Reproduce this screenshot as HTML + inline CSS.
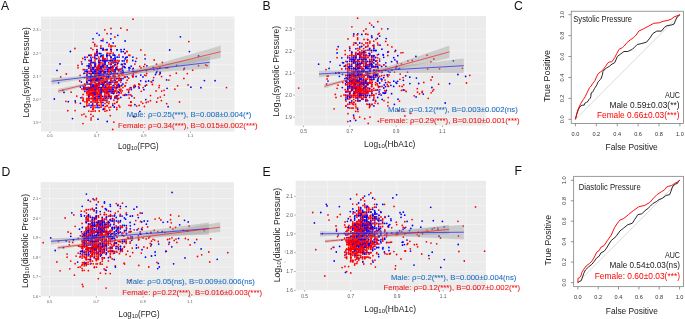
<!DOCTYPE html>
<html><head><meta charset="utf-8"><style>html,body{margin:0;padding:0;background:#fff;width:685px;height:319px;overflow:hidden}svg{display:block;filter:blur(0.35px)}</style></head>
<body>
<svg width="685" height="319" viewBox="0 0 685 319" font-family='"Liberation Sans", sans-serif'>
<rect width="685" height="319" fill="#FFFFFF"/>
<text x="1" y="10" font-size="12.2" fill="#111">A</text>
<text x="262.5" y="10" font-size="12.2" fill="#111">B</text>
<text x="514" y="10" font-size="12.2" fill="#111">C</text>
<text x="1.4" y="176" font-size="12.2" fill="#111">D</text>
<text x="262.6" y="176" font-size="12.2" fill="#111">E</text>
<text x="514.6" y="175" font-size="12.2" fill="#111">F</text>
<rect x="41" y="16.6" width="193.5" height="114.9" fill="#EBEBEB"/>
<line x1="73.4" y1="16.6" x2="73.4" y2="131.5" stroke="#F7F7F7" stroke-width="0.6"/>
<line x1="120.2" y1="16.6" x2="120.2" y2="131.5" stroke="#F7F7F7" stroke-width="0.6"/>
<line x1="167.0" y1="16.6" x2="167.0" y2="131.5" stroke="#F7F7F7" stroke-width="0.6"/>
<line x1="213.8" y1="16.6" x2="213.8" y2="131.5" stroke="#F7F7F7" stroke-width="0.6"/>
<line x1="41" y1="18.5" x2="234.5" y2="18.5" stroke="#F7F7F7" stroke-width="0.6"/>
<line x1="41" y1="41.5" x2="234.5" y2="41.5" stroke="#F7F7F7" stroke-width="0.6"/>
<line x1="41" y1="64.6" x2="234.5" y2="64.6" stroke="#F7F7F7" stroke-width="0.6"/>
<line x1="41" y1="87.6" x2="234.5" y2="87.6" stroke="#F7F7F7" stroke-width="0.6"/>
<line x1="41" y1="110.7" x2="234.5" y2="110.7" stroke="#F7F7F7" stroke-width="0.6"/>
<line x1="50.0" y1="16.6" x2="50.0" y2="131.5" stroke="#F7F7F7" stroke-width="0.7"/>
<line x1="96.8" y1="16.6" x2="96.8" y2="131.5" stroke="#F7F7F7" stroke-width="0.7"/>
<line x1="143.6" y1="16.6" x2="143.6" y2="131.5" stroke="#F7F7F7" stroke-width="0.7"/>
<line x1="190.4" y1="16.6" x2="190.4" y2="131.5" stroke="#F7F7F7" stroke-width="0.7"/>
<line x1="41" y1="30.0" x2="234.5" y2="30.0" stroke="#F7F7F7" stroke-width="0.7"/>
<line x1="41" y1="53.0" x2="234.5" y2="53.0" stroke="#F7F7F7" stroke-width="0.7"/>
<line x1="41" y1="76.1" x2="234.5" y2="76.1" stroke="#F7F7F7" stroke-width="0.7"/>
<line x1="41" y1="99.1" x2="234.5" y2="99.1" stroke="#F7F7F7" stroke-width="0.7"/>
<line x1="41" y1="122.2" x2="234.5" y2="122.2" stroke="#F7F7F7" stroke-width="0.7"/>
<path d="M117.1 87.3h0M117.7 95.6h0M95.2 96.7h0" stroke="#FF0000" stroke-width="1.76" stroke-linecap="round" fill="none"/>
<path d="M116.9 49.8h0" stroke="#0000FF" stroke-width="1.76" stroke-linecap="round" fill="none"/>
<path d="M94.9 64.1h0M98.8 102.3h0" stroke="#FF0000" stroke-width="1.76" stroke-linecap="round" fill="none"/>
<path d="M97.1 93.0h0" stroke="#0000FF" stroke-width="1.76" stroke-linecap="round" fill="none"/>
<path d="M93.1 87.5h0" stroke="#FF0000" stroke-width="1.76" stroke-linecap="round" fill="none"/>
<path d="M89.2 89.3h0M97.2 105.7h0" stroke="#0000FF" stroke-width="1.76" stroke-linecap="round" fill="none"/>
<path d="M113.0 80.6h0M112.8 93.2h0M92.8 73.0h0M99.2 93.0h0M94.9 74.9h0M96.9 71.5h0" stroke="#FF0000" stroke-width="1.76" stroke-linecap="round" fill="none"/>
<path d="M98.9 96.3h0" stroke="#0000FF" stroke-width="1.76" stroke-linecap="round" fill="none"/>
<path d="M90.8 75.3h0M95.1 83.9h0M112.9 46.1h0" stroke="#FF0000" stroke-width="1.76" stroke-linecap="round" fill="none"/>
<path d="M107.0 60.5h0" stroke="#0000FF" stroke-width="1.76" stroke-linecap="round" fill="none"/>
<path d="M102.8 78.8h0M89.2 90.9h0" stroke="#FF0000" stroke-width="1.76" stroke-linecap="round" fill="none"/>
<path d="M145.8 81.5h0" stroke="#0000FF" stroke-width="1.76" stroke-linecap="round" fill="none"/>
<path d="M86.8 98.6h0M131.0 101.9h0M134.9 64.1h0M108.8 94.6h0" stroke="#FF0000" stroke-width="1.76" stroke-linecap="round" fill="none"/>
<path d="M89.0 91.2h0" stroke="#0000FF" stroke-width="1.76" stroke-linecap="round" fill="none"/>
<path d="M115.0 87.4h0" stroke="#FF0000" stroke-width="1.76" stroke-linecap="round" fill="none"/>
<path d="M81.4 82.1h0" stroke="#0000FF" stroke-width="1.76" stroke-linecap="round" fill="none"/>
<path d="M166.0 67.9h0" stroke="#FF0000" stroke-width="1.76" stroke-linecap="round" fill="none"/>
<path d="M97.2 85.9h0" stroke="#0000FF" stroke-width="1.76" stroke-linecap="round" fill="none"/>
<path d="M151.1 81.7h0" stroke="#FF0000" stroke-width="1.76" stroke-linecap="round" fill="none"/>
<path d="M97.0 49.7h0" stroke="#0000FF" stroke-width="1.76" stroke-linecap="round" fill="none"/>
<path d="M92.9 89.6h0M93.1 109.0h0M89.1 100.5h0" stroke="#FF0000" stroke-width="1.76" stroke-linecap="round" fill="none"/>
<path d="M96.9 67.8h0M113.2 62.6h0" stroke="#0000FF" stroke-width="1.76" stroke-linecap="round" fill="none"/>
<path d="M95.1 85.6h0M91.0 80.3h0" stroke="#FF0000" stroke-width="1.76" stroke-linecap="round" fill="none"/>
<path d="M85.8 88.3h0" stroke="#0000FF" stroke-width="1.76" stroke-linecap="round" fill="none"/>
<path d="M99.2 96.6h0" stroke="#FF0000" stroke-width="1.76" stroke-linecap="round" fill="none"/>
<path d="M111.2 49.8h0" stroke="#0000FF" stroke-width="1.76" stroke-linecap="round" fill="none"/>
<path d="M136.6 106.1h0M88.8 91.0h0" stroke="#FF0000" stroke-width="1.76" stroke-linecap="round" fill="none"/>
<path d="M106.9 60.8h0" stroke="#0000FF" stroke-width="1.76" stroke-linecap="round" fill="none"/>
<path d="M87.2 91.3h0M98.8 82.5h0" stroke="#FF0000" stroke-width="1.76" stroke-linecap="round" fill="none"/>
<path d="M99.2 74.7h0M97.1 80.7h0" stroke="#0000FF" stroke-width="1.76" stroke-linecap="round" fill="none"/>
<path d="M99.2 91.3h0M94.9 76.8h0" stroke="#FF0000" stroke-width="1.76" stroke-linecap="round" fill="none"/>
<path d="M58.6 82.8h0" stroke="#0000FF" stroke-width="1.76" stroke-linecap="round" fill="none"/>
<path d="M62.8 90.3h0M106.9 94.9h0" stroke="#FF0000" stroke-width="1.76" stroke-linecap="round" fill="none"/>
<path d="M90.9 85.9h0" stroke="#0000FF" stroke-width="1.76" stroke-linecap="round" fill="none"/>
<path d="M97.2 66.1h0M92.8 89.1h0M105.0 80.2h0M156.5 64.2h0" stroke="#FF0000" stroke-width="1.76" stroke-linecap="round" fill="none"/>
<path d="M90.9 80.2h0" stroke="#0000FF" stroke-width="1.76" stroke-linecap="round" fill="none"/>
<path d="M75.5 102.7h0M109.2 82.3h0M110.8 76.8h0M92.9 91.1h0M111.2 87.5h0" stroke="#FF0000" stroke-width="1.76" stroke-linecap="round" fill="none"/>
<path d="M90.8 89.5h0" stroke="#0000FF" stroke-width="1.76" stroke-linecap="round" fill="none"/>
<path d="M119.0 80.7h0M107.1 93.2h0M102.8 100.3h0M93.1 100.4h0" stroke="#FF0000" stroke-width="1.76" stroke-linecap="round" fill="none"/>
<path d="M90.8 76.7h0M60.0 63.9h0" stroke="#0000FF" stroke-width="1.76" stroke-linecap="round" fill="none"/>
<path d="M125.2 94.5h0M130.8 105.6h0M91.0 69.5h0M87.2 101.7h0M114.3 93.0h0M92.8 73.2h0M109.1 101.8h0M90.8 76.6h0M87.0 105.8h0" stroke="#FF0000" stroke-width="1.76" stroke-linecap="round" fill="none"/>
<path d="M111.1 72.9h0M85.2 85.7h0" stroke="#0000FF" stroke-width="1.76" stroke-linecap="round" fill="none"/>
<path d="M94.8 91.4h0" stroke="#FF0000" stroke-width="1.76" stroke-linecap="round" fill="none"/>
<path d="M103.1 67.6h0" stroke="#0000FF" stroke-width="1.76" stroke-linecap="round" fill="none"/>
<path d="M115.0 73.1h0M205.7 64.9h0" stroke="#FF0000" stroke-width="1.76" stroke-linecap="round" fill="none"/>
<path d="M88.8 68.0h0M106.8 55.2h0M94.9 92.8h0M110.9 89.4h0M95.2 55.1h0" stroke="#0000FF" stroke-width="1.76" stroke-linecap="round" fill="none"/>
<path d="M107.2 73.5h0" stroke="#FF0000" stroke-width="1.76" stroke-linecap="round" fill="none"/>
<path d="M107.2 121.5h0" stroke="#0000FF" stroke-width="1.76" stroke-linecap="round" fill="none"/>
<path d="M91.2 55.2h0M118.7 69.8h0M105.0 59.0h0M124.2 67.2h0M116.1 89.0h0M106.9 75.1h0M126.9 51.4h0" stroke="#FF0000" stroke-width="1.76" stroke-linecap="round" fill="none"/>
<path d="M184.3 68.3h0" stroke="#0000FF" stroke-width="1.76" stroke-linecap="round" fill="none"/>
<path d="M101.2 87.6h0M111.0 46.0h0M93.2 96.5h0" stroke="#FF0000" stroke-width="1.76" stroke-linecap="round" fill="none"/>
<path d="M91.0 80.4h0" stroke="#0000FF" stroke-width="1.76" stroke-linecap="round" fill="none"/>
<path d="M192.7 70.2h0" stroke="#FF0000" stroke-width="1.76" stroke-linecap="round" fill="none"/>
<path d="M105.0 64.3h0" stroke="#0000FF" stroke-width="1.76" stroke-linecap="round" fill="none"/>
<path d="M112.8 85.8h0" stroke="#FF0000" stroke-width="1.76" stroke-linecap="round" fill="none"/>
<path d="M104.9 73.3h0" stroke="#0000FF" stroke-width="1.76" stroke-linecap="round" fill="none"/>
<path d="M88.9 94.8h0M99.0 62.5h0M95.0 101.9h0M118.6 61.6h0M86.9 92.9h0" stroke="#FF0000" stroke-width="1.76" stroke-linecap="round" fill="none"/>
<path d="M100.8 98.6h0" stroke="#0000FF" stroke-width="1.76" stroke-linecap="round" fill="none"/>
<path d="M91.1 111.3h0" stroke="#FF0000" stroke-width="1.76" stroke-linecap="round" fill="none"/>
<path d="M124.1 60.9h0" stroke="#0000FF" stroke-width="1.76" stroke-linecap="round" fill="none"/>
<path d="M99.2 75.1h0M98.8 74.9h0" stroke="#FF0000" stroke-width="1.76" stroke-linecap="round" fill="none"/>
<path d="M91.1 92.9h0" stroke="#0000FF" stroke-width="1.76" stroke-linecap="round" fill="none"/>
<path d="M118.9 105.4h0M117.3 69.3h0" stroke="#FF0000" stroke-width="1.76" stroke-linecap="round" fill="none"/>
<path d="M107.0 55.4h0" stroke="#0000FF" stroke-width="1.76" stroke-linecap="round" fill="none"/>
<path d="M109.1 85.9h0M74.9 48.5h0M110.9 46.0h0M108.6 78.7h0" stroke="#FF0000" stroke-width="1.76" stroke-linecap="round" fill="none"/>
<path d="M123.2 51.6h0M99.1 73.3h0M115.2 82.2h0M111.2 78.6h0M99.2 94.7h0M75.2 101.0h0M119.1 87.3h0" stroke="#0000FF" stroke-width="1.76" stroke-linecap="round" fill="none"/>
<path d="M121.0 85.9h0M91.2 89.1h0" stroke="#FF0000" stroke-width="1.76" stroke-linecap="round" fill="none"/>
<path d="M169.7 50.0h0M106.9 87.5h0" stroke="#0000FF" stroke-width="1.76" stroke-linecap="round" fill="none"/>
<path d="M146.7 73.5h0" stroke="#FF0000" stroke-width="1.76" stroke-linecap="round" fill="none"/>
<path d="M94.9 82.2h0M122.7 70.2h0" stroke="#0000FF" stroke-width="1.76" stroke-linecap="round" fill="none"/>
<path d="M121.0 79.9h0M96.8 85.9h0M97.0 84.1h0M128.7 90.9h0" stroke="#FF0000" stroke-width="1.76" stroke-linecap="round" fill="none"/>
<path d="M113.0 87.4h0" stroke="#0000FF" stroke-width="1.76" stroke-linecap="round" fill="none"/>
<path d="M97.0 73.3h0" stroke="#FF0000" stroke-width="1.76" stroke-linecap="round" fill="none"/>
<path d="M89.1 93.1h0" stroke="#0000FF" stroke-width="1.76" stroke-linecap="round" fill="none"/>
<path d="M105.0 84.3h0M148.1 101.8h0" stroke="#FF0000" stroke-width="1.76" stroke-linecap="round" fill="none"/>
<path d="M148.6 81.0h0M111.1 73.3h0M80.9 97.8h0M100.8 74.8h0M103.0 55.2h0M189.4 51.6h0M121.4 64.4h0" stroke="#0000FF" stroke-width="1.76" stroke-linecap="round" fill="none"/>
<path d="M88.9 94.5h0" stroke="#FF0000" stroke-width="1.76" stroke-linecap="round" fill="none"/>
<path d="M101.0 93.1h0" stroke="#0000FF" stroke-width="1.76" stroke-linecap="round" fill="none"/>
<path d="M110.3 74.5h0M118.8 71.2h0M100.8 67.9h0M127.1 89.6h0" stroke="#FF0000" stroke-width="1.76" stroke-linecap="round" fill="none"/>
<path d="M131.2 66.2h0M97.0 51.9h0" stroke="#0000FF" stroke-width="1.76" stroke-linecap="round" fill="none"/>
<path d="M95.2 85.6h0" stroke="#FF0000" stroke-width="1.76" stroke-linecap="round" fill="none"/>
<path d="M96.8 89.7h0" stroke="#0000FF" stroke-width="1.76" stroke-linecap="round" fill="none"/>
<path d="M97.2 98.1h0M76.8 96.1h0M104.9 87.8h0" stroke="#FF0000" stroke-width="1.76" stroke-linecap="round" fill="none"/>
<path d="M90.9 57.1h0" stroke="#0000FF" stroke-width="1.76" stroke-linecap="round" fill="none"/>
<path d="M146.6 85.0h0M161.7 91.1h0" stroke="#FF0000" stroke-width="1.76" stroke-linecap="round" fill="none"/>
<path d="M84.9 91.4h0M87.0 89.6h0M103.2 78.9h0M95.1 66.2h0" stroke="#0000FF" stroke-width="1.76" stroke-linecap="round" fill="none"/>
<path d="M92.9 57.3h0M106.9 77.0h0" stroke="#FF0000" stroke-width="1.76" stroke-linecap="round" fill="none"/>
<path d="M84.9 57.2h0" stroke="#0000FF" stroke-width="1.76" stroke-linecap="round" fill="none"/>
<path d="M112.8 92.9h0" stroke="#FF0000" stroke-width="1.76" stroke-linecap="round" fill="none"/>
<path d="M132.9 57.2h0" stroke="#0000FF" stroke-width="1.76" stroke-linecap="round" fill="none"/>
<path d="M113.0 89.7h0M120.5 69.1h0M93.0 78.8h0" stroke="#FF0000" stroke-width="1.76" stroke-linecap="round" fill="none"/>
<path d="M140.8 75.1h0" stroke="#0000FF" stroke-width="1.76" stroke-linecap="round" fill="none"/>
<path d="M130.9 101.8h0" stroke="#FF0000" stroke-width="1.76" stroke-linecap="round" fill="none"/>
<path d="M100.8 87.7h0" stroke="#0000FF" stroke-width="1.76" stroke-linecap="round" fill="none"/>
<path d="M105.1 91.4h0M92.9 49.6h0" stroke="#FF0000" stroke-width="1.76" stroke-linecap="round" fill="none"/>
<path d="M107.1 66.1h0" stroke="#0000FF" stroke-width="1.76" stroke-linecap="round" fill="none"/>
<path d="M93.0 94.9h0" stroke="#FF0000" stroke-width="1.76" stroke-linecap="round" fill="none"/>
<path d="M88.9 98.6h0" stroke="#0000FF" stroke-width="1.76" stroke-linecap="round" fill="none"/>
<path d="M157.8 98.1h0M113.2 53.2h0M92.8 95.1h0" stroke="#FF0000" stroke-width="1.76" stroke-linecap="round" fill="none"/>
<path d="M82.0 64.0h0" stroke="#0000FF" stroke-width="1.76" stroke-linecap="round" fill="none"/>
<path d="M132.3 75.7h0M90.9 84.0h0M122.2 74.2h0" stroke="#FF0000" stroke-width="1.76" stroke-linecap="round" fill="none"/>
<path d="M101.0 78.4h0M104.9 91.4h0" stroke="#0000FF" stroke-width="1.76" stroke-linecap="round" fill="none"/>
<path d="M95.7 64.0h0M107.1 91.4h0M107.1 105.8h0M109.6 110.0h0" stroke="#FF0000" stroke-width="1.76" stroke-linecap="round" fill="none"/>
<path d="M85.0 87.6h0" stroke="#0000FF" stroke-width="1.76" stroke-linecap="round" fill="none"/>
<path d="M98.8 91.2h0M106.9 78.5h0" stroke="#FF0000" stroke-width="1.76" stroke-linecap="round" fill="none"/>
<path d="M139.1 88.0h0" stroke="#0000FF" stroke-width="1.76" stroke-linecap="round" fill="none"/>
<path d="M159.3 85.6h0" stroke="#FF0000" stroke-width="1.76" stroke-linecap="round" fill="none"/>
<path d="M134.0 87.6h0" stroke="#0000FF" stroke-width="1.76" stroke-linecap="round" fill="none"/>
<path d="M104.8 95.1h0M97.0 75.0h0M99.0 94.9h0M103.7 75.0h0M116.8 82.0h0M95.0 85.8h0M116.9 78.6h0" stroke="#FF0000" stroke-width="1.76" stroke-linecap="round" fill="none"/>
<path d="M108.8 76.7h0" stroke="#0000FF" stroke-width="1.76" stroke-linecap="round" fill="none"/>
<path d="M108.9 87.4h0M107.0 105.7h0" stroke="#FF0000" stroke-width="1.76" stroke-linecap="round" fill="none"/>
<path d="M87.2 89.2h0" stroke="#0000FF" stroke-width="1.76" stroke-linecap="round" fill="none"/>
<path d="M89.0 91.5h0M109.1 74.7h0M91.2 98.7h0M154.2 60.0h0" stroke="#FF0000" stroke-width="1.76" stroke-linecap="round" fill="none"/>
<path d="M103.1 105.4h0M93.0 84.3h0" stroke="#0000FF" stroke-width="1.76" stroke-linecap="round" fill="none"/>
<path d="M78.0 65.5h0" stroke="#FF0000" stroke-width="1.76" stroke-linecap="round" fill="none"/>
<path d="M93.2 78.5h0" stroke="#0000FF" stroke-width="1.76" stroke-linecap="round" fill="none"/>
<path d="M93.1 42.3h0" stroke="#FF0000" stroke-width="1.76" stroke-linecap="round" fill="none"/>
<path d="M125.0 76.8h0" stroke="#0000FF" stroke-width="1.76" stroke-linecap="round" fill="none"/>
<path d="M101.2 89.2h0" stroke="#FF0000" stroke-width="1.76" stroke-linecap="round" fill="none"/>
<path d="M115.0 76.5h0" stroke="#0000FF" stroke-width="1.76" stroke-linecap="round" fill="none"/>
<path d="M97.0 87.5h0" stroke="#FF0000" stroke-width="1.76" stroke-linecap="round" fill="none"/>
<path d="M125.1 67.7h0" stroke="#0000FF" stroke-width="1.76" stroke-linecap="round" fill="none"/>
<path d="M134.3 97.9h0" stroke="#FF0000" stroke-width="1.76" stroke-linecap="round" fill="none"/>
<path d="M119.3 92.8h0" stroke="#0000FF" stroke-width="1.76" stroke-linecap="round" fill="none"/>
<path d="M84.8 69.6h0M99.2 91.2h0M81.8 114.8h0M115.1 64.5h0M98.9 89.7h0M101.2 77.0h0M91.1 78.8h0" stroke="#FF0000" stroke-width="1.76" stroke-linecap="round" fill="none"/>
<path d="M103.2 91.3h0" stroke="#0000FF" stroke-width="1.76" stroke-linecap="round" fill="none"/>
<path d="M87.5 72.4h0M116.8 93.0h0M103.1 82.5h0M110.9 82.1h0M97.1 55.2h0" stroke="#FF0000" stroke-width="1.76" stroke-linecap="round" fill="none"/>
<path d="M112.5 66.3h0" stroke="#0000FF" stroke-width="1.76" stroke-linecap="round" fill="none"/>
<path d="M93.0 95.1h0M114.9 74.9h0M92.8 109.2h0" stroke="#FF0000" stroke-width="1.76" stroke-linecap="round" fill="none"/>
<path d="M100.8 78.8h0" stroke="#0000FF" stroke-width="1.76" stroke-linecap="round" fill="none"/>
<path d="M85.1 89.1h0M99.2 100.1h0M97.2 89.1h0" stroke="#FF0000" stroke-width="1.76" stroke-linecap="round" fill="none"/>
<path d="M99.2 85.6h0" stroke="#0000FF" stroke-width="1.76" stroke-linecap="round" fill="none"/>
<path d="M105.1 67.5h0M99.0 76.7h0M105.2 106.6h0M79.7 81.0h0M120.9 91.0h0M107.2 53.7h0M78.0 67.8h0" stroke="#FF0000" stroke-width="1.76" stroke-linecap="round" fill="none"/>
<path d="M109.2 55.2h0" stroke="#0000FF" stroke-width="1.76" stroke-linecap="round" fill="none"/>
<path d="M101.2 105.9h0M109.2 71.6h0M130.8 94.9h0M146.0 75.6h0M107.5 70.9h0M139.7 66.3h0" stroke="#FF0000" stroke-width="1.76" stroke-linecap="round" fill="none"/>
<path d="M107.0 67.8h0" stroke="#0000FF" stroke-width="1.76" stroke-linecap="round" fill="none"/>
<path d="M83.2 69.7h0M188.1 84.9h0M108.9 91.6h0M95.2 100.2h0M89.0 89.7h0M95.2 102.0h0M100.8 88.1h0M95.1 93.2h0" stroke="#FF0000" stroke-width="1.76" stroke-linecap="round" fill="none"/>
<path d="M91.2 62.3h0M95.0 58.7h0M101.2 71.3h0M98.9 69.5h0M102.8 96.4h0" stroke="#0000FF" stroke-width="1.76" stroke-linecap="round" fill="none"/>
<path d="M109.1 73.0h0M87.2 78.4h0M92.9 87.4h0" stroke="#FF0000" stroke-width="1.76" stroke-linecap="round" fill="none"/>
<path d="M107.2 87.8h0" stroke="#0000FF" stroke-width="1.76" stroke-linecap="round" fill="none"/>
<path d="M97.2 98.6h0M91.2 60.8h0M101.1 100.2h0" stroke="#FF0000" stroke-width="1.76" stroke-linecap="round" fill="none"/>
<path d="M121.0 71.5h0" stroke="#0000FF" stroke-width="1.76" stroke-linecap="round" fill="none"/>
<path d="M90.8 89.5h0M114.1 91.5h0" stroke="#FF0000" stroke-width="1.76" stroke-linecap="round" fill="none"/>
<path d="M91.1 89.7h0" stroke="#0000FF" stroke-width="1.76" stroke-linecap="round" fill="none"/>
<path d="M84.9 73.1h0M110.8 53.3h0M84.8 83.8h0" stroke="#FF0000" stroke-width="1.76" stroke-linecap="round" fill="none"/>
<path d="M104.8 60.8h0M103.8 72.9h0M135.6 61.4h0" stroke="#0000FF" stroke-width="1.76" stroke-linecap="round" fill="none"/>
<path d="M95.0 71.1h0" stroke="#FF0000" stroke-width="1.76" stroke-linecap="round" fill="none"/>
<path d="M90.9 60.6h0M95.2 71.2h0M107.2 84.1h0" stroke="#0000FF" stroke-width="1.76" stroke-linecap="round" fill="none"/>
<path d="M91.2 65.7h0" stroke="#FF0000" stroke-width="1.76" stroke-linecap="round" fill="none"/>
<path d="M110.8 68.0h0" stroke="#0000FF" stroke-width="1.76" stroke-linecap="round" fill="none"/>
<path d="M99.1 60.7h0" stroke="#FF0000" stroke-width="1.76" stroke-linecap="round" fill="none"/>
<path d="M88.8 65.8h0M103.3 91.2h0" stroke="#0000FF" stroke-width="1.76" stroke-linecap="round" fill="none"/>
<path d="M114.3 76.5h0" stroke="#FF0000" stroke-width="1.76" stroke-linecap="round" fill="none"/>
<path d="M101.2 69.3h0" stroke="#0000FF" stroke-width="1.76" stroke-linecap="round" fill="none"/>
<path d="M84.0 114.1h0M90.8 89.6h0M93.2 93.2h0M97.0 76.7h0M105.0 85.6h0M89.2 94.6h0" stroke="#FF0000" stroke-width="1.76" stroke-linecap="round" fill="none"/>
<path d="M91.1 80.4h0" stroke="#0000FF" stroke-width="1.76" stroke-linecap="round" fill="none"/>
<path d="M121.0 69.5h0M105.0 62.3h0" stroke="#FF0000" stroke-width="1.76" stroke-linecap="round" fill="none"/>
<path d="M98.9 62.4h0" stroke="#0000FF" stroke-width="1.76" stroke-linecap="round" fill="none"/>
<path d="M105.1 92.9h0M88.8 98.4h0" stroke="#FF0000" stroke-width="1.76" stroke-linecap="round" fill="none"/>
<path d="M85.0 89.3h0" stroke="#0000FF" stroke-width="1.76" stroke-linecap="round" fill="none"/>
<path d="M133.5 71.5h0M87.1 76.7h0M96.9 89.5h0M99.1 58.9h0M99.1 75.0h0M129.0 105.3h0M93.0 111.2h0M88.8 55.3h0M93.2 100.3h0M111.2 87.5h0M105.0 103.6h0M132.9 76.9h0M118.6 69.9h0M138.8 84.0h0M95.2 89.3h0M91.0 69.7h0M118.1 85.3h0" stroke="#FF0000" stroke-width="1.76" stroke-linecap="round" fill="none"/>
<path d="M113.2 73.4h0M99.0 98.5h0" stroke="#0000FF" stroke-width="1.76" stroke-linecap="round" fill="none"/>
<path d="M113.9 65.9h0" stroke="#FF0000" stroke-width="1.76" stroke-linecap="round" fill="none"/>
<path d="M106.9 93.1h0M91.2 83.7h0" stroke="#0000FF" stroke-width="1.76" stroke-linecap="round" fill="none"/>
<path d="M92.8 105.8h0" stroke="#FF0000" stroke-width="1.76" stroke-linecap="round" fill="none"/>
<path d="M101.0 66.2h0" stroke="#0000FF" stroke-width="1.76" stroke-linecap="round" fill="none"/>
<path d="M95.2 100.0h0M109.0 94.8h0" stroke="#FF0000" stroke-width="1.76" stroke-linecap="round" fill="none"/>
<path d="M89.0 77.0h0M143.9 89.7h0" stroke="#0000FF" stroke-width="1.76" stroke-linecap="round" fill="none"/>
<path d="M111.0 58.9h0M95.1 87.5h0" stroke="#FF0000" stroke-width="1.76" stroke-linecap="round" fill="none"/>
<path d="M93.0 71.6h0" stroke="#0000FF" stroke-width="1.76" stroke-linecap="round" fill="none"/>
<path d="M125.0 85.9h0" stroke="#FF0000" stroke-width="1.76" stroke-linecap="round" fill="none"/>
<path d="M87.1 87.6h0M101.1 75.1h0" stroke="#0000FF" stroke-width="1.76" stroke-linecap="round" fill="none"/>
<path d="M160.3 67.8h0" stroke="#FF0000" stroke-width="1.76" stroke-linecap="round" fill="none"/>
<path d="M114.8 78.3h0" stroke="#0000FF" stroke-width="1.76" stroke-linecap="round" fill="none"/>
<path d="M103.1 57.1h0M116.8 107.6h0M111.1 87.8h0M106.8 50.0h0" stroke="#FF0000" stroke-width="1.76" stroke-linecap="round" fill="none"/>
<path d="M102.8 83.9h0" stroke="#0000FF" stroke-width="1.76" stroke-linecap="round" fill="none"/>
<path d="M114.7 79.8h0" stroke="#FF0000" stroke-width="1.76" stroke-linecap="round" fill="none"/>
<path d="M110.8 38.8h0M153.1 80.4h0" stroke="#0000FF" stroke-width="1.76" stroke-linecap="round" fill="none"/>
<path d="M103.0 62.1h0" stroke="#FF0000" stroke-width="1.76" stroke-linecap="round" fill="none"/>
<path d="M105.0 89.4h0" stroke="#0000FF" stroke-width="1.76" stroke-linecap="round" fill="none"/>
<path d="M94.8 98.5h0M93.1 62.5h0M142.8 103.3h0M115.1 91.3h0M95.1 76.7h0M99.2 98.5h0M89.2 95.0h0M89.1 78.4h0" stroke="#FF0000" stroke-width="1.76" stroke-linecap="round" fill="none"/>
<path d="M105.5 86.4h0M115.5 97.5h0" stroke="#0000FF" stroke-width="1.76" stroke-linecap="round" fill="none"/>
<path d="M94.8 45.9h0M92.8 89.5h0M91.2 81.9h0M91.2 82.0h0M106.9 87.7h0M109.0 71.3h0M102.8 49.8h0M110.8 96.3h0M119.0 75.3h0" stroke="#FF0000" stroke-width="1.76" stroke-linecap="round" fill="none"/>
<path d="M115.0 62.3h0M80.4 87.0h0M106.9 80.6h0M104.8 60.6h0" stroke="#0000FF" stroke-width="1.76" stroke-linecap="round" fill="none"/>
<path d="M103.0 59.0h0" stroke="#FF0000" stroke-width="1.76" stroke-linecap="round" fill="none"/>
<path d="M90.8 64.0h0" stroke="#0000FF" stroke-width="1.76" stroke-linecap="round" fill="none"/>
<path d="M112.8 67.6h0" stroke="#FF0000" stroke-width="1.76" stroke-linecap="round" fill="none"/>
<path d="M98.8 78.5h0M105.0 71.6h0" stroke="#0000FF" stroke-width="1.76" stroke-linecap="round" fill="none"/>
<path d="M91.2 89.7h0M96.8 83.8h0M99.2 80.2h0" stroke="#FF0000" stroke-width="1.76" stroke-linecap="round" fill="none"/>
<path d="M99.2 64.2h0M89.2 60.5h0" stroke="#0000FF" stroke-width="1.76" stroke-linecap="round" fill="none"/>
<path d="M89.1 60.6h0M89.0 96.5h0M96.9 87.6h0M89.1 100.2h0" stroke="#FF0000" stroke-width="1.76" stroke-linecap="round" fill="none"/>
<path d="M86.9 69.8h0" stroke="#0000FF" stroke-width="1.76" stroke-linecap="round" fill="none"/>
<path d="M113.8 122.2h0M102.9 100.1h0M93.0 89.3h0" stroke="#FF0000" stroke-width="1.76" stroke-linecap="round" fill="none"/>
<path d="M103.1 60.4h0M105.2 98.3h0M130.0 68.1h0" stroke="#0000FF" stroke-width="1.76" stroke-linecap="round" fill="none"/>
<path d="M139.2 105.4h0" stroke="#FF0000" stroke-width="1.76" stroke-linecap="round" fill="none"/>
<path d="M57.0 70.4h0M115.2 69.7h0M113.0 55.1h0M114.7 87.4h0M104.9 69.5h0" stroke="#0000FF" stroke-width="1.76" stroke-linecap="round" fill="none"/>
<path d="M102.8 85.7h0" stroke="#FF0000" stroke-width="1.76" stroke-linecap="round" fill="none"/>
<path d="M101.2 40.6h0M103.2 49.5h0" stroke="#0000FF" stroke-width="1.76" stroke-linecap="round" fill="none"/>
<path d="M99.2 87.7h0M83.2 98.2h0" stroke="#FF0000" stroke-width="1.76" stroke-linecap="round" fill="none"/>
<path d="M125.1 41.0h0M92.8 76.9h0" stroke="#0000FF" stroke-width="1.76" stroke-linecap="round" fill="none"/>
<path d="M93.1 116.2h0" stroke="#FF0000" stroke-width="1.76" stroke-linecap="round" fill="none"/>
<path d="M98.8 60.7h0M143.0 76.9h0" stroke="#0000FF" stroke-width="1.76" stroke-linecap="round" fill="none"/>
<path d="M104.8 93.0h0M108.8 75.2h0M109.2 96.8h0M103.0 76.8h0" stroke="#FF0000" stroke-width="1.76" stroke-linecap="round" fill="none"/>
<path d="M114.8 98.1h0" stroke="#0000FF" stroke-width="1.76" stroke-linecap="round" fill="none"/>
<path d="M91.2 98.2h0" stroke="#FF0000" stroke-width="1.76" stroke-linecap="round" fill="none"/>
<path d="M95.1 69.7h0M106.9 78.5h0" stroke="#0000FF" stroke-width="1.76" stroke-linecap="round" fill="none"/>
<path d="M90.8 82.4h0M97.1 83.9h0M91.1 89.6h0" stroke="#FF0000" stroke-width="1.76" stroke-linecap="round" fill="none"/>
<path d="M89.2 66.3h0M110.8 71.3h0" stroke="#0000FF" stroke-width="1.76" stroke-linecap="round" fill="none"/>
<path d="M95.2 91.2h0" stroke="#FF0000" stroke-width="1.76" stroke-linecap="round" fill="none"/>
<path d="M99.0 65.8h0" stroke="#0000FF" stroke-width="1.76" stroke-linecap="round" fill="none"/>
<path d="M112.0 60.5h0M75.1 110.6h0" stroke="#FF0000" stroke-width="1.76" stroke-linecap="round" fill="none"/>
<path d="M85.1 59.5h0" stroke="#0000FF" stroke-width="1.76" stroke-linecap="round" fill="none"/>
<path d="M103.1 84.0h0M94.9 94.8h0M112.1 70.6h0" stroke="#FF0000" stroke-width="1.76" stroke-linecap="round" fill="none"/>
<path d="M70.4 51.5h0" stroke="#0000FF" stroke-width="1.76" stroke-linecap="round" fill="none"/>
<path d="M118.8 94.9h0M123.4 73.6h0M116.1 87.9h0M92.8 96.7h0" stroke="#FF0000" stroke-width="1.76" stroke-linecap="round" fill="none"/>
<path d="M89.2 73.4h0" stroke="#0000FF" stroke-width="1.76" stroke-linecap="round" fill="none"/>
<path d="M99.2 78.8h0" stroke="#FF0000" stroke-width="1.76" stroke-linecap="round" fill="none"/>
<path d="M117.1 98.6h0M83.2 86.1h0" stroke="#0000FF" stroke-width="1.76" stroke-linecap="round" fill="none"/>
<path d="M110.9 60.8h0M108.5 70.1h0M93.1 69.7h0" stroke="#FF0000" stroke-width="1.76" stroke-linecap="round" fill="none"/>
<path d="M109.1 67.6h0M139.9 111.4h0M94.9 78.5h0" stroke="#0000FF" stroke-width="1.76" stroke-linecap="round" fill="none"/>
<path d="M95.2 85.7h0" stroke="#FF0000" stroke-width="1.76" stroke-linecap="round" fill="none"/>
<path d="M92.8 73.0h0M99.0 83.9h0" stroke="#0000FF" stroke-width="1.76" stroke-linecap="round" fill="none"/>
<path d="M91.0 48.2h0M117.7 99.6h0M91.0 71.1h0M93.2 94.8h0" stroke="#FF0000" stroke-width="1.76" stroke-linecap="round" fill="none"/>
<path d="M95.0 71.7h0" stroke="#0000FF" stroke-width="1.76" stroke-linecap="round" fill="none"/>
<path d="M91.0 119.9h0" stroke="#FF0000" stroke-width="1.76" stroke-linecap="round" fill="none"/>
<path d="M108.8 77.0h0" stroke="#0000FF" stroke-width="1.76" stroke-linecap="round" fill="none"/>
<path d="M91.0 66.0h0M105.0 111.2h0M108.8 87.4h0M104.1 108.4h0M96.8 78.3h0" stroke="#FF0000" stroke-width="1.76" stroke-linecap="round" fill="none"/>
<path d="M104.9 76.5h0M160.2 73.2h0M99.2 82.1h0" stroke="#0000FF" stroke-width="1.76" stroke-linecap="round" fill="none"/>
<path d="M100.9 95.0h0" stroke="#FF0000" stroke-width="1.76" stroke-linecap="round" fill="none"/>
<path d="M125.2 64.1h0" stroke="#0000FF" stroke-width="1.76" stroke-linecap="round" fill="none"/>
<path d="M179.5 102.0h0M87.0 105.7h0" stroke="#FF0000" stroke-width="1.76" stroke-linecap="round" fill="none"/>
<path d="M107.0 42.6h0" stroke="#0000FF" stroke-width="1.76" stroke-linecap="round" fill="none"/>
<path d="M92.8 82.0h0" stroke="#FF0000" stroke-width="1.76" stroke-linecap="round" fill="none"/>
<path d="M145.1 58.8h0" stroke="#0000FF" stroke-width="1.76" stroke-linecap="round" fill="none"/>
<path d="M183.8 69.6h0M114.8 87.5h0" stroke="#FF0000" stroke-width="1.76" stroke-linecap="round" fill="none"/>
<path d="M103.2 84.2h0M94.8 98.1h0" stroke="#0000FF" stroke-width="1.76" stroke-linecap="round" fill="none"/>
<path d="M101.0 73.4h0M104.9 58.7h0" stroke="#FF0000" stroke-width="1.76" stroke-linecap="round" fill="none"/>
<path d="M110.8 60.7h0M112.8 60.6h0" stroke="#0000FF" stroke-width="1.76" stroke-linecap="round" fill="none"/>
<path d="M95.2 98.3h0M207.0 65.7h0M105.2 62.3h0M86.8 92.7h0M92.9 87.6h0M117.2 64.2h0M87.2 91.1h0M94.8 87.5h0M96.8 87.8h0" stroke="#FF0000" stroke-width="1.76" stroke-linecap="round" fill="none"/>
<path d="M103.0 58.5h0" stroke="#0000FF" stroke-width="1.76" stroke-linecap="round" fill="none"/>
<path d="M107.0 102.3h0" stroke="#FF0000" stroke-width="1.76" stroke-linecap="round" fill="none"/>
<path d="M97.1 107.4h0" stroke="#0000FF" stroke-width="1.76" stroke-linecap="round" fill="none"/>
<path d="M91.0 82.0h0M166.7 103.7h0" stroke="#FF0000" stroke-width="1.76" stroke-linecap="round" fill="none"/>
<path d="M92.8 78.4h0" stroke="#0000FF" stroke-width="1.76" stroke-linecap="round" fill="none"/>
<path d="M102.8 80.4h0M116.9 90.9h0" stroke="#FF0000" stroke-width="1.76" stroke-linecap="round" fill="none"/>
<path d="M94.8 71.5h0" stroke="#0000FF" stroke-width="1.76" stroke-linecap="round" fill="none"/>
<path d="M144.8 64.4h0M96.9 87.5h0M92.9 94.9h0" stroke="#FF0000" stroke-width="1.76" stroke-linecap="round" fill="none"/>
<path d="M102.9 89.3h0" stroke="#0000FF" stroke-width="1.76" stroke-linecap="round" fill="none"/>
<path d="M89.0 55.3h0M94.8 81.9h0" stroke="#FF0000" stroke-width="1.76" stroke-linecap="round" fill="none"/>
<path d="M94.8 93.1h0" stroke="#0000FF" stroke-width="1.76" stroke-linecap="round" fill="none"/>
<path d="M111.0 78.3h0M198.5 65.7h0M132.6 69.3h0" stroke="#FF0000" stroke-width="1.76" stroke-linecap="round" fill="none"/>
<path d="M91.2 71.2h0" stroke="#0000FF" stroke-width="1.76" stroke-linecap="round" fill="none"/>
<path d="M114.8 96.9h0M98.9 82.5h0M159.5 74.4h0M101.0 77.0h0" stroke="#FF0000" stroke-width="1.76" stroke-linecap="round" fill="none"/>
<path d="M102.8 64.4h0M125.2 53.1h0M121.2 80.2h0" stroke="#0000FF" stroke-width="1.76" stroke-linecap="round" fill="none"/>
<path d="M94.8 98.5h0" stroke="#FF0000" stroke-width="1.76" stroke-linecap="round" fill="none"/>
<path d="M112.8 105.4h0" stroke="#0000FF" stroke-width="1.76" stroke-linecap="round" fill="none"/>
<path d="M104.9 73.4h0" stroke="#FF0000" stroke-width="1.76" stroke-linecap="round" fill="none"/>
<path d="M106.6 97.3h0" stroke="#0000FF" stroke-width="1.76" stroke-linecap="round" fill="none"/>
<path d="M118.8 78.5h0" stroke="#FF0000" stroke-width="1.76" stroke-linecap="round" fill="none"/>
<path d="M96.8 78.5h0M98.8 69.8h0" stroke="#0000FF" stroke-width="1.76" stroke-linecap="round" fill="none"/>
<path d="M87.0 93.1h0M108.8 87.8h0" stroke="#FF0000" stroke-width="1.76" stroke-linecap="round" fill="none"/>
<path d="M111.2 92.9h0M98.8 80.4h0" stroke="#0000FF" stroke-width="1.76" stroke-linecap="round" fill="none"/>
<path d="M160.3 97.1h0M108.8 103.6h0" stroke="#FF0000" stroke-width="1.76" stroke-linecap="round" fill="none"/>
<path d="M107.2 73.3h0M118.3 92.0h0M105.0 62.4h0M100.8 72.9h0" stroke="#0000FF" stroke-width="1.76" stroke-linecap="round" fill="none"/>
<path d="M117.1 73.5h0M82.8 58.4h0M116.8 102.3h0M114.8 82.3h0M110.9 87.3h0" stroke="#FF0000" stroke-width="1.76" stroke-linecap="round" fill="none"/>
<path d="M97.1 96.6h0" stroke="#0000FF" stroke-width="1.76" stroke-linecap="round" fill="none"/>
<path d="M127.1 80.2h0" stroke="#FF0000" stroke-width="1.76" stroke-linecap="round" fill="none"/>
<path d="M107.0 56.8h0" stroke="#0000FF" stroke-width="1.76" stroke-linecap="round" fill="none"/>
<path d="M105.2 96.5h0M130.8 102.2h0M83.8 87.3h0" stroke="#FF0000" stroke-width="1.76" stroke-linecap="round" fill="none"/>
<path d="M99.0 80.1h0M99.0 82.2h0M200.9 87.7h0M105.0 64.0h0M101.0 94.9h0" stroke="#0000FF" stroke-width="1.76" stroke-linecap="round" fill="none"/>
<path d="M111.1 87.5h0" stroke="#FF0000" stroke-width="1.76" stroke-linecap="round" fill="none"/>
<path d="M99.1 62.4h0" stroke="#0000FF" stroke-width="1.76" stroke-linecap="round" fill="none"/>
<path d="M111.0 84.2h0M95.1 107.5h0M119.0 55.0h0M102.9 100.0h0" stroke="#FF0000" stroke-width="1.76" stroke-linecap="round" fill="none"/>
<path d="M122.9 84.0h0M102.9 102.4h0" stroke="#0000FF" stroke-width="1.76" stroke-linecap="round" fill="none"/>
<path d="M98.8 75.0h0M109.0 71.5h0" stroke="#FF0000" stroke-width="1.76" stroke-linecap="round" fill="none"/>
<path d="M91.0 93.3h0" stroke="#0000FF" stroke-width="1.76" stroke-linecap="round" fill="none"/>
<path d="M119.0 80.2h0M113.0 69.9h0" stroke="#FF0000" stroke-width="1.76" stroke-linecap="round" fill="none"/>
<path d="M93.0 62.7h0M94.8 55.2h0M127.2 76.8h0" stroke="#0000FF" stroke-width="1.76" stroke-linecap="round" fill="none"/>
<path d="M93.1 92.9h0M94.9 65.9h0M83.1 100.5h0M95.2 111.0h0M102.9 78.4h0M97.1 53.3h0M99.1 91.1h0" stroke="#FF0000" stroke-width="1.76" stroke-linecap="round" fill="none"/>
<path d="M102.8 82.3h0" stroke="#0000FF" stroke-width="1.76" stroke-linecap="round" fill="none"/>
<path d="M93.1 96.5h0" stroke="#FF0000" stroke-width="1.76" stroke-linecap="round" fill="none"/>
<path d="M113.2 58.9h0" stroke="#0000FF" stroke-width="1.76" stroke-linecap="round" fill="none"/>
<path d="M89.0 71.5h0M94.9 55.2h0" stroke="#FF0000" stroke-width="1.76" stroke-linecap="round" fill="none"/>
<path d="M198.6 55.9h0" stroke="#0000FF" stroke-width="1.76" stroke-linecap="round" fill="none"/>
<path d="M105.2 91.4h0M93.2 68.0h0M95.1 94.7h0M135.0 116.8h0M120.9 89.2h0M105.2 49.9h0" stroke="#FF0000" stroke-width="1.76" stroke-linecap="round" fill="none"/>
<path d="M95.0 64.4h0" stroke="#0000FF" stroke-width="1.76" stroke-linecap="round" fill="none"/>
<path d="M88.9 89.1h0M110.8 91.3h0" stroke="#FF0000" stroke-width="1.76" stroke-linecap="round" fill="none"/>
<path d="M115.0 58.9h0" stroke="#0000FF" stroke-width="1.76" stroke-linecap="round" fill="none"/>
<path d="M91.2 94.6h0" stroke="#FF0000" stroke-width="1.76" stroke-linecap="round" fill="none"/>
<path d="M89.1 63.9h0" stroke="#0000FF" stroke-width="1.76" stroke-linecap="round" fill="none"/>
<path d="M107.2 53.1h0M121.2 93.0h0" stroke="#FF0000" stroke-width="1.76" stroke-linecap="round" fill="none"/>
<path d="M86.9 78.7h0" stroke="#0000FF" stroke-width="1.76" stroke-linecap="round" fill="none"/>
<path d="M119.0 87.3h0" stroke="#FF0000" stroke-width="1.76" stroke-linecap="round" fill="none"/>
<path d="M117.1 49.8h0M86.8 82.0h0M112.9 82.1h0" stroke="#0000FF" stroke-width="1.76" stroke-linecap="round" fill="none"/>
<path d="M100.9 100.4h0" stroke="#FF0000" stroke-width="1.76" stroke-linecap="round" fill="none"/>
<path d="M94.9 62.7h0M113.2 62.5h0" stroke="#0000FF" stroke-width="1.76" stroke-linecap="round" fill="none"/>
<path d="M156.1 90.9h0M87.0 101.9h0M93.0 91.1h0M132.9 76.8h0" stroke="#FF0000" stroke-width="1.76" stroke-linecap="round" fill="none"/>
<path d="M103.2 65.7h0M87.2 82.5h0" stroke="#0000FF" stroke-width="1.76" stroke-linecap="round" fill="none"/>
<path d="M96.8 75.0h0M105.2 87.5h0" stroke="#FF0000" stroke-width="1.76" stroke-linecap="round" fill="none"/>
<path d="M102.9 40.8h0" stroke="#0000FF" stroke-width="1.76" stroke-linecap="round" fill="none"/>
<path d="M168.9 80.1h0" stroke="#FF0000" stroke-width="1.76" stroke-linecap="round" fill="none"/>
<path d="M93.0 92.8h0" stroke="#0000FF" stroke-width="1.76" stroke-linecap="round" fill="none"/>
<path d="M93.0 89.5h0" stroke="#FF0000" stroke-width="1.76" stroke-linecap="round" fill="none"/>
<path d="M153.2 67.5h0M119.1 57.1h0" stroke="#0000FF" stroke-width="1.76" stroke-linecap="round" fill="none"/>
<path d="M93.1 78.4h0M150.5 95.6h0M114.9 37.0h0M113.2 91.3h0M88.8 98.6h0" stroke="#FF0000" stroke-width="1.76" stroke-linecap="round" fill="none"/>
<path d="M115.1 80.3h0" stroke="#0000FF" stroke-width="1.76" stroke-linecap="round" fill="none"/>
<path d="M93.2 69.3h0M119.7 87.0h0" stroke="#FF0000" stroke-width="1.76" stroke-linecap="round" fill="none"/>
<path d="M87.2 71.7h0M113.2 42.9h0" stroke="#0000FF" stroke-width="1.76" stroke-linecap="round" fill="none"/>
<path d="M120.8 82.1h0M83.0 100.4h0M95.0 98.3h0M122.3 90.8h0" stroke="#FF0000" stroke-width="1.76" stroke-linecap="round" fill="none"/>
<path d="M91.1 102.1h0" stroke="#0000FF" stroke-width="1.76" stroke-linecap="round" fill="none"/>
<path d="M119.1 60.7h0M101.0 102.1h0M84.8 106.7h0" stroke="#FF0000" stroke-width="1.76" stroke-linecap="round" fill="none"/>
<path d="M129.1 70.1h0" stroke="#0000FF" stroke-width="1.76" stroke-linecap="round" fill="none"/>
<path d="M101.1 84.2h0" stroke="#FF0000" stroke-width="1.76" stroke-linecap="round" fill="none"/>
<path d="M129.1 67.7h0" stroke="#0000FF" stroke-width="1.76" stroke-linecap="round" fill="none"/>
<path d="M94.8 98.2h0" stroke="#FF0000" stroke-width="1.76" stroke-linecap="round" fill="none"/>
<path d="M89.2 80.6h0" stroke="#0000FF" stroke-width="1.76" stroke-linecap="round" fill="none"/>
<path d="M119.2 75.1h0M112.9 67.6h0M100.9 96.7h0" stroke="#FF0000" stroke-width="1.76" stroke-linecap="round" fill="none"/>
<path d="M104.8 60.8h0M99.1 75.0h0" stroke="#0000FF" stroke-width="1.76" stroke-linecap="round" fill="none"/>
<path d="M97.1 96.4h0" stroke="#FF0000" stroke-width="1.76" stroke-linecap="round" fill="none"/>
<path d="M95.0 76.5h0M125.8 57.6h0M117.2 85.5h0" stroke="#0000FF" stroke-width="1.76" stroke-linecap="round" fill="none"/>
<path d="M91.0 82.6h0M99.1 93.2h0M98.9 105.3h0" stroke="#FF0000" stroke-width="1.76" stroke-linecap="round" fill="none"/>
<path d="M116.9 78.6h0" stroke="#0000FF" stroke-width="1.76" stroke-linecap="round" fill="none"/>
<path d="M109.2 44.2h0M113.1 69.9h0M117.4 74.2h0" stroke="#FF0000" stroke-width="1.76" stroke-linecap="round" fill="none"/>
<path d="M121.2 51.7h0" stroke="#0000FF" stroke-width="1.76" stroke-linecap="round" fill="none"/>
<path d="M100.8 89.6h0M90.9 89.5h0" stroke="#FF0000" stroke-width="1.76" stroke-linecap="round" fill="none"/>
<path d="M99.0 73.2h0M122.3 60.9h0M120.7 97.4h0M98.0 119.2h0M106.9 76.7h0M92.8 87.5h0" stroke="#0000FF" stroke-width="1.76" stroke-linecap="round" fill="none"/>
<path d="M93.0 87.3h0" stroke="#FF0000" stroke-width="1.76" stroke-linecap="round" fill="none"/>
<path d="M100.9 68.1h0" stroke="#0000FF" stroke-width="1.76" stroke-linecap="round" fill="none"/>
<path d="M91.1 93.3h0M104.9 66.0h0" stroke="#FF0000" stroke-width="1.76" stroke-linecap="round" fill="none"/>
<path d="M116.8 96.9h0M99.0 66.0h0" stroke="#0000FF" stroke-width="1.76" stroke-linecap="round" fill="none"/>
<path d="M131.1 105.4h0" stroke="#FF0000" stroke-width="1.76" stroke-linecap="round" fill="none"/>
<path d="M146.5 70.5h0" stroke="#0000FF" stroke-width="1.76" stroke-linecap="round" fill="none"/>
<path d="M159.7 68.0h0M95.1 73.2h0" stroke="#FF0000" stroke-width="1.76" stroke-linecap="round" fill="none"/>
<path d="M99.1 83.9h0M121.7 85.3h0" stroke="#0000FF" stroke-width="1.76" stroke-linecap="round" fill="none"/>
<path d="M100.8 93.1h0M97.0 87.4h0M107.2 91.3h0" stroke="#FF0000" stroke-width="1.76" stroke-linecap="round" fill="none"/>
<path d="M84.0 73.4h0" stroke="#0000FF" stroke-width="1.76" stroke-linecap="round" fill="none"/>
<path d="M143.1 87.6h0M151.8 82.1h0M114.6 65.6h0" stroke="#FF0000" stroke-width="1.76" stroke-linecap="round" fill="none"/>
<path d="M132.8 60.5h0" stroke="#0000FF" stroke-width="1.76" stroke-linecap="round" fill="none"/>
<path d="M226.5 87.6h0M92.9 87.5h0M129.2 89.2h0" stroke="#FF0000" stroke-width="1.76" stroke-linecap="round" fill="none"/>
<path d="M93.0 38.8h0" stroke="#0000FF" stroke-width="1.76" stroke-linecap="round" fill="none"/>
<path d="M92.9 105.7h0" stroke="#FF0000" stroke-width="1.76" stroke-linecap="round" fill="none"/>
<path d="M96.9 87.7h0" stroke="#0000FF" stroke-width="1.76" stroke-linecap="round" fill="none"/>
<path d="M66.3 74.0h0" stroke="#FF0000" stroke-width="1.76" stroke-linecap="round" fill="none"/>
<path d="M84.1 106.7h0" stroke="#0000FF" stroke-width="1.76" stroke-linecap="round" fill="none"/>
<path d="M88.6 96.0h0M91.0 87.6h0M109.9 55.5h0" stroke="#FF0000" stroke-width="1.76" stroke-linecap="round" fill="none"/>
<path d="M112.8 89.1h0M125.1 59.0h0" stroke="#0000FF" stroke-width="1.76" stroke-linecap="round" fill="none"/>
<path d="M115.2 91.0h0M85.2 88.0h0M101.1 71.4h0M113.0 91.2h0M107.0 85.7h0" stroke="#FF0000" stroke-width="1.76" stroke-linecap="round" fill="none"/>
<path d="M130.3 87.6h0" stroke="#0000FF" stroke-width="1.76" stroke-linecap="round" fill="none"/>
<path d="M162.4 62.5h0" stroke="#FF0000" stroke-width="1.76" stroke-linecap="round" fill="none"/>
<path d="M101.2 55.5h0M95.0 98.1h0M97.0 33.3h0" stroke="#0000FF" stroke-width="1.76" stroke-linecap="round" fill="none"/>
<path d="M104.9 109.1h0M87.1 94.9h0M101.2 68.1h0M115.2 46.2h0M116.8 109.5h0M97.0 69.9h0" stroke="#FF0000" stroke-width="1.76" stroke-linecap="round" fill="none"/>
<path d="M99.1 82.4h0" stroke="#0000FF" stroke-width="1.76" stroke-linecap="round" fill="none"/>
<path d="M134.8 85.2h0" stroke="#FF0000" stroke-width="1.76" stroke-linecap="round" fill="none"/>
<path d="M123.0 78.6h0" stroke="#0000FF" stroke-width="1.76" stroke-linecap="round" fill="none"/>
<path d="M90.9 114.3h0M94.8 93.3h0M118.9 75.3h0" stroke="#FF0000" stroke-width="1.76" stroke-linecap="round" fill="none"/>
<path d="M156.9 71.6h0M96.9 85.7h0" stroke="#0000FF" stroke-width="1.76" stroke-linecap="round" fill="none"/>
<path d="M103.0 73.4h0M88.8 87.4h0" stroke="#FF0000" stroke-width="1.76" stroke-linecap="round" fill="none"/>
<path d="M114.1 54.9h0" stroke="#0000FF" stroke-width="1.76" stroke-linecap="round" fill="none"/>
<path d="M95.1 87.8h0M88.8 67.9h0" stroke="#FF0000" stroke-width="1.76" stroke-linecap="round" fill="none"/>
<path d="M85.1 71.2h0" stroke="#0000FF" stroke-width="1.76" stroke-linecap="round" fill="none"/>
<path d="M133.4 76.1h0M96.9 46.1h0M114.2 78.6h0M99.2 68.0h0" stroke="#FF0000" stroke-width="1.76" stroke-linecap="round" fill="none"/>
<path d="M91.2 84.3h0" stroke="#0000FF" stroke-width="1.76" stroke-linecap="round" fill="none"/>
<path d="M81.5 61.8h0" stroke="#FF0000" stroke-width="1.76" stroke-linecap="round" fill="none"/>
<path d="M119.1 69.7h0M97.0 78.9h0M97.1 102.1h0" stroke="#0000FF" stroke-width="1.76" stroke-linecap="round" fill="none"/>
<path d="M105.0 73.1h0M129.2 98.1h0M121.2 73.4h0M107.2 89.3h0M103.0 39.1h0M97.2 68.0h0M133.0 19.2h0M102.9 89.6h0" stroke="#FF0000" stroke-width="1.76" stroke-linecap="round" fill="none"/>
<path d="M96.9 78.5h0" stroke="#0000FF" stroke-width="1.76" stroke-linecap="round" fill="none"/>
<path d="M98.8 57.1h0" stroke="#FF0000" stroke-width="1.76" stroke-linecap="round" fill="none"/>
<path d="M116.9 87.7h0M68.3 101.7h0" stroke="#0000FF" stroke-width="1.76" stroke-linecap="round" fill="none"/>
<path d="M90.8 76.7h0" stroke="#FF0000" stroke-width="1.76" stroke-linecap="round" fill="none"/>
<path d="M94.8 71.6h0" stroke="#0000FF" stroke-width="1.76" stroke-linecap="round" fill="none"/>
<path d="M100.9 62.4h0M97.0 73.4h0M98.8 87.4h0M90.8 55.1h0M133.8 87.3h0M113.2 62.5h0M87.0 73.9h0M150.4 100.7h0" stroke="#FF0000" stroke-width="1.76" stroke-linecap="round" fill="none"/>
<path d="M99.0 73.4h0M94.8 57.0h0" stroke="#0000FF" stroke-width="1.76" stroke-linecap="round" fill="none"/>
<path d="M100.8 80.6h0M102.8 82.3h0" stroke="#FF0000" stroke-width="1.76" stroke-linecap="round" fill="none"/>
<path d="M93.1 80.2h0" stroke="#0000FF" stroke-width="1.76" stroke-linecap="round" fill="none"/>
<path d="M122.9 66.2h0M143.8 66.6h0M101.2 90.9h0" stroke="#FF0000" stroke-width="1.76" stroke-linecap="round" fill="none"/>
<path d="M107.2 69.4h0" stroke="#0000FF" stroke-width="1.76" stroke-linecap="round" fill="none"/>
<path d="M101.1 94.7h0M91.1 83.7h0M114.9 96.4h0" stroke="#FF0000" stroke-width="1.76" stroke-linecap="round" fill="none"/>
<path d="M104.8 60.5h0" stroke="#0000FF" stroke-width="1.76" stroke-linecap="round" fill="none"/>
<path d="M95.0 105.6h0M67.8 110.7h0M120.8 28.2h0M92.9 85.6h0M117.1 82.0h0M139.8 84.7h0M161.6 76.6h0M103.0 80.5h0M100.8 48.2h0M65.9 101.3h0M103.1 71.1h0" stroke="#FF0000" stroke-width="1.76" stroke-linecap="round" fill="none"/>
<path d="M94.8 76.6h0M115.2 59.0h0M112.9 89.4h0M156.4 72.6h0" stroke="#0000FF" stroke-width="1.76" stroke-linecap="round" fill="none"/>
<path d="M91.0 77.0h0" stroke="#FF0000" stroke-width="1.76" stroke-linecap="round" fill="none"/>
<path d="M109.2 82.4h0" stroke="#0000FF" stroke-width="1.76" stroke-linecap="round" fill="none"/>
<path d="M90.8 89.3h0M97.1 84.1h0M102.8 80.4h0" stroke="#FF0000" stroke-width="1.76" stroke-linecap="round" fill="none"/>
<path d="M115.8 68.0h0" stroke="#0000FF" stroke-width="1.76" stroke-linecap="round" fill="none"/>
<path d="M94.8 91.5h0" stroke="#FF0000" stroke-width="1.76" stroke-linecap="round" fill="none"/>
<path d="M98.9 96.3h0" stroke="#0000FF" stroke-width="1.76" stroke-linecap="round" fill="none"/>
<path d="M97.2 100.0h0M101.0 69.7h0M107.7 67.3h0M164.1 90.3h0" stroke="#FF0000" stroke-width="1.76" stroke-linecap="round" fill="none"/>
<path d="M113.1 76.0h0" stroke="#0000FF" stroke-width="1.76" stroke-linecap="round" fill="none"/>
<path d="M99.1 85.6h0M156.7 102.0h0M119.2 89.6h0" stroke="#FF0000" stroke-width="1.76" stroke-linecap="round" fill="none"/>
<path d="M93.1 98.7h0M95.2 86.0h0M99.2 53.5h0" stroke="#0000FF" stroke-width="1.76" stroke-linecap="round" fill="none"/>
<path d="M95.2 58.7h0M105.1 100.5h0" stroke="#FF0000" stroke-width="1.76" stroke-linecap="round" fill="none"/>
<path d="M110.8 56.8h0" stroke="#0000FF" stroke-width="1.76" stroke-linecap="round" fill="none"/>
<path d="M109.0 64.1h0" stroke="#FF0000" stroke-width="1.76" stroke-linecap="round" fill="none"/>
<path d="M122.8 72.3h0M128.6 92.4h0M167.1 88.3h0M89.1 84.2h0" stroke="#0000FF" stroke-width="1.76" stroke-linecap="round" fill="none"/>
<path d="M128.9 55.1h0M87.2 87.7h0" stroke="#FF0000" stroke-width="1.76" stroke-linecap="round" fill="none"/>
<path d="M103.1 66.1h0" stroke="#0000FF" stroke-width="1.76" stroke-linecap="round" fill="none"/>
<path d="M119.8 106.9h0M88.8 96.7h0" stroke="#FF0000" stroke-width="1.76" stroke-linecap="round" fill="none"/>
<path d="M104.8 82.1h0" stroke="#0000FF" stroke-width="1.76" stroke-linecap="round" fill="none"/>
<path d="M87.2 57.2h0M153.7 77.6h0M98.8 89.3h0M97.1 101.9h0" stroke="#FF0000" stroke-width="1.76" stroke-linecap="round" fill="none"/>
<path d="M204.4 80.6h0" stroke="#0000FF" stroke-width="1.76" stroke-linecap="round" fill="none"/>
<path d="M107.2 87.8h0M99.2 85.5h0M104.1 83.2h0" stroke="#FF0000" stroke-width="1.76" stroke-linecap="round" fill="none"/>
<path d="M115.3 60.9h0M154.0 69.7h0" stroke="#0000FF" stroke-width="1.76" stroke-linecap="round" fill="none"/>
<path d="M116.8 86.1h0M99.2 111.0h0M91.0 80.5h0" stroke="#FF0000" stroke-width="1.76" stroke-linecap="round" fill="none"/>
<path d="M134.9 104.7h0" stroke="#0000FF" stroke-width="1.76" stroke-linecap="round" fill="none"/>
<path d="M99.2 83.9h0" stroke="#FF0000" stroke-width="1.76" stroke-linecap="round" fill="none"/>
<path d="M119.1 86.0h0" stroke="#0000FF" stroke-width="1.76" stroke-linecap="round" fill="none"/>
<path d="M108.8 94.9h0" stroke="#FF0000" stroke-width="1.76" stroke-linecap="round" fill="none"/>
<path d="M98.9 67.9h0" stroke="#0000FF" stroke-width="1.76" stroke-linecap="round" fill="none"/>
<path d="M122.9 87.6h0" stroke="#FF0000" stroke-width="1.76" stroke-linecap="round" fill="none"/>
<path d="M131.3 89.6h0" stroke="#0000FF" stroke-width="1.76" stroke-linecap="round" fill="none"/>
<path d="M82.0 97.3h0M161.4 100.6h0M116.8 85.7h0M98.8 84.3h0" stroke="#FF0000" stroke-width="1.76" stroke-linecap="round" fill="none"/>
<path d="M95.1 92.9h0" stroke="#0000FF" stroke-width="1.76" stroke-linecap="round" fill="none"/>
<path d="M116.8 62.4h0M104.9 76.5h0" stroke="#FF0000" stroke-width="1.76" stroke-linecap="round" fill="none"/>
<path d="M95.0 87.6h0" stroke="#0000FF" stroke-width="1.76" stroke-linecap="round" fill="none"/>
<path d="M101.0 102.0h0" stroke="#FF0000" stroke-width="1.76" stroke-linecap="round" fill="none"/>
<path d="M90.9 69.7h0M133.7 116.5h0" stroke="#0000FF" stroke-width="1.76" stroke-linecap="round" fill="none"/>
<path d="M91.0 82.1h0M95.0 53.3h0" stroke="#FF0000" stroke-width="1.76" stroke-linecap="round" fill="none"/>
<path d="M129.0 67.8h0" stroke="#0000FF" stroke-width="1.76" stroke-linecap="round" fill="none"/>
<path d="M113.0 71.3h0M117.2 101.8h0M100.8 89.3h0M99.1 67.9h0M112.9 78.3h0" stroke="#FF0000" stroke-width="1.76" stroke-linecap="round" fill="none"/>
<path d="M101.1 69.5h0" stroke="#0000FF" stroke-width="1.76" stroke-linecap="round" fill="none"/>
<path d="M91.2 98.6h0M123.2 95.1h0M129.8 55.5h0" stroke="#FF0000" stroke-width="1.76" stroke-linecap="round" fill="none"/>
<path d="M87.0 75.1h0M109.2 89.3h0" stroke="#0000FF" stroke-width="1.76" stroke-linecap="round" fill="none"/>
<path d="M106.8 89.9h0M101.1 69.5h0M93.2 98.6h0" stroke="#FF0000" stroke-width="1.76" stroke-linecap="round" fill="none"/>
<path d="M136.1 76.5h0M120.6 78.7h0" stroke="#0000FF" stroke-width="1.76" stroke-linecap="round" fill="none"/>
<path d="M116.9 82.1h0M174.9 89.2h0M103.1 67.7h0M80.1 75.3h0M103.1 98.6h0M109.0 107.6h0M97.2 93.2h0M109.1 86.0h0" stroke="#FF0000" stroke-width="1.76" stroke-linecap="round" fill="none"/>
<path d="M124.7 95.3h0M114.2 71.9h0" stroke="#0000FF" stroke-width="1.76" stroke-linecap="round" fill="none"/>
<path d="M110.9 98.5h0M97.0 94.9h0" stroke="#FF0000" stroke-width="1.76" stroke-linecap="round" fill="none"/>
<path d="M104.8 73.1h0M145.8 99.6h0M110.3 68.7h0M131.9 96.1h0" stroke="#0000FF" stroke-width="1.76" stroke-linecap="round" fill="none"/>
<path d="M101.2 89.3h0M110.5 84.2h0M133.7 86.1h0M84.7 77.6h0M117.1 86.1h0" stroke="#FF0000" stroke-width="1.76" stroke-linecap="round" fill="none"/>
<path d="M124.2 66.6h0" stroke="#0000FF" stroke-width="1.76" stroke-linecap="round" fill="none"/>
<path d="M103.2 98.4h0M97.2 86.1h0M126.9 62.1h0M97.2 93.0h0M95.0 87.3h0M95.2 85.8h0M93.1 98.4h0M183.9 78.5h0M91.2 84.2h0" stroke="#FF0000" stroke-width="1.76" stroke-linecap="round" fill="none"/>
<path d="M111.4 67.3h0" stroke="#0000FF" stroke-width="1.76" stroke-linecap="round" fill="none"/>
<path d="M83.2 89.5h0" stroke="#FF0000" stroke-width="1.76" stroke-linecap="round" fill="none"/>
<path d="M95.2 78.8h0M105.1 87.4h0M140.7 80.8h0M96.9 104.0h0" stroke="#0000FF" stroke-width="1.76" stroke-linecap="round" fill="none"/>
<path d="M110.9 80.6h0" stroke="#FF0000" stroke-width="1.76" stroke-linecap="round" fill="none"/>
<path d="M126.8 94.9h0" stroke="#0000FF" stroke-width="1.76" stroke-linecap="round" fill="none"/>
<path d="M101.2 82.1h0" stroke="#FF0000" stroke-width="1.76" stroke-linecap="round" fill="none"/>
<path d="M93.0 89.6h0M102.8 71.2h0M110.8 82.2h0M123.2 71.7h0" stroke="#0000FF" stroke-width="1.76" stroke-linecap="round" fill="none"/>
<path d="M91.1 94.9h0M116.4 81.9h0M93.0 68.1h0M96.9 80.5h0M84.9 89.1h0" stroke="#FF0000" stroke-width="1.76" stroke-linecap="round" fill="none"/>
<path d="M83.6 88.1h0M92.9 87.3h0M115.0 57.2h0" stroke="#0000FF" stroke-width="1.76" stroke-linecap="round" fill="none"/>
<path d="M87.0 100.2h0M97.2 98.4h0M97.1 94.6h0" stroke="#FF0000" stroke-width="1.76" stroke-linecap="round" fill="none"/>
<path d="M89.0 105.4h0M101.1 91.4h0" stroke="#0000FF" stroke-width="1.76" stroke-linecap="round" fill="none"/>
<path d="M152.4 84.5h0" stroke="#FF0000" stroke-width="1.76" stroke-linecap="round" fill="none"/>
<path d="M117.2 57.2h0" stroke="#0000FF" stroke-width="1.76" stroke-linecap="round" fill="none"/>
<path d="M115.0 60.7h0M103.2 76.6h0M100.9 46.0h0M98.8 69.6h0M114.6 82.9h0" stroke="#FF0000" stroke-width="1.76" stroke-linecap="round" fill="none"/>
<path d="M95.2 80.4h0" stroke="#0000FF" stroke-width="1.76" stroke-linecap="round" fill="none"/>
<path d="M109.1 53.3h0M109.0 94.7h0" stroke="#FF0000" stroke-width="1.76" stroke-linecap="round" fill="none"/>
<path d="M115.0 71.5h0" stroke="#0000FF" stroke-width="1.76" stroke-linecap="round" fill="none"/>
<path d="M91.0 62.1h0M92.8 89.4h0" stroke="#FF0000" stroke-width="1.76" stroke-linecap="round" fill="none"/>
<path d="M111.1 96.9h0" stroke="#0000FF" stroke-width="1.76" stroke-linecap="round" fill="none"/>
<path d="M60.7 76.9h0M124.9 53.6h0M116.8 82.4h0M97.0 87.8h0M119.0 78.7h0M116.5 96.4h0" stroke="#FF0000" stroke-width="1.76" stroke-linecap="round" fill="none"/>
<path d="M91.2 105.4h0M90.8 76.6h0" stroke="#0000FF" stroke-width="1.76" stroke-linecap="round" fill="none"/>
<path d="M102.8 87.7h0M110.8 66.2h0" stroke="#FF0000" stroke-width="1.76" stroke-linecap="round" fill="none"/>
<path d="M100.9 71.5h0M127.1 57.2h0M109.1 91.3h0" stroke="#0000FF" stroke-width="1.76" stroke-linecap="round" fill="none"/>
<path d="M88.8 98.4h0" stroke="#FF0000" stroke-width="1.76" stroke-linecap="round" fill="none"/>
<path d="M180.4 36.8h0" stroke="#0000FF" stroke-width="1.76" stroke-linecap="round" fill="none"/>
<path d="M141.0 68.0h0" stroke="#FF0000" stroke-width="1.76" stroke-linecap="round" fill="none"/>
<path d="M101.2 78.6h0M87.1 65.8h0M133.4 74.0h0M101.1 89.7h0" stroke="#0000FF" stroke-width="1.76" stroke-linecap="round" fill="none"/>
<path d="M107.1 33.7h0" stroke="#FF0000" stroke-width="1.76" stroke-linecap="round" fill="none"/>
<path d="M114.3 107.0h0M54.3 99.0h0M101.0 67.9h0" stroke="#0000FF" stroke-width="1.76" stroke-linecap="round" fill="none"/>
<path d="M111.0 47.9h0M141.1 101.8h0M108.8 46.1h0M111.1 64.2h0M114.8 103.5h0M159.0 87.6h0" stroke="#FF0000" stroke-width="1.76" stroke-linecap="round" fill="none"/>
<path d="M121.0 49.7h0" stroke="#0000FF" stroke-width="1.76" stroke-linecap="round" fill="none"/>
<path d="M106.9 101.9h0M164.3 95.1h0M91.1 118.0h0" stroke="#FF0000" stroke-width="1.76" stroke-linecap="round" fill="none"/>
<path d="M122.2 68.1h0" stroke="#0000FF" stroke-width="1.76" stroke-linecap="round" fill="none"/>
<path d="M98.8 67.7h0M109.0 69.5h0" stroke="#FF0000" stroke-width="1.76" stroke-linecap="round" fill="none"/>
<path d="M160.1 72.1h0M117.0 69.4h0" stroke="#0000FF" stroke-width="1.76" stroke-linecap="round" fill="none"/>
<path d="M96.8 53.4h0M106.9 110.7h0" stroke="#FF0000" stroke-width="1.76" stroke-linecap="round" fill="none"/>
<path d="M87.1 84.0h0" stroke="#0000FF" stroke-width="1.76" stroke-linecap="round" fill="none"/>
<path d="M108.8 62.6h0M111.2 96.5h0" stroke="#FF0000" stroke-width="1.76" stroke-linecap="round" fill="none"/>
<path d="M101.0 48.3h0" stroke="#0000FF" stroke-width="1.76" stroke-linecap="round" fill="none"/>
<path d="M113.2 75.1h0M105.2 78.6h0M103.2 100.0h0" stroke="#FF0000" stroke-width="1.76" stroke-linecap="round" fill="none"/>
<path d="M111.0 33.8h0" stroke="#0000FF" stroke-width="1.76" stroke-linecap="round" fill="none"/>
<path d="M124.3 77.3h0" stroke="#FF0000" stroke-width="1.76" stroke-linecap="round" fill="none"/>
<path d="M88.8 96.5h0M109.2 84.1h0M89.1 87.9h0" stroke="#0000FF" stroke-width="1.76" stroke-linecap="round" fill="none"/>
<path d="M90.8 94.8h0M177.6 85.8h0M85.9 116.5h0M109.0 94.9h0M115.2 71.9h0" stroke="#FF0000" stroke-width="1.76" stroke-linecap="round" fill="none"/>
<path d="M190.9 87.2h0M107.2 65.7h0" stroke="#0000FF" stroke-width="1.76" stroke-linecap="round" fill="none"/>
<path d="M170.1 75.6h0M90.8 80.2h0" stroke="#FF0000" stroke-width="1.76" stroke-linecap="round" fill="none"/>
<path d="M95.0 73.4h0M109.2 91.4h0" stroke="#0000FF" stroke-width="1.76" stroke-linecap="round" fill="none"/>
<path d="M95.0 60.9h0" stroke="#FF0000" stroke-width="1.76" stroke-linecap="round" fill="none"/>
<path d="M105.1 71.7h0" stroke="#0000FF" stroke-width="1.76" stroke-linecap="round" fill="none"/>
<path d="M91.1 91.4h0" stroke="#FF0000" stroke-width="1.76" stroke-linecap="round" fill="none"/>
<path d="M112.9 91.5h0" stroke="#0000FF" stroke-width="1.76" stroke-linecap="round" fill="none"/>
<path d="M99.1 105.4h0M96.8 100.2h0M100.8 94.9h0" stroke="#FF0000" stroke-width="1.76" stroke-linecap="round" fill="none"/>
<path d="M87.0 71.4h0" stroke="#0000FF" stroke-width="1.76" stroke-linecap="round" fill="none"/>
<path d="M127.1 29.9h0M100.8 96.9h0M96.9 91.2h0M91.2 89.7h0" stroke="#FF0000" stroke-width="1.76" stroke-linecap="round" fill="none"/>
<path d="M92.8 69.4h0" stroke="#0000FF" stroke-width="1.76" stroke-linecap="round" fill="none"/>
<path d="M95.0 98.7h0" stroke="#FF0000" stroke-width="1.76" stroke-linecap="round" fill="none"/>
<path d="M91.2 74.8h0" stroke="#0000FF" stroke-width="1.76" stroke-linecap="round" fill="none"/>
<path d="M83.1 100.1h0M133.2 71.2h0" stroke="#FF0000" stroke-width="1.76" stroke-linecap="round" fill="none"/>
<path d="M99.1 96.8h0" stroke="#0000FF" stroke-width="1.76" stroke-linecap="round" fill="none"/>
<path d="M131.2 88.0h0M97.1 78.6h0" stroke="#FF0000" stroke-width="1.76" stroke-linecap="round" fill="none"/>
<path d="M98.8 87.7h0" stroke="#0000FF" stroke-width="1.76" stroke-linecap="round" fill="none"/>
<path d="M100.9 63.9h0" stroke="#FF0000" stroke-width="1.76" stroke-linecap="round" fill="none"/>
<path d="M95.1 78.7h0M72.5 118.6h0" stroke="#0000FF" stroke-width="1.76" stroke-linecap="round" fill="none"/>
<path d="M86.8 78.3h0M127.1 51.6h0" stroke="#FF0000" stroke-width="1.76" stroke-linecap="round" fill="none"/>
<path d="M117.9 63.2h0" stroke="#0000FF" stroke-width="1.76" stroke-linecap="round" fill="none"/>
<path d="M106.9 96.5h0M101.2 103.9h0M111.2 51.5h0" stroke="#FF0000" stroke-width="1.76" stroke-linecap="round" fill="none"/>
<path d="M101.1 84.2h0" stroke="#0000FF" stroke-width="1.76" stroke-linecap="round" fill="none"/>
<path d="M96.1 93.7h0M112.8 103.9h0M140.9 49.9h0" stroke="#FF0000" stroke-width="1.76" stroke-linecap="round" fill="none"/>
<path d="M111.0 64.1h0" stroke="#0000FF" stroke-width="1.76" stroke-linecap="round" fill="none"/>
<path d="M93.1 80.5h0" stroke="#FF0000" stroke-width="1.76" stroke-linecap="round" fill="none"/>
<path d="M119.0 85.6h0" stroke="#0000FF" stroke-width="1.76" stroke-linecap="round" fill="none"/>
<path d="M89.1 103.8h0M119.3 77.9h0M106.8 80.4h0M117.1 66.2h0M87.0 80.3h0M99.1 82.1h0" stroke="#FF0000" stroke-width="1.76" stroke-linecap="round" fill="none"/>
<path d="M96.8 58.7h0" stroke="#0000FF" stroke-width="1.76" stroke-linecap="round" fill="none"/>
<path d="M167.8 67.8h0M126.8 60.6h0M108.8 93.0h0M119.9 90.8h0M110.8 69.6h0M141.2 91.3h0M146.2 102.5h0" stroke="#FF0000" stroke-width="1.76" stroke-linecap="round" fill="none"/>
<path d="M108.8 96.5h0M103.0 74.8h0" stroke="#0000FF" stroke-width="1.76" stroke-linecap="round" fill="none"/>
<path d="M101.0 107.2h0M104.8 99.9h0M103.1 57.2h0M96.8 87.5h0M94.8 67.7h0M83.1 94.5h0M121.2 74.0h0M90.9 89.2h0M103.1 82.4h0M116.8 96.7h0" stroke="#FF0000" stroke-width="1.76" stroke-linecap="round" fill="none"/>
<path d="M215.1 80.7h0M111.2 57.3h0" stroke="#0000FF" stroke-width="1.76" stroke-linecap="round" fill="none"/>
<path d="M108.8 98.2h0" stroke="#FF0000" stroke-width="1.76" stroke-linecap="round" fill="none"/>
<path d="M90.9 67.8h0" stroke="#0000FF" stroke-width="1.76" stroke-linecap="round" fill="none"/>
<path d="M101.1 82.0h0M99.1 65.9h0M103.6 109.0h0M97.1 50.0h0M95.0 78.4h0M107.1 84.2h0" stroke="#FF0000" stroke-width="1.76" stroke-linecap="round" fill="none"/>
<path d="M94.9 94.7h0M86.9 75.3h0" stroke="#0000FF" stroke-width="1.76" stroke-linecap="round" fill="none"/>
<path d="M102.8 57.1h0M92.8 109.2h0M97.0 80.7h0M110.7 107.1h0M104.8 89.2h0M144.6 75.1h0" stroke="#FF0000" stroke-width="1.76" stroke-linecap="round" fill="none"/>
<path d="M107.1 92.1h0" stroke="#0000FF" stroke-width="1.76" stroke-linecap="round" fill="none"/>
<path d="M104.8 29.8h0M90.9 86.0h0M91.1 93.0h0M107.2 58.9h0M95.2 90.9h0" stroke="#FF0000" stroke-width="1.76" stroke-linecap="round" fill="none"/>
<path d="M93.0 86.0h0M108.9 89.5h0M168.1 106.7h0" stroke="#0000FF" stroke-width="1.76" stroke-linecap="round" fill="none"/>
<path d="M90.9 84.2h0M119.2 69.4h0M125.1 77.2h0" stroke="#FF0000" stroke-width="1.76" stroke-linecap="round" fill="none"/>
<path d="M97.2 55.3h0" stroke="#0000FF" stroke-width="1.76" stroke-linecap="round" fill="none"/>
<path d="M103.2 100.3h0M94.8 44.2h0M88.8 111.1h0M100.9 96.8h0M105.1 82.2h0M101.1 80.1h0" stroke="#FF0000" stroke-width="1.76" stroke-linecap="round" fill="none"/>
<path d="M103.0 60.7h0M91.0 80.4h0" stroke="#0000FF" stroke-width="1.76" stroke-linecap="round" fill="none"/>
<path d="M110.9 28.4h0M106.8 78.4h0M117.0 82.2h0M128.7 78.2h0" stroke="#FF0000" stroke-width="1.76" stroke-linecap="round" fill="none"/>
<path d="M100.8 60.4h0" stroke="#0000FF" stroke-width="1.76" stroke-linecap="round" fill="none"/>
<path d="M93.0 102.0h0" stroke="#FF0000" stroke-width="1.76" stroke-linecap="round" fill="none"/>
<path d="M155.5 74.5h0M96.9 51.8h0" stroke="#0000FF" stroke-width="1.76" stroke-linecap="round" fill="none"/>
<path d="M102.9 69.8h0M114.3 90.7h0M96.9 69.8h0M106.8 89.5h0M92.8 76.5h0M102.9 58.6h0M98.9 60.7h0M107.0 78.8h0" stroke="#FF0000" stroke-width="1.76" stroke-linecap="round" fill="none"/>
<path d="M107.2 71.4h0M104.8 96.8h0" stroke="#0000FF" stroke-width="1.76" stroke-linecap="round" fill="none"/>
<path d="M103.2 87.7h0" stroke="#FF0000" stroke-width="1.76" stroke-linecap="round" fill="none"/>
<path d="M97.1 69.7h0" stroke="#0000FF" stroke-width="1.76" stroke-linecap="round" fill="none"/>
<path d="M111.1 69.8h0" stroke="#FF0000" stroke-width="1.76" stroke-linecap="round" fill="none"/>
<path d="M93.1 73.4h0M93.2 67.8h0" stroke="#0000FF" stroke-width="1.76" stroke-linecap="round" fill="none"/>
<path d="M86.8 100.0h0" stroke="#FF0000" stroke-width="1.76" stroke-linecap="round" fill="none"/>
<path d="M110.8 98.6h0M103.0 91.4h0M80.4 103.3h0M106.9 100.1h0M133.2 68.4h0M102.9 91.5h0" stroke="#0000FF" stroke-width="1.76" stroke-linecap="round" fill="none"/>
<path d="M104.9 95.1h0M84.9 101.8h0" stroke="#FF0000" stroke-width="1.76" stroke-linecap="round" fill="none"/>
<path d="M135.3 86.5h0M103.1 48.3h0M89.2 55.3h0M113.4 93.5h0" stroke="#0000FF" stroke-width="1.76" stroke-linecap="round" fill="none"/>
<path d="M90.8 73.3h0M108.8 83.8h0" stroke="#FF0000" stroke-width="1.76" stroke-linecap="round" fill="none"/>
<path d="M99.0 107.6h0M126.7 57.3h0M103.2 105.3h0M122.2 64.4h0M103.2 109.4h0" stroke="#0000FF" stroke-width="1.76" stroke-linecap="round" fill="none"/>
<path d="M144.9 54.9h0" stroke="#FF0000" stroke-width="1.76" stroke-linecap="round" fill="none"/>
<path d="M97.2 80.3h0M124.3 63.7h0" stroke="#0000FF" stroke-width="1.76" stroke-linecap="round" fill="none"/>
<path d="M103.0 71.3h0M117.1 60.5h0M99.0 77.0h0M92.8 87.8h0" stroke="#FF0000" stroke-width="1.76" stroke-linecap="round" fill="none"/>
<path d="M101.1 66.3h0" stroke="#0000FF" stroke-width="1.76" stroke-linecap="round" fill="none"/>
<path d="M95.1 82.5h0M113.0 62.4h0" stroke="#FF0000" stroke-width="1.76" stroke-linecap="round" fill="none"/>
<path d="M97.1 78.8h0M88.9 87.8h0" stroke="#0000FF" stroke-width="1.76" stroke-linecap="round" fill="none"/>
<path d="M110.9 79.1h0M81.7 88.8h0" stroke="#FF0000" stroke-width="1.76" stroke-linecap="round" fill="none"/>
<path d="M101.1 87.6h0M94.9 98.6h0M145.2 85.9h0" stroke="#0000FF" stroke-width="1.76" stroke-linecap="round" fill="none"/>
<path d="M144.4 106.5h0" stroke="#FF0000" stroke-width="1.76" stroke-linecap="round" fill="none"/>
<path d="M166.6 79.9h0" stroke="#0000FF" stroke-width="1.76" stroke-linecap="round" fill="none"/>
<path d="M104.9 91.4h0M99.0 64.3h0M136.6 58.3h0M107.2 83.9h0M127.2 60.1h0M86.8 103.9h0" stroke="#FF0000" stroke-width="1.76" stroke-linecap="round" fill="none"/>
<path d="M90.9 107.3h0" stroke="#0000FF" stroke-width="1.76" stroke-linecap="round" fill="none"/>
<path d="M91.1 89.4h0" stroke="#FF0000" stroke-width="1.76" stroke-linecap="round" fill="none"/>
<path d="M96.9 51.9h0M111.0 90.9h0M88.9 80.2h0" stroke="#0000FF" stroke-width="1.76" stroke-linecap="round" fill="none"/>
<path d="M102.9 76.9h0M107.1 98.6h0M98.9 65.7h0M111.2 80.6h0" stroke="#FF0000" stroke-width="1.76" stroke-linecap="round" fill="none"/>
<path d="M95.2 66.1h0" stroke="#0000FF" stroke-width="1.76" stroke-linecap="round" fill="none"/>
<path d="M105.0 96.6h0" stroke="#FF0000" stroke-width="1.76" stroke-linecap="round" fill="none"/>
<path d="M107.0 82.0h0" stroke="#0000FF" stroke-width="1.76" stroke-linecap="round" fill="none"/>
<path d="M111.0 89.7h0" stroke="#FF0000" stroke-width="1.76" stroke-linecap="round" fill="none"/>
<path d="M118.8 84.2h0" stroke="#0000FF" stroke-width="1.76" stroke-linecap="round" fill="none"/>
<path d="M95.2 75.0h0M88.8 87.6h0" stroke="#FF0000" stroke-width="1.76" stroke-linecap="round" fill="none"/>
<path d="M91.2 59.0h0" stroke="#0000FF" stroke-width="1.76" stroke-linecap="round" fill="none"/>
<path d="M104.9 89.6h0M87.0 98.4h0" stroke="#FF0000" stroke-width="1.76" stroke-linecap="round" fill="none"/>
<path d="M99.2 35.1h0" stroke="#0000FF" stroke-width="1.76" stroke-linecap="round" fill="none"/>
<path d="M106.8 93.1h0M112.7 129.4h0M89.1 93.3h0M121.2 78.6h0" stroke="#FF0000" stroke-width="1.76" stroke-linecap="round" fill="none"/>
<path d="M93.0 67.5h0" stroke="#0000FF" stroke-width="1.76" stroke-linecap="round" fill="none"/>
<path d="M85.1 89.5h0" stroke="#FF0000" stroke-width="1.76" stroke-linecap="round" fill="none"/>
<path d="M100.8 56.7h0M115.0 69.8h0M110.8 49.6h0M92.8 104.0h0M93.1 85.8h0" stroke="#0000FF" stroke-width="1.76" stroke-linecap="round" fill="none"/>
<path d="M94.9 91.4h0M94.9 78.9h0" stroke="#FF0000" stroke-width="1.76" stroke-linecap="round" fill="none"/>
<path d="M116.4 95.6h0" stroke="#0000FF" stroke-width="1.76" stroke-linecap="round" fill="none"/>
<path d="M97.2 103.8h0M105.1 82.0h0" stroke="#FF0000" stroke-width="1.76" stroke-linecap="round" fill="none"/>
<path d="M90.8 84.2h0M103.1 49.7h0M91.0 60.8h0" stroke="#0000FF" stroke-width="1.76" stroke-linecap="round" fill="none"/>
<path d="M117.1 84.1h0M110.3 115.7h0M118.8 98.4h0M106.8 91.1h0M114.8 60.8h0M136.1 71.9h0" stroke="#FF0000" stroke-width="1.76" stroke-linecap="round" fill="none"/>
<path d="M123.0 57.0h0M116.9 68.0h0" stroke="#0000FF" stroke-width="1.76" stroke-linecap="round" fill="none"/>
<path d="M111.1 96.5h0M83.2 100.5h0" stroke="#FF0000" stroke-width="1.76" stroke-linecap="round" fill="none"/>
<path d="M95.0 89.5h0" stroke="#0000FF" stroke-width="1.76" stroke-linecap="round" fill="none"/>
<path d="M91.2 73.3h0M187.3 73.6h0M126.0 82.8h0M91.2 101.9h0" stroke="#FF0000" stroke-width="1.76" stroke-linecap="round" fill="none"/>
<path d="M114.9 55.4h0" stroke="#0000FF" stroke-width="1.76" stroke-linecap="round" fill="none"/>
<path d="M93.1 107.1h0" stroke="#FF0000" stroke-width="1.76" stroke-linecap="round" fill="none"/>
<path d="M101.0 92.8h0M100.8 53.6h0M97.2 73.1h0M90.6 77.5h0" stroke="#0000FF" stroke-width="1.76" stroke-linecap="round" fill="none"/>
<path d="M96.8 93.2h0M93.1 89.1h0M87.2 102.1h0M84.6 85.7h0M91.0 69.9h0M108.8 89.6h0" stroke="#FF0000" stroke-width="1.76" stroke-linecap="round" fill="none"/>
<path d="M106.8 55.5h0" stroke="#0000FF" stroke-width="1.76" stroke-linecap="round" fill="none"/>
<path d="M176.3 73.2h0M103.1 64.0h0M89.1 93.1h0" stroke="#FF0000" stroke-width="1.76" stroke-linecap="round" fill="none"/>
<path d="M176.7 65.3h0M105.1 82.2h0" stroke="#0000FF" stroke-width="1.76" stroke-linecap="round" fill="none"/>
<path d="M102.8 86.6h0M99.1 91.1h0M113.9 100.2h0M97.1 69.4h0" stroke="#FF0000" stroke-width="1.76" stroke-linecap="round" fill="none"/>
<path d="M115.1 71.6h0M107.0 49.5h0" stroke="#0000FF" stroke-width="1.76" stroke-linecap="round" fill="none"/>
<path d="M99.1 78.4h0" stroke="#FF0000" stroke-width="1.76" stroke-linecap="round" fill="none"/>
<path d="M109.1 60.7h0" stroke="#0000FF" stroke-width="1.76" stroke-linecap="round" fill="none"/>
<path d="M129.0 94.7h0" stroke="#FF0000" stroke-width="1.76" stroke-linecap="round" fill="none"/>
<path d="M96.9 80.2h0" stroke="#0000FF" stroke-width="1.76" stroke-linecap="round" fill="none"/>
<path d="M114.8 72.4h0M97.2 89.3h0M188.8 41.6h0" stroke="#FF0000" stroke-width="1.76" stroke-linecap="round" fill="none"/>
<path d="M97.2 55.3h0" stroke="#0000FF" stroke-width="1.76" stroke-linecap="round" fill="none"/>
<path d="M104.8 69.3h0M97.1 73.1h0" stroke="#FF0000" stroke-width="1.76" stroke-linecap="round" fill="none"/>
<path d="M102.8 66.1h0M108.8 67.9h0M99.1 71.5h0" stroke="#0000FF" stroke-width="1.76" stroke-linecap="round" fill="none"/>
<path d="M83.0 123.6h0M102.9 91.2h0M93.1 78.4h0M112.8 68.1h0" stroke="#FF0000" stroke-width="1.76" stroke-linecap="round" fill="none"/>
<path d="M124.3 49.3h0" stroke="#0000FF" stroke-width="1.76" stroke-linecap="round" fill="none"/>
<path d="M103.0 58.8h0" stroke="#FF0000" stroke-width="1.76" stroke-linecap="round" fill="none"/>
<path d="M117.8 35.3h0M115.2 64.4h0M146.9 65.8h0" stroke="#0000FF" stroke-width="1.76" stroke-linecap="round" fill="none"/>
<path d="M95.2 84.2h0M125.1 86.0h0" stroke="#FF0000" stroke-width="1.76" stroke-linecap="round" fill="none"/>
<path d="M88.8 65.8h0" stroke="#0000FF" stroke-width="1.76" stroke-linecap="round" fill="none"/>
<path d="M115.1 84.2h0" stroke="#FF0000" stroke-width="1.76" stroke-linecap="round" fill="none"/>
<path d="M64.0 92.4h0" stroke="#0000FF" stroke-width="1.76" stroke-linecap="round" fill="none"/>
<path d="M138.6 86.7h0" stroke="#FF0000" stroke-width="1.76" stroke-linecap="round" fill="none"/>
<path d="M113.8 85.4h0" stroke="#0000FF" stroke-width="1.76" stroke-linecap="round" fill="none"/>
<path d="M157.6 69.5h0M101.0 98.3h0M71.1 92.2h0M103.1 87.4h0" stroke="#FF0000" stroke-width="1.76" stroke-linecap="round" fill="none"/>
<path d="M91.1 87.5h0" stroke="#0000FF" stroke-width="1.76" stroke-linecap="round" fill="none"/>
<path d="M117.0 69.5h0M111.2 62.7h0M103.0 91.5h0M102.8 57.1h0" stroke="#FF0000" stroke-width="1.76" stroke-linecap="round" fill="none"/>
<path d="M103.1 85.7h0" stroke="#0000FF" stroke-width="1.76" stroke-linecap="round" fill="none"/>
<polygon points="51.5,78.2 57.0,77.8 62.4,77.4 67.9,77.0 73.3,76.5 78.8,76.1 84.3,75.6 89.7,75.0 95.2,74.5 100.6,73.8 106.1,73.1 111.5,72.4 117.0,71.6 122.5,70.8 127.9,69.9 133.4,69.1 138.8,68.2 144.3,67.3 149.8,66.3 155.2,65.4 160.7,64.5 166.1,63.6 171.6,62.6 177.0,61.7 182.5,60.8 188.0,59.8 193.4,58.9 198.9,57.9 204.3,57.0 209.8,56.0 209.8,68.5 204.3,68.9 198.9,69.3 193.4,69.6 188.0,70.0 182.5,70.4 177.0,70.8 171.6,71.1 166.1,71.5 160.7,71.9 155.2,72.3 149.8,72.7 144.3,73.1 138.8,73.5 133.4,73.9 127.9,74.3 122.5,74.8 117.0,75.3 111.5,75.8 106.1,76.4 100.6,77.0 95.2,77.7 89.7,78.4 84.3,79.2 78.8,80.0 73.3,80.8 67.9,81.7 62.4,82.6 57.0,83.5 51.5,84.4" fill="#999999" fill-opacity="0.38"/>
<polygon points="58.2,88.8 63.8,87.6 69.4,86.5 75.0,85.4 80.6,84.2 86.2,83.0 91.8,81.8 97.4,80.5 103.0,79.1 108.6,77.7 114.2,76.2 119.8,74.7 125.4,73.1 131.0,71.5 136.6,70.0 142.3,68.4 147.9,66.7 153.5,65.1 159.1,63.5 164.7,61.9 170.3,60.3 175.9,58.6 181.5,57.0 187.1,55.4 192.7,53.8 198.3,52.1 203.9,50.5 209.5,48.9 215.1,47.2 220.7,45.6 220.7,57.8 215.1,58.9 209.5,60.0 203.9,61.1 198.3,62.1 192.7,63.2 187.1,64.3 181.5,65.4 175.9,66.5 170.3,67.6 164.7,68.7 159.1,69.8 153.5,70.9 147.9,72.0 142.3,73.1 136.6,74.2 131.0,75.3 125.4,76.5 119.8,77.6 114.2,78.8 108.6,80.1 103.0,81.3 97.4,82.7 91.8,84.1 86.2,85.6 80.6,87.1 75.0,88.7 69.4,90.3 63.8,91.8 58.2,93.4" fill="#999999" fill-opacity="0.38"/>
<line x1="51.5" y1="81.3" x2="209.8" y2="62.3" stroke="#0000FF" stroke-width="0.6"/>
<line x1="58.2" y1="91.1" x2="220.7" y2="51.7" stroke="#FF0000" stroke-width="0.6"/>
<line x1="50.0" y1="131.5" x2="50.0" y2="133.0" stroke="#555" stroke-width="0.5"/>
<text x="50.0" y="137.0" font-size="4.0" fill="#5a5a5a" text-anchor="middle">0.5</text>
<line x1="96.8" y1="131.5" x2="96.8" y2="133.0" stroke="#555" stroke-width="0.5"/>
<text x="96.8" y="137.0" font-size="4.0" fill="#5a5a5a" text-anchor="middle">0.7</text>
<line x1="143.6" y1="131.5" x2="143.6" y2="133.0" stroke="#555" stroke-width="0.5"/>
<text x="143.6" y="137.0" font-size="4.0" fill="#5a5a5a" text-anchor="middle">0.9</text>
<line x1="190.4" y1="131.5" x2="190.4" y2="133.0" stroke="#555" stroke-width="0.5"/>
<text x="190.4" y="137.0" font-size="4.0" fill="#5a5a5a" text-anchor="middle">1.1</text>
<line x1="39.5" y1="30.0" x2="41" y2="30.0" stroke="#555" stroke-width="0.5"/>
<text x="38.6" y="31.4" font-size="4.0" fill="#5a5a5a" text-anchor="end">2.3</text>
<line x1="39.5" y1="53.0" x2="41" y2="53.0" stroke="#555" stroke-width="0.5"/>
<text x="38.6" y="54.5" font-size="4.0" fill="#5a5a5a" text-anchor="end">2.2</text>
<line x1="39.5" y1="76.1" x2="41" y2="76.1" stroke="#555" stroke-width="0.5"/>
<text x="38.6" y="77.5" font-size="4.0" fill="#5a5a5a" text-anchor="end">2.1</text>
<line x1="39.5" y1="99.1" x2="41" y2="99.1" stroke="#555" stroke-width="0.5"/>
<text x="38.6" y="100.6" font-size="4.0" fill="#5a5a5a" text-anchor="end">2.0</text>
<line x1="39.5" y1="122.2" x2="41" y2="122.2" stroke="#555" stroke-width="0.5"/>
<text x="38.6" y="123.6" font-size="4.0" fill="#5a5a5a" text-anchor="end">1.9</text>
<rect x="294.8" y="16.1" width="191.2" height="109.5" fill="#EBEBEB"/>
<line x1="326.6" y1="16.1" x2="326.6" y2="125.6" stroke="#F7F7F7" stroke-width="0.6"/>
<line x1="372.9" y1="16.1" x2="372.9" y2="125.6" stroke="#F7F7F7" stroke-width="0.6"/>
<line x1="419.2" y1="16.1" x2="419.2" y2="125.6" stroke="#F7F7F7" stroke-width="0.6"/>
<line x1="465.5" y1="16.1" x2="465.5" y2="125.6" stroke="#F7F7F7" stroke-width="0.6"/>
<line x1="294.8" y1="39.8" x2="486" y2="39.8" stroke="#F7F7F7" stroke-width="0.6"/>
<line x1="294.8" y1="61.9" x2="486" y2="61.9" stroke="#F7F7F7" stroke-width="0.6"/>
<line x1="294.8" y1="84.0" x2="486" y2="84.0" stroke="#F7F7F7" stroke-width="0.6"/>
<line x1="294.8" y1="106.1" x2="486" y2="106.1" stroke="#F7F7F7" stroke-width="0.6"/>
<line x1="303.5" y1="16.1" x2="303.5" y2="125.6" stroke="#F7F7F7" stroke-width="0.7"/>
<line x1="349.8" y1="16.1" x2="349.8" y2="125.6" stroke="#F7F7F7" stroke-width="0.7"/>
<line x1="396.1" y1="16.1" x2="396.1" y2="125.6" stroke="#F7F7F7" stroke-width="0.7"/>
<line x1="442.4" y1="16.1" x2="442.4" y2="125.6" stroke="#F7F7F7" stroke-width="0.7"/>
<line x1="294.8" y1="28.8" x2="486" y2="28.8" stroke="#F7F7F7" stroke-width="0.7"/>
<line x1="294.8" y1="50.9" x2="486" y2="50.9" stroke="#F7F7F7" stroke-width="0.7"/>
<line x1="294.8" y1="73.0" x2="486" y2="73.0" stroke="#F7F7F7" stroke-width="0.7"/>
<line x1="294.8" y1="95.1" x2="486" y2="95.1" stroke="#F7F7F7" stroke-width="0.7"/>
<line x1="294.8" y1="117.2" x2="486" y2="117.2" stroke="#F7F7F7" stroke-width="0.7"/>
<path d="M353.9 57.3h0" stroke="#0000FF" stroke-width="1.76" stroke-linecap="round" fill="none"/>
<path d="M360.0 90.2h0M347.7 97.1h0M363.6 48.7h0M348.0 70.2h0" stroke="#FF0000" stroke-width="1.76" stroke-linecap="round" fill="none"/>
<path d="M388.3 71.6h0M358.0 68.2h0M357.8 33.9h0M367.8 93.4h0" stroke="#0000FF" stroke-width="1.76" stroke-linecap="round" fill="none"/>
<path d="M362.0 90.3h0" stroke="#FF0000" stroke-width="1.76" stroke-linecap="round" fill="none"/>
<path d="M373.8 70.1h0M368.0 64.8h0" stroke="#0000FF" stroke-width="1.76" stroke-linecap="round" fill="none"/>
<path d="M350.0 95.6h0M361.9 95.3h0" stroke="#FF0000" stroke-width="1.76" stroke-linecap="round" fill="none"/>
<path d="M369.6 70.3h0" stroke="#0000FF" stroke-width="1.76" stroke-linecap="round" fill="none"/>
<path d="M353.6 62.9h0" stroke="#FF0000" stroke-width="1.76" stroke-linecap="round" fill="none"/>
<path d="M355.7 120.4h0" stroke="#0000FF" stroke-width="1.76" stroke-linecap="round" fill="none"/>
<path d="M357.6 18.2h0M438.6 84.2h0M361.7 81.0h0" stroke="#FF0000" stroke-width="1.76" stroke-linecap="round" fill="none"/>
<path d="M359.7 77.3h0M355.8 61.4h0" stroke="#0000FF" stroke-width="1.76" stroke-linecap="round" fill="none"/>
<path d="M357.6 97.4h0" stroke="#FF0000" stroke-width="1.76" stroke-linecap="round" fill="none"/>
<path d="M364.0 54.1h0" stroke="#0000FF" stroke-width="1.76" stroke-linecap="round" fill="none"/>
<path d="M347.7 88.0h0M370.9 68.6h0" stroke="#FF0000" stroke-width="1.76" stroke-linecap="round" fill="none"/>
<path d="M363.3 90.2h0M375.9 66.4h0" stroke="#0000FF" stroke-width="1.76" stroke-linecap="round" fill="none"/>
<path d="M367.6 71.8h0M383.9 92.8h0" stroke="#FF0000" stroke-width="1.76" stroke-linecap="round" fill="none"/>
<path d="M355.7 70.0h0M367.8 75.8h0" stroke="#0000FF" stroke-width="1.76" stroke-linecap="round" fill="none"/>
<path d="M365.9 101.1h0" stroke="#FF0000" stroke-width="1.76" stroke-linecap="round" fill="none"/>
<path d="M367.6 75.4h0" stroke="#0000FF" stroke-width="1.76" stroke-linecap="round" fill="none"/>
<path d="M369.7 89.8h0M359.7 90.1h0M355.6 90.2h0M365.6 88.0h0M351.9 90.0h0" stroke="#FF0000" stroke-width="1.76" stroke-linecap="round" fill="none"/>
<path d="M365.8 63.1h0" stroke="#0000FF" stroke-width="1.76" stroke-linecap="round" fill="none"/>
<path d="M361.9 57.4h0M367.7 75.7h0M366.8 104.1h0M347.4 64.1h0M427.1 55.2h0M372.0 89.7h0M367.6 83.1h0M357.8 66.6h0M377.8 21.7h0" stroke="#FF0000" stroke-width="1.76" stroke-linecap="round" fill="none"/>
<path d="M345.8 95.2h0" stroke="#0000FF" stroke-width="1.76" stroke-linecap="round" fill="none"/>
<path d="M366.0 54.3h0M364.7 118.7h0" stroke="#FF0000" stroke-width="1.76" stroke-linecap="round" fill="none"/>
<path d="M346.3 77.9h0" stroke="#0000FF" stroke-width="1.76" stroke-linecap="round" fill="none"/>
<path d="M355.7 70.1h0M359.8 93.8h0" stroke="#FF0000" stroke-width="1.76" stroke-linecap="round" fill="none"/>
<path d="M353.6 71.8h0M361.7 63.1h0" stroke="#0000FF" stroke-width="1.76" stroke-linecap="round" fill="none"/>
<path d="M359.7 100.8h0M355.9 86.3h0M354.0 82.6h0M361.9 75.5h0" stroke="#FF0000" stroke-width="1.76" stroke-linecap="round" fill="none"/>
<path d="M365.9 61.3h0" stroke="#0000FF" stroke-width="1.76" stroke-linecap="round" fill="none"/>
<path d="M367.8 68.5h0M351.8 96.6h0M353.9 84.8h0M349.6 66.5h0M367.6 83.1h0M377.8 80.8h0M347.8 86.6h0M348.0 113.7h0M359.9 91.7h0M349.9 95.7h0M359.8 57.8h0" stroke="#FF0000" stroke-width="1.76" stroke-linecap="round" fill="none"/>
<path d="M353.9 81.1h0M330.2 61.8h0M357.6 86.3h0" stroke="#0000FF" stroke-width="1.76" stroke-linecap="round" fill="none"/>
<path d="M345.2 89.7h0M372.0 84.5h0M338.0 85.2h0M362.0 80.8h0M351.6 53.9h0M361.7 59.4h0" stroke="#FF0000" stroke-width="1.76" stroke-linecap="round" fill="none"/>
<path d="M349.7 68.3h0" stroke="#0000FF" stroke-width="1.76" stroke-linecap="round" fill="none"/>
<path d="M367.8 46.6h0" stroke="#FF0000" stroke-width="1.76" stroke-linecap="round" fill="none"/>
<path d="M367.7 82.9h0" stroke="#0000FF" stroke-width="1.76" stroke-linecap="round" fill="none"/>
<path d="M383.9 64.8h0" stroke="#FF0000" stroke-width="1.76" stroke-linecap="round" fill="none"/>
<path d="M357.7 61.0h0" stroke="#0000FF" stroke-width="1.76" stroke-linecap="round" fill="none"/>
<path d="M355.7 111.3h0M347.7 84.8h0M363.7 63.1h0M357.9 93.7h0M355.8 87.8h0" stroke="#FF0000" stroke-width="1.76" stroke-linecap="round" fill="none"/>
<path d="M357.9 75.9h0" stroke="#0000FF" stroke-width="1.76" stroke-linecap="round" fill="none"/>
<path d="M355.6 100.7h0M365.8 86.3h0M356.0 64.6h0M349.7 86.2h0M353.7 75.7h0M360.1 64.1h0M369.7 23.1h0M353.6 72.3h0" stroke="#FF0000" stroke-width="1.76" stroke-linecap="round" fill="none"/>
<path d="M346.0 91.8h0" stroke="#0000FF" stroke-width="1.76" stroke-linecap="round" fill="none"/>
<path d="M352.0 79.1h0M373.8 70.1h0M345.2 50.6h0" stroke="#FF0000" stroke-width="1.76" stroke-linecap="round" fill="none"/>
<path d="M365.9 80.7h0M371.9 55.8h0M398.0 99.2h0M353.6 71.8h0" stroke="#0000FF" stroke-width="1.76" stroke-linecap="round" fill="none"/>
<path d="M373.9 90.3h0M353.9 88.4h0M359.7 91.9h0" stroke="#FF0000" stroke-width="1.76" stroke-linecap="round" fill="none"/>
<path d="M396.8 83.3h0" stroke="#0000FF" stroke-width="1.76" stroke-linecap="round" fill="none"/>
<path d="M355.8 75.5h0M375.6 82.7h0" stroke="#FF0000" stroke-width="1.76" stroke-linecap="round" fill="none"/>
<path d="M381.2 95.1h0M355.6 59.1h0" stroke="#0000FF" stroke-width="1.76" stroke-linecap="round" fill="none"/>
<path d="M363.7 70.1h0" stroke="#FF0000" stroke-width="1.76" stroke-linecap="round" fill="none"/>
<path d="M357.6 68.2h0M350.0 75.7h0M347.7 66.4h0" stroke="#0000FF" stroke-width="1.76" stroke-linecap="round" fill="none"/>
<path d="M433.8 58.9h0M360.0 93.6h0M373.6 66.8h0M368.0 84.5h0M350.0 92.1h0" stroke="#FF0000" stroke-width="1.76" stroke-linecap="round" fill="none"/>
<path d="M355.8 81.0h0" stroke="#0000FF" stroke-width="1.76" stroke-linecap="round" fill="none"/>
<path d="M347.8 121.6h0M381.7 28.8h0" stroke="#FF0000" stroke-width="1.76" stroke-linecap="round" fill="none"/>
<path d="M365.6 66.5h0M359.9 54.0h0M367.7 82.6h0" stroke="#0000FF" stroke-width="1.76" stroke-linecap="round" fill="none"/>
<path d="M369.7 97.3h0M360.0 82.8h0M373.6 95.3h0M359.6 91.8h0M399.5 86.1h0M357.6 77.4h0" stroke="#FF0000" stroke-width="1.76" stroke-linecap="round" fill="none"/>
<path d="M345.8 81.0h0M344.9 78.6h0M363.8 70.1h0" stroke="#0000FF" stroke-width="1.76" stroke-linecap="round" fill="none"/>
<path d="M401.4 63.8h0" stroke="#FF0000" stroke-width="1.76" stroke-linecap="round" fill="none"/>
<path d="M375.6 66.9h0" stroke="#0000FF" stroke-width="1.76" stroke-linecap="round" fill="none"/>
<path d="M347.4 96.9h0M363.6 52.4h0M370.0 82.8h0" stroke="#FF0000" stroke-width="1.76" stroke-linecap="round" fill="none"/>
<path d="M372.0 77.1h0M403.4 80.3h0" stroke="#0000FF" stroke-width="1.76" stroke-linecap="round" fill="none"/>
<path d="M357.7 61.4h0M352.0 86.3h0" stroke="#FF0000" stroke-width="1.76" stroke-linecap="round" fill="none"/>
<path d="M379.7 36.1h0" stroke="#0000FF" stroke-width="1.76" stroke-linecap="round" fill="none"/>
<path d="M363.9 58.8h0" stroke="#FF0000" stroke-width="1.76" stroke-linecap="round" fill="none"/>
<path d="M357.6 77.3h0" stroke="#0000FF" stroke-width="1.76" stroke-linecap="round" fill="none"/>
<path d="M351.9 86.5h0M372.0 104.7h0M358.0 74.0h0M357.7 91.5h0" stroke="#FF0000" stroke-width="1.76" stroke-linecap="round" fill="none"/>
<path d="M353.8 75.5h0" stroke="#0000FF" stroke-width="1.76" stroke-linecap="round" fill="none"/>
<path d="M363.8 75.4h0" stroke="#FF0000" stroke-width="1.76" stroke-linecap="round" fill="none"/>
<path d="M371.8 91.7h0" stroke="#0000FF" stroke-width="1.76" stroke-linecap="round" fill="none"/>
<path d="M348.0 99.1h0M353.9 88.2h0M363.7 81.2h0" stroke="#FF0000" stroke-width="1.76" stroke-linecap="round" fill="none"/>
<path d="M359.7 78.9h0M349.6 91.9h0" stroke="#0000FF" stroke-width="1.76" stroke-linecap="round" fill="none"/>
<path d="M351.6 102.6h0" stroke="#FF0000" stroke-width="1.76" stroke-linecap="round" fill="none"/>
<path d="M371.7 50.3h0" stroke="#0000FF" stroke-width="1.76" stroke-linecap="round" fill="none"/>
<path d="M359.7 86.5h0M357.9 95.6h0M368.0 57.4h0M353.7 81.0h0" stroke="#FF0000" stroke-width="1.76" stroke-linecap="round" fill="none"/>
<path d="M373.9 60.4h0" stroke="#0000FF" stroke-width="1.76" stroke-linecap="round" fill="none"/>
<path d="M365.8 80.9h0M356.0 95.3h0" stroke="#FF0000" stroke-width="1.76" stroke-linecap="round" fill="none"/>
<path d="M367.8 39.8h0M369.9 71.3h0" stroke="#0000FF" stroke-width="1.76" stroke-linecap="round" fill="none"/>
<path d="M355.9 91.5h0M351.7 81.2h0M382.0 86.5h0" stroke="#FF0000" stroke-width="1.76" stroke-linecap="round" fill="none"/>
<path d="M373.9 59.4h0M373.6 56.1h0M377.8 79.3h0" stroke="#0000FF" stroke-width="1.76" stroke-linecap="round" fill="none"/>
<path d="M346.6 80.4h0M366.0 79.4h0" stroke="#FF0000" stroke-width="1.76" stroke-linecap="round" fill="none"/>
<path d="M363.9 61.3h0" stroke="#0000FF" stroke-width="1.76" stroke-linecap="round" fill="none"/>
<path d="M431.1 92.8h0M349.9 73.8h0" stroke="#FF0000" stroke-width="1.76" stroke-linecap="round" fill="none"/>
<path d="M358.0 54.0h0M357.6 74.4h0" stroke="#0000FF" stroke-width="1.76" stroke-linecap="round" fill="none"/>
<path d="M364.6 87.2h0" stroke="#FF0000" stroke-width="1.76" stroke-linecap="round" fill="none"/>
<path d="M353.8 34.0h0" stroke="#0000FF" stroke-width="1.76" stroke-linecap="round" fill="none"/>
<path d="M353.6 68.5h0" stroke="#FF0000" stroke-width="1.76" stroke-linecap="round" fill="none"/>
<path d="M359.7 83.0h0M361.9 82.7h0" stroke="#0000FF" stroke-width="1.76" stroke-linecap="round" fill="none"/>
<path d="M366.0 73.0h0" stroke="#FF0000" stroke-width="1.76" stroke-linecap="round" fill="none"/>
<path d="M381.9 49.2h0M349.6 79.3h0M366.0 64.5h0" stroke="#0000FF" stroke-width="1.76" stroke-linecap="round" fill="none"/>
<path d="M371.7 65.1h0" stroke="#FF0000" stroke-width="1.76" stroke-linecap="round" fill="none"/>
<path d="M453.4 60.8h0M347.8 74.0h0" stroke="#0000FF" stroke-width="1.76" stroke-linecap="round" fill="none"/>
<path d="M353.8 91.8h0M349.6 82.8h0" stroke="#FF0000" stroke-width="1.76" stroke-linecap="round" fill="none"/>
<path d="M355.8 57.8h0M353.7 55.8h0" stroke="#0000FF" stroke-width="1.76" stroke-linecap="round" fill="none"/>
<path d="M366.1 72.6h0M370.0 50.4h0M356.0 107.9h0M349.9 77.7h0M388.3 97.6h0" stroke="#FF0000" stroke-width="1.76" stroke-linecap="round" fill="none"/>
<path d="M365.6 63.2h0" stroke="#0000FF" stroke-width="1.76" stroke-linecap="round" fill="none"/>
<path d="M345.9 61.4h0M359.8 81.2h0M417.5 92.2h0" stroke="#FF0000" stroke-width="1.76" stroke-linecap="round" fill="none"/>
<path d="M383.2 54.6h0" stroke="#0000FF" stroke-width="1.76" stroke-linecap="round" fill="none"/>
<path d="M348.9 74.6h0" stroke="#FF0000" stroke-width="1.76" stroke-linecap="round" fill="none"/>
<path d="M357.7 100.7h0" stroke="#0000FF" stroke-width="1.76" stroke-linecap="round" fill="none"/>
<path d="M361.9 90.2h0" stroke="#FF0000" stroke-width="1.76" stroke-linecap="round" fill="none"/>
<path d="M374.0 55.6h0" stroke="#0000FF" stroke-width="1.76" stroke-linecap="round" fill="none"/>
<path d="M388.4 51.6h0" stroke="#FF0000" stroke-width="1.76" stroke-linecap="round" fill="none"/>
<path d="M373.6 75.4h0M366.3 92.3h0" stroke="#0000FF" stroke-width="1.76" stroke-linecap="round" fill="none"/>
<path d="M349.7 102.6h0M357.8 62.8h0M351.7 87.9h0" stroke="#FF0000" stroke-width="1.76" stroke-linecap="round" fill="none"/>
<path d="M457.9 74.5h0" stroke="#0000FF" stroke-width="1.76" stroke-linecap="round" fill="none"/>
<path d="M363.8 44.9h0M357.8 66.7h0" stroke="#FF0000" stroke-width="1.76" stroke-linecap="round" fill="none"/>
<path d="M369.7 73.6h0" stroke="#0000FF" stroke-width="1.76" stroke-linecap="round" fill="none"/>
<path d="M364.0 91.3h0M369.9 62.9h0" stroke="#FF0000" stroke-width="1.76" stroke-linecap="round" fill="none"/>
<path d="M363.8 52.1h0M356.0 70.4h0M355.8 64.9h0" stroke="#0000FF" stroke-width="1.76" stroke-linecap="round" fill="none"/>
<path d="M357.6 70.1h0M361.6 84.5h0" stroke="#FF0000" stroke-width="1.76" stroke-linecap="round" fill="none"/>
<path d="M352.0 79.0h0" stroke="#0000FF" stroke-width="1.76" stroke-linecap="round" fill="none"/>
<path d="M366.0 61.5h0" stroke="#FF0000" stroke-width="1.76" stroke-linecap="round" fill="none"/>
<path d="M345.6 83.8h0" stroke="#0000FF" stroke-width="1.76" stroke-linecap="round" fill="none"/>
<path d="M352.0 95.2h0M369.9 75.9h0" stroke="#FF0000" stroke-width="1.76" stroke-linecap="round" fill="none"/>
<path d="M353.7 59.5h0" stroke="#0000FF" stroke-width="1.76" stroke-linecap="round" fill="none"/>
<path d="M367.7 82.7h0M349.8 50.4h0M369.4 107.5h0M351.6 77.7h0" stroke="#FF0000" stroke-width="1.76" stroke-linecap="round" fill="none"/>
<path d="M369.6 66.5h0" stroke="#0000FF" stroke-width="1.76" stroke-linecap="round" fill="none"/>
<path d="M353.6 88.5h0M366.0 93.5h0M368.0 57.4h0M376.2 69.9h0M349.6 83.0h0M347.7 75.4h0M357.8 82.6h0" stroke="#FF0000" stroke-width="1.76" stroke-linecap="round" fill="none"/>
<path d="M342.3 87.6h0" stroke="#0000FF" stroke-width="1.76" stroke-linecap="round" fill="none"/>
<path d="M359.9 88.3h0M427.7 69.1h0" stroke="#FF0000" stroke-width="1.76" stroke-linecap="round" fill="none"/>
<path d="M379.1 91.9h0M373.8 62.9h0M396.0 82.5h0" stroke="#0000FF" stroke-width="1.76" stroke-linecap="round" fill="none"/>
<path d="M365.7 72.2h0" stroke="#FF0000" stroke-width="1.76" stroke-linecap="round" fill="none"/>
<path d="M365.8 64.8h0M347.9 91.8h0" stroke="#0000FF" stroke-width="1.76" stroke-linecap="round" fill="none"/>
<path d="M359.8 72.2h0" stroke="#FF0000" stroke-width="1.76" stroke-linecap="round" fill="none"/>
<path d="M350.0 84.8h0" stroke="#0000FF" stroke-width="1.76" stroke-linecap="round" fill="none"/>
<path d="M347.6 95.5h0M379.8 65.1h0" stroke="#FF0000" stroke-width="1.76" stroke-linecap="round" fill="none"/>
<path d="M352.0 75.6h0M367.8 73.6h0" stroke="#0000FF" stroke-width="1.76" stroke-linecap="round" fill="none"/>
<path d="M398.2 110.6h0M351.8 108.1h0M353.2 108.1h0" stroke="#FF0000" stroke-width="1.76" stroke-linecap="round" fill="none"/>
<path d="M359.8 79.0h0" stroke="#0000FF" stroke-width="1.76" stroke-linecap="round" fill="none"/>
<path d="M353.9 72.0h0" stroke="#FF0000" stroke-width="1.76" stroke-linecap="round" fill="none"/>
<path d="M373.9 45.1h0M353.6 82.7h0" stroke="#0000FF" stroke-width="1.76" stroke-linecap="round" fill="none"/>
<path d="M364.0 97.1h0M373.6 79.4h0M361.9 68.3h0M361.6 95.5h0M381.8 80.8h0" stroke="#FF0000" stroke-width="1.76" stroke-linecap="round" fill="none"/>
<path d="M385.6 82.7h0M357.8 73.8h0M382.2 99.4h0M344.3 66.2h0" stroke="#0000FF" stroke-width="1.76" stroke-linecap="round" fill="none"/>
<path d="M371.9 82.9h0" stroke="#FF0000" stroke-width="1.76" stroke-linecap="round" fill="none"/>
<path d="M347.7 82.5h0M359.9 79.0h0M365.7 86.3h0" stroke="#0000FF" stroke-width="1.76" stroke-linecap="round" fill="none"/>
<path d="M359.8 90.2h0M351.7 77.2h0" stroke="#FF0000" stroke-width="1.76" stroke-linecap="round" fill="none"/>
<path d="M359.8 59.3h0" stroke="#0000FF" stroke-width="1.76" stroke-linecap="round" fill="none"/>
<path d="M357.9 84.4h0M357.6 64.6h0M358.0 88.4h0M354.0 91.7h0" stroke="#FF0000" stroke-width="1.76" stroke-linecap="round" fill="none"/>
<path d="M391.6 61.7h0" stroke="#0000FF" stroke-width="1.76" stroke-linecap="round" fill="none"/>
<path d="M363.8 83.0h0M387.9 105.8h0" stroke="#FF0000" stroke-width="1.76" stroke-linecap="round" fill="none"/>
<path d="M373.6 26.9h0M367.6 100.7h0M383.8 88.0h0" stroke="#0000FF" stroke-width="1.76" stroke-linecap="round" fill="none"/>
<path d="M362.6 60.2h0M351.8 79.2h0" stroke="#FF0000" stroke-width="1.76" stroke-linecap="round" fill="none"/>
<path d="M365.7 68.1h0" stroke="#0000FF" stroke-width="1.76" stroke-linecap="round" fill="none"/>
<path d="M369.9 41.4h0M349.8 102.6h0M351.9 86.3h0M365.7 55.8h0" stroke="#FF0000" stroke-width="1.76" stroke-linecap="round" fill="none"/>
<path d="M357.9 68.1h0" stroke="#0000FF" stroke-width="1.76" stroke-linecap="round" fill="none"/>
<path d="M379.8 89.8h0" stroke="#FF0000" stroke-width="1.76" stroke-linecap="round" fill="none"/>
<path d="M361.8 75.7h0" stroke="#0000FF" stroke-width="1.76" stroke-linecap="round" fill="none"/>
<path d="M359.9 57.8h0M349.6 46.9h0M373.8 98.9h0" stroke="#FF0000" stroke-width="1.76" stroke-linecap="round" fill="none"/>
<path d="M403.3 90.0h0" stroke="#0000FF" stroke-width="1.76" stroke-linecap="round" fill="none"/>
<path d="M367.6 43.0h0" stroke="#FF0000" stroke-width="1.76" stroke-linecap="round" fill="none"/>
<path d="M355.6 84.4h0" stroke="#0000FF" stroke-width="1.76" stroke-linecap="round" fill="none"/>
<path d="M356.0 73.7h0" stroke="#FF0000" stroke-width="1.76" stroke-linecap="round" fill="none"/>
<path d="M353.9 91.6h0" stroke="#0000FF" stroke-width="1.76" stroke-linecap="round" fill="none"/>
<path d="M359.7 48.9h0" stroke="#FF0000" stroke-width="1.76" stroke-linecap="round" fill="none"/>
<path d="M355.9 77.3h0M363.9 75.9h0" stroke="#0000FF" stroke-width="1.76" stroke-linecap="round" fill="none"/>
<path d="M337.1 88.3h0M366.0 89.9h0M414.2 95.8h0M349.2 64.0h0M345.9 75.4h0M358.0 50.4h0" stroke="#FF0000" stroke-width="1.76" stroke-linecap="round" fill="none"/>
<path d="M359.7 73.5h0" stroke="#0000FF" stroke-width="1.76" stroke-linecap="round" fill="none"/>
<path d="M349.8 55.6h0M365.6 52.4h0" stroke="#FF0000" stroke-width="1.76" stroke-linecap="round" fill="none"/>
<path d="M359.7 86.2h0" stroke="#0000FF" stroke-width="1.76" stroke-linecap="round" fill="none"/>
<path d="M359.8 52.2h0" stroke="#FF0000" stroke-width="1.76" stroke-linecap="round" fill="none"/>
<path d="M362.0 73.9h0M373.9 48.6h0M362.0 70.0h0M359.7 66.8h0" stroke="#0000FF" stroke-width="1.76" stroke-linecap="round" fill="none"/>
<path d="M378.0 34.4h0M370.0 72.0h0M347.8 56.1h0M355.6 71.7h0M369.7 61.4h0M379.1 33.3h0M326.7 84.0h0" stroke="#FF0000" stroke-width="1.76" stroke-linecap="round" fill="none"/>
<path d="M357.8 91.6h0" stroke="#0000FF" stroke-width="1.76" stroke-linecap="round" fill="none"/>
<path d="M347.8 90.0h0M357.6 88.2h0" stroke="#FF0000" stroke-width="1.76" stroke-linecap="round" fill="none"/>
<path d="M365.6 91.6h0" stroke="#0000FF" stroke-width="1.76" stroke-linecap="round" fill="none"/>
<path d="M367.6 39.5h0M388.5 86.4h0" stroke="#FF0000" stroke-width="1.76" stroke-linecap="round" fill="none"/>
<path d="M341.8 57.8h0" stroke="#0000FF" stroke-width="1.76" stroke-linecap="round" fill="none"/>
<path d="M375.4 73.9h0M349.8 84.5h0M367.8 77.5h0M351.9 75.4h0M345.7 75.4h0" stroke="#FF0000" stroke-width="1.76" stroke-linecap="round" fill="none"/>
<path d="M363.7 66.3h0" stroke="#0000FF" stroke-width="1.76" stroke-linecap="round" fill="none"/>
<path d="M356.0 88.4h0M375.9 61.0h0" stroke="#FF0000" stroke-width="1.76" stroke-linecap="round" fill="none"/>
<path d="M383.3 55.0h0" stroke="#0000FF" stroke-width="1.76" stroke-linecap="round" fill="none"/>
<path d="M349.7 64.9h0M328.2 76.0h0M355.6 80.9h0" stroke="#FF0000" stroke-width="1.76" stroke-linecap="round" fill="none"/>
<path d="M366.4 83.6h0M377.3 38.3h0M361.6 77.6h0" stroke="#0000FF" stroke-width="1.76" stroke-linecap="round" fill="none"/>
<path d="M357.8 93.7h0M348.0 82.8h0M357.6 91.9h0M357.7 79.3h0M345.6 66.6h0M377.0 74.5h0M353.6 63.2h0M344.0 95.0h0M373.4 74.5h0" stroke="#FF0000" stroke-width="1.76" stroke-linecap="round" fill="none"/>
<path d="M365.7 55.6h0M385.9 66.3h0" stroke="#0000FF" stroke-width="1.76" stroke-linecap="round" fill="none"/>
<path d="M357.7 81.1h0M355.9 89.8h0M352.3 103.9h0M356.0 98.1h0" stroke="#FF0000" stroke-width="1.76" stroke-linecap="round" fill="none"/>
<path d="M339.4 76.3h0M375.9 61.1h0" stroke="#0000FF" stroke-width="1.76" stroke-linecap="round" fill="none"/>
<path d="M403.7 84.8h0" stroke="#FF0000" stroke-width="1.76" stroke-linecap="round" fill="none"/>
<path d="M357.8 100.9h0M351.6 79.3h0M359.7 55.9h0" stroke="#0000FF" stroke-width="1.76" stroke-linecap="round" fill="none"/>
<path d="M366.0 29.0h0M369.7 83.1h0M357.7 71.8h0M384.2 75.4h0" stroke="#FF0000" stroke-width="1.76" stroke-linecap="round" fill="none"/>
<path d="M349.6 77.5h0" stroke="#0000FF" stroke-width="1.76" stroke-linecap="round" fill="none"/>
<path d="M348.0 79.0h0" stroke="#FF0000" stroke-width="1.76" stroke-linecap="round" fill="none"/>
<path d="M355.9 48.8h0M387.8 52.2h0" stroke="#0000FF" stroke-width="1.76" stroke-linecap="round" fill="none"/>
<path d="M353.9 84.8h0M353.8 55.8h0M404.6 90.1h0M361.8 54.0h0" stroke="#FF0000" stroke-width="1.76" stroke-linecap="round" fill="none"/>
<path d="M355.7 66.3h0M335.8 73.0h0" stroke="#0000FF" stroke-width="1.76" stroke-linecap="round" fill="none"/>
<path d="M371.7 61.4h0M360.0 93.4h0M350.0 79.3h0M355.6 104.1h0" stroke="#FF0000" stroke-width="1.76" stroke-linecap="round" fill="none"/>
<path d="M351.8 52.2h0" stroke="#0000FF" stroke-width="1.76" stroke-linecap="round" fill="none"/>
<path d="M370.0 105.9h0M359.6 68.3h0" stroke="#FF0000" stroke-width="1.76" stroke-linecap="round" fill="none"/>
<path d="M361.6 83.0h0" stroke="#0000FF" stroke-width="1.76" stroke-linecap="round" fill="none"/>
<path d="M372.0 104.2h0M365.7 82.7h0M355.3 84.8h0M346.0 101.0h0M361.9 84.7h0" stroke="#FF0000" stroke-width="1.76" stroke-linecap="round" fill="none"/>
<path d="M377.6 75.9h0" stroke="#0000FF" stroke-width="1.76" stroke-linecap="round" fill="none"/>
<path d="M359.7 86.1h0M357.7 95.5h0" stroke="#FF0000" stroke-width="1.76" stroke-linecap="round" fill="none"/>
<path d="M357.7 109.6h0" stroke="#0000FF" stroke-width="1.76" stroke-linecap="round" fill="none"/>
<path d="M351.7 55.9h0" stroke="#FF0000" stroke-width="1.76" stroke-linecap="round" fill="none"/>
<path d="M361.8 88.4h0" stroke="#0000FF" stroke-width="1.76" stroke-linecap="round" fill="none"/>
<path d="M353.8 77.1h0" stroke="#FF0000" stroke-width="1.76" stroke-linecap="round" fill="none"/>
<path d="M363.8 81.2h0M379.0 94.3h0M356.0 57.5h0M379.6 83.0h0M354.0 91.7h0" stroke="#0000FF" stroke-width="1.76" stroke-linecap="round" fill="none"/>
<path d="M355.6 72.3h0M358.0 87.9h0" stroke="#FF0000" stroke-width="1.76" stroke-linecap="round" fill="none"/>
<path d="M365.8 89.8h0M377.6 66.6h0M361.8 98.8h0M345.7 84.7h0M351.9 80.9h0" stroke="#0000FF" stroke-width="1.76" stroke-linecap="round" fill="none"/>
<path d="M357.9 64.5h0M361.6 83.1h0" stroke="#FF0000" stroke-width="1.76" stroke-linecap="round" fill="none"/>
<path d="M329.1 68.4h0" stroke="#0000FF" stroke-width="1.76" stroke-linecap="round" fill="none"/>
<path d="M367.9 34.4h0M353.7 86.2h0M376.1 93.6h0M349.7 79.4h0" stroke="#FF0000" stroke-width="1.76" stroke-linecap="round" fill="none"/>
<path d="M371.9 66.9h0M381.6 71.1h0" stroke="#0000FF" stroke-width="1.76" stroke-linecap="round" fill="none"/>
<path d="M353.8 72.2h0" stroke="#FF0000" stroke-width="1.76" stroke-linecap="round" fill="none"/>
<path d="M383.1 93.0h0" stroke="#0000FF" stroke-width="1.76" stroke-linecap="round" fill="none"/>
<path d="M351.3 91.1h0M357.2 34.9h0M351.7 73.6h0M357.9 97.0h0M357.8 54.2h0" stroke="#FF0000" stroke-width="1.76" stroke-linecap="round" fill="none"/>
<path d="M363.7 89.8h0M386.2 38.6h0" stroke="#0000FF" stroke-width="1.76" stroke-linecap="round" fill="none"/>
<path d="M349.9 79.2h0M360.9 94.9h0" stroke="#FF0000" stroke-width="1.76" stroke-linecap="round" fill="none"/>
<path d="M396.7 66.4h0" stroke="#0000FF" stroke-width="1.76" stroke-linecap="round" fill="none"/>
<path d="M365.9 55.7h0M369.7 65.0h0M353.7 79.5h0" stroke="#FF0000" stroke-width="1.76" stroke-linecap="round" fill="none"/>
<path d="M394.9 59.8h0M349.9 59.5h0M358.5 89.8h0" stroke="#0000FF" stroke-width="1.76" stroke-linecap="round" fill="none"/>
<path d="M355.7 86.4h0" stroke="#FF0000" stroke-width="1.76" stroke-linecap="round" fill="none"/>
<path d="M353.9 59.2h0M378.0 67.6h0" stroke="#0000FF" stroke-width="1.76" stroke-linecap="round" fill="none"/>
<path d="M400.2 74.1h0M371.6 86.2h0M347.7 75.5h0M369.7 66.4h0" stroke="#FF0000" stroke-width="1.76" stroke-linecap="round" fill="none"/>
<path d="M371.6 79.5h0" stroke="#0000FF" stroke-width="1.76" stroke-linecap="round" fill="none"/>
<path d="M367.7 75.7h0M341.0 96.1h0M357.6 86.5h0" stroke="#FF0000" stroke-width="1.76" stroke-linecap="round" fill="none"/>
<path d="M349.8 79.5h0M364.0 88.3h0M356.0 70.1h0" stroke="#0000FF" stroke-width="1.76" stroke-linecap="round" fill="none"/>
<path d="M369.9 77.2h0" stroke="#FF0000" stroke-width="1.76" stroke-linecap="round" fill="none"/>
<path d="M342.6 62.7h0" stroke="#0000FF" stroke-width="1.76" stroke-linecap="round" fill="none"/>
<path d="M326.0 69.7h0M361.7 82.8h0M354.0 86.5h0M347.9 91.6h0M373.7 95.1h0M388.0 102.3h0M377.5 84.9h0M353.6 77.1h0M358.0 54.3h0" stroke="#FF0000" stroke-width="1.76" stroke-linecap="round" fill="none"/>
<path d="M380.0 45.2h0M383.7 77.6h0" stroke="#0000FF" stroke-width="1.76" stroke-linecap="round" fill="none"/>
<path d="M361.0 74.4h0" stroke="#FF0000" stroke-width="1.76" stroke-linecap="round" fill="none"/>
<path d="M359.7 93.4h0M378.5 54.3h0M369.8 82.7h0" stroke="#0000FF" stroke-width="1.76" stroke-linecap="round" fill="none"/>
<path d="M371.7 95.3h0" stroke="#FF0000" stroke-width="1.76" stroke-linecap="round" fill="none"/>
<path d="M372.0 64.9h0M364.0 57.4h0" stroke="#0000FF" stroke-width="1.76" stroke-linecap="round" fill="none"/>
<path d="M353.8 80.9h0" stroke="#FF0000" stroke-width="1.76" stroke-linecap="round" fill="none"/>
<path d="M391.6 93.7h0" stroke="#0000FF" stroke-width="1.76" stroke-linecap="round" fill="none"/>
<path d="M364.0 83.0h0" stroke="#FF0000" stroke-width="1.76" stroke-linecap="round" fill="none"/>
<path d="M360.0 73.5h0M379.9 86.6h0" stroke="#0000FF" stroke-width="1.76" stroke-linecap="round" fill="none"/>
<path d="M369.8 54.2h0M362.0 77.5h0M381.7 75.7h0M359.6 52.5h0" stroke="#FF0000" stroke-width="1.76" stroke-linecap="round" fill="none"/>
<path d="M364.4 51.3h0" stroke="#0000FF" stroke-width="1.76" stroke-linecap="round" fill="none"/>
<path d="M359.9 84.6h0" stroke="#FF0000" stroke-width="1.76" stroke-linecap="round" fill="none"/>
<path d="M383.7 57.3h0M352.0 73.6h0" stroke="#0000FF" stroke-width="1.76" stroke-linecap="round" fill="none"/>
<path d="M356.7 82.8h0M338.5 72.7h0" stroke="#FF0000" stroke-width="1.76" stroke-linecap="round" fill="none"/>
<path d="M353.7 84.8h0" stroke="#0000FF" stroke-width="1.76" stroke-linecap="round" fill="none"/>
<path d="M351.6 61.2h0" stroke="#FF0000" stroke-width="1.76" stroke-linecap="round" fill="none"/>
<path d="M377.7 97.4h0M359.6 64.6h0M349.8 66.5h0" stroke="#0000FF" stroke-width="1.76" stroke-linecap="round" fill="none"/>
<path d="M353.8 75.7h0M349.8 73.5h0" stroke="#FF0000" stroke-width="1.76" stroke-linecap="round" fill="none"/>
<path d="M358.0 59.6h0M355.6 84.7h0" stroke="#0000FF" stroke-width="1.76" stroke-linecap="round" fill="none"/>
<path d="M350.0 91.9h0M355.9 106.1h0" stroke="#FF0000" stroke-width="1.76" stroke-linecap="round" fill="none"/>
<path d="M349.8 48.3h0" stroke="#0000FF" stroke-width="1.76" stroke-linecap="round" fill="none"/>
<path d="M351.8 66.6h0" stroke="#FF0000" stroke-width="1.76" stroke-linecap="round" fill="none"/>
<path d="M416.4 78.1h0" stroke="#0000FF" stroke-width="1.76" stroke-linecap="round" fill="none"/>
<path d="M379.9 93.8h0" stroke="#FF0000" stroke-width="1.76" stroke-linecap="round" fill="none"/>
<path d="M350.3 120.9h0" stroke="#0000FF" stroke-width="1.76" stroke-linecap="round" fill="none"/>
<path d="M353.8 116.8h0" stroke="#FF0000" stroke-width="1.76" stroke-linecap="round" fill="none"/>
<path d="M338.2 46.7h0" stroke="#0000FF" stroke-width="1.76" stroke-linecap="round" fill="none"/>
<path d="M353.6 44.9h0" stroke="#FF0000" stroke-width="1.76" stroke-linecap="round" fill="none"/>
<path d="M347.2 61.7h0" stroke="#0000FF" stroke-width="1.76" stroke-linecap="round" fill="none"/>
<path d="M358.0 111.6h0M355.6 59.1h0" stroke="#FF0000" stroke-width="1.76" stroke-linecap="round" fill="none"/>
<path d="M359.8 83.0h0M353.7 75.3h0" stroke="#0000FF" stroke-width="1.76" stroke-linecap="round" fill="none"/>
<path d="M359.6 52.3h0M369.6 48.5h0" stroke="#FF0000" stroke-width="1.76" stroke-linecap="round" fill="none"/>
<path d="M375.7 57.5h0" stroke="#0000FF" stroke-width="1.76" stroke-linecap="round" fill="none"/>
<path d="M349.8 98.8h0" stroke="#FF0000" stroke-width="1.76" stroke-linecap="round" fill="none"/>
<path d="M385.8 62.8h0M370.0 79.2h0" stroke="#0000FF" stroke-width="1.76" stroke-linecap="round" fill="none"/>
<path d="M399.5 101.1h0" stroke="#FF0000" stroke-width="1.76" stroke-linecap="round" fill="none"/>
<path d="M359.7 57.6h0" stroke="#0000FF" stroke-width="1.76" stroke-linecap="round" fill="none"/>
<path d="M439.5 68.8h0" stroke="#FF0000" stroke-width="1.76" stroke-linecap="round" fill="none"/>
<path d="M449.6 83.7h0M353.6 61.1h0M365.8 59.5h0" stroke="#0000FF" stroke-width="1.76" stroke-linecap="round" fill="none"/>
<path d="M351.6 95.7h0M352.0 83.0h0M350.8 81.6h0" stroke="#FF0000" stroke-width="1.76" stroke-linecap="round" fill="none"/>
<path d="M369.1 53.3h0M363.8 93.8h0" stroke="#0000FF" stroke-width="1.76" stroke-linecap="round" fill="none"/>
<path d="M357.9 100.8h0" stroke="#FF0000" stroke-width="1.76" stroke-linecap="round" fill="none"/>
<path d="M371.7 77.1h0" stroke="#0000FF" stroke-width="1.76" stroke-linecap="round" fill="none"/>
<path d="M391.9 46.9h0M347.9 95.2h0" stroke="#FF0000" stroke-width="1.76" stroke-linecap="round" fill="none"/>
<path d="M351.7 73.9h0M386.4 90.3h0" stroke="#0000FF" stroke-width="1.76" stroke-linecap="round" fill="none"/>
<path d="M349.8 88.2h0" stroke="#FF0000" stroke-width="1.76" stroke-linecap="round" fill="none"/>
<path d="M349.8 93.7h0M353.8 68.4h0" stroke="#0000FF" stroke-width="1.76" stroke-linecap="round" fill="none"/>
<path d="M365.7 34.1h0" stroke="#FF0000" stroke-width="1.76" stroke-linecap="round" fill="none"/>
<path d="M368.0 75.7h0M369.9 70.0h0" stroke="#0000FF" stroke-width="1.76" stroke-linecap="round" fill="none"/>
<path d="M357.6 68.2h0" stroke="#FF0000" stroke-width="1.76" stroke-linecap="round" fill="none"/>
<path d="M378.5 70.3h0M375.8 66.6h0" stroke="#0000FF" stroke-width="1.76" stroke-linecap="round" fill="none"/>
<path d="M364.0 86.1h0M377.9 65.0h0M355.9 92.1h0" stroke="#FF0000" stroke-width="1.76" stroke-linecap="round" fill="none"/>
<path d="M367.9 91.5h0M371.9 66.8h0" stroke="#0000FF" stroke-width="1.76" stroke-linecap="round" fill="none"/>
<path d="M412.3 60.5h0M366.0 80.9h0" stroke="#FF0000" stroke-width="1.76" stroke-linecap="round" fill="none"/>
<path d="M351.8 61.4h0" stroke="#0000FF" stroke-width="1.76" stroke-linecap="round" fill="none"/>
<path d="M362.0 73.6h0M358.0 77.3h0M365.9 89.8h0M353.8 95.7h0M345.9 97.5h0M378.3 121.3h0M399.9 79.3h0M357.6 91.9h0" stroke="#FF0000" stroke-width="1.76" stroke-linecap="round" fill="none"/>
<path d="M351.9 88.0h0" stroke="#0000FF" stroke-width="1.76" stroke-linecap="round" fill="none"/>
<path d="M366.6 85.2h0" stroke="#FF0000" stroke-width="1.76" stroke-linecap="round" fill="none"/>
<path d="M387.8 28.8h0" stroke="#0000FF" stroke-width="1.76" stroke-linecap="round" fill="none"/>
<path d="M365.6 57.7h0M351.7 89.9h0M357.8 82.5h0M365.9 33.9h0M365.6 86.6h0M373.9 97.3h0M353.8 82.8h0M359.6 82.7h0M358.0 61.2h0M357.7 38.0h0" stroke="#FF0000" stroke-width="1.76" stroke-linecap="round" fill="none"/>
<path d="M374.0 50.6h0M352.0 59.3h0" stroke="#0000FF" stroke-width="1.76" stroke-linecap="round" fill="none"/>
<path d="M355.8 82.7h0" stroke="#FF0000" stroke-width="1.76" stroke-linecap="round" fill="none"/>
<path d="M385.6 86.6h0M359.8 93.8h0" stroke="#0000FF" stroke-width="1.76" stroke-linecap="round" fill="none"/>
<path d="M359.7 117.1h0M353.6 84.5h0M363.8 52.3h0M369.9 81.0h0" stroke="#FF0000" stroke-width="1.76" stroke-linecap="round" fill="none"/>
<path d="M357.7 68.3h0" stroke="#0000FF" stroke-width="1.76" stroke-linecap="round" fill="none"/>
<path d="M363.8 66.3h0M363.9 57.4h0M336.0 97.5h0M367.9 90.0h0" stroke="#FF0000" stroke-width="1.76" stroke-linecap="round" fill="none"/>
<path d="M358.0 80.7h0M342.5 74.4h0" stroke="#0000FF" stroke-width="1.76" stroke-linecap="round" fill="none"/>
<path d="M375.9 75.6h0M347.7 66.3h0" stroke="#FF0000" stroke-width="1.76" stroke-linecap="round" fill="none"/>
<path d="M347.7 89.8h0" stroke="#0000FF" stroke-width="1.76" stroke-linecap="round" fill="none"/>
<path d="M349.6 88.0h0" stroke="#FF0000" stroke-width="1.76" stroke-linecap="round" fill="none"/>
<path d="M345.8 91.9h0" stroke="#0000FF" stroke-width="1.76" stroke-linecap="round" fill="none"/>
<path d="M367.9 93.5h0M351.9 70.2h0M364.0 91.7h0M368.0 45.2h0M349.8 108.0h0M347.6 84.6h0M352.5 80.1h0M369.8 43.0h0M371.6 86.6h0M363.9 93.9h0" stroke="#FF0000" stroke-width="1.76" stroke-linecap="round" fill="none"/>
<path d="M349.7 57.8h0" stroke="#0000FF" stroke-width="1.76" stroke-linecap="round" fill="none"/>
<path d="M367.8 92.1h0" stroke="#FF0000" stroke-width="1.76" stroke-linecap="round" fill="none"/>
<path d="M340.0 65.3h0M365.9 100.5h0" stroke="#0000FF" stroke-width="1.76" stroke-linecap="round" fill="none"/>
<path d="M355.9 43.1h0M363.6 54.0h0" stroke="#FF0000" stroke-width="1.76" stroke-linecap="round" fill="none"/>
<path d="M369.6 104.2h0M381.1 78.9h0" stroke="#0000FF" stroke-width="1.76" stroke-linecap="round" fill="none"/>
<path d="M375.6 84.8h0M351.9 26.8h0M360.0 88.4h0M349.7 70.1h0" stroke="#FF0000" stroke-width="1.76" stroke-linecap="round" fill="none"/>
<path d="M347.7 79.4h0" stroke="#0000FF" stroke-width="1.76" stroke-linecap="round" fill="none"/>
<path d="M362.0 72.1h0M366.0 64.9h0M363.7 90.3h0" stroke="#FF0000" stroke-width="1.76" stroke-linecap="round" fill="none"/>
<path d="M381.7 71.9h0" stroke="#0000FF" stroke-width="1.76" stroke-linecap="round" fill="none"/>
<path d="M354.0 102.4h0" stroke="#FF0000" stroke-width="1.76" stroke-linecap="round" fill="none"/>
<path d="M369.9 64.7h0" stroke="#0000FF" stroke-width="1.76" stroke-linecap="round" fill="none"/>
<path d="M373.6 77.2h0M360.0 95.7h0M355.8 86.1h0" stroke="#FF0000" stroke-width="1.76" stroke-linecap="round" fill="none"/>
<path d="M384.2 85.0h0M358.0 86.3h0M373.9 79.2h0" stroke="#0000FF" stroke-width="1.76" stroke-linecap="round" fill="none"/>
<path d="M366.0 68.2h0M367.7 88.0h0" stroke="#FF0000" stroke-width="1.76" stroke-linecap="round" fill="none"/>
<path d="M361.9 70.2h0" stroke="#0000FF" stroke-width="1.76" stroke-linecap="round" fill="none"/>
<path d="M372.3 61.9h0" stroke="#FF0000" stroke-width="1.76" stroke-linecap="round" fill="none"/>
<path d="M353.9 84.4h0" stroke="#0000FF" stroke-width="1.76" stroke-linecap="round" fill="none"/>
<path d="M369.8 79.2h0M358.0 61.3h0" stroke="#FF0000" stroke-width="1.76" stroke-linecap="round" fill="none"/>
<path d="M381.6 72.3h0" stroke="#0000FF" stroke-width="1.76" stroke-linecap="round" fill="none"/>
<path d="M365.8 97.1h0M363.6 88.2h0" stroke="#FF0000" stroke-width="1.76" stroke-linecap="round" fill="none"/>
<path d="M347.7 57.8h0" stroke="#0000FF" stroke-width="1.76" stroke-linecap="round" fill="none"/>
<path d="M360.0 90.0h0M353.6 79.2h0M349.7 93.5h0M363.7 64.8h0" stroke="#FF0000" stroke-width="1.76" stroke-linecap="round" fill="none"/>
<path d="M355.6 54.0h0" stroke="#0000FF" stroke-width="1.76" stroke-linecap="round" fill="none"/>
<path d="M363.7 68.7h0" stroke="#FF0000" stroke-width="1.76" stroke-linecap="round" fill="none"/>
<path d="M373.7 55.8h0" stroke="#0000FF" stroke-width="1.76" stroke-linecap="round" fill="none"/>
<path d="M365.9 65.0h0M362.0 98.9h0" stroke="#FF0000" stroke-width="1.76" stroke-linecap="round" fill="none"/>
<path d="M351.9 81.0h0" stroke="#0000FF" stroke-width="1.76" stroke-linecap="round" fill="none"/>
<path d="M355.9 88.4h0M364.0 75.5h0M359.8 93.4h0M404.9 115.9h0" stroke="#FF0000" stroke-width="1.76" stroke-linecap="round" fill="none"/>
<path d="M345.7 99.3h0" stroke="#0000FF" stroke-width="1.76" stroke-linecap="round" fill="none"/>
<path d="M368.0 55.6h0M353.9 93.5h0" stroke="#FF0000" stroke-width="1.76" stroke-linecap="round" fill="none"/>
<path d="M373.8 77.6h0M354.0 86.4h0M371.7 59.7h0" stroke="#0000FF" stroke-width="1.76" stroke-linecap="round" fill="none"/>
<path d="M376.0 90.2h0" stroke="#FF0000" stroke-width="1.76" stroke-linecap="round" fill="none"/>
<path d="M381.7 72.1h0" stroke="#0000FF" stroke-width="1.76" stroke-linecap="round" fill="none"/>
<path d="M365.9 43.0h0M351.8 55.8h0" stroke="#FF0000" stroke-width="1.76" stroke-linecap="round" fill="none"/>
<path d="M377.7 81.0h0" stroke="#0000FF" stroke-width="1.76" stroke-linecap="round" fill="none"/>
<path d="M363.7 57.9h0" stroke="#FF0000" stroke-width="1.76" stroke-linecap="round" fill="none"/>
<path d="M361.7 70.3h0M365.8 68.6h0M376.0 74.1h0" stroke="#0000FF" stroke-width="1.76" stroke-linecap="round" fill="none"/>
<path d="M351.8 74.0h0M360.0 89.8h0" stroke="#FF0000" stroke-width="1.76" stroke-linecap="round" fill="none"/>
<path d="M353.6 93.6h0" stroke="#0000FF" stroke-width="1.76" stroke-linecap="round" fill="none"/>
<path d="M357.9 75.5h0" stroke="#FF0000" stroke-width="1.76" stroke-linecap="round" fill="none"/>
<path d="M365.7 82.9h0M359.8 66.6h0M373.8 70.2h0" stroke="#0000FF" stroke-width="1.76" stroke-linecap="round" fill="none"/>
<path d="M356.0 66.5h0M355.7 61.3h0M356.0 73.5h0" stroke="#FF0000" stroke-width="1.76" stroke-linecap="round" fill="none"/>
<path d="M397.6 81.3h0" stroke="#0000FF" stroke-width="1.76" stroke-linecap="round" fill="none"/>
<path d="M369.6 63.2h0" stroke="#FF0000" stroke-width="1.76" stroke-linecap="round" fill="none"/>
<path d="M351.6 66.3h0" stroke="#0000FF" stroke-width="1.76" stroke-linecap="round" fill="none"/>
<path d="M354.0 95.4h0M373.9 74.1h0" stroke="#FF0000" stroke-width="1.76" stroke-linecap="round" fill="none"/>
<path d="M355.8 88.4h0M351.9 59.5h0M392.0 70.3h0" stroke="#0000FF" stroke-width="1.76" stroke-linecap="round" fill="none"/>
<path d="M357.7 44.8h0M358.0 80.8h0M337.1 57.7h0" stroke="#FF0000" stroke-width="1.76" stroke-linecap="round" fill="none"/>
<path d="M362.0 52.3h0M363.9 70.2h0M367.7 61.5h0" stroke="#0000FF" stroke-width="1.76" stroke-linecap="round" fill="none"/>
<path d="M384.0 100.7h0M341.8 69.0h0M373.9 57.8h0M355.6 55.9h0M375.0 103.1h0M363.6 90.0h0" stroke="#FF0000" stroke-width="1.76" stroke-linecap="round" fill="none"/>
<path d="M385.7 70.3h0" stroke="#0000FF" stroke-width="1.76" stroke-linecap="round" fill="none"/>
<path d="M432.3 77.0h0M352.0 79.4h0M356.0 88.2h0M377.6 43.1h0M351.9 63.1h0" stroke="#FF0000" stroke-width="1.76" stroke-linecap="round" fill="none"/>
<path d="M349.6 102.4h0" stroke="#0000FF" stroke-width="1.76" stroke-linecap="round" fill="none"/>
<path d="M364.0 77.2h0" stroke="#FF0000" stroke-width="1.76" stroke-linecap="round" fill="none"/>
<path d="M365.8 80.9h0M352.0 57.8h0" stroke="#0000FF" stroke-width="1.76" stroke-linecap="round" fill="none"/>
<path d="M366.0 97.2h0M359.9 86.4h0" stroke="#FF0000" stroke-width="1.76" stroke-linecap="round" fill="none"/>
<path d="M365.7 75.3h0M357.7 64.6h0" stroke="#0000FF" stroke-width="1.76" stroke-linecap="round" fill="none"/>
<path d="M359.9 68.3h0" stroke="#FF0000" stroke-width="1.76" stroke-linecap="round" fill="none"/>
<path d="M351.9 73.7h0" stroke="#0000FF" stroke-width="1.76" stroke-linecap="round" fill="none"/>
<path d="M361.6 66.8h0M347.9 104.2h0M348.0 38.9h0M357.9 81.3h0M347.7 104.4h0M362.6 84.4h0M355.8 93.5h0M367.7 77.2h0" stroke="#FF0000" stroke-width="1.76" stroke-linecap="round" fill="none"/>
<path d="M365.7 47.0h0" stroke="#0000FF" stroke-width="1.76" stroke-linecap="round" fill="none"/>
<path d="M355.9 82.9h0M351.9 79.5h0M353.9 77.3h0" stroke="#FF0000" stroke-width="1.76" stroke-linecap="round" fill="none"/>
<path d="M358.0 86.2h0" stroke="#0000FF" stroke-width="1.76" stroke-linecap="round" fill="none"/>
<path d="M466.5 83.0h0" stroke="#FF0000" stroke-width="1.76" stroke-linecap="round" fill="none"/>
<path d="M348.0 86.7h0M373.8 50.3h0" stroke="#0000FF" stroke-width="1.76" stroke-linecap="round" fill="none"/>
<path d="M363.9 75.5h0M363.2 93.4h0" stroke="#FF0000" stroke-width="1.76" stroke-linecap="round" fill="none"/>
<path d="M415.9 56.4h0" stroke="#0000FF" stroke-width="1.76" stroke-linecap="round" fill="none"/>
<path d="M353.9 78.9h0M357.7 75.8h0M379.2 71.5h0" stroke="#FF0000" stroke-width="1.76" stroke-linecap="round" fill="none"/>
<path d="M369.6 77.2h0" stroke="#0000FF" stroke-width="1.76" stroke-linecap="round" fill="none"/>
<path d="M351.9 71.7h0M361.7 99.0h0" stroke="#FF0000" stroke-width="1.76" stroke-linecap="round" fill="none"/>
<path d="M359.7 75.5h0M353.8 86.5h0M318.6 64.2h0M345.8 68.8h0" stroke="#0000FF" stroke-width="1.76" stroke-linecap="round" fill="none"/>
<path d="M371.6 25.1h0M372.8 45.6h0M385.9 91.8h0M352.0 90.1h0" stroke="#FF0000" stroke-width="1.76" stroke-linecap="round" fill="none"/>
<path d="M353.9 73.5h0" stroke="#0000FF" stroke-width="1.76" stroke-linecap="round" fill="none"/>
<path d="M347.9 70.0h0M359.8 54.1h0" stroke="#FF0000" stroke-width="1.76" stroke-linecap="round" fill="none"/>
<path d="M370.0 68.8h0" stroke="#0000FF" stroke-width="1.76" stroke-linecap="round" fill="none"/>
<path d="M342.8 82.5h0M360.0 54.1h0" stroke="#FF0000" stroke-width="1.76" stroke-linecap="round" fill="none"/>
<path d="M373.1 100.1h0M418.7 83.5h0" stroke="#0000FF" stroke-width="1.76" stroke-linecap="round" fill="none"/>
<path d="M345.8 65.2h0M357.8 70.2h0M361.6 88.5h0" stroke="#FF0000" stroke-width="1.76" stroke-linecap="round" fill="none"/>
<path d="M360.0 93.5h0" stroke="#0000FF" stroke-width="1.76" stroke-linecap="round" fill="none"/>
<path d="M379.6 59.1h0M355.6 86.7h0M360.0 91.8h0M359.6 75.6h0" stroke="#FF0000" stroke-width="1.76" stroke-linecap="round" fill="none"/>
<path d="M379.6 61.1h0M353.6 80.9h0" stroke="#0000FF" stroke-width="1.76" stroke-linecap="round" fill="none"/>
<path d="M365.6 91.5h0" stroke="#FF0000" stroke-width="1.76" stroke-linecap="round" fill="none"/>
<path d="M366.0 71.8h0M353.8 62.7h0M358.2 71.2h0" stroke="#0000FF" stroke-width="1.76" stroke-linecap="round" fill="none"/>
<path d="M350.0 59.3h0M355.8 91.8h0" stroke="#FF0000" stroke-width="1.76" stroke-linecap="round" fill="none"/>
<path d="M356.0 70.3h0M351.6 68.6h0" stroke="#0000FF" stroke-width="1.76" stroke-linecap="round" fill="none"/>
<path d="M357.9 91.9h0M357.7 72.2h0" stroke="#FF0000" stroke-width="1.76" stroke-linecap="round" fill="none"/>
<path d="M361.7 95.3h0" stroke="#0000FF" stroke-width="1.76" stroke-linecap="round" fill="none"/>
<path d="M351.9 75.7h0M354.0 61.3h0M345.2 54.5h0M357.8 73.7h0M353.8 84.7h0M362.0 89.9h0" stroke="#FF0000" stroke-width="1.76" stroke-linecap="round" fill="none"/>
<path d="M382.0 79.3h0M353.9 88.5h0M465.6 76.4h0" stroke="#0000FF" stroke-width="1.76" stroke-linecap="round" fill="none"/>
<path d="M363.8 51.1h0M359.7 72.2h0M355.7 82.8h0M365.7 46.9h0" stroke="#FF0000" stroke-width="1.76" stroke-linecap="round" fill="none"/>
<path d="M359.7 43.0h0" stroke="#0000FF" stroke-width="1.76" stroke-linecap="round" fill="none"/>
<path d="M355.9 53.8h0M395.6 67.6h0M402.9 52.6h0M353.7 97.2h0M361.8 82.8h0M373.6 95.0h0" stroke="#FF0000" stroke-width="1.76" stroke-linecap="round" fill="none"/>
<path d="M393.8 81.2h0M371.9 37.5h0" stroke="#0000FF" stroke-width="1.76" stroke-linecap="round" fill="none"/>
<path d="M359.8 64.6h0" stroke="#FF0000" stroke-width="1.76" stroke-linecap="round" fill="none"/>
<path d="M394.4 104.4h0" stroke="#0000FF" stroke-width="1.76" stroke-linecap="round" fill="none"/>
<path d="M367.0 100.0h0M371.7 59.5h0M387.8 55.5h0M359.6 82.7h0" stroke="#FF0000" stroke-width="1.76" stroke-linecap="round" fill="none"/>
<path d="M353.9 93.5h0M359.8 72.1h0" stroke="#0000FF" stroke-width="1.76" stroke-linecap="round" fill="none"/>
<path d="M353.9 84.8h0" stroke="#FF0000" stroke-width="1.76" stroke-linecap="round" fill="none"/>
<path d="M339.2 73.1h0" stroke="#0000FF" stroke-width="1.76" stroke-linecap="round" fill="none"/>
<path d="M369.7 82.7h0" stroke="#FF0000" stroke-width="1.76" stroke-linecap="round" fill="none"/>
<path d="M355.7 77.6h0M353.7 75.9h0" stroke="#0000FF" stroke-width="1.76" stroke-linecap="round" fill="none"/>
<path d="M353.9 91.7h0M345.6 95.5h0M365.7 88.0h0M353.9 74.1h0M369.8 82.9h0M373.7 71.8h0" stroke="#FF0000" stroke-width="1.76" stroke-linecap="round" fill="none"/>
<path d="M371.7 35.9h0" stroke="#0000FF" stroke-width="1.76" stroke-linecap="round" fill="none"/>
<path d="M347.6 68.4h0M347.6 84.7h0" stroke="#FF0000" stroke-width="1.76" stroke-linecap="round" fill="none"/>
<path d="M365.6 63.2h0" stroke="#0000FF" stroke-width="1.76" stroke-linecap="round" fill="none"/>
<path d="M385.7 41.4h0M359.6 82.6h0M359.7 84.4h0M433.6 89.7h0M359.8 66.7h0M349.8 73.6h0M363.9 84.7h0M423.8 82.4h0" stroke="#FF0000" stroke-width="1.76" stroke-linecap="round" fill="none"/>
<path d="M353.9 88.1h0" stroke="#0000FF" stroke-width="1.76" stroke-linecap="round" fill="none"/>
<path d="M361.8 63.3h0" stroke="#FF0000" stroke-width="1.76" stroke-linecap="round" fill="none"/>
<path d="M369.8 95.5h0" stroke="#0000FF" stroke-width="1.76" stroke-linecap="round" fill="none"/>
<path d="M357.6 79.2h0" stroke="#FF0000" stroke-width="1.76" stroke-linecap="round" fill="none"/>
<path d="M363.7 82.9h0" stroke="#0000FF" stroke-width="1.76" stroke-linecap="round" fill="none"/>
<path d="M327.2 76.2h0M371.9 63.1h0" stroke="#FF0000" stroke-width="1.76" stroke-linecap="round" fill="none"/>
<path d="M359.9 97.4h0M357.9 72.3h0" stroke="#0000FF" stroke-width="1.76" stroke-linecap="round" fill="none"/>
<path d="M401.0 52.8h0" stroke="#FF0000" stroke-width="1.76" stroke-linecap="round" fill="none"/>
<path d="M367.9 68.3h0" stroke="#0000FF" stroke-width="1.76" stroke-linecap="round" fill="none"/>
<path d="M347.9 77.4h0M371.9 90.1h0M353.8 86.3h0" stroke="#FF0000" stroke-width="1.76" stroke-linecap="round" fill="none"/>
<path d="M355.9 80.9h0M351.7 89.8h0M393.7 86.4h0M359.9 47.0h0" stroke="#0000FF" stroke-width="1.76" stroke-linecap="round" fill="none"/>
<path d="M378.6 87.3h0M361.6 92.0h0" stroke="#FF0000" stroke-width="1.76" stroke-linecap="round" fill="none"/>
<path d="M378.4 78.0h0M352.0 88.4h0" stroke="#0000FF" stroke-width="1.76" stroke-linecap="round" fill="none"/>
<path d="M387.2 84.5h0M407.6 72.2h0" stroke="#FF0000" stroke-width="1.76" stroke-linecap="round" fill="none"/>
<path d="M355.6 62.9h0" stroke="#0000FF" stroke-width="1.76" stroke-linecap="round" fill="none"/>
<path d="M375.9 39.4h0" stroke="#FF0000" stroke-width="1.76" stroke-linecap="round" fill="none"/>
<path d="M363.6 88.1h0M367.6 95.6h0" stroke="#0000FF" stroke-width="1.76" stroke-linecap="round" fill="none"/>
<path d="M362.0 61.4h0" stroke="#FF0000" stroke-width="1.76" stroke-linecap="round" fill="none"/>
<path d="M357.6 63.3h0M359.9 64.7h0M416.1 96.9h0M343.6 62.8h0M373.6 66.4h0" stroke="#0000FF" stroke-width="1.76" stroke-linecap="round" fill="none"/>
<path d="M357.6 95.3h0" stroke="#FF0000" stroke-width="1.76" stroke-linecap="round" fill="none"/>
<path d="M349.6 74.0h0" stroke="#0000FF" stroke-width="1.76" stroke-linecap="round" fill="none"/>
<path d="M377.0 60.7h0M358.0 73.6h0" stroke="#FF0000" stroke-width="1.76" stroke-linecap="round" fill="none"/>
<path d="M362.0 93.7h0" stroke="#0000FF" stroke-width="1.76" stroke-linecap="round" fill="none"/>
<path d="M353.7 99.3h0M359.7 61.3h0" stroke="#FF0000" stroke-width="1.76" stroke-linecap="round" fill="none"/>
<path d="M337.1 53.0h0M349.7 93.7h0" stroke="#0000FF" stroke-width="1.76" stroke-linecap="round" fill="none"/>
<path d="M361.6 77.2h0" stroke="#FF0000" stroke-width="1.76" stroke-linecap="round" fill="none"/>
<path d="M363.9 55.7h0" stroke="#0000FF" stroke-width="1.76" stroke-linecap="round" fill="none"/>
<path d="M359.6 89.8h0M359.9 73.8h0M361.6 53.9h0M401.5 90.4h0M361.9 83.0h0M347.9 71.8h0" stroke="#FF0000" stroke-width="1.76" stroke-linecap="round" fill="none"/>
<path d="M357.9 75.4h0" stroke="#0000FF" stroke-width="1.76" stroke-linecap="round" fill="none"/>
<path d="M396.0 68.1h0" stroke="#FF0000" stroke-width="1.76" stroke-linecap="round" fill="none"/>
<path d="M405.7 75.8h0" stroke="#0000FF" stroke-width="1.76" stroke-linecap="round" fill="none"/>
<path d="M350.0 80.8h0" stroke="#FF0000" stroke-width="1.76" stroke-linecap="round" fill="none"/>
<path d="M366.6 67.6h0M356.0 81.1h0" stroke="#0000FF" stroke-width="1.76" stroke-linecap="round" fill="none"/>
<path d="M361.8 50.7h0M358.0 86.4h0M349.7 70.4h0M377.1 83.6h0M353.6 86.4h0M349.6 82.6h0M361.8 61.4h0M353.6 68.3h0M354.0 88.3h0M377.4 54.8h0" stroke="#FF0000" stroke-width="1.76" stroke-linecap="round" fill="none"/>
<path d="M361.9 59.3h0" stroke="#0000FF" stroke-width="1.76" stroke-linecap="round" fill="none"/>
<path d="M371.6 76.2h0M351.7 84.3h0" stroke="#FF0000" stroke-width="1.76" stroke-linecap="round" fill="none"/>
<path d="M358.0 70.4h0M371.9 93.6h0" stroke="#0000FF" stroke-width="1.76" stroke-linecap="round" fill="none"/>
<path d="M345.8 91.5h0M353.7 86.5h0" stroke="#FF0000" stroke-width="1.76" stroke-linecap="round" fill="none"/>
<path d="M369.9 61.2h0" stroke="#0000FF" stroke-width="1.76" stroke-linecap="round" fill="none"/>
<path d="M362.0 43.4h0" stroke="#FF0000" stroke-width="1.76" stroke-linecap="round" fill="none"/>
<path d="M376.4 75.1h0M423.3 94.1h0" stroke="#0000FF" stroke-width="1.76" stroke-linecap="round" fill="none"/>
<path d="M389.0 74.9h0M363.6 30.8h0" stroke="#FF0000" stroke-width="1.76" stroke-linecap="round" fill="none"/>
<path d="M370.2 76.8h0" stroke="#0000FF" stroke-width="1.76" stroke-linecap="round" fill="none"/>
<path d="M353.7 72.0h0" stroke="#FF0000" stroke-width="1.76" stroke-linecap="round" fill="none"/>
<path d="M366.0 97.3h0M365.9 66.5h0" stroke="#0000FF" stroke-width="1.76" stroke-linecap="round" fill="none"/>
<path d="M373.8 46.7h0M359.7 91.8h0M359.7 97.2h0M359.6 82.9h0M430.9 61.8h0" stroke="#FF0000" stroke-width="1.76" stroke-linecap="round" fill="none"/>
<path d="M359.8 87.9h0" stroke="#0000FF" stroke-width="1.76" stroke-linecap="round" fill="none"/>
<path d="M346.0 106.0h0" stroke="#FF0000" stroke-width="1.76" stroke-linecap="round" fill="none"/>
<path d="M363.7 95.3h0" stroke="#0000FF" stroke-width="1.76" stroke-linecap="round" fill="none"/>
<path d="M353.6 102.5h0M353.6 86.2h0" stroke="#FF0000" stroke-width="1.76" stroke-linecap="round" fill="none"/>
<path d="M357.8 98.9h0" stroke="#0000FF" stroke-width="1.76" stroke-linecap="round" fill="none"/>
<path d="M469.8 75.3h0M359.4 66.1h0" stroke="#FF0000" stroke-width="1.76" stroke-linecap="round" fill="none"/>
<path d="M371.2 63.7h0M349.7 81.0h0M357.8 81.1h0M365.7 86.7h0M363.1 99.2h0" stroke="#0000FF" stroke-width="1.76" stroke-linecap="round" fill="none"/>
<path d="M347.6 72.2h0M366.0 78.9h0" stroke="#FF0000" stroke-width="1.76" stroke-linecap="round" fill="none"/>
<path d="M355.7 89.9h0M445.2 103.0h0" stroke="#0000FF" stroke-width="1.76" stroke-linecap="round" fill="none"/>
<path d="M360.0 97.1h0M417.3 88.7h0M372.2 82.2h0M361.6 70.4h0M375.8 77.3h0M355.6 95.6h0M363.9 97.1h0M361.9 57.7h0M378.0 68.7h0M353.6 68.2h0M351.6 88.2h0" stroke="#FF0000" stroke-width="1.76" stroke-linecap="round" fill="none"/>
<path d="M354.5 83.6h0M357.8 72.0h0" stroke="#0000FF" stroke-width="1.76" stroke-linecap="round" fill="none"/>
<path d="M361.9 82.6h0M402.1 86.5h0" stroke="#FF0000" stroke-width="1.76" stroke-linecap="round" fill="none"/>
<path d="M355.7 66.8h0M355.9 97.3h0M359.9 75.6h0" stroke="#0000FF" stroke-width="1.76" stroke-linecap="round" fill="none"/>
<path d="M359.7 64.9h0M355.7 93.3h0" stroke="#FF0000" stroke-width="1.76" stroke-linecap="round" fill="none"/>
<path d="M351.8 52.5h0M368.0 50.1h0" stroke="#0000FF" stroke-width="1.76" stroke-linecap="round" fill="none"/>
<path d="M373.7 41.2h0M362.0 62.8h0M377.6 63.0h0M368.0 88.2h0M394.9 51.6h0M373.9 47.1h0" stroke="#FF0000" stroke-width="1.76" stroke-linecap="round" fill="none"/>
<path d="M399.5 68.3h0M369.8 88.3h0" stroke="#0000FF" stroke-width="1.76" stroke-linecap="round" fill="none"/>
<path d="M353.7 56.1h0" stroke="#FF0000" stroke-width="1.76" stroke-linecap="round" fill="none"/>
<path d="M353.6 59.7h0M367.9 73.5h0" stroke="#0000FF" stroke-width="1.76" stroke-linecap="round" fill="none"/>
<path d="M355.9 66.3h0M410.9 113.3h0M352.0 75.6h0" stroke="#FF0000" stroke-width="1.76" stroke-linecap="round" fill="none"/>
<path d="M356.0 79.4h0" stroke="#0000FF" stroke-width="1.76" stroke-linecap="round" fill="none"/>
<path d="M357.9 48.3h0" stroke="#FF0000" stroke-width="1.76" stroke-linecap="round" fill="none"/>
<path d="M352.0 82.9h0" stroke="#0000FF" stroke-width="1.76" stroke-linecap="round" fill="none"/>
<path d="M361.6 72.1h0M363.6 93.5h0" stroke="#FF0000" stroke-width="1.76" stroke-linecap="round" fill="none"/>
<path d="M431.9 87.5h0" stroke="#0000FF" stroke-width="1.76" stroke-linecap="round" fill="none"/>
<path d="M345.8 106.2h0M353.6 36.0h0" stroke="#FF0000" stroke-width="1.76" stroke-linecap="round" fill="none"/>
<path d="M349.6 61.3h0M371.8 56.1h0" stroke="#0000FF" stroke-width="1.76" stroke-linecap="round" fill="none"/>
<path d="M365.6 93.5h0" stroke="#FF0000" stroke-width="1.76" stroke-linecap="round" fill="none"/>
<path d="M371.7 57.6h0M357.6 73.8h0" stroke="#0000FF" stroke-width="1.76" stroke-linecap="round" fill="none"/>
<path d="M371.6 52.1h0M357.7 89.8h0M361.8 63.0h0M363.7 97.2h0M357.6 95.3h0" stroke="#FF0000" stroke-width="1.76" stroke-linecap="round" fill="none"/>
<path d="M359.6 95.6h0" stroke="#0000FF" stroke-width="1.76" stroke-linecap="round" fill="none"/>
<path d="M363.7 52.2h0M462.4 68.3h0" stroke="#FF0000" stroke-width="1.76" stroke-linecap="round" fill="none"/>
<path d="M390.0 72.2h0" stroke="#0000FF" stroke-width="1.76" stroke-linecap="round" fill="none"/>
<path d="M357.9 83.0h0M353.7 81.0h0M407.9 60.9h0M355.9 52.3h0M366.0 63.0h0" stroke="#FF0000" stroke-width="1.76" stroke-linecap="round" fill="none"/>
<path d="M349.6 86.2h0M349.7 73.8h0M350.0 75.8h0M367.7 84.7h0" stroke="#0000FF" stroke-width="1.76" stroke-linecap="round" fill="none"/>
<path d="M363.6 92.0h0" stroke="#FF0000" stroke-width="1.76" stroke-linecap="round" fill="none"/>
<path d="M387.2 75.0h0" stroke="#0000FF" stroke-width="1.76" stroke-linecap="round" fill="none"/>
<path d="M354.0 95.1h0M298.7 88.1h0" stroke="#FF0000" stroke-width="1.76" stroke-linecap="round" fill="none"/>
<path d="M355.7 68.5h0M346.4 82.2h0" stroke="#0000FF" stroke-width="1.76" stroke-linecap="round" fill="none"/>
<path d="M359.6 70.3h0M388.0 86.2h0" stroke="#FF0000" stroke-width="1.76" stroke-linecap="round" fill="none"/>
<path d="M369.7 55.7h0" stroke="#0000FF" stroke-width="1.76" stroke-linecap="round" fill="none"/>
<path d="M370.0 117.2h0" stroke="#FF0000" stroke-width="1.76" stroke-linecap="round" fill="none"/>
<path d="M348.8 67.6h0" stroke="#0000FF" stroke-width="1.76" stroke-linecap="round" fill="none"/>
<path d="M357.9 86.5h0" stroke="#FF0000" stroke-width="1.76" stroke-linecap="round" fill="none"/>
<path d="M361.7 46.5h0M367.8 72.2h0" stroke="#0000FF" stroke-width="1.76" stroke-linecap="round" fill="none"/>
<path d="M377.9 103.5h0" stroke="#FF0000" stroke-width="1.76" stroke-linecap="round" fill="none"/>
<path d="M351.7 88.0h0M361.8 34.4h0" stroke="#0000FF" stroke-width="1.76" stroke-linecap="round" fill="none"/>
<path d="M428.2 98.3h0M368.0 104.4h0M334.1 108.8h0" stroke="#FF0000" stroke-width="1.76" stroke-linecap="round" fill="none"/>
<path d="M363.8 84.7h0" stroke="#0000FF" stroke-width="1.76" stroke-linecap="round" fill="none"/>
<path d="M375.9 90.2h0" stroke="#FF0000" stroke-width="1.76" stroke-linecap="round" fill="none"/>
<path d="M351.7 64.8h0M355.8 75.7h0" stroke="#0000FF" stroke-width="1.76" stroke-linecap="round" fill="none"/>
<path d="M388.2 82.0h0M351.9 83.6h0" stroke="#FF0000" stroke-width="1.76" stroke-linecap="round" fill="none"/>
<path d="M357.6 91.8h0" stroke="#0000FF" stroke-width="1.76" stroke-linecap="round" fill="none"/>
<path d="M353.8 75.8h0M336.9 49.4h0" stroke="#FF0000" stroke-width="1.76" stroke-linecap="round" fill="none"/>
<path d="M398.4 68.8h0" stroke="#0000FF" stroke-width="1.76" stroke-linecap="round" fill="none"/>
<path d="M355.8 91.6h0M387.7 44.9h0M359.6 91.6h0M369.8 106.1h0M359.6 91.9h0" stroke="#FF0000" stroke-width="1.76" stroke-linecap="round" fill="none"/>
<path d="M368.0 68.5h0" stroke="#0000FF" stroke-width="1.76" stroke-linecap="round" fill="none"/>
<path d="M365.7 95.3h0M431.0 80.0h0M366.0 62.8h0M361.9 83.1h0M365.9 91.5h0" stroke="#FF0000" stroke-width="1.76" stroke-linecap="round" fill="none"/>
<path d="M375.9 50.6h0" stroke="#0000FF" stroke-width="1.76" stroke-linecap="round" fill="none"/>
<path d="M365.7 57.6h0M361.8 92.1h0M361.8 99.1h0M335.3 94.4h0M350.0 74.0h0M371.7 95.3h0" stroke="#FF0000" stroke-width="1.76" stroke-linecap="round" fill="none"/>
<path d="M376.0 64.5h0M375.9 50.5h0" stroke="#0000FF" stroke-width="1.76" stroke-linecap="round" fill="none"/>
<path d="M354.0 60.9h0M366.8 74.2h0M361.7 84.8h0" stroke="#FF0000" stroke-width="1.76" stroke-linecap="round" fill="none"/>
<path d="M362.0 70.3h0M393.8 57.7h0" stroke="#0000FF" stroke-width="1.76" stroke-linecap="round" fill="none"/>
<path d="M370.1 91.2h0M364.0 39.4h0" stroke="#FF0000" stroke-width="1.76" stroke-linecap="round" fill="none"/>
<path d="M347.8 88.5h0M358.0 73.5h0" stroke="#0000FF" stroke-width="1.76" stroke-linecap="round" fill="none"/>
<path d="M397.5 63.1h0M353.7 75.7h0M357.6 77.3h0M349.8 104.1h0" stroke="#FF0000" stroke-width="1.76" stroke-linecap="round" fill="none"/>
<path d="M409.9 83.6h0" stroke="#0000FF" stroke-width="1.76" stroke-linecap="round" fill="none"/>
<path d="M361.9 73.9h0" stroke="#FF0000" stroke-width="1.76" stroke-linecap="round" fill="none"/>
<path d="M354.0 61.1h0" stroke="#0000FF" stroke-width="1.76" stroke-linecap="round" fill="none"/>
<path d="M361.7 89.9h0M361.9 86.6h0" stroke="#FF0000" stroke-width="1.76" stroke-linecap="round" fill="none"/>
<path d="M373.9 75.8h0" stroke="#0000FF" stroke-width="1.76" stroke-linecap="round" fill="none"/>
<path d="M368.9 91.3h0M363.6 79.0h0" stroke="#FF0000" stroke-width="1.76" stroke-linecap="round" fill="none"/>
<path d="M347.5 96.3h0M353.6 115.1h0M363.8 52.1h0" stroke="#0000FF" stroke-width="1.76" stroke-linecap="round" fill="none"/>
<path d="M406.1 91.5h0" stroke="#FF0000" stroke-width="1.76" stroke-linecap="round" fill="none"/>
<path d="M351.7 90.1h0" stroke="#0000FF" stroke-width="1.76" stroke-linecap="round" fill="none"/>
<path d="M362.0 99.2h0" stroke="#FF0000" stroke-width="1.76" stroke-linecap="round" fill="none"/>
<path d="M353.8 74.0h0" stroke="#0000FF" stroke-width="1.76" stroke-linecap="round" fill="none"/>
<path d="M368.2 123.4h0M389.9 82.6h0M367.6 79.1h0M364.0 75.3h0" stroke="#FF0000" stroke-width="1.76" stroke-linecap="round" fill="none"/>
<path d="M356.0 55.9h0M359.7 95.1h0M359.7 81.1h0" stroke="#0000FF" stroke-width="1.76" stroke-linecap="round" fill="none"/>
<path d="M379.7 76.5h0" stroke="#FF0000" stroke-width="1.76" stroke-linecap="round" fill="none"/>
<path d="M374.0 73.7h0" stroke="#0000FF" stroke-width="1.76" stroke-linecap="round" fill="none"/>
<path d="M353.6 83.1h0" stroke="#FF0000" stroke-width="1.76" stroke-linecap="round" fill="none"/>
<path d="M373.9 105.9h0" stroke="#0000FF" stroke-width="1.76" stroke-linecap="round" fill="none"/>
<path d="M353.8 70.0h0M351.8 88.1h0" stroke="#FF0000" stroke-width="1.76" stroke-linecap="round" fill="none"/>
<path d="M360.6 74.7h0" stroke="#0000FF" stroke-width="1.76" stroke-linecap="round" fill="none"/>
<path d="M349.9 83.1h0" stroke="#FF0000" stroke-width="1.76" stroke-linecap="round" fill="none"/>
<path d="M375.7 101.1h0" stroke="#0000FF" stroke-width="1.76" stroke-linecap="round" fill="none"/>
<path d="M371.8 84.7h0M358.0 91.6h0M378.3 86.4h0M369.7 59.5h0" stroke="#FF0000" stroke-width="1.76" stroke-linecap="round" fill="none"/>
<path d="M359.9 63.2h0M349.6 96.9h0M353.7 79.2h0M369.7 48.9h0" stroke="#0000FF" stroke-width="1.76" stroke-linecap="round" fill="none"/>
<path d="M357.6 39.5h0M378.0 74.0h0" stroke="#FF0000" stroke-width="1.76" stroke-linecap="round" fill="none"/>
<path d="M373.8 66.8h0" stroke="#0000FF" stroke-width="1.76" stroke-linecap="round" fill="none"/>
<path d="M363.6 72.1h0M371.7 86.4h0M365.8 91.9h0" stroke="#FF0000" stroke-width="1.76" stroke-linecap="round" fill="none"/>
<path d="M359.8 84.4h0" stroke="#0000FF" stroke-width="1.76" stroke-linecap="round" fill="none"/>
<path d="M381.7 72.0h0M403.1 77.6h0M353.9 81.2h0M361.6 97.2h0M347.8 82.5h0" stroke="#FF0000" stroke-width="1.76" stroke-linecap="round" fill="none"/>
<path d="M357.8 54.1h0" stroke="#0000FF" stroke-width="1.76" stroke-linecap="round" fill="none"/>
<path d="M376.0 71.7h0" stroke="#FF0000" stroke-width="1.76" stroke-linecap="round" fill="none"/>
<path d="M357.9 65.0h0M397.8 55.7h0M360.0 55.9h0M384.6 93.3h0M328.0 81.1h0" stroke="#0000FF" stroke-width="1.76" stroke-linecap="round" fill="none"/>
<path d="M353.6 104.5h0M359.9 88.3h0" stroke="#FF0000" stroke-width="1.76" stroke-linecap="round" fill="none"/>
<path d="M409.8 77.2h0" stroke="#0000FF" stroke-width="1.76" stroke-linecap="round" fill="none"/>
<path d="M373.8 88.3h0M359.8 75.8h0" stroke="#FF0000" stroke-width="1.76" stroke-linecap="round" fill="none"/>
<path d="M377.5 81.0h0" stroke="#0000FF" stroke-width="1.76" stroke-linecap="round" fill="none"/>
<path d="M347.4 91.0h0M327.1 78.9h0M365.7 92.0h0" stroke="#FF0000" stroke-width="1.76" stroke-linecap="round" fill="none"/>
<path d="M361.8 71.7h0M390.9 85.3h0M347.6 79.0h0" stroke="#0000FF" stroke-width="1.76" stroke-linecap="round" fill="none"/>
<path d="M351.8 54.3h0M363.8 79.4h0M354.0 84.6h0M352.0 75.4h0M363.9 57.6h0M363.8 93.3h0M358.0 70.5h0M369.8 82.7h0" stroke="#FF0000" stroke-width="1.76" stroke-linecap="round" fill="none"/>
<path d="M397.0 61.5h0" stroke="#0000FF" stroke-width="1.76" stroke-linecap="round" fill="none"/>
<path d="M358.0 97.0h0M422.3 91.4h0M375.1 67.3h0" stroke="#FF0000" stroke-width="1.76" stroke-linecap="round" fill="none"/>
<path d="M371.7 79.5h0" stroke="#0000FF" stroke-width="1.76" stroke-linecap="round" fill="none"/>
<path d="M384.7 90.7h0M353.8 91.6h0" stroke="#FF0000" stroke-width="1.76" stroke-linecap="round" fill="none"/>
<path d="M348.0 107.7h0" stroke="#0000FF" stroke-width="1.76" stroke-linecap="round" fill="none"/>
<path d="M366.0 99.2h0" stroke="#FF0000" stroke-width="1.76" stroke-linecap="round" fill="none"/>
<path d="M355.7 77.3h0" stroke="#0000FF" stroke-width="1.76" stroke-linecap="round" fill="none"/>
<path d="M371.8 80.7h0M351.7 88.1h0" stroke="#FF0000" stroke-width="1.76" stroke-linecap="round" fill="none"/>
<path d="M349.7 86.6h0" stroke="#0000FF" stroke-width="1.76" stroke-linecap="round" fill="none"/>
<path d="M374.1 72.9h0" stroke="#FF0000" stroke-width="1.76" stroke-linecap="round" fill="none"/>
<path d="M359.9 79.3h0" stroke="#0000FF" stroke-width="1.76" stroke-linecap="round" fill="none"/>
<path d="M357.8 90.3h0" stroke="#FF0000" stroke-width="1.76" stroke-linecap="round" fill="none"/>
<path d="M358.0 68.3h0" stroke="#0000FF" stroke-width="1.76" stroke-linecap="round" fill="none"/>
<path d="M354.0 42.9h0M355.9 55.7h0M373.9 70.0h0" stroke="#FF0000" stroke-width="1.76" stroke-linecap="round" fill="none"/>
<path d="M381.6 66.5h0" stroke="#0000FF" stroke-width="1.76" stroke-linecap="round" fill="none"/>
<path d="M387.9 76.5h0" stroke="#FF0000" stroke-width="1.76" stroke-linecap="round" fill="none"/>
<path d="M363.3 79.9h0" stroke="#0000FF" stroke-width="1.76" stroke-linecap="round" fill="none"/>
<path d="M432.6 91.1h0" stroke="#FF0000" stroke-width="1.76" stroke-linecap="round" fill="none"/>
<path d="M395.9 68.5h0M369.6 53.7h0" stroke="#0000FF" stroke-width="1.76" stroke-linecap="round" fill="none"/>
<path d="M354.0 78.4h0" stroke="#FF0000" stroke-width="1.76" stroke-linecap="round" fill="none"/>
<path d="M375.8 75.8h0M361.6 63.3h0M350.0 75.5h0" stroke="#0000FF" stroke-width="1.76" stroke-linecap="round" fill="none"/>
<path d="M377.7 57.8h0M365.9 50.3h0M349.9 91.6h0" stroke="#FF0000" stroke-width="1.76" stroke-linecap="round" fill="none"/>
<path d="M359.7 68.2h0" stroke="#0000FF" stroke-width="1.76" stroke-linecap="round" fill="none"/>
<path d="M357.7 108.1h0M367.8 65.0h0" stroke="#FF0000" stroke-width="1.76" stroke-linecap="round" fill="none"/>
<path d="M395.6 50.4h0" stroke="#0000FF" stroke-width="1.76" stroke-linecap="round" fill="none"/>
<path d="M385.0 80.1h0" stroke="#FF0000" stroke-width="1.76" stroke-linecap="round" fill="none"/>
<path d="M351.8 100.9h0" stroke="#0000FF" stroke-width="1.76" stroke-linecap="round" fill="none"/>
<path d="M373.8 95.7h0" stroke="#FF0000" stroke-width="1.76" stroke-linecap="round" fill="none"/>
<path d="M347.7 75.7h0M365.8 95.1h0" stroke="#0000FF" stroke-width="1.76" stroke-linecap="round" fill="none"/>
<path d="M353.7 82.8h0M361.6 93.5h0M360.0 82.9h0" stroke="#FF0000" stroke-width="1.76" stroke-linecap="round" fill="none"/>
<path d="M353.7 68.5h0" stroke="#0000FF" stroke-width="1.76" stroke-linecap="round" fill="none"/>
<path d="M356.0 90.0h0M371.9 61.2h0M404.0 111.1h0M355.6 79.5h0" stroke="#FF0000" stroke-width="1.76" stroke-linecap="round" fill="none"/>
<path d="M365.8 66.5h0" stroke="#0000FF" stroke-width="1.76" stroke-linecap="round" fill="none"/>
<path d="M363.9 81.3h0M351.6 97.3h0" stroke="#FF0000" stroke-width="1.76" stroke-linecap="round" fill="none"/>
<path d="M377.7 89.9h0" stroke="#0000FF" stroke-width="1.76" stroke-linecap="round" fill="none"/>
<path d="M357.8 93.6h0M363.9 71.7h0M366.0 93.6h0M359.7 56.1h0" stroke="#FF0000" stroke-width="1.76" stroke-linecap="round" fill="none"/>
<path d="M356.0 88.0h0" stroke="#0000FF" stroke-width="1.76" stroke-linecap="round" fill="none"/>
<path d="M349.9 91.8h0M362.5 68.3h0M371.7 92.0h0M357.6 91.6h0M351.9 82.5h0" stroke="#FF0000" stroke-width="1.76" stroke-linecap="round" fill="none"/>
<path d="M347.4 98.4h0" stroke="#0000FF" stroke-width="1.76" stroke-linecap="round" fill="none"/>
<path d="M383.8 64.8h0M378.0 44.9h0M357.6 88.2h0M353.9 95.2h0" stroke="#FF0000" stroke-width="1.76" stroke-linecap="round" fill="none"/>
<path d="M350.0 97.4h0M361.6 79.1h0" stroke="#0000FF" stroke-width="1.76" stroke-linecap="round" fill="none"/>
<path d="M359.6 88.4h0" stroke="#FF0000" stroke-width="1.76" stroke-linecap="round" fill="none"/>
<path d="M371.7 64.7h0M352.0 86.6h0" stroke="#0000FF" stroke-width="1.76" stroke-linecap="round" fill="none"/>
<path d="M422.1 92.5h0M354.0 71.9h0M355.8 80.9h0" stroke="#FF0000" stroke-width="1.76" stroke-linecap="round" fill="none"/>
<path d="M366.0 59.2h0" stroke="#0000FF" stroke-width="1.76" stroke-linecap="round" fill="none"/>
<path d="M354.2 118.4h0" stroke="#FF0000" stroke-width="1.76" stroke-linecap="round" fill="none"/>
<path d="M368.0 66.6h0M365.7 66.7h0M364.0 59.5h0" stroke="#0000FF" stroke-width="1.76" stroke-linecap="round" fill="none"/>
<path d="M361.7 56.1h0M372.0 57.7h0" stroke="#FF0000" stroke-width="1.76" stroke-linecap="round" fill="none"/>
<path d="M355.8 43.1h0" stroke="#0000FF" stroke-width="1.76" stroke-linecap="round" fill="none"/>
<path d="M419.5 93.8h0M345.9 84.6h0M394.5 72.1h0" stroke="#FF0000" stroke-width="1.76" stroke-linecap="round" fill="none"/>
<path d="M385.4 93.0h0" stroke="#0000FF" stroke-width="1.76" stroke-linecap="round" fill="none"/>
<path d="M353.9 81.3h0M355.9 65.0h0M375.3 100.5h0M349.7 79.3h0" stroke="#FF0000" stroke-width="1.76" stroke-linecap="round" fill="none"/>
<path d="M361.6 82.8h0M360.0 100.7h0" stroke="#0000FF" stroke-width="1.76" stroke-linecap="round" fill="none"/>
<path d="M353.8 84.8h0M355.6 97.1h0" stroke="#FF0000" stroke-width="1.76" stroke-linecap="round" fill="none"/>
<polygon points="319.0,70.8 324.0,70.7 329.0,70.6 334.0,70.5 339.0,70.4 344.0,70.2 349.0,70.0 354.0,69.7 358.9,69.4 363.9,69.1 368.9,68.7 373.9,68.3 378.9,67.8 383.9,67.4 388.9,66.9 393.9,66.4 398.9,65.9 403.9,65.3 408.9,64.8 413.9,64.2 418.9,63.7 423.9,63.1 428.8,62.5 433.8,62.0 438.8,61.4 443.8,60.8 448.8,60.2 453.8,59.7 458.8,59.1 463.8,58.5 463.8,72.9 458.8,72.9 453.8,72.9 448.8,72.9 443.8,72.9 438.8,72.9 433.8,72.9 428.8,72.9 423.9,72.9 418.9,72.9 413.9,72.9 408.9,72.9 403.9,72.9 398.9,73.0 393.9,73.0 388.9,73.1 383.9,73.2 378.9,73.3 373.9,73.4 368.9,73.6 363.9,73.8 358.9,74.0 354.0,74.3 349.0,74.6 344.0,74.9 339.0,75.3 334.0,75.8 329.0,76.2 324.0,76.7 319.0,77.2" fill="#999999" fill-opacity="0.38"/>
<polygon points="324.3,84.1 328.6,83.2 332.9,82.2 337.2,81.3 341.6,80.3 345.9,79.3 350.2,78.2 354.5,77.1 358.8,75.9 363.1,74.6 367.4,73.2 371.8,71.8 376.1,70.4 380.4,69.0 384.7,67.6 389.0,66.1 393.3,64.7 397.6,63.2 401.9,61.7 406.3,60.3 410.6,58.8 414.9,57.4 419.2,55.9 423.5,54.4 427.8,53.0 432.1,51.5 436.5,50.0 440.8,48.6 445.1,47.1 449.4,45.6 449.4,58.1 445.1,59.1 440.8,60.0 436.5,60.9 432.1,61.8 427.8,62.7 423.5,63.6 419.2,64.5 414.9,65.4 410.6,66.3 406.3,67.2 401.9,68.2 397.6,69.1 393.3,70.0 389.0,70.9 384.7,71.8 380.4,72.8 376.1,73.7 371.8,74.7 367.4,75.6 363.1,76.7 358.8,77.7 354.5,78.9 350.2,80.1 345.9,81.4 341.6,82.8 337.2,84.2 332.9,85.6 328.6,87.1 324.3,88.5" fill="#999999" fill-opacity="0.38"/>
<line x1="319.0" y1="74.0" x2="463.8" y2="65.7" stroke="#0000FF" stroke-width="0.6"/>
<line x1="324.3" y1="86.3" x2="449.4" y2="51.9" stroke="#FF0000" stroke-width="0.6"/>
<line x1="303.5" y1="125.6" x2="303.5" y2="127.1" stroke="#555" stroke-width="0.5"/>
<text x="303.5" y="133.2" font-size="4.8" fill="#5a5a5a" text-anchor="middle">0.5</text>
<line x1="349.8" y1="125.6" x2="349.8" y2="127.1" stroke="#555" stroke-width="0.5"/>
<text x="349.8" y="133.2" font-size="4.8" fill="#5a5a5a" text-anchor="middle">0.7</text>
<line x1="396.1" y1="125.6" x2="396.1" y2="127.1" stroke="#555" stroke-width="0.5"/>
<text x="396.1" y="133.2" font-size="4.8" fill="#5a5a5a" text-anchor="middle">0.9</text>
<line x1="442.4" y1="125.6" x2="442.4" y2="127.1" stroke="#555" stroke-width="0.5"/>
<text x="442.4" y="133.2" font-size="4.8" fill="#5a5a5a" text-anchor="middle">1.1</text>
<line x1="293.3" y1="28.8" x2="294.8" y2="28.8" stroke="#555" stroke-width="0.5"/>
<text x="291.9" y="30.5" font-size="4.8" fill="#5a5a5a" text-anchor="end">2.3</text>
<line x1="293.3" y1="50.9" x2="294.8" y2="50.9" stroke="#555" stroke-width="0.5"/>
<text x="291.9" y="52.6" font-size="4.8" fill="#5a5a5a" text-anchor="end">2.2</text>
<line x1="293.3" y1="73.0" x2="294.8" y2="73.0" stroke="#555" stroke-width="0.5"/>
<text x="291.9" y="74.7" font-size="4.8" fill="#5a5a5a" text-anchor="end">2.1</text>
<line x1="293.3" y1="95.1" x2="294.8" y2="95.1" stroke="#555" stroke-width="0.5"/>
<text x="291.9" y="96.8" font-size="4.8" fill="#5a5a5a" text-anchor="end">2.0</text>
<line x1="293.3" y1="117.2" x2="294.8" y2="117.2" stroke="#555" stroke-width="0.5"/>
<text x="291.9" y="118.9" font-size="4.8" fill="#5a5a5a" text-anchor="end">1.9</text>
<rect x="40.6" y="182.2" width="193.4" height="114.0" fill="#EBEBEB"/>
<line x1="72.9" y1="182.2" x2="72.9" y2="296.2" stroke="#F7F7F7" stroke-width="0.6"/>
<line x1="119.7" y1="182.2" x2="119.7" y2="296.2" stroke="#F7F7F7" stroke-width="0.6"/>
<line x1="166.5" y1="182.2" x2="166.5" y2="296.2" stroke="#F7F7F7" stroke-width="0.6"/>
<line x1="213.3" y1="182.2" x2="213.3" y2="296.2" stroke="#F7F7F7" stroke-width="0.6"/>
<line x1="40.6" y1="188.7" x2="234" y2="188.7" stroke="#F7F7F7" stroke-width="0.6"/>
<line x1="40.6" y1="208.3" x2="234" y2="208.3" stroke="#F7F7F7" stroke-width="0.6"/>
<line x1="40.6" y1="227.8" x2="234" y2="227.8" stroke="#F7F7F7" stroke-width="0.6"/>
<line x1="40.6" y1="247.4" x2="234" y2="247.4" stroke="#F7F7F7" stroke-width="0.6"/>
<line x1="40.6" y1="267.0" x2="234" y2="267.0" stroke="#F7F7F7" stroke-width="0.6"/>
<line x1="40.6" y1="286.5" x2="234" y2="286.5" stroke="#F7F7F7" stroke-width="0.6"/>
<line x1="49.5" y1="182.2" x2="49.5" y2="296.2" stroke="#F7F7F7" stroke-width="0.7"/>
<line x1="96.3" y1="182.2" x2="96.3" y2="296.2" stroke="#F7F7F7" stroke-width="0.7"/>
<line x1="143.1" y1="182.2" x2="143.1" y2="296.2" stroke="#F7F7F7" stroke-width="0.7"/>
<line x1="189.9" y1="182.2" x2="189.9" y2="296.2" stroke="#F7F7F7" stroke-width="0.7"/>
<line x1="40.6" y1="198.5" x2="234" y2="198.5" stroke="#F7F7F7" stroke-width="0.7"/>
<line x1="40.6" y1="218.1" x2="234" y2="218.1" stroke="#F7F7F7" stroke-width="0.7"/>
<line x1="40.6" y1="237.6" x2="234" y2="237.6" stroke="#F7F7F7" stroke-width="0.7"/>
<line x1="40.6" y1="257.2" x2="234" y2="257.2" stroke="#F7F7F7" stroke-width="0.7"/>
<line x1="40.6" y1="276.7" x2="234" y2="276.7" stroke="#F7F7F7" stroke-width="0.7"/>
<line x1="40.6" y1="296.3" x2="234" y2="296.3" stroke="#F7F7F7" stroke-width="0.7"/>
<path d="M101.0 233.2h0" stroke="#0000FF" stroke-width="1.76" stroke-linecap="round" fill="none"/>
<path d="M92.5 248.2h0" stroke="#FF0000" stroke-width="1.76" stroke-linecap="round" fill="none"/>
<path d="M100.5 227.0h0" stroke="#0000FF" stroke-width="1.76" stroke-linecap="round" fill="none"/>
<path d="M108.4 260.9h0" stroke="#FF0000" stroke-width="1.76" stroke-linecap="round" fill="none"/>
<path d="M163.1 222.3h0M100.4 230.4h0" stroke="#0000FF" stroke-width="1.76" stroke-linecap="round" fill="none"/>
<path d="M96.2 249.9h0" stroke="#FF0000" stroke-width="1.76" stroke-linecap="round" fill="none"/>
<path d="M88.4 237.1h0" stroke="#0000FF" stroke-width="1.76" stroke-linecap="round" fill="none"/>
<path d="M110.3 216.1h0M86.4 235.5h0M96.5 238.6h0" stroke="#FF0000" stroke-width="1.76" stroke-linecap="round" fill="none"/>
<path d="M106.4 235.1h0M122.5 225.5h0M100.2 246.5h0M110.5 236.7h0M88.3 245.1h0" stroke="#0000FF" stroke-width="1.76" stroke-linecap="round" fill="none"/>
<path d="M84.3 242.0h0" stroke="#FF0000" stroke-width="1.76" stroke-linecap="round" fill="none"/>
<path d="M100.1 222.5h0M102.2 217.5h0" stroke="#0000FF" stroke-width="1.76" stroke-linecap="round" fill="none"/>
<path d="M183.1 230.2h0" stroke="#FF0000" stroke-width="1.76" stroke-linecap="round" fill="none"/>
<path d="M151.5 256.0h0M84.5 235.2h0" stroke="#0000FF" stroke-width="1.76" stroke-linecap="round" fill="none"/>
<path d="M88.1 237.0h0M90.5 248.3h0M94.4 267.0h0" stroke="#FF0000" stroke-width="1.76" stroke-linecap="round" fill="none"/>
<path d="M101.3 234.9h0" stroke="#0000FF" stroke-width="1.76" stroke-linecap="round" fill="none"/>
<path d="M96.1 250.0h0M102.5 206.6h0M86.1 240.4h0M111.7 247.5h0M96.4 236.6h0M94.5 244.7h0M143.9 247.0h0" stroke="#FF0000" stroke-width="1.76" stroke-linecap="round" fill="none"/>
<path d="M158.7 244.1h0" stroke="#0000FF" stroke-width="1.76" stroke-linecap="round" fill="none"/>
<path d="M92.3 240.3h0M94.2 247.8h0M95.6 258.7h0M104.2 221.2h0M112.1 230.6h0M100.5 227.0h0M100.1 222.4h0M92.4 208.3h0" stroke="#FF0000" stroke-width="1.76" stroke-linecap="round" fill="none"/>
<path d="M100.1 232.4h0" stroke="#0000FF" stroke-width="1.76" stroke-linecap="round" fill="none"/>
<path d="M110.5 257.4h0" stroke="#FF0000" stroke-width="1.76" stroke-linecap="round" fill="none"/>
<path d="M120.7 227.6h0" stroke="#0000FF" stroke-width="1.76" stroke-linecap="round" fill="none"/>
<path d="M78.1 253.1h0M82.5 248.3h0" stroke="#FF0000" stroke-width="1.76" stroke-linecap="round" fill="none"/>
<path d="M84.3 233.9h0M87.3 249.2h0" stroke="#0000FF" stroke-width="1.76" stroke-linecap="round" fill="none"/>
<path d="M92.3 256.2h0M98.1 253.0h0M86.3 245.1h0" stroke="#FF0000" stroke-width="1.76" stroke-linecap="round" fill="none"/>
<path d="M102.3 237.0h0M188.2 221.9h0" stroke="#0000FF" stroke-width="1.76" stroke-linecap="round" fill="none"/>
<path d="M113.3 233.8h0M84.2 270.3h0M100.1 244.6h0" stroke="#FF0000" stroke-width="1.76" stroke-linecap="round" fill="none"/>
<path d="M106.5 235.5h0M130.2 231.3h0" stroke="#0000FF" stroke-width="1.76" stroke-linecap="round" fill="none"/>
<path d="M108.4 251.5h0M94.4 241.9h0M69.3 244.9h0" stroke="#FF0000" stroke-width="1.76" stroke-linecap="round" fill="none"/>
<path d="M92.2 225.4h0M98.1 238.2h0M112.1 248.3h0" stroke="#0000FF" stroke-width="1.76" stroke-linecap="round" fill="none"/>
<path d="M102.3 251.2h0M96.5 254.2h0" stroke="#FF0000" stroke-width="1.76" stroke-linecap="round" fill="none"/>
<path d="M90.1 245.0h0M94.2 235.5h0" stroke="#0000FF" stroke-width="1.76" stroke-linecap="round" fill="none"/>
<path d="M86.2 240.0h0M84.5 211.4h0M96.1 241.9h0M120.3 208.3h0M88.2 255.8h0M111.8 233.8h0M82.5 262.7h0M94.3 249.5h0M104.5 214.3h0" stroke="#FF0000" stroke-width="1.76" stroke-linecap="round" fill="none"/>
<path d="M102.2 241.4h0" stroke="#0000FF" stroke-width="1.76" stroke-linecap="round" fill="none"/>
<path d="M100.4 250.8h0M100.5 237.0h0M112.3 246.4h0M92.3 256.4h0M96.3 246.3h0M104.5 244.9h0" stroke="#FF0000" stroke-width="1.76" stroke-linecap="round" fill="none"/>
<path d="M116.0 248.5h0M90.9 263.4h0" stroke="#0000FF" stroke-width="1.76" stroke-linecap="round" fill="none"/>
<path d="M86.1 259.5h0" stroke="#FF0000" stroke-width="1.76" stroke-linecap="round" fill="none"/>
<path d="M109.3 222.6h0" stroke="#0000FF" stroke-width="1.76" stroke-linecap="round" fill="none"/>
<path d="M94.4 245.1h0M100.4 244.6h0M84.4 232.1h0" stroke="#FF0000" stroke-width="1.76" stroke-linecap="round" fill="none"/>
<path d="M102.2 222.3h0" stroke="#0000FF" stroke-width="1.76" stroke-linecap="round" fill="none"/>
<path d="M92.4 235.4h0M86.8 216.2h0" stroke="#FF0000" stroke-width="1.76" stroke-linecap="round" fill="none"/>
<path d="M107.0 227.0h0" stroke="#0000FF" stroke-width="1.76" stroke-linecap="round" fill="none"/>
<path d="M189.1 226.2h0M88.1 238.2h0M86.4 243.2h0M100.4 228.6h0" stroke="#FF0000" stroke-width="1.76" stroke-linecap="round" fill="none"/>
<path d="M120.5 232.2h0M124.3 247.1h0M90.5 230.6h0" stroke="#0000FF" stroke-width="1.76" stroke-linecap="round" fill="none"/>
<path d="M102.3 228.7h0" stroke="#FF0000" stroke-width="1.76" stroke-linecap="round" fill="none"/>
<path d="M122.4 241.7h0M146.9 233.1h0" stroke="#0000FF" stroke-width="1.76" stroke-linecap="round" fill="none"/>
<path d="M95.4 247.9h0M90.4 248.4h0M98.1 259.5h0" stroke="#FF0000" stroke-width="1.76" stroke-linecap="round" fill="none"/>
<path d="M92.2 238.6h0" stroke="#0000FF" stroke-width="1.76" stroke-linecap="round" fill="none"/>
<path d="M108.8 238.6h0M88.4 244.7h0" stroke="#FF0000" stroke-width="1.76" stroke-linecap="round" fill="none"/>
<path d="M116.4 220.9h0M142.0 249.7h0" stroke="#0000FF" stroke-width="1.76" stroke-linecap="round" fill="none"/>
<path d="M92.2 251.4h0" stroke="#FF0000" stroke-width="1.76" stroke-linecap="round" fill="none"/>
<path d="M104.4 224.2h0M102.1 233.6h0" stroke="#0000FF" stroke-width="1.76" stroke-linecap="round" fill="none"/>
<path d="M86.5 231.9h0" stroke="#FF0000" stroke-width="1.76" stroke-linecap="round" fill="none"/>
<path d="M104.5 230.3h0M106.3 209.5h0M171.8 246.8h0M104.1 237.0h0" stroke="#0000FF" stroke-width="1.76" stroke-linecap="round" fill="none"/>
<path d="M126.4 233.8h0M118.2 241.5h0" stroke="#FF0000" stroke-width="1.76" stroke-linecap="round" fill="none"/>
<path d="M92.4 232.3h0" stroke="#0000FF" stroke-width="1.76" stroke-linecap="round" fill="none"/>
<path d="M96.4 207.9h0" stroke="#FF0000" stroke-width="1.76" stroke-linecap="round" fill="none"/>
<path d="M86.1 243.5h0" stroke="#0000FF" stroke-width="1.76" stroke-linecap="round" fill="none"/>
<path d="M94.4 243.4h0" stroke="#FF0000" stroke-width="1.76" stroke-linecap="round" fill="none"/>
<path d="M106.2 232.1h0" stroke="#0000FF" stroke-width="1.76" stroke-linecap="round" fill="none"/>
<path d="M96.5 231.9h0" stroke="#FF0000" stroke-width="1.76" stroke-linecap="round" fill="none"/>
<path d="M112.1 233.5h0M179.7 224.8h0" stroke="#0000FF" stroke-width="1.76" stroke-linecap="round" fill="none"/>
<path d="M82.4 270.5h0M90.2 224.2h0M96.2 256.1h0M103.2 228.0h0M108.5 237.0h0M92.2 240.0h0M96.2 246.8h0" stroke="#FF0000" stroke-width="1.76" stroke-linecap="round" fill="none"/>
<path d="M114.5 238.3h0" stroke="#0000FF" stroke-width="1.76" stroke-linecap="round" fill="none"/>
<path d="M117.8 246.3h0M171.3 222.8h0M108.4 211.0h0M104.2 214.7h0" stroke="#FF0000" stroke-width="1.76" stroke-linecap="round" fill="none"/>
<path d="M88.2 251.1h0" stroke="#0000FF" stroke-width="1.76" stroke-linecap="round" fill="none"/>
<path d="M100.4 273.2h0" stroke="#FF0000" stroke-width="1.76" stroke-linecap="round" fill="none"/>
<path d="M110.6 236.5h0" stroke="#0000FF" stroke-width="1.76" stroke-linecap="round" fill="none"/>
<path d="M96.3 215.9h0M88.2 248.3h0" stroke="#FF0000" stroke-width="1.76" stroke-linecap="round" fill="none"/>
<path d="M102.3 228.7h0M124.5 230.7h0" stroke="#0000FF" stroke-width="1.76" stroke-linecap="round" fill="none"/>
<path d="M130.1 256.3h0M65.1 218.0h0M94.2 252.8h0M148.8 267.0h0" stroke="#FF0000" stroke-width="1.76" stroke-linecap="round" fill="none"/>
<path d="M86.4 194.1h0" stroke="#0000FF" stroke-width="1.76" stroke-linecap="round" fill="none"/>
<path d="M150.2 243.3h0M86.3 259.2h0" stroke="#FF0000" stroke-width="1.76" stroke-linecap="round" fill="none"/>
<path d="M92.4 231.8h0" stroke="#0000FF" stroke-width="1.76" stroke-linecap="round" fill="none"/>
<path d="M108.4 241.3h0M86.2 241.6h0M106.3 253.1h0M106.1 238.8h0" stroke="#FF0000" stroke-width="1.76" stroke-linecap="round" fill="none"/>
<path d="M100.5 229.2h0M92.5 217.5h0M96.2 241.7h0" stroke="#0000FF" stroke-width="1.76" stroke-linecap="round" fill="none"/>
<path d="M120.3 225.9h0" stroke="#FF0000" stroke-width="1.76" stroke-linecap="round" fill="none"/>
<path d="M106.1 231.8h0" stroke="#0000FF" stroke-width="1.76" stroke-linecap="round" fill="none"/>
<path d="M94.3 241.4h0" stroke="#FF0000" stroke-width="1.76" stroke-linecap="round" fill="none"/>
<path d="M106.4 209.8h0" stroke="#0000FF" stroke-width="1.76" stroke-linecap="round" fill="none"/>
<path d="M96.3 225.8h0M100.3 240.4h0M92.3 241.4h0M96.1 240.2h0M104.1 248.3h0M86.1 257.7h0M86.5 246.2h0M118.2 227.2h0M84.5 240.1h0M86.5 256.3h0M88.2 216.0h0M98.1 225.6h0M105.6 273.6h0" stroke="#FF0000" stroke-width="1.76" stroke-linecap="round" fill="none"/>
<path d="M90.1 259.5h0M114.2 259.5h0" stroke="#0000FF" stroke-width="1.76" stroke-linecap="round" fill="none"/>
<path d="M104.3 238.5h0" stroke="#FF0000" stroke-width="1.76" stroke-linecap="round" fill="none"/>
<path d="M84.5 215.8h0" stroke="#0000FF" stroke-width="1.76" stroke-linecap="round" fill="none"/>
<path d="M92.2 249.4h0M92.4 231.9h0M138.9 239.3h0M100.3 238.2h0M102.2 257.6h0M84.2 246.7h0" stroke="#FF0000" stroke-width="1.76" stroke-linecap="round" fill="none"/>
<path d="M92.3 235.2h0M100.3 233.9h0M201.1 248.9h0M114.2 216.1h0M98.2 230.3h0" stroke="#0000FF" stroke-width="1.76" stroke-linecap="round" fill="none"/>
<path d="M86.2 237.2h0" stroke="#FF0000" stroke-width="1.76" stroke-linecap="round" fill="none"/>
<path d="M92.3 230.4h0M82.2 206.3h0M90.5 217.4h0" stroke="#0000FF" stroke-width="1.76" stroke-linecap="round" fill="none"/>
<path d="M88.4 254.3h0M86.1 252.7h0M69.4 241.9h0" stroke="#FF0000" stroke-width="1.76" stroke-linecap="round" fill="none"/>
<path d="M106.5 250.0h0" stroke="#0000FF" stroke-width="1.76" stroke-linecap="round" fill="none"/>
<path d="M98.1 238.5h0M98.4 216.0h0" stroke="#FF0000" stroke-width="1.76" stroke-linecap="round" fill="none"/>
<path d="M114.4 228.6h0" stroke="#0000FF" stroke-width="1.76" stroke-linecap="round" fill="none"/>
<path d="M102.5 239.2h0M104.4 235.5h0" stroke="#FF0000" stroke-width="1.76" stroke-linecap="round" fill="none"/>
<path d="M134.0 209.2h0" stroke="#0000FF" stroke-width="1.76" stroke-linecap="round" fill="none"/>
<path d="M82.3 248.2h0" stroke="#FF0000" stroke-width="1.76" stroke-linecap="round" fill="none"/>
<path d="M100.4 228.8h0M120.9 250.2h0" stroke="#0000FF" stroke-width="1.76" stroke-linecap="round" fill="none"/>
<path d="M106.3 230.6h0" stroke="#FF0000" stroke-width="1.76" stroke-linecap="round" fill="none"/>
<path d="M108.2 223.9h0" stroke="#0000FF" stroke-width="1.76" stroke-linecap="round" fill="none"/>
<path d="M93.0 230.9h0" stroke="#FF0000" stroke-width="1.76" stroke-linecap="round" fill="none"/>
<path d="M132.5 216.0h0" stroke="#0000FF" stroke-width="1.76" stroke-linecap="round" fill="none"/>
<path d="M102.1 228.9h0M90.3 248.0h0M104.6 225.8h0M100.1 244.6h0M112.0 250.7h0" stroke="#FF0000" stroke-width="1.76" stroke-linecap="round" fill="none"/>
<path d="M81.5 231.8h0" stroke="#0000FF" stroke-width="1.76" stroke-linecap="round" fill="none"/>
<path d="M106.1 244.3h0M86.2 262.6h0M120.4 251.6h0" stroke="#FF0000" stroke-width="1.76" stroke-linecap="round" fill="none"/>
<path d="M110.3 247.1h0M118.3 221.1h0" stroke="#0000FF" stroke-width="1.76" stroke-linecap="round" fill="none"/>
<path d="M117.9 232.1h0M98.2 253.1h0M118.5 244.7h0" stroke="#FF0000" stroke-width="1.76" stroke-linecap="round" fill="none"/>
<path d="M101.5 229.8h0" stroke="#0000FF" stroke-width="1.76" stroke-linecap="round" fill="none"/>
<path d="M67.1 254.1h0M90.5 253.0h0" stroke="#FF0000" stroke-width="1.76" stroke-linecap="round" fill="none"/>
<path d="M155.1 252.0h0M102.5 252.9h0" stroke="#0000FF" stroke-width="1.76" stroke-linecap="round" fill="none"/>
<path d="M92.4 248.3h0M95.6 244.1h0M155.1 219.1h0M108.2 232.8h0M149.6 237.0h0M172.9 229.2h0M92.5 227.6h0M116.3 203.6h0M98.1 222.7h0M122.1 227.0h0M56.9 262.0h0" stroke="#FF0000" stroke-width="1.76" stroke-linecap="round" fill="none"/>
<path d="M114.5 253.0h0" stroke="#0000FF" stroke-width="1.76" stroke-linecap="round" fill="none"/>
<path d="M119.7 241.3h0M100.5 252.7h0M98.1 224.1h0M86.2 235.1h0M82.3 245.0h0" stroke="#FF0000" stroke-width="1.76" stroke-linecap="round" fill="none"/>
<path d="M102.2 246.3h0" stroke="#0000FF" stroke-width="1.76" stroke-linecap="round" fill="none"/>
<path d="M126.2 243.4h0M88.2 240.3h0M96.5 241.4h0M84.3 235.5h0M102.4 249.7h0M102.3 206.6h0M102.5 257.8h0M124.5 246.4h0M100.5 229.2h0" stroke="#FF0000" stroke-width="1.76" stroke-linecap="round" fill="none"/>
<path d="M106.1 254.4h0" stroke="#0000FF" stroke-width="1.76" stroke-linecap="round" fill="none"/>
<path d="M90.1 237.2h0" stroke="#FF0000" stroke-width="1.76" stroke-linecap="round" fill="none"/>
<path d="M126.7 214.6h0M138.4 235.8h0M101.5 232.9h0M113.9 224.5h0" stroke="#0000FF" stroke-width="1.76" stroke-linecap="round" fill="none"/>
<path d="M187.6 231.1h0M92.3 241.6h0M88.3 219.4h0" stroke="#FF0000" stroke-width="1.76" stroke-linecap="round" fill="none"/>
<path d="M92.4 237.2h0" stroke="#0000FF" stroke-width="1.76" stroke-linecap="round" fill="none"/>
<path d="M138.8 265.4h0" stroke="#FF0000" stroke-width="1.76" stroke-linecap="round" fill="none"/>
<path d="M112.1 228.2h0M114.6 215.2h0" stroke="#0000FF" stroke-width="1.76" stroke-linecap="round" fill="none"/>
<path d="M88.3 228.7h0" stroke="#FF0000" stroke-width="1.76" stroke-linecap="round" fill="none"/>
<path d="M102.2 227.4h0" stroke="#0000FF" stroke-width="1.76" stroke-linecap="round" fill="none"/>
<path d="M108.1 221.2h0" stroke="#FF0000" stroke-width="1.76" stroke-linecap="round" fill="none"/>
<path d="M110.5 235.4h0M96.5 211.0h0" stroke="#0000FF" stroke-width="1.76" stroke-linecap="round" fill="none"/>
<path d="M102.4 221.0h0M90.4 235.4h0" stroke="#FF0000" stroke-width="1.76" stroke-linecap="round" fill="none"/>
<path d="M88.3 240.3h0M55.2 250.5h0" stroke="#0000FF" stroke-width="1.76" stroke-linecap="round" fill="none"/>
<path d="M94.2 225.8h0M92.3 227.4h0M122.4 243.3h0" stroke="#FF0000" stroke-width="1.76" stroke-linecap="round" fill="none"/>
<path d="M100.5 223.8h0" stroke="#0000FF" stroke-width="1.76" stroke-linecap="round" fill="none"/>
<path d="M106.3 233.5h0M96.5 239.9h0M96.2 247.9h0" stroke="#FF0000" stroke-width="1.76" stroke-linecap="round" fill="none"/>
<path d="M92.1 225.6h0" stroke="#0000FF" stroke-width="1.76" stroke-linecap="round" fill="none"/>
<path d="M90.3 261.1h0M88.3 243.5h0" stroke="#FF0000" stroke-width="1.76" stroke-linecap="round" fill="none"/>
<path d="M84.3 243.1h0M86.3 221.3h0M122.1 233.5h0M82.2 248.1h0M120.4 206.3h0M92.3 243.2h0" stroke="#0000FF" stroke-width="1.76" stroke-linecap="round" fill="none"/>
<path d="M94.4 249.8h0" stroke="#FF0000" stroke-width="1.76" stroke-linecap="round" fill="none"/>
<path d="M110.4 224.4h0M96.3 240.0h0M118.1 227.5h0M94.1 248.1h0" stroke="#0000FF" stroke-width="1.76" stroke-linecap="round" fill="none"/>
<path d="M104.5 235.4h0" stroke="#FF0000" stroke-width="1.76" stroke-linecap="round" fill="none"/>
<path d="M98.2 222.5h0M96.4 235.1h0M81.0 214.6h0M104.4 203.1h0" stroke="#0000FF" stroke-width="1.76" stroke-linecap="round" fill="none"/>
<path d="M126.1 240.0h0" stroke="#FF0000" stroke-width="1.76" stroke-linecap="round" fill="none"/>
<path d="M116.2 243.3h0" stroke="#0000FF" stroke-width="1.76" stroke-linecap="round" fill="none"/>
<path d="M94.3 254.4h0M106.2 248.2h0" stroke="#FF0000" stroke-width="1.76" stroke-linecap="round" fill="none"/>
<path d="M96.5 204.7h0M131.0 237.1h0" stroke="#0000FF" stroke-width="1.76" stroke-linecap="round" fill="none"/>
<path d="M88.4 227.4h0" stroke="#FF0000" stroke-width="1.76" stroke-linecap="round" fill="none"/>
<path d="M110.4 206.3h0" stroke="#0000FF" stroke-width="1.76" stroke-linecap="round" fill="none"/>
<path d="M95.9 246.3h0" stroke="#FF0000" stroke-width="1.76" stroke-linecap="round" fill="none"/>
<path d="M110.5 247.9h0" stroke="#0000FF" stroke-width="1.76" stroke-linecap="round" fill="none"/>
<path d="M87.1 246.1h0" stroke="#FF0000" stroke-width="1.76" stroke-linecap="round" fill="none"/>
<path d="M134.5 224.3h0" stroke="#0000FF" stroke-width="1.76" stroke-linecap="round" fill="none"/>
<path d="M88.1 230.6h0M90.4 223.9h0M100.4 225.7h0M82.5 236.9h0" stroke="#FF0000" stroke-width="1.76" stroke-linecap="round" fill="none"/>
<path d="M118.2 248.0h0" stroke="#0000FF" stroke-width="1.76" stroke-linecap="round" fill="none"/>
<path d="M101.2 231.0h0" stroke="#FF0000" stroke-width="1.76" stroke-linecap="round" fill="none"/>
<path d="M86.3 240.4h0" stroke="#0000FF" stroke-width="1.76" stroke-linecap="round" fill="none"/>
<path d="M102.5 230.5h0M86.2 251.5h0" stroke="#FF0000" stroke-width="1.76" stroke-linecap="round" fill="none"/>
<path d="M106.3 246.6h0M96.4 245.1h0M100.3 221.1h0" stroke="#0000FF" stroke-width="1.76" stroke-linecap="round" fill="none"/>
<path d="M90.1 248.2h0M103.4 235.9h0" stroke="#FF0000" stroke-width="1.76" stroke-linecap="round" fill="none"/>
<path d="M106.3 217.9h0M81.3 216.2h0M110.1 225.9h0M118.2 233.8h0" stroke="#0000FF" stroke-width="1.76" stroke-linecap="round" fill="none"/>
<path d="M102.2 237.2h0M88.4 228.8h0M84.2 262.7h0M96.2 248.2h0M96.3 241.5h0M98.4 246.2h0M111.9 228.5h0M138.4 247.5h0M88.4 230.7h0M106.2 227.0h0M90.3 243.1h0M98.2 230.4h0" stroke="#FF0000" stroke-width="1.76" stroke-linecap="round" fill="none"/>
<path d="M86.3 230.3h0" stroke="#0000FF" stroke-width="1.76" stroke-linecap="round" fill="none"/>
<path d="M117.0 252.2h0" stroke="#FF0000" stroke-width="1.76" stroke-linecap="round" fill="none"/>
<path d="M90.3 229.0h0" stroke="#0000FF" stroke-width="1.76" stroke-linecap="round" fill="none"/>
<path d="M72.7 242.4h0" stroke="#FF0000" stroke-width="1.76" stroke-linecap="round" fill="none"/>
<path d="M83.8 234.3h0" stroke="#0000FF" stroke-width="1.76" stroke-linecap="round" fill="none"/>
<path d="M106.5 235.2h0M90.1 248.1h0" stroke="#FF0000" stroke-width="1.76" stroke-linecap="round" fill="none"/>
<path d="M104.4 257.9h0" stroke="#0000FF" stroke-width="1.76" stroke-linecap="round" fill="none"/>
<path d="M94.2 246.6h0" stroke="#FF0000" stroke-width="1.76" stroke-linecap="round" fill="none"/>
<path d="M112.6 218.6h0M118.3 232.3h0M132.2 237.0h0M159.3 266.9h0" stroke="#0000FF" stroke-width="1.76" stroke-linecap="round" fill="none"/>
<path d="M88.4 251.2h0" stroke="#FF0000" stroke-width="1.76" stroke-linecap="round" fill="none"/>
<path d="M84.1 240.0h0" stroke="#0000FF" stroke-width="1.76" stroke-linecap="round" fill="none"/>
<path d="M84.1 235.2h0M168.8 244.3h0M96.2 199.8h0M100.5 235.4h0M90.5 230.7h0M88.2 236.6h0M130.5 236.5h0M153.0 239.3h0" stroke="#FF0000" stroke-width="1.76" stroke-linecap="round" fill="none"/>
<path d="M94.3 230.5h0" stroke="#0000FF" stroke-width="1.76" stroke-linecap="round" fill="none"/>
<path d="M82.3 256.1h0M90.3 228.8h0" stroke="#FF0000" stroke-width="1.76" stroke-linecap="round" fill="none"/>
<path d="M63.5 247.6h0M77.6 262.1h0" stroke="#0000FF" stroke-width="1.76" stroke-linecap="round" fill="none"/>
<path d="M94.5 246.2h0" stroke="#FF0000" stroke-width="1.76" stroke-linecap="round" fill="none"/>
<path d="M88.3 238.6h0M110.3 236.7h0" stroke="#0000FF" stroke-width="1.76" stroke-linecap="round" fill="none"/>
<path d="M102.2 235.2h0" stroke="#FF0000" stroke-width="1.76" stroke-linecap="round" fill="none"/>
<path d="M96.5 240.4h0M94.1 225.4h0" stroke="#0000FF" stroke-width="1.76" stroke-linecap="round" fill="none"/>
<path d="M82.3 233.9h0M88.4 249.7h0M119.5 232.5h0M82.1 251.2h0M104.1 222.2h0M86.4 209.9h0M90.3 251.2h0M92.1 254.6h0M97.4 263.8h0M102.4 243.5h0" stroke="#FF0000" stroke-width="1.76" stroke-linecap="round" fill="none"/>
<path d="M92.2 225.6h0M90.5 230.5h0" stroke="#0000FF" stroke-width="1.76" stroke-linecap="round" fill="none"/>
<path d="M125.7 241.8h0M102.2 227.0h0" stroke="#FF0000" stroke-width="1.76" stroke-linecap="round" fill="none"/>
<path d="M122.1 249.7h0" stroke="#0000FF" stroke-width="1.76" stroke-linecap="round" fill="none"/>
<path d="M130.1 243.2h0" stroke="#FF0000" stroke-width="1.76" stroke-linecap="round" fill="none"/>
<path d="M88.4 216.0h0" stroke="#0000FF" stroke-width="1.76" stroke-linecap="round" fill="none"/>
<path d="M105.0 269.8h0" stroke="#FF0000" stroke-width="1.76" stroke-linecap="round" fill="none"/>
<path d="M98.2 225.5h0" stroke="#0000FF" stroke-width="1.76" stroke-linecap="round" fill="none"/>
<path d="M82.1 223.4h0" stroke="#FF0000" stroke-width="1.76" stroke-linecap="round" fill="none"/>
<path d="M98.3 222.7h0" stroke="#0000FF" stroke-width="1.76" stroke-linecap="round" fill="none"/>
<path d="M118.5 222.5h0M98.2 222.2h0" stroke="#FF0000" stroke-width="1.76" stroke-linecap="round" fill="none"/>
<path d="M111.5 238.6h0M84.4 236.8h0" stroke="#0000FF" stroke-width="1.76" stroke-linecap="round" fill="none"/>
<path d="M98.4 239.9h0" stroke="#FF0000" stroke-width="1.76" stroke-linecap="round" fill="none"/>
<path d="M98.1 237.2h0M124.5 239.9h0" stroke="#0000FF" stroke-width="1.76" stroke-linecap="round" fill="none"/>
<path d="M122.1 235.2h0M108.5 226.0h0M98.4 232.1h0M104.2 251.1h0M114.3 244.8h0M101.5 231.2h0M126.2 254.4h0M106.5 231.9h0M114.2 227.3h0M78.2 267.3h0M86.4 221.2h0" stroke="#FF0000" stroke-width="1.76" stroke-linecap="round" fill="none"/>
<path d="M124.2 241.7h0M185.0 257.9h0M96.1 232.3h0M184.5 220.3h0" stroke="#0000FF" stroke-width="1.76" stroke-linecap="round" fill="none"/>
<path d="M106.3 241.4h0M108.1 248.1h0M169.6 238.9h0" stroke="#FF0000" stroke-width="1.76" stroke-linecap="round" fill="none"/>
<path d="M106.2 241.8h0M88.4 248.1h0" stroke="#0000FF" stroke-width="1.76" stroke-linecap="round" fill="none"/>
<path d="M86.2 257.4h0" stroke="#FF0000" stroke-width="1.76" stroke-linecap="round" fill="none"/>
<path d="M80.5 251.5h0M84.5 238.8h0" stroke="#0000FF" stroke-width="1.76" stroke-linecap="round" fill="none"/>
<path d="M82.3 264.4h0" stroke="#FF0000" stroke-width="1.76" stroke-linecap="round" fill="none"/>
<path d="M102.4 224.0h0M86.3 229.0h0M104.5 219.3h0M92.4 231.9h0M92.2 230.3h0" stroke="#0000FF" stroke-width="1.76" stroke-linecap="round" fill="none"/>
<path d="M95.3 218.6h0M114.3 231.9h0" stroke="#FF0000" stroke-width="1.76" stroke-linecap="round" fill="none"/>
<path d="M104.2 249.4h0M86.1 249.5h0M94.2 222.7h0M88.1 220.9h0M106.4 232.1h0" stroke="#0000FF" stroke-width="1.76" stroke-linecap="round" fill="none"/>
<path d="M96.4 241.4h0M86.5 248.3h0" stroke="#FF0000" stroke-width="1.76" stroke-linecap="round" fill="none"/>
<path d="M88.2 230.3h0" stroke="#0000FF" stroke-width="1.76" stroke-linecap="round" fill="none"/>
<path d="M148.7 238.0h0M150.5 232.6h0" stroke="#FF0000" stroke-width="1.76" stroke-linecap="round" fill="none"/>
<path d="M114.5 227.5h0M102.5 228.8h0M94.5 243.4h0M88.2 200.2h0M102.5 222.7h0M94.2 257.7h0M71.8 212.8h0" stroke="#0000FF" stroke-width="1.76" stroke-linecap="round" fill="none"/>
<path d="M102.2 246.5h0M100.1 248.1h0M157.9 231.6h0" stroke="#FF0000" stroke-width="1.76" stroke-linecap="round" fill="none"/>
<path d="M100.5 249.8h0" stroke="#0000FF" stroke-width="1.76" stroke-linecap="round" fill="none"/>
<path d="M94.2 220.7h0M106.5 235.0h0M116.3 227.4h0" stroke="#FF0000" stroke-width="1.76" stroke-linecap="round" fill="none"/>
<path d="M120.2 221.8h0" stroke="#0000FF" stroke-width="1.76" stroke-linecap="round" fill="none"/>
<path d="M102.5 220.9h0M122.8 233.2h0M104.4 228.7h0M84.1 243.3h0M100.2 235.5h0M100.2 254.7h0" stroke="#FF0000" stroke-width="1.76" stroke-linecap="round" fill="none"/>
<path d="M96.2 225.8h0M96.1 229.1h0" stroke="#0000FF" stroke-width="1.76" stroke-linecap="round" fill="none"/>
<path d="M102.3 219.2h0M170.5 219.7h0" stroke="#FF0000" stroke-width="1.76" stroke-linecap="round" fill="none"/>
<path d="M92.5 228.6h0" stroke="#0000FF" stroke-width="1.76" stroke-linecap="round" fill="none"/>
<path d="M104.2 239.9h0M82.1 268.4h0M102.1 235.1h0" stroke="#FF0000" stroke-width="1.76" stroke-linecap="round" fill="none"/>
<path d="M96.4 225.7h0" stroke="#0000FF" stroke-width="1.76" stroke-linecap="round" fill="none"/>
<path d="M106.4 244.9h0M93.9 246.2h0M156.9 262.3h0" stroke="#FF0000" stroke-width="1.76" stroke-linecap="round" fill="none"/>
<path d="M94.4 238.2h0M105.2 224.1h0" stroke="#0000FF" stroke-width="1.76" stroke-linecap="round" fill="none"/>
<path d="M90.5 247.9h0M92.3 227.3h0" stroke="#FF0000" stroke-width="1.76" stroke-linecap="round" fill="none"/>
<path d="M94.1 232.4h0" stroke="#0000FF" stroke-width="1.76" stroke-linecap="round" fill="none"/>
<path d="M96.3 219.0h0M132.7 252.7h0" stroke="#FF0000" stroke-width="1.76" stroke-linecap="round" fill="none"/>
<path d="M142.1 213.2h0M94.2 238.3h0" stroke="#0000FF" stroke-width="1.76" stroke-linecap="round" fill="none"/>
<path d="M126.3 241.9h0M115.3 265.9h0" stroke="#FF0000" stroke-width="1.76" stroke-linecap="round" fill="none"/>
<path d="M100.4 230.2h0M92.4 222.7h0" stroke="#0000FF" stroke-width="1.76" stroke-linecap="round" fill="none"/>
<path d="M102.1 221.0h0M88.5 239.9h0M92.2 225.7h0" stroke="#FF0000" stroke-width="1.76" stroke-linecap="round" fill="none"/>
<path d="M130.3 216.2h0" stroke="#0000FF" stroke-width="1.76" stroke-linecap="round" fill="none"/>
<path d="M86.5 249.5h0" stroke="#FF0000" stroke-width="1.76" stroke-linecap="round" fill="none"/>
<path d="M96.2 238.5h0" stroke="#0000FF" stroke-width="1.76" stroke-linecap="round" fill="none"/>
<path d="M92.2 240.4h0M92.2 232.1h0" stroke="#FF0000" stroke-width="1.76" stroke-linecap="round" fill="none"/>
<path d="M102.2 239.9h0M98.4 235.1h0" stroke="#0000FF" stroke-width="1.76" stroke-linecap="round" fill="none"/>
<path d="M88.3 225.9h0" stroke="#FF0000" stroke-width="1.76" stroke-linecap="round" fill="none"/>
<path d="M106.1 227.4h0M112.7 237.7h0M70.8 236.3h0" stroke="#0000FF" stroke-width="1.76" stroke-linecap="round" fill="none"/>
<path d="M84.4 264.0h0M141.3 253.1h0M110.1 256.2h0" stroke="#FF0000" stroke-width="1.76" stroke-linecap="round" fill="none"/>
<path d="M138.3 217.6h0" stroke="#0000FF" stroke-width="1.76" stroke-linecap="round" fill="none"/>
<path d="M122.3 251.4h0" stroke="#FF0000" stroke-width="1.76" stroke-linecap="round" fill="none"/>
<path d="M98.2 224.0h0M118.5 230.3h0M66.2 240.9h0" stroke="#0000FF" stroke-width="1.76" stroke-linecap="round" fill="none"/>
<path d="M98.4 238.6h0M86.1 238.1h0M94.1 236.8h0" stroke="#FF0000" stroke-width="1.76" stroke-linecap="round" fill="none"/>
<path d="M110.4 220.7h0M155.2 255.3h0" stroke="#0000FF" stroke-width="1.76" stroke-linecap="round" fill="none"/>
<path d="M94.1 236.6h0M90.2 256.3h0" stroke="#FF0000" stroke-width="1.76" stroke-linecap="round" fill="none"/>
<path d="M99.6 227.6h0" stroke="#0000FF" stroke-width="1.76" stroke-linecap="round" fill="none"/>
<path d="M117.2 237.4h0M86.1 222.4h0M96.1 231.8h0M110.3 240.4h0" stroke="#FF0000" stroke-width="1.76" stroke-linecap="round" fill="none"/>
<path d="M93.1 198.9h0" stroke="#0000FF" stroke-width="1.76" stroke-linecap="round" fill="none"/>
<path d="M98.8 249.7h0" stroke="#FF0000" stroke-width="1.76" stroke-linecap="round" fill="none"/>
<path d="M102.1 238.5h0" stroke="#0000FF" stroke-width="1.76" stroke-linecap="round" fill="none"/>
<path d="M108.5 216.2h0" stroke="#FF0000" stroke-width="1.76" stroke-linecap="round" fill="none"/>
<path d="M114.1 221.0h0M92.4 225.5h0" stroke="#0000FF" stroke-width="1.76" stroke-linecap="round" fill="none"/>
<path d="M82.1 251.1h0M98.2 233.7h0M201.7 254.8h0" stroke="#FF0000" stroke-width="1.76" stroke-linecap="round" fill="none"/>
<path d="M88.5 237.0h0" stroke="#0000FF" stroke-width="1.76" stroke-linecap="round" fill="none"/>
<path d="M104.2 249.7h0" stroke="#FF0000" stroke-width="1.76" stroke-linecap="round" fill="none"/>
<path d="M96.4 252.7h0M162.2 231.7h0" stroke="#0000FF" stroke-width="1.76" stroke-linecap="round" fill="none"/>
<path d="M102.3 249.9h0" stroke="#FF0000" stroke-width="1.76" stroke-linecap="round" fill="none"/>
<path d="M90.4 238.6h0M86.3 222.5h0" stroke="#0000FF" stroke-width="1.76" stroke-linecap="round" fill="none"/>
<path d="M98.3 202.0h0" stroke="#FF0000" stroke-width="1.76" stroke-linecap="round" fill="none"/>
<path d="M86.5 254.7h0" stroke="#0000FF" stroke-width="1.76" stroke-linecap="round" fill="none"/>
<path d="M68.1 232.0h0M107.7 226.1h0" stroke="#FF0000" stroke-width="1.76" stroke-linecap="round" fill="none"/>
<path d="M92.1 227.0h0" stroke="#0000FF" stroke-width="1.76" stroke-linecap="round" fill="none"/>
<path d="M108.3 243.1h0M82.1 240.2h0" stroke="#FF0000" stroke-width="1.76" stroke-linecap="round" fill="none"/>
<path d="M120.4 248.3h0M112.4 238.4h0M100.3 248.0h0M112.4 229.2h0" stroke="#0000FF" stroke-width="1.76" stroke-linecap="round" fill="none"/>
<path d="M134.2 229.8h0" stroke="#FF0000" stroke-width="1.76" stroke-linecap="round" fill="none"/>
<path d="M100.1 224.0h0M112.3 227.3h0" stroke="#0000FF" stroke-width="1.76" stroke-linecap="round" fill="none"/>
<path d="M86.1 227.5h0" stroke="#FF0000" stroke-width="1.76" stroke-linecap="round" fill="none"/>
<path d="M98.3 235.3h0" stroke="#0000FF" stroke-width="1.76" stroke-linecap="round" fill="none"/>
<path d="M110.5 253.1h0M92.5 241.6h0M102.3 249.8h0M84.3 241.6h0M67.1 257.2h0M140.2 213.0h0M98.1 256.1h0M96.4 249.8h0M94.2 249.8h0" stroke="#FF0000" stroke-width="1.76" stroke-linecap="round" fill="none"/>
<path d="M92.2 240.0h0" stroke="#0000FF" stroke-width="1.76" stroke-linecap="round" fill="none"/>
<path d="M94.5 217.7h0M90.4 238.8h0" stroke="#FF0000" stroke-width="1.76" stroke-linecap="round" fill="none"/>
<path d="M100.2 227.0h0" stroke="#0000FF" stroke-width="1.76" stroke-linecap="round" fill="none"/>
<path d="M94.3 246.7h0M96.5 236.8h0M108.1 233.5h0M96.4 249.5h0" stroke="#FF0000" stroke-width="1.76" stroke-linecap="round" fill="none"/>
<path d="M169.3 242.5h0" stroke="#0000FF" stroke-width="1.76" stroke-linecap="round" fill="none"/>
<path d="M108.6 243.3h0M112.5 251.0h0" stroke="#FF0000" stroke-width="1.76" stroke-linecap="round" fill="none"/>
<path d="M90.5 247.9h0M110.3 215.8h0" stroke="#0000FF" stroke-width="1.76" stroke-linecap="round" fill="none"/>
<path d="M84.3 246.4h0" stroke="#FF0000" stroke-width="1.76" stroke-linecap="round" fill="none"/>
<path d="M94.5 248.0h0" stroke="#0000FF" stroke-width="1.76" stroke-linecap="round" fill="none"/>
<path d="M132.2 248.1h0M92.4 219.2h0" stroke="#FF0000" stroke-width="1.76" stroke-linecap="round" fill="none"/>
<path d="M102.3 230.3h0" stroke="#0000FF" stroke-width="1.76" stroke-linecap="round" fill="none"/>
<path d="M94.5 248.1h0M138.4 228.6h0" stroke="#FF0000" stroke-width="1.76" stroke-linecap="round" fill="none"/>
<path d="M98.5 238.0h0" stroke="#0000FF" stroke-width="1.76" stroke-linecap="round" fill="none"/>
<path d="M84.5 244.7h0M96.3 240.1h0M92.2 233.8h0M90.2 221.1h0" stroke="#FF0000" stroke-width="1.76" stroke-linecap="round" fill="none"/>
<path d="M110.2 204.6h0" stroke="#0000FF" stroke-width="1.76" stroke-linecap="round" fill="none"/>
<path d="M92.5 227.1h0M92.5 244.7h0M88.1 219.1h0" stroke="#FF0000" stroke-width="1.76" stroke-linecap="round" fill="none"/>
<path d="M110.5 248.3h0" stroke="#0000FF" stroke-width="1.76" stroke-linecap="round" fill="none"/>
<path d="M90.1 224.3h0M94.4 256.2h0M130.3 280.5h0" stroke="#FF0000" stroke-width="1.76" stroke-linecap="round" fill="none"/>
<path d="M90.3 233.6h0M79.5 229.2h0" stroke="#0000FF" stroke-width="1.76" stroke-linecap="round" fill="none"/>
<path d="M96.5 237.1h0M84.4 257.6h0M115.3 213.2h0M82.3 284.4h0" stroke="#FF0000" stroke-width="1.76" stroke-linecap="round" fill="none"/>
<path d="M88.2 232.0h0" stroke="#0000FF" stroke-width="1.76" stroke-linecap="round" fill="none"/>
<path d="M98.3 247.9h0M176.0 239.1h0M84.5 254.4h0" stroke="#FF0000" stroke-width="1.76" stroke-linecap="round" fill="none"/>
<path d="M167.6 221.8h0M151.4 244.5h0" stroke="#0000FF" stroke-width="1.76" stroke-linecap="round" fill="none"/>
<path d="M109.8 233.3h0M97.8 225.7h0M78.9 246.0h0M104.1 246.3h0M94.1 211.1h0M114.2 245.0h0M94.1 248.0h0M92.5 245.1h0M84.5 243.6h0M86.3 237.2h0M58.5 241.4h0M151.5 241.2h0M84.1 256.2h0M96.3 251.2h0" stroke="#FF0000" stroke-width="1.76" stroke-linecap="round" fill="none"/>
<path d="M84.5 235.2h0" stroke="#0000FF" stroke-width="1.76" stroke-linecap="round" fill="none"/>
<path d="M98.2 240.1h0M100.3 224.2h0" stroke="#FF0000" stroke-width="1.76" stroke-linecap="round" fill="none"/>
<path d="M82.2 236.1h0" stroke="#0000FF" stroke-width="1.76" stroke-linecap="round" fill="none"/>
<path d="M94.1 251.5h0M100.2 264.0h0M119.4 253.7h0" stroke="#FF0000" stroke-width="1.76" stroke-linecap="round" fill="none"/>
<path d="M104.3 241.5h0" stroke="#0000FF" stroke-width="1.76" stroke-linecap="round" fill="none"/>
<path d="M114.5 242.0h0" stroke="#FF0000" stroke-width="1.76" stroke-linecap="round" fill="none"/>
<path d="M94.5 238.2h0M126.5 233.4h0" stroke="#0000FF" stroke-width="1.76" stroke-linecap="round" fill="none"/>
<path d="M88.1 234.0h0" stroke="#FF0000" stroke-width="1.76" stroke-linecap="round" fill="none"/>
<path d="M98.4 230.5h0" stroke="#0000FF" stroke-width="1.76" stroke-linecap="round" fill="none"/>
<path d="M104.1 234.8h0M94.5 237.1h0" stroke="#FF0000" stroke-width="1.76" stroke-linecap="round" fill="none"/>
<path d="M104.3 245.1h0" stroke="#0000FF" stroke-width="1.76" stroke-linecap="round" fill="none"/>
<path d="M102.2 233.7h0M82.6 248.9h0M84.3 264.2h0M98.4 245.0h0M104.1 227.2h0" stroke="#FF0000" stroke-width="1.76" stroke-linecap="round" fill="none"/>
<path d="M92.3 230.6h0" stroke="#0000FF" stroke-width="1.76" stroke-linecap="round" fill="none"/>
<path d="M106.3 243.1h0" stroke="#FF0000" stroke-width="1.76" stroke-linecap="round" fill="none"/>
<path d="M92.1 231.8h0" stroke="#0000FF" stroke-width="1.76" stroke-linecap="round" fill="none"/>
<path d="M197.5 256.5h0" stroke="#FF0000" stroke-width="1.76" stroke-linecap="round" fill="none"/>
<path d="M104.3 237.2h0M100.5 230.7h0" stroke="#0000FF" stroke-width="1.76" stroke-linecap="round" fill="none"/>
<path d="M94.2 232.3h0" stroke="#FF0000" stroke-width="1.76" stroke-linecap="round" fill="none"/>
<path d="M80.3 253.7h0" stroke="#0000FF" stroke-width="1.76" stroke-linecap="round" fill="none"/>
<path d="M88.4 270.7h0M90.4 230.6h0" stroke="#FF0000" stroke-width="1.76" stroke-linecap="round" fill="none"/>
<path d="M173.6 263.8h0M106.5 235.5h0" stroke="#0000FF" stroke-width="1.76" stroke-linecap="round" fill="none"/>
<path d="M88.4 221.0h0" stroke="#FF0000" stroke-width="1.76" stroke-linecap="round" fill="none"/>
<path d="M158.3 263.4h0" stroke="#0000FF" stroke-width="1.76" stroke-linecap="round" fill="none"/>
<path d="M96.3 252.9h0M96.4 238.4h0M104.2 243.3h0" stroke="#FF0000" stroke-width="1.76" stroke-linecap="round" fill="none"/>
<path d="M92.5 245.0h0" stroke="#0000FF" stroke-width="1.76" stroke-linecap="round" fill="none"/>
<path d="M130.1 241.8h0M88.4 228.9h0" stroke="#FF0000" stroke-width="1.76" stroke-linecap="round" fill="none"/>
<path d="M88.4 252.9h0" stroke="#0000FF" stroke-width="1.76" stroke-linecap="round" fill="none"/>
<path d="M88.5 235.0h0M100.3 253.1h0M128.9 232.1h0M94.2 225.2h0M122.5 203.2h0" stroke="#FF0000" stroke-width="1.76" stroke-linecap="round" fill="none"/>
<path d="M92.4 225.6h0M94.3 217.8h0M97.1 246.4h0" stroke="#0000FF" stroke-width="1.76" stroke-linecap="round" fill="none"/>
<path d="M108.1 235.3h0M88.1 262.2h0M102.5 225.6h0M88.1 240.4h0" stroke="#FF0000" stroke-width="1.76" stroke-linecap="round" fill="none"/>
<path d="M146.4 224.2h0" stroke="#0000FF" stroke-width="1.76" stroke-linecap="round" fill="none"/>
<path d="M90.5 255.8h0" stroke="#FF0000" stroke-width="1.76" stroke-linecap="round" fill="none"/>
<path d="M126.3 225.6h0" stroke="#0000FF" stroke-width="1.76" stroke-linecap="round" fill="none"/>
<path d="M106.5 243.1h0M74.4 275.2h0M114.2 219.5h0" stroke="#FF0000" stroke-width="1.76" stroke-linecap="round" fill="none"/>
<path d="M92.5 237.0h0" stroke="#0000FF" stroke-width="1.76" stroke-linecap="round" fill="none"/>
<path d="M110.5 214.7h0M84.3 244.8h0" stroke="#FF0000" stroke-width="1.76" stroke-linecap="round" fill="none"/>
<path d="M115.8 235.2h0M106.5 252.8h0M120.3 228.8h0" stroke="#0000FF" stroke-width="1.76" stroke-linecap="round" fill="none"/>
<path d="M92.2 247.9h0M98.1 240.2h0" stroke="#FF0000" stroke-width="1.76" stroke-linecap="round" fill="none"/>
<path d="M96.1 217.5h0" stroke="#0000FF" stroke-width="1.76" stroke-linecap="round" fill="none"/>
<path d="M102.2 246.7h0" stroke="#FF0000" stroke-width="1.76" stroke-linecap="round" fill="none"/>
<path d="M120.3 249.6h0M125.6 219.2h0" stroke="#0000FF" stroke-width="1.76" stroke-linecap="round" fill="none"/>
<path d="M94.4 223.8h0" stroke="#FF0000" stroke-width="1.76" stroke-linecap="round" fill="none"/>
<path d="M92.5 230.5h0" stroke="#0000FF" stroke-width="1.76" stroke-linecap="round" fill="none"/>
<path d="M94.2 241.9h0M118.1 211.4h0" stroke="#FF0000" stroke-width="1.76" stroke-linecap="round" fill="none"/>
<path d="M98.3 253.1h0M120.5 220.6h0M130.1 222.5h0" stroke="#0000FF" stroke-width="1.76" stroke-linecap="round" fill="none"/>
<path d="M170.6 215.0h0" stroke="#FF0000" stroke-width="1.76" stroke-linecap="round" fill="none"/>
<path d="M96.1 216.2h0" stroke="#0000FF" stroke-width="1.76" stroke-linecap="round" fill="none"/>
<path d="M116.1 243.2h0" stroke="#FF0000" stroke-width="1.76" stroke-linecap="round" fill="none"/>
<path d="M73.4 240.0h0M131.7 240.3h0" stroke="#0000FF" stroke-width="1.76" stroke-linecap="round" fill="none"/>
<path d="M160.9 220.0h0" stroke="#FF0000" stroke-width="1.76" stroke-linecap="round" fill="none"/>
<path d="M94.3 226.0h0" stroke="#0000FF" stroke-width="1.76" stroke-linecap="round" fill="none"/>
<path d="M96.5 258.3h0M92.4 246.6h0" stroke="#FF0000" stroke-width="1.76" stroke-linecap="round" fill="none"/>
<path d="M94.4 228.7h0" stroke="#0000FF" stroke-width="1.76" stroke-linecap="round" fill="none"/>
<path d="M92.2 227.1h0" stroke="#FF0000" stroke-width="1.76" stroke-linecap="round" fill="none"/>
<path d="M86.3 233.5h0M82.4 254.4h0" stroke="#0000FF" stroke-width="1.76" stroke-linecap="round" fill="none"/>
<path d="M81.2 246.6h0M90.5 248.0h0M151.1 232.5h0M98.1 230.6h0M108.2 233.7h0M166.3 251.2h0" stroke="#FF0000" stroke-width="1.76" stroke-linecap="round" fill="none"/>
<path d="M132.4 238.6h0M104.1 241.9h0" stroke="#0000FF" stroke-width="1.76" stroke-linecap="round" fill="none"/>
<path d="M84.5 243.5h0M100.4 229.0h0M100.4 214.4h0" stroke="#FF0000" stroke-width="1.76" stroke-linecap="round" fill="none"/>
<path d="M98.3 259.1h0" stroke="#0000FF" stroke-width="1.76" stroke-linecap="round" fill="none"/>
<path d="M98.1 257.9h0M190.1 244.9h0M98.3 221.2h0M98.2 223.8h0M106.5 230.2h0M86.5 259.5h0M116.5 243.1h0" stroke="#FF0000" stroke-width="1.76" stroke-linecap="round" fill="none"/>
<path d="M130.3 228.8h0" stroke="#0000FF" stroke-width="1.76" stroke-linecap="round" fill="none"/>
<path d="M102.2 233.9h0M102.1 223.9h0M116.4 246.3h0M176.9 242.4h0M86.2 243.1h0M92.4 254.5h0M92.4 209.4h0" stroke="#FF0000" stroke-width="1.76" stroke-linecap="round" fill="none"/>
<path d="M94.5 224.2h0" stroke="#0000FF" stroke-width="1.76" stroke-linecap="round" fill="none"/>
<path d="M102.5 236.8h0" stroke="#FF0000" stroke-width="1.76" stroke-linecap="round" fill="none"/>
<path d="M98.4 228.9h0" stroke="#0000FF" stroke-width="1.76" stroke-linecap="round" fill="none"/>
<path d="M92.1 233.8h0M96.4 227.6h0" stroke="#FF0000" stroke-width="1.76" stroke-linecap="round" fill="none"/>
<path d="M106.1 244.9h0" stroke="#0000FF" stroke-width="1.76" stroke-linecap="round" fill="none"/>
<path d="M70.7 261.1h0M122.4 227.3h0M90.2 229.1h0M88.3 217.7h0M83.8 237.3h0" stroke="#FF0000" stroke-width="1.76" stroke-linecap="round" fill="none"/>
<path d="M147.6 221.1h0" stroke="#0000FF" stroke-width="1.76" stroke-linecap="round" fill="none"/>
<path d="M174.2 240.4h0" stroke="#FF0000" stroke-width="1.76" stroke-linecap="round" fill="none"/>
<path d="M88.4 236.8h0" stroke="#0000FF" stroke-width="1.76" stroke-linecap="round" fill="none"/>
<path d="M90.3 249.9h0" stroke="#FF0000" stroke-width="1.76" stroke-linecap="round" fill="none"/>
<path d="M90.2 241.4h0" stroke="#0000FF" stroke-width="1.76" stroke-linecap="round" fill="none"/>
<path d="M104.2 249.6h0M150.8 246.0h0M92.3 246.4h0M92.5 249.9h0" stroke="#FF0000" stroke-width="1.76" stroke-linecap="round" fill="none"/>
<path d="M217.2 259.3h0" stroke="#0000FF" stroke-width="1.76" stroke-linecap="round" fill="none"/>
<path d="M164.9 232.4h0M92.1 254.5h0M86.4 246.3h0M98.4 246.4h0M60.1 270.8h0" stroke="#FF0000" stroke-width="1.76" stroke-linecap="round" fill="none"/>
<path d="M112.1 238.7h0M112.2 221.0h0M126.1 206.6h0M106.4 227.1h0" stroke="#0000FF" stroke-width="1.76" stroke-linecap="round" fill="none"/>
<path d="M106.5 227.5h0M116.2 226.0h0M116.1 251.4h0" stroke="#FF0000" stroke-width="1.76" stroke-linecap="round" fill="none"/>
<path d="M94.4 236.7h0" stroke="#0000FF" stroke-width="1.76" stroke-linecap="round" fill="none"/>
<path d="M86.2 251.4h0M98.5 254.7h0M108.3 251.4h0" stroke="#FF0000" stroke-width="1.76" stroke-linecap="round" fill="none"/>
<path d="M102.5 246.7h0" stroke="#0000FF" stroke-width="1.76" stroke-linecap="round" fill="none"/>
<path d="M92.2 230.2h0M82.1 258.0h0M90.2 216.2h0M88.5 238.6h0M118.3 230.6h0M94.5 247.9h0M90.3 201.4h0" stroke="#FF0000" stroke-width="1.76" stroke-linecap="round" fill="none"/>
<path d="M86.1 217.8h0" stroke="#0000FF" stroke-width="1.76" stroke-linecap="round" fill="none"/>
<path d="M142.2 229.8h0M88.5 232.3h0M92.4 253.1h0M86.4 253.0h0M92.4 243.3h0M137.7 214.9h0M102.5 220.8h0M96.4 238.8h0M92.4 240.1h0M104.3 245.0h0M92.2 243.3h0" stroke="#FF0000" stroke-width="1.76" stroke-linecap="round" fill="none"/>
<path d="M90.5 259.6h0" stroke="#0000FF" stroke-width="1.76" stroke-linecap="round" fill="none"/>
<path d="M98.1 225.6h0M111.6 244.7h0" stroke="#FF0000" stroke-width="1.76" stroke-linecap="round" fill="none"/>
<path d="M102.3 230.6h0" stroke="#0000FF" stroke-width="1.76" stroke-linecap="round" fill="none"/>
<path d="M100.2 238.6h0M82.1 251.4h0M80.3 235.8h0M84.4 241.9h0" stroke="#FF0000" stroke-width="1.76" stroke-linecap="round" fill="none"/>
<path d="M86.1 238.5h0" stroke="#0000FF" stroke-width="1.76" stroke-linecap="round" fill="none"/>
<path d="M86.5 217.9h0M84.2 265.8h0M110.3 254.0h0M159.3 218.1h0M210.7 238.8h0" stroke="#FF0000" stroke-width="1.76" stroke-linecap="round" fill="none"/>
<path d="M118.1 228.7h0M96.2 231.8h0M136.8 206.9h0" stroke="#0000FF" stroke-width="1.76" stroke-linecap="round" fill="none"/>
<path d="M138.3 238.1h0" stroke="#FF0000" stroke-width="1.76" stroke-linecap="round" fill="none"/>
<path d="M96.1 249.5h0" stroke="#0000FF" stroke-width="1.76" stroke-linecap="round" fill="none"/>
<path d="M104.5 212.6h0M108.2 233.5h0M80.1 246.6h0M82.5 252.7h0M110.5 243.4h0" stroke="#FF0000" stroke-width="1.76" stroke-linecap="round" fill="none"/>
<path d="M90.1 235.4h0" stroke="#0000FF" stroke-width="1.76" stroke-linecap="round" fill="none"/>
<path d="M113.4 253.4h0M140.2 232.0h0M98.3 278.6h0" stroke="#FF0000" stroke-width="1.76" stroke-linecap="round" fill="none"/>
<path d="M122.4 239.9h0" stroke="#0000FF" stroke-width="1.76" stroke-linecap="round" fill="none"/>
<path d="M88.5 230.4h0M86.1 230.4h0M86.4 264.3h0" stroke="#FF0000" stroke-width="1.76" stroke-linecap="round" fill="none"/>
<path d="M98.2 224.1h0" stroke="#0000FF" stroke-width="1.76" stroke-linecap="round" fill="none"/>
<path d="M82.4 248.1h0M84.5 243.0h0M86.4 213.1h0M90.3 227.0h0" stroke="#FF0000" stroke-width="1.76" stroke-linecap="round" fill="none"/>
<path d="M102.5 246.2h0" stroke="#0000FF" stroke-width="1.76" stroke-linecap="round" fill="none"/>
<path d="M92.5 261.1h0" stroke="#FF0000" stroke-width="1.76" stroke-linecap="round" fill="none"/>
<path d="M106.3 224.4h0" stroke="#0000FF" stroke-width="1.76" stroke-linecap="round" fill="none"/>
<path d="M98.2 215.8h0M143.1 238.0h0M104.3 230.1h0" stroke="#FF0000" stroke-width="1.76" stroke-linecap="round" fill="none"/>
<path d="M110.9 234.7h0M98.1 233.9h0M88.4 247.9h0" stroke="#0000FF" stroke-width="1.76" stroke-linecap="round" fill="none"/>
<path d="M100.5 233.9h0M147.3 248.0h0M175.5 227.5h0M96.5 241.8h0" stroke="#FF0000" stroke-width="1.76" stroke-linecap="round" fill="none"/>
<path d="M92.3 238.5h0" stroke="#0000FF" stroke-width="1.76" stroke-linecap="round" fill="none"/>
<path d="M104.4 246.4h0" stroke="#FF0000" stroke-width="1.76" stroke-linecap="round" fill="none"/>
<path d="M100.4 256.1h0M90.1 243.5h0" stroke="#0000FF" stroke-width="1.76" stroke-linecap="round" fill="none"/>
<path d="M90.5 209.5h0" stroke="#FF0000" stroke-width="1.76" stroke-linecap="round" fill="none"/>
<path d="M98.4 230.4h0M102.3 246.7h0M94.1 209.9h0" stroke="#0000FF" stroke-width="1.76" stroke-linecap="round" fill="none"/>
<path d="M106.5 227.5h0" stroke="#FF0000" stroke-width="1.76" stroke-linecap="round" fill="none"/>
<path d="M165.8 251.5h0" stroke="#0000FF" stroke-width="1.76" stroke-linecap="round" fill="none"/>
<path d="M104.2 243.6h0M110.1 248.2h0M92.1 251.3h0" stroke="#FF0000" stroke-width="1.76" stroke-linecap="round" fill="none"/>
<path d="M86.2 236.9h0" stroke="#0000FF" stroke-width="1.76" stroke-linecap="round" fill="none"/>
<path d="M110.3 232.3h0M79.9 257.1h0M86.4 228.6h0M98.3 240.1h0M94.2 243.3h0" stroke="#FF0000" stroke-width="1.76" stroke-linecap="round" fill="none"/>
<path d="M112.4 220.9h0" stroke="#0000FF" stroke-width="1.76" stroke-linecap="round" fill="none"/>
<path d="M98.1 248.3h0" stroke="#FF0000" stroke-width="1.76" stroke-linecap="round" fill="none"/>
<path d="M86.3 244.8h0" stroke="#0000FF" stroke-width="1.76" stroke-linecap="round" fill="none"/>
<path d="M98.4 238.6h0" stroke="#FF0000" stroke-width="1.76" stroke-linecap="round" fill="none"/>
<path d="M136.4 245.1h0" stroke="#0000FF" stroke-width="1.76" stroke-linecap="round" fill="none"/>
<path d="M142.3 227.6h0" stroke="#FF0000" stroke-width="1.76" stroke-linecap="round" fill="none"/>
<path d="M88.4 240.3h0" stroke="#0000FF" stroke-width="1.76" stroke-linecap="round" fill="none"/>
<path d="M92.3 230.3h0" stroke="#FF0000" stroke-width="1.76" stroke-linecap="round" fill="none"/>
<path d="M114.3 243.4h0" stroke="#0000FF" stroke-width="1.76" stroke-linecap="round" fill="none"/>
<path d="M120.4 241.9h0M88.4 248.2h0" stroke="#FF0000" stroke-width="1.76" stroke-linecap="round" fill="none"/>
<path d="M86.1 233.6h0" stroke="#0000FF" stroke-width="1.76" stroke-linecap="round" fill="none"/>
<path d="M69.8 268.8h0" stroke="#FF0000" stroke-width="1.76" stroke-linecap="round" fill="none"/>
<path d="M108.1 222.8h0M92.1 243.3h0" stroke="#0000FF" stroke-width="1.76" stroke-linecap="round" fill="none"/>
<path d="M94.3 267.6h0M110.2 251.3h0" stroke="#FF0000" stroke-width="1.76" stroke-linecap="round" fill="none"/>
<path d="M90.2 251.4h0" stroke="#0000FF" stroke-width="1.76" stroke-linecap="round" fill="none"/>
<path d="M96.6 222.5h0M94.2 199.9h0M84.5 238.3h0" stroke="#FF0000" stroke-width="1.76" stroke-linecap="round" fill="none"/>
<path d="M141.6 229.2h0M90.1 243.3h0M88.2 238.2h0" stroke="#0000FF" stroke-width="1.76" stroke-linecap="round" fill="none"/>
<path d="M104.5 251.6h0" stroke="#FF0000" stroke-width="1.76" stroke-linecap="round" fill="none"/>
<path d="M104.2 228.9h0" stroke="#0000FF" stroke-width="1.76" stroke-linecap="round" fill="none"/>
<path d="M96.5 236.9h0M96.1 263.9h0M82.6 245.1h0M86.1 230.8h0M92.4 227.2h0" stroke="#FF0000" stroke-width="1.76" stroke-linecap="round" fill="none"/>
<path d="M106.1 245.8h0" stroke="#0000FF" stroke-width="1.76" stroke-linecap="round" fill="none"/>
<path d="M75.1 263.7h0M120.4 246.4h0M98.4 257.9h0M114.1 240.2h0" stroke="#FF0000" stroke-width="1.76" stroke-linecap="round" fill="none"/>
<path d="M100.2 221.1h0M94.2 243.1h0" stroke="#0000FF" stroke-width="1.76" stroke-linecap="round" fill="none"/>
<path d="M204.3 230.5h0M86.1 257.6h0M112.1 215.9h0M98.5 254.3h0M90.2 232.2h0M88.2 248.0h0" stroke="#FF0000" stroke-width="1.76" stroke-linecap="round" fill="none"/>
<path d="M108.5 235.2h0" stroke="#0000FF" stroke-width="1.76" stroke-linecap="round" fill="none"/>
<path d="M138.6 239.9h0M82.2 246.6h0M98.5 217.4h0M106.2 233.7h0M102.3 251.7h0" stroke="#FF0000" stroke-width="1.76" stroke-linecap="round" fill="none"/>
<path d="M100.2 225.7h0" stroke="#0000FF" stroke-width="1.76" stroke-linecap="round" fill="none"/>
<path d="M108.3 233.8h0M118.1 204.7h0" stroke="#FF0000" stroke-width="1.76" stroke-linecap="round" fill="none"/>
<path d="M88.5 240.4h0" stroke="#0000FF" stroke-width="1.76" stroke-linecap="round" fill="none"/>
<path d="M94.3 236.6h0M102.1 238.2h0" stroke="#FF0000" stroke-width="1.76" stroke-linecap="round" fill="none"/>
<path d="M114.5 232.1h0" stroke="#0000FF" stroke-width="1.76" stroke-linecap="round" fill="none"/>
<path d="M104.2 258.0h0" stroke="#FF0000" stroke-width="1.76" stroke-linecap="round" fill="none"/>
<path d="M104.2 232.0h0" stroke="#0000FF" stroke-width="1.76" stroke-linecap="round" fill="none"/>
<path d="M43.2 242.7h0M94.2 244.9h0M116.1 243.4h0M98.3 244.9h0" stroke="#FF0000" stroke-width="1.76" stroke-linecap="round" fill="none"/>
<path d="M92.1 222.6h0" stroke="#0000FF" stroke-width="1.76" stroke-linecap="round" fill="none"/>
<path d="M108.4 243.5h0M88.1 248.4h0M92.3 240.2h0M104.1 268.9h0" stroke="#FF0000" stroke-width="1.76" stroke-linecap="round" fill="none"/>
<path d="M104.1 237.0h0M104.2 222.3h0M92.4 223.9h0" stroke="#0000FF" stroke-width="1.76" stroke-linecap="round" fill="none"/>
<path d="M84.1 245.2h0" stroke="#FF0000" stroke-width="1.76" stroke-linecap="round" fill="none"/>
<path d="M120.1 216.0h0" stroke="#0000FF" stroke-width="1.76" stroke-linecap="round" fill="none"/>
<path d="M81.2 211.2h0" stroke="#FF0000" stroke-width="1.76" stroke-linecap="round" fill="none"/>
<path d="M102.3 237.0h0M82.3 227.5h0" stroke="#0000FF" stroke-width="1.76" stroke-linecap="round" fill="none"/>
<path d="M93.2 263.8h0M82.3 243.1h0M84.2 235.5h0M84.3 251.1h0M88.1 243.2h0M73.8 214.9h0M76.1 256.1h0M82.4 246.7h0" stroke="#FF0000" stroke-width="1.76" stroke-linecap="round" fill="none"/>
<path d="M98.2 231.9h0" stroke="#0000FF" stroke-width="1.76" stroke-linecap="round" fill="none"/>
<path d="M89.7 235.2h0M80.4 256.4h0M78.3 238.3h0M108.2 227.6h0" stroke="#FF0000" stroke-width="1.76" stroke-linecap="round" fill="none"/>
<path d="M96.1 235.3h0M98.5 227.1h0" stroke="#0000FF" stroke-width="1.76" stroke-linecap="round" fill="none"/>
<path d="M146.2 238.9h0" stroke="#FF0000" stroke-width="1.76" stroke-linecap="round" fill="none"/>
<path d="M106.2 240.4h0" stroke="#0000FF" stroke-width="1.76" stroke-linecap="round" fill="none"/>
<path d="M102.4 225.5h0M92.4 251.6h0" stroke="#FF0000" stroke-width="1.76" stroke-linecap="round" fill="none"/>
<path d="M90.4 239.9h0M96.3 222.3h0" stroke="#0000FF" stroke-width="1.76" stroke-linecap="round" fill="none"/>
<path d="M102.3 259.2h0" stroke="#FF0000" stroke-width="1.76" stroke-linecap="round" fill="none"/>
<path d="M115.4 267.0h0M144.2 221.0h0M108.1 237.0h0" stroke="#0000FF" stroke-width="1.76" stroke-linecap="round" fill="none"/>
<path d="M110.4 219.4h0" stroke="#FF0000" stroke-width="1.76" stroke-linecap="round" fill="none"/>
<path d="M100.2 224.6h0" stroke="#0000FF" stroke-width="1.76" stroke-linecap="round" fill="none"/>
<path d="M88.1 264.2h0M94.3 248.3h0" stroke="#FF0000" stroke-width="1.76" stroke-linecap="round" fill="none"/>
<path d="M104.5 201.9h0M84.4 246.5h0" stroke="#0000FF" stroke-width="1.76" stroke-linecap="round" fill="none"/>
<path d="M100.4 246.3h0M86.3 246.7h0" stroke="#FF0000" stroke-width="1.76" stroke-linecap="round" fill="none"/>
<path d="M90.4 235.6h0" stroke="#0000FF" stroke-width="1.76" stroke-linecap="round" fill="none"/>
<path d="M106.1 288.1h0" stroke="#FF0000" stroke-width="1.76" stroke-linecap="round" fill="none"/>
<path d="M92.1 221.0h0" stroke="#0000FF" stroke-width="1.76" stroke-linecap="round" fill="none"/>
<path d="M86.5 264.0h0M90.2 247.9h0M96.4 245.0h0M84.2 262.5h0M100.2 249.8h0" stroke="#FF0000" stroke-width="1.76" stroke-linecap="round" fill="none"/>
<path d="M108.4 222.2h0" stroke="#0000FF" stroke-width="1.76" stroke-linecap="round" fill="none"/>
<path d="M96.5 267.2h0M96.4 241.8h0M94.3 243.4h0M98.4 246.3h0M100.2 243.5h0M88.5 240.1h0M102.2 253.0h0M94.5 220.9h0" stroke="#FF0000" stroke-width="1.76" stroke-linecap="round" fill="none"/>
<path d="M145.5 257.2h0" stroke="#0000FF" stroke-width="1.76" stroke-linecap="round" fill="none"/>
<path d="M113.7 251.2h0M86.4 257.6h0" stroke="#FF0000" stroke-width="1.76" stroke-linecap="round" fill="none"/>
<path d="M157.7 268.6h0M88.5 232.4h0" stroke="#0000FF" stroke-width="1.76" stroke-linecap="round" fill="none"/>
<path d="M84.2 235.2h0M98.1 234.0h0M82.5 241.6h0M102.4 238.5h0" stroke="#FF0000" stroke-width="1.76" stroke-linecap="round" fill="none"/>
<path d="M98.5 251.3h0" stroke="#0000FF" stroke-width="1.76" stroke-linecap="round" fill="none"/>
<path d="M98.5 233.9h0M104.3 237.8h0M88.2 219.5h0M84.4 262.6h0" stroke="#FF0000" stroke-width="1.76" stroke-linecap="round" fill="none"/>
<path d="M82.5 251.3h0" stroke="#0000FF" stroke-width="1.76" stroke-linecap="round" fill="none"/>
<path d="M94.1 248.3h0M100.1 230.3h0M98.3 238.5h0M102.4 235.1h0M94.5 248.2h0" stroke="#FF0000" stroke-width="1.76" stroke-linecap="round" fill="none"/>
<path d="M109.9 231.1h0" stroke="#0000FF" stroke-width="1.76" stroke-linecap="round" fill="none"/>
<path d="M98.3 259.2h0" stroke="#FF0000" stroke-width="1.76" stroke-linecap="round" fill="none"/>
<path d="M102.2 241.5h0" stroke="#0000FF" stroke-width="1.76" stroke-linecap="round" fill="none"/>
<path d="M100.4 229.0h0M98.1 238.7h0" stroke="#FF0000" stroke-width="1.76" stroke-linecap="round" fill="none"/>
<path d="M92.4 225.9h0" stroke="#0000FF" stroke-width="1.76" stroke-linecap="round" fill="none"/>
<path d="M135.8 220.6h0" stroke="#FF0000" stroke-width="1.76" stroke-linecap="round" fill="none"/>
<path d="M112.1 251.5h0" stroke="#0000FF" stroke-width="1.76" stroke-linecap="round" fill="none"/>
<path d="M92.3 255.9h0M88.4 243.4h0M86.3 209.6h0M110.1 238.8h0M106.1 232.2h0" stroke="#FF0000" stroke-width="1.76" stroke-linecap="round" fill="none"/>
<path d="M84.1 240.0h0M100.5 227.5h0M130.3 225.8h0" stroke="#0000FF" stroke-width="1.76" stroke-linecap="round" fill="none"/>
<path d="M208.8 252.0h0M98.4 251.5h0M124.1 263.2h0" stroke="#FF0000" stroke-width="1.76" stroke-linecap="round" fill="none"/>
<path d="M100.4 232.0h0M136.4 248.0h0" stroke="#0000FF" stroke-width="1.76" stroke-linecap="round" fill="none"/>
<path d="M94.3 233.8h0" stroke="#FF0000" stroke-width="1.76" stroke-linecap="round" fill="none"/>
<path d="M102.4 225.8h0" stroke="#0000FF" stroke-width="1.76" stroke-linecap="round" fill="none"/>
<path d="M86.2 265.6h0M102.4 235.1h0M88.1 243.5h0M100.3 243.5h0M96.3 260.7h0M88.1 235.4h0" stroke="#FF0000" stroke-width="1.76" stroke-linecap="round" fill="none"/>
<path d="M100.1 251.2h0" stroke="#0000FF" stroke-width="1.76" stroke-linecap="round" fill="none"/>
<path d="M102.2 232.0h0M86.3 248.0h0M227.8 252.7h0M110.4 230.3h0M94.1 246.2h0" stroke="#FF0000" stroke-width="1.76" stroke-linecap="round" fill="none"/>
<path d="M104.0 252.4h0" stroke="#0000FF" stroke-width="1.76" stroke-linecap="round" fill="none"/>
<path d="M104.4 219.1h0" stroke="#FF0000" stroke-width="1.76" stroke-linecap="round" fill="none"/>
<path d="M88.5 214.6h0" stroke="#0000FF" stroke-width="1.76" stroke-linecap="round" fill="none"/>
<path d="M100.2 235.3h0M167.6 239.5h0" stroke="#FF0000" stroke-width="1.76" stroke-linecap="round" fill="none"/>
<path d="M94.5 252.8h0" stroke="#0000FF" stroke-width="1.76" stroke-linecap="round" fill="none"/>
<path d="M102.1 264.2h0M75.1 226.3h0" stroke="#FF0000" stroke-width="1.76" stroke-linecap="round" fill="none"/>
<path d="M178.6 238.4h0M140.8 234.1h0" stroke="#0000FF" stroke-width="1.76" stroke-linecap="round" fill="none"/>
<path d="M114.2 235.5h0M98.2 233.8h0" stroke="#FF0000" stroke-width="1.76" stroke-linecap="round" fill="none"/>
<path d="M92.5 233.5h0" stroke="#0000FF" stroke-width="1.76" stroke-linecap="round" fill="none"/>
<path d="M108.3 245.1h0" stroke="#FF0000" stroke-width="1.76" stroke-linecap="round" fill="none"/>
<path d="M141.7 221.9h0M101.4 254.9h0" stroke="#0000FF" stroke-width="1.76" stroke-linecap="round" fill="none"/>
<path d="M196.7 239.5h0M90.5 261.1h0M209.7 261.9h0M127.9 237.3h0M82.4 241.4h0" stroke="#FF0000" stroke-width="1.76" stroke-linecap="round" fill="none"/>
<path d="M96.4 212.8h0M137.1 229.9h0" stroke="#0000FF" stroke-width="1.76" stroke-linecap="round" fill="none"/>
<path d="M114.3 251.6h0M102.3 232.2h0M113.8 245.7h0M98.2 238.4h0M110.2 238.7h0M90.4 233.6h0M118.4 249.7h0M105.8 225.3h0M88.1 249.9h0M94.5 237.0h0" stroke="#FF0000" stroke-width="1.76" stroke-linecap="round" fill="none"/>
<path d="M126.5 228.8h0" stroke="#0000FF" stroke-width="1.76" stroke-linecap="round" fill="none"/>
<path d="M84.3 243.2h0" stroke="#FF0000" stroke-width="1.76" stroke-linecap="round" fill="none"/>
<path d="M98.3 241.6h0M88.5 224.0h0" stroke="#0000FF" stroke-width="1.76" stroke-linecap="round" fill="none"/>
<path d="M98.3 230.7h0" stroke="#FF0000" stroke-width="1.76" stroke-linecap="round" fill="none"/>
<path d="M96.1 241.8h0M86.4 232.1h0" stroke="#0000FF" stroke-width="1.76" stroke-linecap="round" fill="none"/>
<path d="M84.3 232.2h0M102.4 219.0h0M100.9 227.6h0M96.5 198.3h0M96.2 224.3h0M102.4 241.5h0M100.4 249.6h0M102.4 219.2h0" stroke="#FF0000" stroke-width="1.76" stroke-linecap="round" fill="none"/>
<path d="M108.4 257.7h0M102.3 244.8h0M110.4 236.6h0" stroke="#0000FF" stroke-width="1.76" stroke-linecap="round" fill="none"/>
<path d="M130.2 232.1h0" stroke="#FF0000" stroke-width="1.76" stroke-linecap="round" fill="none"/>
<path d="M116.2 233.6h0" stroke="#0000FF" stroke-width="1.76" stroke-linecap="round" fill="none"/>
<path d="M88.2 259.4h0M154.2 230.4h0" stroke="#FF0000" stroke-width="1.76" stroke-linecap="round" fill="none"/>
<path d="M106.2 240.0h0" stroke="#0000FF" stroke-width="1.76" stroke-linecap="round" fill="none"/>
<path d="M82.4 241.7h0M123.7 236.2h0" stroke="#FF0000" stroke-width="1.76" stroke-linecap="round" fill="none"/>
<path d="M92.4 241.8h0M96.3 231.9h0M96.5 235.3h0M92.3 228.9h0M140.1 234.0h0" stroke="#0000FF" stroke-width="1.76" stroke-linecap="round" fill="none"/>
<path d="M87.5 219.2h0" stroke="#FF0000" stroke-width="1.76" stroke-linecap="round" fill="none"/>
<path d="M112.5 236.8h0M100.2 211.6h0M92.2 237.1h0M103.8 231.8h0M92.2 219.3h0" stroke="#0000FF" stroke-width="1.76" stroke-linecap="round" fill="none"/>
<path d="M110.9 231.3h0" stroke="#FF0000" stroke-width="1.76" stroke-linecap="round" fill="none"/>
<path d="M100.4 243.6h0" stroke="#0000FF" stroke-width="1.76" stroke-linecap="round" fill="none"/>
<path d="M102.3 261.2h0M98.4 257.8h0M106.3 222.6h0M84.1 246.4h0" stroke="#FF0000" stroke-width="1.76" stroke-linecap="round" fill="none"/>
<path d="M85.2 263.4h0" stroke="#0000FF" stroke-width="1.76" stroke-linecap="round" fill="none"/>
<path d="M106.1 239.9h0M96.1 232.3h0M130.2 238.6h0" stroke="#FF0000" stroke-width="1.76" stroke-linecap="round" fill="none"/>
<path d="M96.2 208.1h0" stroke="#0000FF" stroke-width="1.76" stroke-linecap="round" fill="none"/>
<path d="M100.3 246.6h0" stroke="#FF0000" stroke-width="1.76" stroke-linecap="round" fill="none"/>
<path d="M102.5 230.7h0" stroke="#0000FF" stroke-width="1.76" stroke-linecap="round" fill="none"/>
<path d="M126.4 227.5h0M102.3 228.7h0M98.4 236.9h0" stroke="#FF0000" stroke-width="1.76" stroke-linecap="round" fill="none"/>
<path d="M98.1 246.8h0" stroke="#0000FF" stroke-width="1.76" stroke-linecap="round" fill="none"/>
<path d="M116.8 237.1h0M110.1 237.0h0M185.4 238.5h0M122.2 250.0h0M110.2 273.6h0" stroke="#FF0000" stroke-width="1.76" stroke-linecap="round" fill="none"/>
<path d="M88.4 227.1h0M116.2 217.5h0M99.5 238.6h0" stroke="#0000FF" stroke-width="1.76" stroke-linecap="round" fill="none"/>
<path d="M94.5 249.5h0M112.2 248.1h0M120.4 227.5h0M102.2 246.6h0" stroke="#FF0000" stroke-width="1.76" stroke-linecap="round" fill="none"/>
<path d="M102.2 224.0h0" stroke="#0000FF" stroke-width="1.76" stroke-linecap="round" fill="none"/>
<path d="M108.1 241.4h0" stroke="#FF0000" stroke-width="1.76" stroke-linecap="round" fill="none"/>
<path d="M84.5 235.3h0M110.1 219.8h0" stroke="#0000FF" stroke-width="1.76" stroke-linecap="round" fill="none"/>
<path d="M92.3 249.5h0M108.2 227.1h0M104.5 232.4h0" stroke="#FF0000" stroke-width="1.76" stroke-linecap="round" fill="none"/>
<path d="M106.1 270.3h0M110.3 241.4h0M84.1 244.9h0" stroke="#0000FF" stroke-width="1.76" stroke-linecap="round" fill="none"/>
<path d="M114.1 253.1h0M104.5 228.6h0M92.1 249.7h0" stroke="#FF0000" stroke-width="1.76" stroke-linecap="round" fill="none"/>
<path d="M100.5 228.8h0M94.1 241.6h0M84.1 252.7h0" stroke="#0000FF" stroke-width="1.76" stroke-linecap="round" fill="none"/>
<path d="M96.3 246.7h0" stroke="#FF0000" stroke-width="1.76" stroke-linecap="round" fill="none"/>
<path d="M94.1 237.1h0M106.4 216.9h0M104.4 249.8h0M98.3 222.7h0" stroke="#0000FF" stroke-width="1.76" stroke-linecap="round" fill="none"/>
<path d="M98.5 224.2h0M110.1 251.1h0M96.2 248.0h0M108.3 231.9h0M170.3 227.2h0M104.1 225.8h0M92.4 227.1h0" stroke="#FF0000" stroke-width="1.76" stroke-linecap="round" fill="none"/>
<path d="M100.3 235.6h0" stroke="#0000FF" stroke-width="1.76" stroke-linecap="round" fill="none"/>
<path d="M112.5 219.4h0M90.4 264.0h0M100.1 221.0h0M91.0 240.5h0M92.2 251.1h0M147.6 226.9h0M126.3 212.9h0" stroke="#FF0000" stroke-width="1.76" stroke-linecap="round" fill="none"/>
<path d="M88.8 254.7h0" stroke="#0000FF" stroke-width="1.76" stroke-linecap="round" fill="none"/>
<path d="M112.1 241.5h0M92.5 230.7h0" stroke="#FF0000" stroke-width="1.76" stroke-linecap="round" fill="none"/>
<path d="M98.4 244.7h0" stroke="#0000FF" stroke-width="1.76" stroke-linecap="round" fill="none"/>
<path d="M108.1 223.9h0M96.3 259.4h0M100.3 262.7h0M94.2 252.6h0M115.6 240.0h0M83.0 286.5h0M106.4 219.6h0M96.1 240.3h0" stroke="#FF0000" stroke-width="1.76" stroke-linecap="round" fill="none"/>
<path d="M84.4 243.2h0M88.4 230.5h0" stroke="#0000FF" stroke-width="1.76" stroke-linecap="round" fill="none"/>
<path d="M90.5 257.7h0" stroke="#FF0000" stroke-width="1.76" stroke-linecap="round" fill="none"/>
<path d="M98.5 231.9h0" stroke="#0000FF" stroke-width="1.76" stroke-linecap="round" fill="none"/>
<path d="M188.2 239.6h0M90.4 225.9h0M178.8 216.1h0M104.3 248.0h0" stroke="#FF0000" stroke-width="1.76" stroke-linecap="round" fill="none"/>
<path d="M92.2 238.4h0" stroke="#0000FF" stroke-width="1.76" stroke-linecap="round" fill="none"/>
<path d="M92.4 222.5h0M94.1 249.4h0M96.4 243.5h0" stroke="#FF0000" stroke-width="1.76" stroke-linecap="round" fill="none"/>
<path d="M98.4 232.3h0" stroke="#0000FF" stroke-width="1.76" stroke-linecap="round" fill="none"/>
<path d="M100.2 227.0h0M118.5 222.5h0M80.1 267.0h0" stroke="#FF0000" stroke-width="1.76" stroke-linecap="round" fill="none"/>
<path d="M128.2 238.3h0M92.3 236.9h0" stroke="#0000FF" stroke-width="1.76" stroke-linecap="round" fill="none"/>
<path d="M96.3 226.0h0M108.4 240.1h0" stroke="#FF0000" stroke-width="1.76" stroke-linecap="round" fill="none"/>
<path d="M120.5 246.5h0M94.4 225.6h0" stroke="#0000FF" stroke-width="1.76" stroke-linecap="round" fill="none"/>
<path d="M94.3 217.8h0M106.4 243.4h0M90.1 248.3h0M172.0 237.8h0" stroke="#FF0000" stroke-width="1.76" stroke-linecap="round" fill="none"/>
<path d="M117.1 229.1h0M92.1 222.8h0" stroke="#0000FF" stroke-width="1.76" stroke-linecap="round" fill="none"/>
<path d="M131.2 231.6h0" stroke="#FF0000" stroke-width="1.76" stroke-linecap="round" fill="none"/>
<path d="M194.7 242.6h0M116.1 243.0h0M88.3 230.6h0" stroke="#0000FF" stroke-width="1.76" stroke-linecap="round" fill="none"/>
<path d="M100.3 236.8h0M112.2 258.9h0M98.2 230.8h0" stroke="#FF0000" stroke-width="1.76" stroke-linecap="round" fill="none"/>
<path d="M92.3 241.6h0" stroke="#0000FF" stroke-width="1.76" stroke-linecap="round" fill="none"/>
<path d="M104.4 252.7h0" stroke="#FF0000" stroke-width="1.76" stroke-linecap="round" fill="none"/>
<path d="M102.5 246.7h0M114.5 234.1h0M50.7 237.9h0M88.1 240.1h0M113.9 237.9h0" stroke="#0000FF" stroke-width="1.76" stroke-linecap="round" fill="none"/>
<path d="M106.5 235.1h0" stroke="#FF0000" stroke-width="1.76" stroke-linecap="round" fill="none"/>
<path d="M105.3 208.7h0" stroke="#0000FF" stroke-width="1.76" stroke-linecap="round" fill="none"/>
<path d="M92.1 245.1h0M124.5 264.0h0" stroke="#FF0000" stroke-width="1.76" stroke-linecap="round" fill="none"/>
<path d="M116.4 231.2h0" stroke="#0000FF" stroke-width="1.76" stroke-linecap="round" fill="none"/>
<path d="M100.4 240.2h0M127.7 251.2h0M90.2 243.2h0M120.3 214.5h0M92.3 252.7h0M70.8 233.5h0M106.5 237.0h0" stroke="#FF0000" stroke-width="1.76" stroke-linecap="round" fill="none"/>
<path d="M124.3 225.5h0M126.4 214.6h0" stroke="#0000FF" stroke-width="1.76" stroke-linecap="round" fill="none"/>
<path d="M108.5 225.4h0M124.5 231.9h0M96.4 230.7h0M92.4 232.4h0" stroke="#FF0000" stroke-width="1.76" stroke-linecap="round" fill="none"/>
<path d="M100.2 224.4h0" stroke="#0000FF" stroke-width="1.76" stroke-linecap="round" fill="none"/>
<path d="M154.6 240.1h0" stroke="#FF0000" stroke-width="1.76" stroke-linecap="round" fill="none"/>
<path d="M94.5 249.4h0M118.3 227.3h0M92.1 247.9h0M172.1 192.4h0" stroke="#0000FF" stroke-width="1.76" stroke-linecap="round" fill="none"/>
<path d="M92.2 251.3h0M86.0 219.6h0M114.2 222.8h0" stroke="#FF0000" stroke-width="1.76" stroke-linecap="round" fill="none"/>
<path d="M104.4 227.3h0" stroke="#0000FF" stroke-width="1.76" stroke-linecap="round" fill="none"/>
<path d="M88.4 209.6h0M158.2 241.5h0M100.2 235.4h0" stroke="#FF0000" stroke-width="1.76" stroke-linecap="round" fill="none"/>
<path d="M102.3 220.7h0M102.1 221.2h0M117.8 205.6h0" stroke="#0000FF" stroke-width="1.76" stroke-linecap="round" fill="none"/>
<path d="M86.4 240.3h0M81.8 265.6h0" stroke="#FF0000" stroke-width="1.76" stroke-linecap="round" fill="none"/>
<path d="M122.1 216.1h0M94.5 219.0h0" stroke="#0000FF" stroke-width="1.76" stroke-linecap="round" fill="none"/>
<path d="M122.4 248.7h0M107.8 231.6h0M94.5 246.8h0" stroke="#FF0000" stroke-width="1.76" stroke-linecap="round" fill="none"/>
<path d="M102.4 243.3h0M110.5 211.3h0" stroke="#0000FF" stroke-width="1.76" stroke-linecap="round" fill="none"/>
<path d="M106.9 267.2h0" stroke="#FF0000" stroke-width="1.76" stroke-linecap="round" fill="none"/>
<path d="M98.5 220.8h0M86.2 254.7h0M82.5 251.1h0M124.4 217.9h0" stroke="#0000FF" stroke-width="1.76" stroke-linecap="round" fill="none"/>
<path d="M104.2 243.1h0M110.3 250.1h0" stroke="#FF0000" stroke-width="1.76" stroke-linecap="round" fill="none"/>
<path d="M126.1 230.5h0" stroke="#0000FF" stroke-width="1.76" stroke-linecap="round" fill="none"/>
<path d="M97.6 247.5h0M92.2 254.4h0M78.4 246.1h0M92.4 253.0h0" stroke="#FF0000" stroke-width="1.76" stroke-linecap="round" fill="none"/>
<path d="M96.1 236.6h0" stroke="#0000FF" stroke-width="1.76" stroke-linecap="round" fill="none"/>
<path d="M140.6 221.5h0" stroke="#FF0000" stroke-width="1.76" stroke-linecap="round" fill="none"/>
<path d="M108.1 233.6h0" stroke="#0000FF" stroke-width="1.76" stroke-linecap="round" fill="none"/>
<path d="M106.3 214.7h0M94.1 230.3h0M94.1 240.0h0M101.7 248.0h0M82.4 254.8h0" stroke="#FF0000" stroke-width="1.76" stroke-linecap="round" fill="none"/>
<path d="M116.1 246.6h0M116.3 230.5h0" stroke="#0000FF" stroke-width="1.76" stroke-linecap="round" fill="none"/>
<path d="M84.3 237.0h0M100.3 227.2h0" stroke="#FF0000" stroke-width="1.76" stroke-linecap="round" fill="none"/>
<path d="M97.6 232.9h0" stroke="#0000FF" stroke-width="1.76" stroke-linecap="round" fill="none"/>
<path d="M98.2 256.2h0" stroke="#FF0000" stroke-width="1.76" stroke-linecap="round" fill="none"/>
<path d="M96.3 235.6h0" stroke="#0000FF" stroke-width="1.76" stroke-linecap="round" fill="none"/>
<path d="M88.2 227.0h0M96.4 238.4h0M98.1 243.5h0" stroke="#FF0000" stroke-width="1.76" stroke-linecap="round" fill="none"/>
<polygon points="51.0,238.2 56.4,238.0 61.9,237.8 67.3,237.6 72.8,237.4 78.2,237.1 83.7,236.8 89.1,236.5 94.6,236.2 100.0,235.7 105.4,235.3 110.9,234.8 116.3,234.2 121.8,233.6 127.2,233.0 132.7,232.3 138.1,231.7 143.6,231.0 149.0,230.3 154.5,229.6 159.9,228.9 165.3,228.2 170.8,227.5 176.2,226.8 181.7,226.1 187.1,225.4 192.6,224.7 198.0,223.9 203.5,223.2 208.9,222.5 208.9,234.7 203.5,234.9 198.0,235.0 192.6,235.2 187.1,235.3 181.7,235.5 176.2,235.7 170.8,235.8 165.3,236.0 159.9,236.2 154.5,236.3 149.0,236.5 143.6,236.7 138.1,236.9 132.7,237.1 127.2,237.4 121.8,237.6 116.3,237.9 110.9,238.2 105.4,238.6 100.0,239.0 94.6,239.4 89.1,240.0 83.7,240.5 78.2,241.1 72.8,241.7 67.3,242.4 61.9,243.0 56.4,243.7 51.0,244.4" fill="#999999" fill-opacity="0.38"/>
<polygon points="57.6,245.9 63.2,245.4 68.8,244.9 74.4,244.3 80.0,243.8 85.6,243.2 91.2,242.6 96.8,242.0 102.5,241.3 108.1,240.5 113.7,239.7 119.3,238.8 124.9,238.0 130.5,237.1 136.1,236.2 141.7,235.3 147.3,234.4 152.9,233.4 158.5,232.5 164.1,231.6 169.7,230.7 175.3,229.7 181.0,228.8 186.6,227.9 192.2,227.0 197.8,226.0 203.4,225.1 209.0,224.2 214.6,223.2 220.2,222.3 220.2,232.1 214.6,232.6 209.0,233.1 203.4,233.6 197.8,234.1 192.2,234.5 186.6,235.0 181.0,235.5 175.3,236.0 169.7,236.5 164.1,237.0 158.5,237.5 152.9,238.0 147.3,238.5 141.7,239.0 136.1,239.5 130.5,240.1 124.9,240.6 119.3,241.1 113.7,241.7 108.1,242.3 102.5,243.0 96.8,243.7 91.2,244.5 85.6,245.3 80.0,246.1 74.4,247.0 68.8,247.9 63.2,248.8 57.6,249.7" fill="#999999" fill-opacity="0.38"/>
<line x1="51.0" y1="241.3" x2="208.9" y2="228.6" stroke="#0000FF" stroke-width="0.6"/>
<line x1="57.6" y1="247.8" x2="220.2" y2="227.2" stroke="#FF0000" stroke-width="0.6"/>
<line x1="49.5" y1="296.2" x2="49.5" y2="297.7" stroke="#555" stroke-width="0.5"/>
<text x="49.5" y="303.1" font-size="4.0" fill="#5a5a5a" text-anchor="middle">0.5</text>
<line x1="96.3" y1="296.2" x2="96.3" y2="297.7" stroke="#555" stroke-width="0.5"/>
<text x="96.3" y="303.1" font-size="4.0" fill="#5a5a5a" text-anchor="middle">0.7</text>
<line x1="143.1" y1="296.2" x2="143.1" y2="297.7" stroke="#555" stroke-width="0.5"/>
<text x="143.1" y="303.1" font-size="4.0" fill="#5a5a5a" text-anchor="middle">0.9</text>
<line x1="189.9" y1="296.2" x2="189.9" y2="297.7" stroke="#555" stroke-width="0.5"/>
<text x="189.9" y="303.1" font-size="4.0" fill="#5a5a5a" text-anchor="middle">1.1</text>
<line x1="39.1" y1="198.5" x2="40.6" y2="198.5" stroke="#555" stroke-width="0.5"/>
<text x="38.3" y="199.9" font-size="4.0" fill="#5a5a5a" text-anchor="end">2.1</text>
<line x1="39.1" y1="218.1" x2="40.6" y2="218.1" stroke="#555" stroke-width="0.5"/>
<text x="38.3" y="219.5" font-size="4.0" fill="#5a5a5a" text-anchor="end">2.0</text>
<line x1="39.1" y1="237.6" x2="40.6" y2="237.6" stroke="#555" stroke-width="0.5"/>
<text x="38.3" y="239.1" font-size="4.0" fill="#5a5a5a" text-anchor="end">1.9</text>
<line x1="39.1" y1="257.2" x2="40.6" y2="257.2" stroke="#555" stroke-width="0.5"/>
<text x="38.3" y="258.6" font-size="4.0" fill="#5a5a5a" text-anchor="end">1.8</text>
<line x1="39.1" y1="276.7" x2="40.6" y2="276.7" stroke="#555" stroke-width="0.5"/>
<text x="38.3" y="278.2" font-size="4.0" fill="#5a5a5a" text-anchor="end">1.7</text>
<line x1="39.1" y1="296.3" x2="40.6" y2="296.3" stroke="#555" stroke-width="0.5"/>
<text x="38.3" y="297.7" font-size="4.0" fill="#5a5a5a" text-anchor="end">1.6</text>
<rect x="295.7" y="180.8" width="190.3" height="109.3" fill="#EBEBEB"/>
<line x1="327.7" y1="180.8" x2="327.7" y2="290.1" stroke="#F7F7F7" stroke-width="0.6"/>
<line x1="373.9" y1="180.8" x2="373.9" y2="290.1" stroke="#F7F7F7" stroke-width="0.6"/>
<line x1="420.1" y1="180.8" x2="420.1" y2="290.1" stroke="#F7F7F7" stroke-width="0.6"/>
<line x1="466.3" y1="180.8" x2="466.3" y2="290.1" stroke="#F7F7F7" stroke-width="0.6"/>
<line x1="295.7" y1="186.9" x2="486" y2="186.9" stroke="#F7F7F7" stroke-width="0.6"/>
<line x1="295.7" y1="205.7" x2="486" y2="205.7" stroke="#F7F7F7" stroke-width="0.6"/>
<line x1="295.7" y1="224.5" x2="486" y2="224.5" stroke="#F7F7F7" stroke-width="0.6"/>
<line x1="295.7" y1="243.3" x2="486" y2="243.3" stroke="#F7F7F7" stroke-width="0.6"/>
<line x1="295.7" y1="262.1" x2="486" y2="262.1" stroke="#F7F7F7" stroke-width="0.6"/>
<line x1="295.7" y1="280.9" x2="486" y2="280.9" stroke="#F7F7F7" stroke-width="0.6"/>
<line x1="304.6" y1="180.8" x2="304.6" y2="290.1" stroke="#F7F7F7" stroke-width="0.7"/>
<line x1="350.8" y1="180.8" x2="350.8" y2="290.1" stroke="#F7F7F7" stroke-width="0.7"/>
<line x1="397.0" y1="180.8" x2="397.0" y2="290.1" stroke="#F7F7F7" stroke-width="0.7"/>
<line x1="443.2" y1="180.8" x2="443.2" y2="290.1" stroke="#F7F7F7" stroke-width="0.7"/>
<line x1="295.7" y1="196.3" x2="486" y2="196.3" stroke="#F7F7F7" stroke-width="0.7"/>
<line x1="295.7" y1="215.1" x2="486" y2="215.1" stroke="#F7F7F7" stroke-width="0.7"/>
<line x1="295.7" y1="233.9" x2="486" y2="233.9" stroke="#F7F7F7" stroke-width="0.7"/>
<line x1="295.7" y1="252.7" x2="486" y2="252.7" stroke="#F7F7F7" stroke-width="0.7"/>
<line x1="295.7" y1="271.5" x2="486" y2="271.5" stroke="#F7F7F7" stroke-width="0.7"/>
<line x1="295.7" y1="290.3" x2="486" y2="290.3" stroke="#F7F7F7" stroke-width="0.7"/>
<path d="M350.6 254.0h0M367.0 242.6h0M354.6 233.0h0" stroke="#FF0000" stroke-width="1.76" stroke-linecap="round" fill="none"/>
<path d="M352.9 225.6h0M366.6 232.9h0" stroke="#0000FF" stroke-width="1.76" stroke-linecap="round" fill="none"/>
<path d="M352.6 225.0h0M356.9 239.5h0M363.0 242.8h0M362.4 234.8h0M328.0 214.9h0M370.4 225.0h0M362.7 257.1h0" stroke="#FF0000" stroke-width="1.76" stroke-linecap="round" fill="none"/>
<path d="M366.9 231.7h0M403.0 242.0h0" stroke="#0000FF" stroke-width="1.76" stroke-linecap="round" fill="none"/>
<path d="M360.8 229.9h0" stroke="#FF0000" stroke-width="1.76" stroke-linecap="round" fill="none"/>
<path d="M339.4 206.6h0" stroke="#0000FF" stroke-width="1.76" stroke-linecap="round" fill="none"/>
<path d="M350.7 236.6h0M378.9 244.0h0M358.6 244.0h0M358.9 245.7h0" stroke="#FF0000" stroke-width="1.76" stroke-linecap="round" fill="none"/>
<path d="M374.7 217.3h0" stroke="#0000FF" stroke-width="1.76" stroke-linecap="round" fill="none"/>
<path d="M360.7 246.1h0" stroke="#FF0000" stroke-width="1.76" stroke-linecap="round" fill="none"/>
<path d="M352.8 208.9h0" stroke="#0000FF" stroke-width="1.76" stroke-linecap="round" fill="none"/>
<path d="M366.7 220.0h0M350.8 255.2h0" stroke="#FF0000" stroke-width="1.76" stroke-linecap="round" fill="none"/>
<path d="M368.6 246.0h0" stroke="#0000FF" stroke-width="1.76" stroke-linecap="round" fill="none"/>
<path d="M370.7 245.9h0M358.8 220.0h0" stroke="#FF0000" stroke-width="1.76" stroke-linecap="round" fill="none"/>
<path d="M360.7 236.1h0" stroke="#0000FF" stroke-width="1.76" stroke-linecap="round" fill="none"/>
<path d="M365.0 235.0h0" stroke="#FF0000" stroke-width="1.76" stroke-linecap="round" fill="none"/>
<path d="M402.5 245.2h0M366.8 236.3h0" stroke="#0000FF" stroke-width="1.76" stroke-linecap="round" fill="none"/>
<path d="M362.6 234.9h0M352.9 261.8h0M355.0 225.0h0M351.0 244.1h0" stroke="#FF0000" stroke-width="1.76" stroke-linecap="round" fill="none"/>
<path d="M368.9 225.5h0" stroke="#0000FF" stroke-width="1.76" stroke-linecap="round" fill="none"/>
<path d="M366.8 249.0h0M374.8 242.4h0M360.8 245.8h0" stroke="#FF0000" stroke-width="1.76" stroke-linecap="round" fill="none"/>
<path d="M362.6 234.8h0" stroke="#0000FF" stroke-width="1.76" stroke-linecap="round" fill="none"/>
<path d="M364.9 239.7h0M395.6 265.8h0M358.7 237.8h0" stroke="#FF0000" stroke-width="1.76" stroke-linecap="round" fill="none"/>
<path d="M358.6 203.0h0" stroke="#0000FF" stroke-width="1.76" stroke-linecap="round" fill="none"/>
<path d="M358.9 244.2h0" stroke="#FF0000" stroke-width="1.76" stroke-linecap="round" fill="none"/>
<path d="M362.7 240.9h0" stroke="#0000FF" stroke-width="1.76" stroke-linecap="round" fill="none"/>
<path d="M370.6 221.7h0M360.6 210.5h0M390.3 253.5h0M475.5 206.9h0M346.7 258.5h0M418.2 232.1h0M367.0 215.6h0M362.7 242.6h0M365.0 227.0h0M358.6 228.1h0M375.3 219.2h0M370.3 215.7h0M364.9 244.0h0M368.9 257.3h0M362.9 197.8h0M353.0 225.0h0M357.0 217.3h0" stroke="#FF0000" stroke-width="1.76" stroke-linecap="round" fill="none"/>
<path d="M350.8 220.1h0M371.0 226.7h0M356.8 249.2h0" stroke="#0000FF" stroke-width="1.76" stroke-linecap="round" fill="none"/>
<path d="M374.8 244.2h0M375.0 241.1h0M354.9 241.2h0M371.0 217.3h0M356.8 231.2h0M364.8 254.0h0M359.0 252.2h0M366.8 250.5h0M354.6 247.3h0M346.6 252.4h0" stroke="#FF0000" stroke-width="1.76" stroke-linecap="round" fill="none"/>
<path d="M372.9 223.5h0" stroke="#0000FF" stroke-width="1.76" stroke-linecap="round" fill="none"/>
<path d="M374.9 225.1h0M368.8 207.6h0M407.8 243.5h0M356.8 252.5h0" stroke="#FF0000" stroke-width="1.76" stroke-linecap="round" fill="none"/>
<path d="M358.9 258.4h0" stroke="#0000FF" stroke-width="1.76" stroke-linecap="round" fill="none"/>
<path d="M373.0 218.7h0M355.0 239.4h0M369.2 254.1h0M358.7 244.1h0M405.7 227.3h0" stroke="#FF0000" stroke-width="1.76" stroke-linecap="round" fill="none"/>
<path d="M366.6 222.0h0M370.8 220.3h0M362.8 225.3h0M433.3 220.7h0" stroke="#0000FF" stroke-width="1.76" stroke-linecap="round" fill="none"/>
<path d="M348.7 239.7h0M360.6 221.9h0M361.0 247.3h0M367.8 243.7h0M368.7 217.3h0M362.6 229.9h0M354.9 212.5h0" stroke="#FF0000" stroke-width="1.76" stroke-linecap="round" fill="none"/>
<path d="M362.8 253.7h0" stroke="#0000FF" stroke-width="1.76" stroke-linecap="round" fill="none"/>
<path d="M365.0 225.0h0M362.6 239.2h0M370.7 242.8h0M356.6 238.1h0" stroke="#FF0000" stroke-width="1.76" stroke-linecap="round" fill="none"/>
<path d="M364.9 234.7h0" stroke="#0000FF" stroke-width="1.76" stroke-linecap="round" fill="none"/>
<path d="M369.0 231.4h0" stroke="#FF0000" stroke-width="1.76" stroke-linecap="round" fill="none"/>
<path d="M354.6 236.2h0" stroke="#0000FF" stroke-width="1.76" stroke-linecap="round" fill="none"/>
<path d="M351.0 242.6h0M375.0 238.0h0M352.9 242.5h0M349.0 249.0h0" stroke="#FF0000" stroke-width="1.76" stroke-linecap="round" fill="none"/>
<path d="M366.6 252.6h0M407.0 240.1h0M379.0 228.5h0" stroke="#0000FF" stroke-width="1.76" stroke-linecap="round" fill="none"/>
<path d="M374.9 236.1h0M403.3 237.1h0" stroke="#FF0000" stroke-width="1.76" stroke-linecap="round" fill="none"/>
<path d="M367.0 225.0h0" stroke="#0000FF" stroke-width="1.76" stroke-linecap="round" fill="none"/>
<path d="M376.7 239.4h0M360.8 234.6h0M350.7 245.9h0M346.9 244.6h0M344.8 255.2h0" stroke="#FF0000" stroke-width="1.76" stroke-linecap="round" fill="none"/>
<path d="M358.8 236.3h0" stroke="#0000FF" stroke-width="1.76" stroke-linecap="round" fill="none"/>
<path d="M362.7 216.9h0" stroke="#FF0000" stroke-width="1.76" stroke-linecap="round" fill="none"/>
<path d="M320.8 212.5h0" stroke="#0000FF" stroke-width="1.76" stroke-linecap="round" fill="none"/>
<path d="M376.6 233.1h0" stroke="#FF0000" stroke-width="1.76" stroke-linecap="round" fill="none"/>
<path d="M377.0 247.6h0M360.8 226.8h0" stroke="#0000FF" stroke-width="1.76" stroke-linecap="round" fill="none"/>
<path d="M368.2 225.3h0" stroke="#FF0000" stroke-width="1.76" stroke-linecap="round" fill="none"/>
<path d="M360.6 225.0h0M357.0 233.0h0" stroke="#0000FF" stroke-width="1.76" stroke-linecap="round" fill="none"/>
<path d="M360.9 245.7h0M360.6 234.9h0M359.0 228.3h0M364.9 236.4h0M364.7 217.0h0M356.8 234.5h0" stroke="#FF0000" stroke-width="1.76" stroke-linecap="round" fill="none"/>
<path d="M358.9 215.7h0" stroke="#0000FF" stroke-width="1.76" stroke-linecap="round" fill="none"/>
<path d="M365.3 250.2h0M384.8 230.0h0" stroke="#FF0000" stroke-width="1.76" stroke-linecap="round" fill="none"/>
<path d="M370.8 234.2h0" stroke="#0000FF" stroke-width="1.76" stroke-linecap="round" fill="none"/>
<path d="M394.0 206.4h0M368.6 257.3h0M352.6 244.4h0M347.0 242.5h0" stroke="#FF0000" stroke-width="1.76" stroke-linecap="round" fill="none"/>
<path d="M374.7 226.8h0" stroke="#0000FF" stroke-width="1.76" stroke-linecap="round" fill="none"/>
<path d="M356.6 240.9h0" stroke="#FF0000" stroke-width="1.76" stroke-linecap="round" fill="none"/>
<path d="M430.7 207.3h0M384.4 252.0h0M375.0 217.1h0M345.5 272.4h0M366.8 223.5h0" stroke="#0000FF" stroke-width="1.76" stroke-linecap="round" fill="none"/>
<path d="M357.0 239.5h0" stroke="#FF0000" stroke-width="1.76" stroke-linecap="round" fill="none"/>
<path d="M361.8 221.9h0" stroke="#0000FF" stroke-width="1.76" stroke-linecap="round" fill="none"/>
<path d="M315.8 249.7h0M354.9 263.6h0M375.0 237.8h0M352.6 230.2h0M371.3 246.6h0M376.6 223.6h0" stroke="#FF0000" stroke-width="1.76" stroke-linecap="round" fill="none"/>
<path d="M359.0 224.8h0M370.9 223.2h0M366.7 244.5h0M367.0 252.3h0M375.0 212.4h0M364.8 238.0h0M366.7 233.1h0M368.7 221.9h0" stroke="#0000FF" stroke-width="1.76" stroke-linecap="round" fill="none"/>
<path d="M362.9 246.1h0M358.7 225.3h0M358.7 242.8h0" stroke="#FF0000" stroke-width="1.76" stroke-linecap="round" fill="none"/>
<path d="M364.6 196.1h0" stroke="#0000FF" stroke-width="1.76" stroke-linecap="round" fill="none"/>
<path d="M349.0 225.3h0" stroke="#FF0000" stroke-width="1.76" stroke-linecap="round" fill="none"/>
<path d="M362.9 225.0h0" stroke="#0000FF" stroke-width="1.76" stroke-linecap="round" fill="none"/>
<path d="M358.6 231.6h0" stroke="#FF0000" stroke-width="1.76" stroke-linecap="round" fill="none"/>
<path d="M362.9 247.2h0" stroke="#0000FF" stroke-width="1.76" stroke-linecap="round" fill="none"/>
<path d="M364.6 243.0h0M354.9 242.4h0" stroke="#FF0000" stroke-width="1.76" stroke-linecap="round" fill="none"/>
<path d="M364.9 244.0h0" stroke="#0000FF" stroke-width="1.76" stroke-linecap="round" fill="none"/>
<path d="M350.9 239.4h0" stroke="#FF0000" stroke-width="1.76" stroke-linecap="round" fill="none"/>
<path d="M369.7 234.1h0" stroke="#0000FF" stroke-width="1.76" stroke-linecap="round" fill="none"/>
<path d="M360.6 227.0h0M366.7 206.1h0M361.0 228.2h0M352.8 241.0h0M361.0 226.6h0M417.6 246.8h0" stroke="#FF0000" stroke-width="1.76" stroke-linecap="round" fill="none"/>
<path d="M354.9 248.9h0" stroke="#0000FF" stroke-width="1.76" stroke-linecap="round" fill="none"/>
<path d="M370.7 247.3h0M346.8 237.7h0M364.9 206.0h0M374.8 220.3h0M358.9 242.6h0" stroke="#FF0000" stroke-width="1.76" stroke-linecap="round" fill="none"/>
<path d="M378.7 256.7h0" stroke="#0000FF" stroke-width="1.76" stroke-linecap="round" fill="none"/>
<path d="M369.0 246.1h0M363.0 225.1h0" stroke="#FF0000" stroke-width="1.76" stroke-linecap="round" fill="none"/>
<path d="M376.9 239.3h0" stroke="#0000FF" stroke-width="1.76" stroke-linecap="round" fill="none"/>
<path d="M358.8 244.6h0M374.7 228.2h0" stroke="#FF0000" stroke-width="1.76" stroke-linecap="round" fill="none"/>
<path d="M355.0 225.1h0M366.7 229.9h0M388.9 247.5h0M353.0 252.2h0" stroke="#0000FF" stroke-width="1.76" stroke-linecap="round" fill="none"/>
<path d="M354.6 241.3h0M353.0 213.7h0" stroke="#FF0000" stroke-width="1.76" stroke-linecap="round" fill="none"/>
<path d="M358.6 228.3h0" stroke="#0000FF" stroke-width="1.76" stroke-linecap="round" fill="none"/>
<path d="M367.0 228.4h0" stroke="#FF0000" stroke-width="1.76" stroke-linecap="round" fill="none"/>
<path d="M346.2 254.5h0M372.8 241.2h0" stroke="#0000FF" stroke-width="1.76" stroke-linecap="round" fill="none"/>
<path d="M369.0 246.0h0M356.9 223.6h0" stroke="#FF0000" stroke-width="1.76" stroke-linecap="round" fill="none"/>
<path d="M366.9 242.4h0M369.0 233.1h0" stroke="#0000FF" stroke-width="1.76" stroke-linecap="round" fill="none"/>
<path d="M368.6 226.9h0M347.8 230.7h0M364.6 244.1h0M355.0 247.4h0M350.8 233.4h0M351.0 249.1h0" stroke="#FF0000" stroke-width="1.76" stroke-linecap="round" fill="none"/>
<path d="M376.8 230.1h0" stroke="#0000FF" stroke-width="1.76" stroke-linecap="round" fill="none"/>
<path d="M361.0 212.1h0M421.7 254.0h0M344.9 252.4h0M354.9 234.6h0" stroke="#FF0000" stroke-width="1.76" stroke-linecap="round" fill="none"/>
<path d="M366.8 220.1h0" stroke="#0000FF" stroke-width="1.76" stroke-linecap="round" fill="none"/>
<path d="M346.7 271.6h0M380.9 223.8h0M366.7 229.7h0M345.9 240.8h0M374.7 199.3h0M372.8 216.9h0" stroke="#FF0000" stroke-width="1.76" stroke-linecap="round" fill="none"/>
<path d="M381.0 239.7h0M347.7 234.7h0" stroke="#0000FF" stroke-width="1.76" stroke-linecap="round" fill="none"/>
<path d="M356.6 231.8h0M354.6 247.7h0M362.7 232.9h0M376.0 231.2h0" stroke="#FF0000" stroke-width="1.76" stroke-linecap="round" fill="none"/>
<path d="M360.7 232.8h0" stroke="#0000FF" stroke-width="1.76" stroke-linecap="round" fill="none"/>
<path d="M440.5 238.0h0" stroke="#FF0000" stroke-width="1.76" stroke-linecap="round" fill="none"/>
<path d="M370.6 242.9h0" stroke="#0000FF" stroke-width="1.76" stroke-linecap="round" fill="none"/>
<path d="M360.9 247.8h0M358.7 237.8h0" stroke="#FF0000" stroke-width="1.76" stroke-linecap="round" fill="none"/>
<path d="M362.9 234.8h0" stroke="#0000FF" stroke-width="1.76" stroke-linecap="round" fill="none"/>
<path d="M354.6 237.8h0M362.6 222.1h0M358.6 214.0h0" stroke="#FF0000" stroke-width="1.76" stroke-linecap="round" fill="none"/>
<path d="M360.7 238.0h0" stroke="#0000FF" stroke-width="1.76" stroke-linecap="round" fill="none"/>
<path d="M358.7 241.2h0" stroke="#FF0000" stroke-width="1.76" stroke-linecap="round" fill="none"/>
<path d="M333.2 247.3h0M361.0 231.3h0" stroke="#0000FF" stroke-width="1.76" stroke-linecap="round" fill="none"/>
<path d="M360.6 257.4h0" stroke="#FF0000" stroke-width="1.76" stroke-linecap="round" fill="none"/>
<path d="M422.5 233.5h0" stroke="#0000FF" stroke-width="1.76" stroke-linecap="round" fill="none"/>
<path d="M357.0 239.3h0M360.6 225.3h0M370.8 209.3h0M366.8 226.8h0M365.0 244.2h0M358.6 229.7h0M382.6 226.5h0M368.8 218.5h0M371.0 226.6h0" stroke="#FF0000" stroke-width="1.76" stroke-linecap="round" fill="none"/>
<path d="M384.6 238.2h0" stroke="#0000FF" stroke-width="1.76" stroke-linecap="round" fill="none"/>
<path d="M342.1 267.6h0" stroke="#FF0000" stroke-width="1.76" stroke-linecap="round" fill="none"/>
<path d="M362.7 236.1h0" stroke="#0000FF" stroke-width="1.76" stroke-linecap="round" fill="none"/>
<path d="M352.9 233.2h0" stroke="#FF0000" stroke-width="1.76" stroke-linecap="round" fill="none"/>
<path d="M368.8 212.0h0" stroke="#0000FF" stroke-width="1.76" stroke-linecap="round" fill="none"/>
<path d="M364.6 244.5h0" stroke="#FF0000" stroke-width="1.76" stroke-linecap="round" fill="none"/>
<path d="M364.9 233.4h0" stroke="#0000FF" stroke-width="1.76" stroke-linecap="round" fill="none"/>
<path d="M352.7 223.5h0M366.7 217.1h0M364.7 231.5h0" stroke="#FF0000" stroke-width="1.76" stroke-linecap="round" fill="none"/>
<path d="M368.8 231.4h0M350.6 254.1h0M370.6 233.4h0" stroke="#0000FF" stroke-width="1.76" stroke-linecap="round" fill="none"/>
<path d="M362.6 234.7h0M356.9 258.7h0" stroke="#FF0000" stroke-width="1.76" stroke-linecap="round" fill="none"/>
<path d="M357.5 255.7h0" stroke="#0000FF" stroke-width="1.76" stroke-linecap="round" fill="none"/>
<path d="M370.9 225.2h0" stroke="#FF0000" stroke-width="1.76" stroke-linecap="round" fill="none"/>
<path d="M364.6 233.0h0" stroke="#0000FF" stroke-width="1.76" stroke-linecap="round" fill="none"/>
<path d="M364.9 257.0h0" stroke="#FF0000" stroke-width="1.76" stroke-linecap="round" fill="none"/>
<path d="M358.8 241.3h0" stroke="#0000FF" stroke-width="1.76" stroke-linecap="round" fill="none"/>
<path d="M350.7 240.9h0M312.7 212.5h0M362.6 228.1h0M356.8 227.0h0M386.9 233.2h0" stroke="#FF0000" stroke-width="1.76" stroke-linecap="round" fill="none"/>
<path d="M356.6 234.6h0" stroke="#0000FF" stroke-width="1.76" stroke-linecap="round" fill="none"/>
<path d="M358.7 210.4h0M350.6 240.9h0M358.9 243.0h0M463.3 226.1h0M358.9 247.3h0M363.0 197.9h0" stroke="#FF0000" stroke-width="1.76" stroke-linecap="round" fill="none"/>
<path d="M414.0 265.1h0M362.7 239.5h0" stroke="#0000FF" stroke-width="1.76" stroke-linecap="round" fill="none"/>
<path d="M356.7 244.2h0M354.9 257.0h0M360.8 215.3h0M352.8 245.6h0M354.6 228.6h0M356.6 236.3h0" stroke="#FF0000" stroke-width="1.76" stroke-linecap="round" fill="none"/>
<path d="M366.9 230.0h0M362.9 231.6h0M350.5 198.9h0M336.3 252.0h0M362.6 210.5h0" stroke="#0000FF" stroke-width="1.76" stroke-linecap="round" fill="none"/>
<path d="M356.7 238.1h0" stroke="#FF0000" stroke-width="1.76" stroke-linecap="round" fill="none"/>
<path d="M358.6 226.5h0M356.8 223.8h0" stroke="#0000FF" stroke-width="1.76" stroke-linecap="round" fill="none"/>
<path d="M371.0 239.7h0M360.8 228.3h0" stroke="#FF0000" stroke-width="1.76" stroke-linecap="round" fill="none"/>
<path d="M362.9 230.1h0M356.9 215.8h0" stroke="#0000FF" stroke-width="1.76" stroke-linecap="round" fill="none"/>
<path d="M365.0 228.0h0M364.6 223.7h0" stroke="#FF0000" stroke-width="1.76" stroke-linecap="round" fill="none"/>
<path d="M352.8 242.9h0" stroke="#0000FF" stroke-width="1.76" stroke-linecap="round" fill="none"/>
<path d="M333.9 247.3h0" stroke="#FF0000" stroke-width="1.76" stroke-linecap="round" fill="none"/>
<path d="M377.9 220.2h0" stroke="#0000FF" stroke-width="1.76" stroke-linecap="round" fill="none"/>
<path d="M350.1 216.6h0M352.9 242.6h0" stroke="#FF0000" stroke-width="1.76" stroke-linecap="round" fill="none"/>
<path d="M367.0 233.0h0" stroke="#0000FF" stroke-width="1.76" stroke-linecap="round" fill="none"/>
<path d="M348.7 247.8h0M364.9 239.6h0M354.6 248.8h0" stroke="#FF0000" stroke-width="1.76" stroke-linecap="round" fill="none"/>
<path d="M357.0 241.2h0" stroke="#0000FF" stroke-width="1.76" stroke-linecap="round" fill="none"/>
<path d="M356.9 239.3h0M357.3 227.1h0M360.7 255.3h0" stroke="#FF0000" stroke-width="1.76" stroke-linecap="round" fill="none"/>
<path d="M374.6 210.7h0" stroke="#0000FF" stroke-width="1.76" stroke-linecap="round" fill="none"/>
<path d="M353.0 244.3h0M376.9 240.3h0M353.0 249.3h0" stroke="#FF0000" stroke-width="1.76" stroke-linecap="round" fill="none"/>
<path d="M378.8 229.8h0M368.6 231.6h0" stroke="#0000FF" stroke-width="1.76" stroke-linecap="round" fill="none"/>
<path d="M362.9 249.1h0" stroke="#FF0000" stroke-width="1.76" stroke-linecap="round" fill="none"/>
<path d="M360.9 229.8h0" stroke="#0000FF" stroke-width="1.76" stroke-linecap="round" fill="none"/>
<path d="M359.0 236.3h0M356.8 253.8h0M358.7 239.5h0" stroke="#FF0000" stroke-width="1.76" stroke-linecap="round" fill="none"/>
<path d="M440.8 267.4h0" stroke="#0000FF" stroke-width="1.76" stroke-linecap="round" fill="none"/>
<path d="M368.9 209.1h0M359.0 242.5h0M356.9 248.9h0" stroke="#FF0000" stroke-width="1.76" stroke-linecap="round" fill="none"/>
<path d="M360.9 228.6h0M380.7 235.0h0M382.8 248.9h0" stroke="#0000FF" stroke-width="1.76" stroke-linecap="round" fill="none"/>
<path d="M351.0 233.1h0M376.8 242.5h0" stroke="#FF0000" stroke-width="1.76" stroke-linecap="round" fill="none"/>
<path d="M376.6 216.9h0" stroke="#0000FF" stroke-width="1.76" stroke-linecap="round" fill="none"/>
<path d="M356.9 258.8h0M372.6 207.8h0M329.0 220.1h0" stroke="#FF0000" stroke-width="1.76" stroke-linecap="round" fill="none"/>
<path d="M361.0 213.8h0M373.9 246.3h0M379.0 223.8h0" stroke="#0000FF" stroke-width="1.76" stroke-linecap="round" fill="none"/>
<path d="M371.0 236.0h0M361.0 233.1h0M379.1 236.2h0M414.4 244.7h0M362.8 231.4h0M362.8 226.8h0M356.8 263.5h0" stroke="#FF0000" stroke-width="1.76" stroke-linecap="round" fill="none"/>
<path d="M356.8 226.9h0" stroke="#0000FF" stroke-width="1.76" stroke-linecap="round" fill="none"/>
<path d="M376.8 223.3h0M362.7 244.2h0" stroke="#FF0000" stroke-width="1.76" stroke-linecap="round" fill="none"/>
<path d="M360.8 208.9h0" stroke="#0000FF" stroke-width="1.76" stroke-linecap="round" fill="none"/>
<path d="M378.6 224.9h0M367.0 256.9h0M372.8 235.6h0" stroke="#FF0000" stroke-width="1.76" stroke-linecap="round" fill="none"/>
<path d="M380.7 211.8h0" stroke="#0000FF" stroke-width="1.76" stroke-linecap="round" fill="none"/>
<path d="M367.0 215.4h0M355.0 244.0h0" stroke="#FF0000" stroke-width="1.76" stroke-linecap="round" fill="none"/>
<path d="M364.7 223.7h0" stroke="#0000FF" stroke-width="1.76" stroke-linecap="round" fill="none"/>
<path d="M349.0 234.6h0" stroke="#FF0000" stroke-width="1.76" stroke-linecap="round" fill="none"/>
<path d="M354.8 226.5h0" stroke="#0000FF" stroke-width="1.76" stroke-linecap="round" fill="none"/>
<path d="M360.6 236.5h0" stroke="#FF0000" stroke-width="1.76" stroke-linecap="round" fill="none"/>
<path d="M356.9 229.7h0" stroke="#0000FF" stroke-width="1.76" stroke-linecap="round" fill="none"/>
<path d="M358.6 244.1h0" stroke="#FF0000" stroke-width="1.76" stroke-linecap="round" fill="none"/>
<path d="M358.8 212.4h0" stroke="#0000FF" stroke-width="1.76" stroke-linecap="round" fill="none"/>
<path d="M356.8 246.1h0M429.1 258.6h0M356.9 221.9h0" stroke="#FF0000" stroke-width="1.76" stroke-linecap="round" fill="none"/>
<path d="M386.7 234.5h0" stroke="#0000FF" stroke-width="1.76" stroke-linecap="round" fill="none"/>
<path d="M354.8 245.6h0" stroke="#FF0000" stroke-width="1.76" stroke-linecap="round" fill="none"/>
<path d="M397.2 232.3h0" stroke="#0000FF" stroke-width="1.76" stroke-linecap="round" fill="none"/>
<path d="M345.4 227.2h0" stroke="#FF0000" stroke-width="1.76" stroke-linecap="round" fill="none"/>
<path d="M348.3 218.7h0M352.6 226.9h0" stroke="#0000FF" stroke-width="1.76" stroke-linecap="round" fill="none"/>
<path d="M364.9 241.0h0M366.9 215.3h0M348.8 250.8h0M358.7 250.7h0M436.7 243.8h0" stroke="#FF0000" stroke-width="1.76" stroke-linecap="round" fill="none"/>
<path d="M374.9 212.1h0M364.7 234.6h0M360.9 222.2h0" stroke="#0000FF" stroke-width="1.76" stroke-linecap="round" fill="none"/>
<path d="M344.4 233.5h0M364.6 228.2h0M346.7 257.0h0" stroke="#FF0000" stroke-width="1.76" stroke-linecap="round" fill="none"/>
<path d="M378.7 218.5h0" stroke="#0000FF" stroke-width="1.76" stroke-linecap="round" fill="none"/>
<path d="M370.8 226.4h0" stroke="#FF0000" stroke-width="1.76" stroke-linecap="round" fill="none"/>
<path d="M373.0 234.9h0" stroke="#0000FF" stroke-width="1.76" stroke-linecap="round" fill="none"/>
<path d="M337.4 217.0h0M356.7 194.5h0M358.6 242.6h0M354.9 253.7h0" stroke="#FF0000" stroke-width="1.76" stroke-linecap="round" fill="none"/>
<path d="M359.0 237.9h0" stroke="#0000FF" stroke-width="1.76" stroke-linecap="round" fill="none"/>
<path d="M360.8 223.4h0M356.8 231.3h0M353.0 246.1h0M358.9 249.1h0M354.9 244.1h0M352.9 239.8h0M346.9 249.3h0" stroke="#FF0000" stroke-width="1.76" stroke-linecap="round" fill="none"/>
<path d="M355.0 215.6h0M372.7 236.3h0M365.0 233.2h0M378.6 236.5h0" stroke="#0000FF" stroke-width="1.76" stroke-linecap="round" fill="none"/>
<path d="M362.6 233.2h0M362.7 247.4h0M344.7 252.2h0" stroke="#FF0000" stroke-width="1.76" stroke-linecap="round" fill="none"/>
<path d="M380.7 234.7h0M361.0 239.8h0" stroke="#0000FF" stroke-width="1.76" stroke-linecap="round" fill="none"/>
<path d="M360.6 234.6h0M350.8 257.4h0M363.0 215.8h0M353.0 226.6h0" stroke="#FF0000" stroke-width="1.76" stroke-linecap="round" fill="none"/>
<path d="M370.9 224.9h0M370.9 234.5h0" stroke="#0000FF" stroke-width="1.76" stroke-linecap="round" fill="none"/>
<path d="M356.6 231.3h0M484.6 251.2h0M395.3 268.9h0M361.0 236.0h0" stroke="#FF0000" stroke-width="1.76" stroke-linecap="round" fill="none"/>
<path d="M378.8 218.7h0" stroke="#0000FF" stroke-width="1.76" stroke-linecap="round" fill="none"/>
<path d="M362.6 221.7h0M348.8 239.4h0M350.7 231.7h0" stroke="#FF0000" stroke-width="1.76" stroke-linecap="round" fill="none"/>
<path d="M356.9 236.3h0" stroke="#0000FF" stroke-width="1.76" stroke-linecap="round" fill="none"/>
<path d="M348.9 239.7h0M356.9 238.1h0" stroke="#FF0000" stroke-width="1.76" stroke-linecap="round" fill="none"/>
<path d="M410.8 228.5h0" stroke="#0000FF" stroke-width="1.76" stroke-linecap="round" fill="none"/>
<path d="M368.8 234.9h0M364.9 247.2h0M364.8 245.8h0M354.9 241.3h0" stroke="#FF0000" stroke-width="1.76" stroke-linecap="round" fill="none"/>
<path d="M365.0 229.8h0" stroke="#0000FF" stroke-width="1.76" stroke-linecap="round" fill="none"/>
<path d="M352.6 252.2h0" stroke="#FF0000" stroke-width="1.76" stroke-linecap="round" fill="none"/>
<path d="M370.8 231.6h0M361.0 232.8h0" stroke="#0000FF" stroke-width="1.76" stroke-linecap="round" fill="none"/>
<path d="M363.0 252.3h0M359.5 245.8h0" stroke="#FF0000" stroke-width="1.76" stroke-linecap="round" fill="none"/>
<path d="M442.4 221.4h0" stroke="#0000FF" stroke-width="1.76" stroke-linecap="round" fill="none"/>
<path d="M362.9 247.2h0" stroke="#FF0000" stroke-width="1.76" stroke-linecap="round" fill="none"/>
<path d="M357.0 231.3h0M356.7 233.3h0M388.6 216.2h0M364.6 204.1h0" stroke="#0000FF" stroke-width="1.76" stroke-linecap="round" fill="none"/>
<path d="M354.6 240.9h0M362.6 258.9h0M358.9 244.0h0" stroke="#FF0000" stroke-width="1.76" stroke-linecap="round" fill="none"/>
<path d="M366.8 223.7h0M360.7 207.6h0M366.9 216.8h0" stroke="#0000FF" stroke-width="1.76" stroke-linecap="round" fill="none"/>
<path d="M362.8 231.3h0M346.7 240.5h0M357.0 244.4h0M350.7 246.1h0M357.3 261.8h0" stroke="#FF0000" stroke-width="1.76" stroke-linecap="round" fill="none"/>
<path d="M364.8 233.0h0" stroke="#0000FF" stroke-width="1.76" stroke-linecap="round" fill="none"/>
<path d="M354.6 265.0h0M352.6 241.3h0M356.9 244.1h0" stroke="#FF0000" stroke-width="1.76" stroke-linecap="round" fill="none"/>
<path d="M366.7 218.4h0M374.9 231.7h0" stroke="#0000FF" stroke-width="1.76" stroke-linecap="round" fill="none"/>
<path d="M372.8 247.7h0M369.2 223.0h0" stroke="#FF0000" stroke-width="1.76" stroke-linecap="round" fill="none"/>
<path d="M376.9 214.0h0M314.4 222.9h0" stroke="#0000FF" stroke-width="1.76" stroke-linecap="round" fill="none"/>
<path d="M340.2 214.4h0M367.0 215.2h0" stroke="#FF0000" stroke-width="1.76" stroke-linecap="round" fill="none"/>
<path d="M339.6 246.4h0" stroke="#0000FF" stroke-width="1.76" stroke-linecap="round" fill="none"/>
<path d="M348.6 252.5h0M359.0 244.5h0" stroke="#FF0000" stroke-width="1.76" stroke-linecap="round" fill="none"/>
<path d="M358.6 220.4h0" stroke="#0000FF" stroke-width="1.76" stroke-linecap="round" fill="none"/>
<path d="M402.3 225.4h0M426.4 241.8h0M354.6 228.2h0M372.6 233.3h0M353.0 242.8h0M457.9 221.3h0M366.7 209.0h0M372.6 260.5h0M361.0 246.1h0M354.8 243.0h0" stroke="#FF0000" stroke-width="1.76" stroke-linecap="round" fill="none"/>
<path d="M363.0 239.5h0M361.1 237.6h0M439.0 236.2h0M362.4 241.3h0" stroke="#0000FF" stroke-width="1.76" stroke-linecap="round" fill="none"/>
<path d="M410.3 248.8h0M366.7 244.2h0M356.6 231.6h0" stroke="#FF0000" stroke-width="1.76" stroke-linecap="round" fill="none"/>
<path d="M362.8 228.2h0" stroke="#0000FF" stroke-width="1.76" stroke-linecap="round" fill="none"/>
<path d="M360.6 236.3h0M371.7 238.1h0" stroke="#FF0000" stroke-width="1.76" stroke-linecap="round" fill="none"/>
<path d="M336.5 231.0h0M403.3 212.2h0" stroke="#0000FF" stroke-width="1.76" stroke-linecap="round" fill="none"/>
<path d="M364.9 225.0h0M361.0 230.1h0M352.7 241.3h0M361.0 248.9h0M371.0 240.9h0M358.9 209.0h0M354.6 250.7h0M364.8 228.2h0" stroke="#FF0000" stroke-width="1.76" stroke-linecap="round" fill="none"/>
<path d="M366.7 212.5h0" stroke="#0000FF" stroke-width="1.76" stroke-linecap="round" fill="none"/>
<path d="M366.4 246.1h0" stroke="#FF0000" stroke-width="1.76" stroke-linecap="round" fill="none"/>
<path d="M360.8 199.7h0M364.7 223.3h0M357.0 233.4h0M360.7 237.7h0" stroke="#0000FF" stroke-width="1.76" stroke-linecap="round" fill="none"/>
<path d="M384.9 234.7h0" stroke="#FF0000" stroke-width="1.76" stroke-linecap="round" fill="none"/>
<path d="M368.7 234.9h0" stroke="#0000FF" stroke-width="1.76" stroke-linecap="round" fill="none"/>
<path d="M378.8 210.1h0M354.7 225.4h0M370.8 247.4h0" stroke="#FF0000" stroke-width="1.76" stroke-linecap="round" fill="none"/>
<path d="M380.9 220.4h0" stroke="#0000FF" stroke-width="1.76" stroke-linecap="round" fill="none"/>
<path d="M404.9 251.0h0" stroke="#FF0000" stroke-width="1.76" stroke-linecap="round" fill="none"/>
<path d="M366.9 226.8h0" stroke="#0000FF" stroke-width="1.76" stroke-linecap="round" fill="none"/>
<path d="M346.7 253.8h0M350.8 273.0h0M370.9 244.0h0M355.0 229.9h0M344.6 238.2h0M354.7 226.9h0M356.6 244.6h0" stroke="#FF0000" stroke-width="1.76" stroke-linecap="round" fill="none"/>
<path d="M368.7 228.2h0" stroke="#0000FF" stroke-width="1.76" stroke-linecap="round" fill="none"/>
<path d="M352.8 242.7h0M368.8 247.4h0M356.6 241.3h0" stroke="#FF0000" stroke-width="1.76" stroke-linecap="round" fill="none"/>
<path d="M384.7 231.5h0M360.9 213.7h0" stroke="#0000FF" stroke-width="1.76" stroke-linecap="round" fill="none"/>
<path d="M366.6 244.1h0" stroke="#FF0000" stroke-width="1.76" stroke-linecap="round" fill="none"/>
<path d="M358.6 232.9h0M362.6 226.7h0" stroke="#0000FF" stroke-width="1.76" stroke-linecap="round" fill="none"/>
<path d="M348.9 244.4h0M379.0 218.5h0M361.1 219.6h0M356.8 249.1h0" stroke="#FF0000" stroke-width="1.76" stroke-linecap="round" fill="none"/>
<path d="M367.0 238.1h0M368.8 239.3h0M368.9 233.3h0" stroke="#0000FF" stroke-width="1.76" stroke-linecap="round" fill="none"/>
<path d="M370.2 258.0h0M354.9 246.1h0M360.8 252.6h0" stroke="#FF0000" stroke-width="1.76" stroke-linecap="round" fill="none"/>
<path d="M374.8 228.4h0" stroke="#0000FF" stroke-width="1.76" stroke-linecap="round" fill="none"/>
<path d="M356.6 242.7h0" stroke="#FF0000" stroke-width="1.76" stroke-linecap="round" fill="none"/>
<path d="M362.7 225.4h0" stroke="#0000FF" stroke-width="1.76" stroke-linecap="round" fill="none"/>
<path d="M336.0 226.0h0M368.6 237.8h0M356.6 255.6h0M362.6 252.5h0" stroke="#FF0000" stroke-width="1.76" stroke-linecap="round" fill="none"/>
<path d="M362.9 250.7h0" stroke="#0000FF" stroke-width="1.76" stroke-linecap="round" fill="none"/>
<path d="M358.7 239.7h0M396.3 222.2h0M370.8 212.1h0M362.6 228.5h0M357.0 239.5h0M348.7 249.2h0M352.9 228.3h0M350.9 246.0h0M403.2 227.4h0M373.5 242.5h0M431.0 243.1h0M352.8 245.9h0" stroke="#FF0000" stroke-width="1.76" stroke-linecap="round" fill="none"/>
<path d="M348.1 237.7h0" stroke="#0000FF" stroke-width="1.76" stroke-linecap="round" fill="none"/>
<path d="M363.0 223.3h0" stroke="#FF0000" stroke-width="1.76" stroke-linecap="round" fill="none"/>
<path d="M384.6 223.4h0M432.2 252.2h0" stroke="#0000FF" stroke-width="1.76" stroke-linecap="round" fill="none"/>
<path d="M352.9 252.2h0M352.8 236.1h0M354.6 245.7h0M364.9 239.5h0M412.1 219.6h0M370.6 252.9h0M371.0 229.7h0M360.7 250.9h0M362.7 223.5h0" stroke="#FF0000" stroke-width="1.76" stroke-linecap="round" fill="none"/>
<path d="M367.0 226.4h0M327.1 205.9h0M366.8 226.8h0" stroke="#0000FF" stroke-width="1.76" stroke-linecap="round" fill="none"/>
<path d="M464.3 261.0h0" stroke="#FF0000" stroke-width="1.76" stroke-linecap="round" fill="none"/>
<path d="M360.7 231.7h0" stroke="#0000FF" stroke-width="1.76" stroke-linecap="round" fill="none"/>
<path d="M354.7 233.3h0M354.8 228.5h0M358.8 255.2h0M360.8 234.9h0" stroke="#FF0000" stroke-width="1.76" stroke-linecap="round" fill="none"/>
<path d="M364.8 252.3h0M366.7 245.8h0M371.0 228.1h0" stroke="#0000FF" stroke-width="1.76" stroke-linecap="round" fill="none"/>
<path d="M393.9 251.6h0M362.6 228.3h0M352.6 242.5h0M362.8 252.6h0" stroke="#FF0000" stroke-width="1.76" stroke-linecap="round" fill="none"/>
<path d="M373.0 262.0h0" stroke="#0000FF" stroke-width="1.76" stroke-linecap="round" fill="none"/>
<path d="M349.0 244.3h0M356.9 235.0h0M344.7 224.9h0" stroke="#FF0000" stroke-width="1.76" stroke-linecap="round" fill="none"/>
<path d="M370.7 225.0h0" stroke="#0000FF" stroke-width="1.76" stroke-linecap="round" fill="none"/>
<path d="M370.7 241.2h0" stroke="#FF0000" stroke-width="1.76" stroke-linecap="round" fill="none"/>
<path d="M362.6 252.0h0M366.7 223.7h0" stroke="#0000FF" stroke-width="1.76" stroke-linecap="round" fill="none"/>
<path d="M360.9 246.0h0" stroke="#FF0000" stroke-width="1.76" stroke-linecap="round" fill="none"/>
<path d="M389.8 224.6h0M428.8 255.6h0" stroke="#0000FF" stroke-width="1.76" stroke-linecap="round" fill="none"/>
<path d="M352.9 260.3h0M363.0 242.5h0M364.8 241.1h0" stroke="#FF0000" stroke-width="1.76" stroke-linecap="round" fill="none"/>
<path d="M369.2 243.9h0" stroke="#0000FF" stroke-width="1.76" stroke-linecap="round" fill="none"/>
<path d="M396.7 224.6h0M358.7 238.1h0M384.5 204.4h0" stroke="#FF0000" stroke-width="1.76" stroke-linecap="round" fill="none"/>
<path d="M362.7 218.5h0" stroke="#0000FF" stroke-width="1.76" stroke-linecap="round" fill="none"/>
<path d="M374.9 223.3h0M355.0 231.2h0M352.0 244.1h0" stroke="#FF0000" stroke-width="1.76" stroke-linecap="round" fill="none"/>
<path d="M378.7 226.6h0" stroke="#0000FF" stroke-width="1.76" stroke-linecap="round" fill="none"/>
<path d="M364.8 252.3h0M382.9 223.5h0M356.6 247.4h0" stroke="#FF0000" stroke-width="1.76" stroke-linecap="round" fill="none"/>
<path d="M361.0 221.7h0" stroke="#0000FF" stroke-width="1.76" stroke-linecap="round" fill="none"/>
<path d="M360.7 247.5h0M357.0 232.9h0" stroke="#FF0000" stroke-width="1.76" stroke-linecap="round" fill="none"/>
<path d="M410.5 251.1h0" stroke="#0000FF" stroke-width="1.76" stroke-linecap="round" fill="none"/>
<path d="M358.6 231.3h0" stroke="#FF0000" stroke-width="1.76" stroke-linecap="round" fill="none"/>
<path d="M354.7 228.1h0" stroke="#0000FF" stroke-width="1.76" stroke-linecap="round" fill="none"/>
<path d="M398.1 234.0h0" stroke="#FF0000" stroke-width="1.76" stroke-linecap="round" fill="none"/>
<path d="M358.7 215.7h0" stroke="#0000FF" stroke-width="1.76" stroke-linecap="round" fill="none"/>
<path d="M364.8 225.2h0M347.7 241.1h0M363.0 218.5h0M364.8 233.0h0" stroke="#FF0000" stroke-width="1.76" stroke-linecap="round" fill="none"/>
<path d="M360.7 244.5h0" stroke="#0000FF" stroke-width="1.76" stroke-linecap="round" fill="none"/>
<path d="M376.8 239.8h0" stroke="#FF0000" stroke-width="1.76" stroke-linecap="round" fill="none"/>
<path d="M367.0 215.3h0" stroke="#0000FF" stroke-width="1.76" stroke-linecap="round" fill="none"/>
<path d="M349.0 254.0h0M350.8 250.4h0" stroke="#FF0000" stroke-width="1.76" stroke-linecap="round" fill="none"/>
<path d="M374.9 214.0h0" stroke="#0000FF" stroke-width="1.76" stroke-linecap="round" fill="none"/>
<path d="M351.0 249.0h0" stroke="#FF0000" stroke-width="1.76" stroke-linecap="round" fill="none"/>
<path d="M364.8 228.3h0" stroke="#0000FF" stroke-width="1.76" stroke-linecap="round" fill="none"/>
<path d="M354.6 226.5h0M354.9 223.5h0" stroke="#FF0000" stroke-width="1.76" stroke-linecap="round" fill="none"/>
<path d="M353.0 236.5h0M458.2 244.5h0M364.8 220.0h0" stroke="#0000FF" stroke-width="1.76" stroke-linecap="round" fill="none"/>
<path d="M352.7 239.4h0M374.6 204.3h0M345.0 266.5h0" stroke="#FF0000" stroke-width="1.76" stroke-linecap="round" fill="none"/>
<path d="M365.0 225.4h0M366.9 241.3h0" stroke="#0000FF" stroke-width="1.76" stroke-linecap="round" fill="none"/>
<path d="M377.0 237.9h0M352.6 247.2h0" stroke="#FF0000" stroke-width="1.76" stroke-linecap="round" fill="none"/>
<path d="M376.1 207.1h0" stroke="#0000FF" stroke-width="1.76" stroke-linecap="round" fill="none"/>
<path d="M368.9 210.8h0M348.7 233.3h0M354.9 236.3h0M360.9 223.5h0M350.6 250.5h0M370.6 215.4h0M350.8 239.7h0M356.6 231.7h0M360.6 217.2h0M352.6 246.1h0M361.0 223.3h0M364.8 244.4h0M366.8 247.4h0" stroke="#FF0000" stroke-width="1.76" stroke-linecap="round" fill="none"/>
<path d="M363.0 242.9h0" stroke="#0000FF" stroke-width="1.76" stroke-linecap="round" fill="none"/>
<path d="M350.9 244.6h0M376.9 252.6h0" stroke="#FF0000" stroke-width="1.76" stroke-linecap="round" fill="none"/>
<path d="M385.0 217.4h0M360.8 218.8h0" stroke="#0000FF" stroke-width="1.76" stroke-linecap="round" fill="none"/>
<path d="M371.0 263.8h0" stroke="#FF0000" stroke-width="1.76" stroke-linecap="round" fill="none"/>
<path d="M401.0 217.3h0M372.7 209.3h0" stroke="#0000FF" stroke-width="1.76" stroke-linecap="round" fill="none"/>
<path d="M370.5 246.1h0" stroke="#FF0000" stroke-width="1.76" stroke-linecap="round" fill="none"/>
<path d="M322.3 233.7h0" stroke="#0000FF" stroke-width="1.76" stroke-linecap="round" fill="none"/>
<path d="M366.5 229.5h0M356.8 204.4h0M366.9 229.9h0" stroke="#FF0000" stroke-width="1.76" stroke-linecap="round" fill="none"/>
<path d="M358.7 230.0h0" stroke="#0000FF" stroke-width="1.76" stroke-linecap="round" fill="none"/>
<path d="M370.7 228.6h0M348.9 249.0h0M365.0 214.1h0M355.0 223.8h0" stroke="#FF0000" stroke-width="1.76" stroke-linecap="round" fill="none"/>
<path d="M402.1 242.3h0M400.0 212.7h0" stroke="#0000FF" stroke-width="1.76" stroke-linecap="round" fill="none"/>
<path d="M351.0 257.3h0M358.9 225.2h0" stroke="#FF0000" stroke-width="1.76" stroke-linecap="round" fill="none"/>
<path d="M364.9 246.1h0" stroke="#0000FF" stroke-width="1.76" stroke-linecap="round" fill="none"/>
<path d="M368.6 242.8h0M356.6 225.1h0" stroke="#FF0000" stroke-width="1.76" stroke-linecap="round" fill="none"/>
<path d="M352.8 238.2h0" stroke="#0000FF" stroke-width="1.76" stroke-linecap="round" fill="none"/>
<path d="M356.6 237.8h0M375.0 239.4h0M375.0 260.2h0" stroke="#FF0000" stroke-width="1.76" stroke-linecap="round" fill="none"/>
<path d="M360.9 236.1h0" stroke="#0000FF" stroke-width="1.76" stroke-linecap="round" fill="none"/>
<path d="M352.8 241.0h0M352.7 230.1h0" stroke="#FF0000" stroke-width="1.76" stroke-linecap="round" fill="none"/>
<path d="M354.9 230.0h0M378.5 254.3h0" stroke="#0000FF" stroke-width="1.76" stroke-linecap="round" fill="none"/>
<path d="M366.7 222.0h0M354.6 228.1h0M362.9 218.4h0M360.9 244.4h0M359.8 237.3h0M361.0 217.0h0M362.8 220.1h0" stroke="#FF0000" stroke-width="1.76" stroke-linecap="round" fill="none"/>
<path d="M372.0 232.6h0" stroke="#0000FF" stroke-width="1.76" stroke-linecap="round" fill="none"/>
<path d="M358.6 242.5h0" stroke="#FF0000" stroke-width="1.76" stroke-linecap="round" fill="none"/>
<path d="M359.0 239.8h0" stroke="#0000FF" stroke-width="1.76" stroke-linecap="round" fill="none"/>
<path d="M379.0 215.3h0M350.7 248.9h0" stroke="#FF0000" stroke-width="1.76" stroke-linecap="round" fill="none"/>
<path d="M364.9 212.1h0" stroke="#0000FF" stroke-width="1.76" stroke-linecap="round" fill="none"/>
<path d="M360.7 252.0h0M360.9 231.7h0" stroke="#FF0000" stroke-width="1.76" stroke-linecap="round" fill="none"/>
<path d="M371.2 225.1h0" stroke="#0000FF" stroke-width="1.76" stroke-linecap="round" fill="none"/>
<path d="M375.6 218.2h0M358.9 249.3h0M356.9 249.3h0M356.8 229.9h0M352.6 226.5h0M356.7 252.5h0M351.7 242.7h0M404.7 233.9h0" stroke="#FF0000" stroke-width="1.76" stroke-linecap="round" fill="none"/>
<path d="M368.9 252.6h0M363.0 230.0h0" stroke="#0000FF" stroke-width="1.76" stroke-linecap="round" fill="none"/>
<path d="M354.6 254.2h0" stroke="#FF0000" stroke-width="1.76" stroke-linecap="round" fill="none"/>
<path d="M355.0 255.5h0" stroke="#0000FF" stroke-width="1.76" stroke-linecap="round" fill="none"/>
<path d="M346.9 244.5h0M347.4 244.1h0M360.7 231.7h0M370.6 234.8h0" stroke="#FF0000" stroke-width="1.76" stroke-linecap="round" fill="none"/>
<path d="M374.6 213.9h0" stroke="#0000FF" stroke-width="1.76" stroke-linecap="round" fill="none"/>
<path d="M350.9 248.9h0M385.0 253.7h0M407.1 244.4h0M356.6 231.7h0M356.6 229.8h0" stroke="#FF0000" stroke-width="1.76" stroke-linecap="round" fill="none"/>
<path d="M404.4 244.6h0" stroke="#0000FF" stroke-width="1.76" stroke-linecap="round" fill="none"/>
<path d="M362.9 215.7h0M370.7 243.0h0M360.8 221.7h0" stroke="#FF0000" stroke-width="1.76" stroke-linecap="round" fill="none"/>
<path d="M352.9 242.7h0" stroke="#0000FF" stroke-width="1.76" stroke-linecap="round" fill="none"/>
<path d="M346.9 231.5h0M346.6 249.2h0" stroke="#FF0000" stroke-width="1.76" stroke-linecap="round" fill="none"/>
<path d="M354.7 242.7h0M364.8 239.4h0" stroke="#0000FF" stroke-width="1.76" stroke-linecap="round" fill="none"/>
<path d="M354.9 247.7h0M357.0 228.2h0M358.6 212.4h0" stroke="#FF0000" stroke-width="1.76" stroke-linecap="round" fill="none"/>
<path d="M386.8 242.4h0M366.7 236.2h0" stroke="#0000FF" stroke-width="1.76" stroke-linecap="round" fill="none"/>
<path d="M362.8 244.5h0" stroke="#FF0000" stroke-width="1.76" stroke-linecap="round" fill="none"/>
<path d="M372.6 218.4h0" stroke="#0000FF" stroke-width="1.76" stroke-linecap="round" fill="none"/>
<path d="M373.0 243.7h0" stroke="#FF0000" stroke-width="1.76" stroke-linecap="round" fill="none"/>
<path d="M438.0 229.4h0M377.3 243.5h0" stroke="#0000FF" stroke-width="1.76" stroke-linecap="round" fill="none"/>
<path d="M348.8 237.9h0M364.7 244.4h0" stroke="#FF0000" stroke-width="1.76" stroke-linecap="round" fill="none"/>
<path d="M366.9 233.4h0M367.0 217.2h0" stroke="#0000FF" stroke-width="1.76" stroke-linecap="round" fill="none"/>
<path d="M348.7 249.3h0M362.9 253.9h0" stroke="#FF0000" stroke-width="1.76" stroke-linecap="round" fill="none"/>
<path d="M362.9 236.6h0" stroke="#0000FF" stroke-width="1.76" stroke-linecap="round" fill="none"/>
<path d="M349.0 242.8h0M358.6 242.4h0M362.8 262.1h0" stroke="#FF0000" stroke-width="1.76" stroke-linecap="round" fill="none"/>
<path d="M358.6 228.3h0" stroke="#0000FF" stroke-width="1.76" stroke-linecap="round" fill="none"/>
<path d="M417.2 234.7h0M366.6 222.0h0" stroke="#FF0000" stroke-width="1.76" stroke-linecap="round" fill="none"/>
<path d="M364.8 230.0h0M357.0 242.7h0M372.7 198.0h0M374.9 249.1h0M338.3 234.8h0" stroke="#0000FF" stroke-width="1.76" stroke-linecap="round" fill="none"/>
<path d="M362.9 252.4h0M353.0 245.8h0" stroke="#FF0000" stroke-width="1.76" stroke-linecap="round" fill="none"/>
<path d="M363.0 233.2h0" stroke="#0000FF" stroke-width="1.76" stroke-linecap="round" fill="none"/>
<path d="M352.6 228.4h0" stroke="#FF0000" stroke-width="1.76" stroke-linecap="round" fill="none"/>
<path d="M352.7 242.5h0" stroke="#0000FF" stroke-width="1.76" stroke-linecap="round" fill="none"/>
<path d="M361.0 252.5h0" stroke="#FF0000" stroke-width="1.76" stroke-linecap="round" fill="none"/>
<path d="M366.6 224.8h0M360.7 221.9h0M369.2 233.2h0" stroke="#0000FF" stroke-width="1.76" stroke-linecap="round" fill="none"/>
<path d="M361.0 244.1h0M377.0 243.0h0" stroke="#FF0000" stroke-width="1.76" stroke-linecap="round" fill="none"/>
<path d="M352.7 244.4h0" stroke="#0000FF" stroke-width="1.76" stroke-linecap="round" fill="none"/>
<path d="M354.7 244.1h0M358.9 244.4h0M352.7 247.3h0M370.8 249.3h0M348.9 242.9h0M372.6 236.3h0" stroke="#FF0000" stroke-width="1.76" stroke-linecap="round" fill="none"/>
<path d="M372.8 215.6h0M353.6 235.2h0" stroke="#0000FF" stroke-width="1.76" stroke-linecap="round" fill="none"/>
<path d="M370.7 245.6h0M375.0 238.1h0M348.8 241.3h0" stroke="#FF0000" stroke-width="1.76" stroke-linecap="round" fill="none"/>
<path d="M348.8 228.0h0" stroke="#0000FF" stroke-width="1.76" stroke-linecap="round" fill="none"/>
<path d="M386.5 236.8h0M362.7 257.1h0M357.0 252.0h0" stroke="#FF0000" stroke-width="1.76" stroke-linecap="round" fill="none"/>
<path d="M358.6 250.8h0" stroke="#0000FF" stroke-width="1.76" stroke-linecap="round" fill="none"/>
<path d="M352.9 242.9h0" stroke="#FF0000" stroke-width="1.76" stroke-linecap="round" fill="none"/>
<path d="M368.7 225.2h0" stroke="#0000FF" stroke-width="1.76" stroke-linecap="round" fill="none"/>
<path d="M354.9 239.7h0M352.9 234.8h0M374.6 207.2h0M352.8 232.9h0" stroke="#FF0000" stroke-width="1.76" stroke-linecap="round" fill="none"/>
<path d="M363.0 234.7h0M378.6 236.1h0" stroke="#0000FF" stroke-width="1.76" stroke-linecap="round" fill="none"/>
<path d="M355.0 228.4h0" stroke="#FF0000" stroke-width="1.76" stroke-linecap="round" fill="none"/>
<path d="M359.0 231.2h0" stroke="#0000FF" stroke-width="1.76" stroke-linecap="round" fill="none"/>
<path d="M359.0 237.9h0M360.7 214.0h0M337.6 236.5h0M378.6 228.5h0" stroke="#FF0000" stroke-width="1.76" stroke-linecap="round" fill="none"/>
<path d="M380.6 231.2h0M347.4 221.3h0" stroke="#0000FF" stroke-width="1.76" stroke-linecap="round" fill="none"/>
<path d="M364.6 237.8h0M370.8 240.9h0M362.7 246.0h0M358.6 244.3h0" stroke="#FF0000" stroke-width="1.76" stroke-linecap="round" fill="none"/>
<path d="M357.0 233.2h0M364.8 245.8h0" stroke="#0000FF" stroke-width="1.76" stroke-linecap="round" fill="none"/>
<path d="M324.8 276.0h0" stroke="#FF0000" stroke-width="1.76" stroke-linecap="round" fill="none"/>
<path d="M362.6 231.4h0" stroke="#0000FF" stroke-width="1.76" stroke-linecap="round" fill="none"/>
<path d="M363.0 205.6h0M371.0 252.5h0M351.0 249.0h0M356.9 241.2h0M401.0 259.0h0M350.9 236.4h0" stroke="#FF0000" stroke-width="1.76" stroke-linecap="round" fill="none"/>
<path d="M364.8 223.6h0" stroke="#0000FF" stroke-width="1.76" stroke-linecap="round" fill="none"/>
<path d="M358.7 232.8h0M357.0 234.5h0" stroke="#FF0000" stroke-width="1.76" stroke-linecap="round" fill="none"/>
<path d="M362.9 247.8h0" stroke="#0000FF" stroke-width="1.76" stroke-linecap="round" fill="none"/>
<path d="M366.8 221.9h0M356.6 214.2h0M356.8 221.7h0M363.8 264.0h0M382.7 218.9h0" stroke="#FF0000" stroke-width="1.76" stroke-linecap="round" fill="none"/>
<path d="M356.7 210.8h0M358.6 215.2h0M378.7 247.5h0" stroke="#0000FF" stroke-width="1.76" stroke-linecap="round" fill="none"/>
<path d="M375.0 246.2h0M352.9 233.2h0" stroke="#FF0000" stroke-width="1.76" stroke-linecap="round" fill="none"/>
<path d="M352.6 236.3h0" stroke="#0000FF" stroke-width="1.76" stroke-linecap="round" fill="none"/>
<path d="M434.2 227.9h0" stroke="#FF0000" stroke-width="1.76" stroke-linecap="round" fill="none"/>
<path d="M359.1 230.8h0" stroke="#0000FF" stroke-width="1.76" stroke-linecap="round" fill="none"/>
<path d="M359.0 234.6h0" stroke="#FF0000" stroke-width="1.76" stroke-linecap="round" fill="none"/>
<path d="M364.8 217.0h0" stroke="#0000FF" stroke-width="1.76" stroke-linecap="round" fill="none"/>
<path d="M354.9 249.0h0" stroke="#FF0000" stroke-width="1.76" stroke-linecap="round" fill="none"/>
<path d="M361.0 245.7h0" stroke="#0000FF" stroke-width="1.76" stroke-linecap="round" fill="none"/>
<path d="M370.3 216.7h0M364.6 241.2h0M389.0 242.5h0" stroke="#FF0000" stroke-width="1.76" stroke-linecap="round" fill="none"/>
<path d="M360.7 246.0h0" stroke="#0000FF" stroke-width="1.76" stroke-linecap="round" fill="none"/>
<path d="M357.0 241.2h0" stroke="#FF0000" stroke-width="1.76" stroke-linecap="round" fill="none"/>
<path d="M376.7 247.5h0M352.9 228.5h0M356.7 246.1h0" stroke="#0000FF" stroke-width="1.76" stroke-linecap="round" fill="none"/>
<path d="M372.6 220.0h0M356.6 228.2h0M375.4 267.1h0M352.6 247.4h0M358.6 245.7h0M370.7 226.7h0M358.7 225.4h0M348.8 250.5h0M352.8 239.2h0M360.9 240.9h0" stroke="#FF0000" stroke-width="1.76" stroke-linecap="round" fill="none"/>
<path d="M444.2 226.9h0" stroke="#0000FF" stroke-width="1.76" stroke-linecap="round" fill="none"/>
<path d="M369.0 245.8h0M370.7 232.8h0" stroke="#FF0000" stroke-width="1.76" stroke-linecap="round" fill="none"/>
<path d="M380.7 241.3h0" stroke="#0000FF" stroke-width="1.76" stroke-linecap="round" fill="none"/>
<path d="M365.0 257.1h0" stroke="#FF0000" stroke-width="1.76" stroke-linecap="round" fill="none"/>
<path d="M358.8 233.2h0" stroke="#0000FF" stroke-width="1.76" stroke-linecap="round" fill="none"/>
<path d="M356.9 242.5h0M371.0 229.7h0M361.0 245.9h0" stroke="#FF0000" stroke-width="1.76" stroke-linecap="round" fill="none"/>
<path d="M367.0 231.3h0" stroke="#0000FF" stroke-width="1.76" stroke-linecap="round" fill="none"/>
<path d="M350.7 239.3h0M358.9 242.5h0M354.9 254.1h0" stroke="#FF0000" stroke-width="1.76" stroke-linecap="round" fill="none"/>
<path d="M374.8 242.1h0M432.2 229.1h0M382.8 204.4h0" stroke="#0000FF" stroke-width="1.76" stroke-linecap="round" fill="none"/>
<path d="M358.6 229.8h0M355.0 247.5h0M358.7 249.0h0" stroke="#FF0000" stroke-width="1.76" stroke-linecap="round" fill="none"/>
<path d="M368.9 230.2h0" stroke="#0000FF" stroke-width="1.76" stroke-linecap="round" fill="none"/>
<path d="M386.6 242.7h0M358.7 229.8h0M358.6 233.1h0M356.7 234.5h0M458.5 236.0h0" stroke="#FF0000" stroke-width="1.76" stroke-linecap="round" fill="none"/>
<path d="M360.9 213.9h0M369.9 223.6h0" stroke="#0000FF" stroke-width="1.76" stroke-linecap="round" fill="none"/>
<path d="M356.8 229.8h0" stroke="#FF0000" stroke-width="1.76" stroke-linecap="round" fill="none"/>
<path d="M362.9 242.4h0" stroke="#0000FF" stroke-width="1.76" stroke-linecap="round" fill="none"/>
<path d="M358.8 248.9h0M362.6 247.6h0M360.8 222.0h0M358.8 229.8h0M354.8 231.4h0" stroke="#FF0000" stroke-width="1.76" stroke-linecap="round" fill="none"/>
<path d="M366.9 236.2h0M392.9 198.0h0" stroke="#0000FF" stroke-width="1.76" stroke-linecap="round" fill="none"/>
<path d="M360.7 231.8h0M358.7 236.1h0M345.8 250.5h0M355.3 259.9h0M353.0 254.0h0M355.0 234.9h0M359.0 244.2h0M372.7 215.4h0M366.8 233.3h0M354.9 254.2h0M390.4 242.3h0" stroke="#FF0000" stroke-width="1.76" stroke-linecap="round" fill="none"/>
<path d="M370.5 242.4h0M358.6 213.6h0" stroke="#0000FF" stroke-width="1.76" stroke-linecap="round" fill="none"/>
<path d="M360.9 244.1h0M368.7 218.7h0M358.7 249.1h0M348.6 229.9h0M366.7 228.4h0M354.7 239.4h0M354.8 249.0h0M372.9 255.7h0" stroke="#FF0000" stroke-width="1.76" stroke-linecap="round" fill="none"/>
<path d="M404.6 228.1h0" stroke="#0000FF" stroke-width="1.76" stroke-linecap="round" fill="none"/>
<path d="M364.6 234.6h0M348.6 241.0h0M348.8 248.9h0M354.8 250.7h0" stroke="#FF0000" stroke-width="1.76" stroke-linecap="round" fill="none"/>
<path d="M367.6 206.4h0M368.8 225.2h0" stroke="#0000FF" stroke-width="1.76" stroke-linecap="round" fill="none"/>
<path d="M364.7 245.9h0M372.7 215.8h0M362.8 249.1h0" stroke="#FF0000" stroke-width="1.76" stroke-linecap="round" fill="none"/>
<path d="M360.6 225.0h0M367.0 226.6h0M350.7 220.6h0" stroke="#0000FF" stroke-width="1.76" stroke-linecap="round" fill="none"/>
<path d="M366.9 242.6h0M356.6 228.1h0" stroke="#FF0000" stroke-width="1.76" stroke-linecap="round" fill="none"/>
<path d="M376.8 204.5h0" stroke="#0000FF" stroke-width="1.76" stroke-linecap="round" fill="none"/>
<path d="M350.8 241.2h0M366.6 234.7h0M360.6 250.4h0M352.7 248.9h0" stroke="#FF0000" stroke-width="1.76" stroke-linecap="round" fill="none"/>
<path d="M362.6 249.4h0M372.9 228.3h0" stroke="#0000FF" stroke-width="1.76" stroke-linecap="round" fill="none"/>
<path d="M354.9 253.7h0M366.9 225.4h0" stroke="#FF0000" stroke-width="1.76" stroke-linecap="round" fill="none"/>
<path d="M365.0 217.2h0" stroke="#0000FF" stroke-width="1.76" stroke-linecap="round" fill="none"/>
<path d="M371.8 245.2h0" stroke="#FF0000" stroke-width="1.76" stroke-linecap="round" fill="none"/>
<path d="M368.7 228.5h0" stroke="#0000FF" stroke-width="1.76" stroke-linecap="round" fill="none"/>
<path d="M357.0 249.2h0M404.8 221.7h0" stroke="#FF0000" stroke-width="1.76" stroke-linecap="round" fill="none"/>
<path d="M366.8 207.3h0" stroke="#0000FF" stroke-width="1.76" stroke-linecap="round" fill="none"/>
<path d="M364.8 258.4h0" stroke="#FF0000" stroke-width="1.76" stroke-linecap="round" fill="none"/>
<path d="M365.0 225.0h0" stroke="#0000FF" stroke-width="1.76" stroke-linecap="round" fill="none"/>
<path d="M355.0 254.1h0M364.9 235.0h0M360.9 245.9h0M371.4 243.7h0M350.9 252.0h0M345.1 222.0h0M366.9 239.3h0" stroke="#FF0000" stroke-width="1.76" stroke-linecap="round" fill="none"/>
<path d="M366.6 228.6h0" stroke="#0000FF" stroke-width="1.76" stroke-linecap="round" fill="none"/>
<path d="M356.9 233.3h0" stroke="#FF0000" stroke-width="1.76" stroke-linecap="round" fill="none"/>
<path d="M356.7 242.6h0" stroke="#0000FF" stroke-width="1.76" stroke-linecap="round" fill="none"/>
<path d="M371.1 238.4h0M355.0 242.8h0M360.7 234.4h0M354.7 242.8h0" stroke="#FF0000" stroke-width="1.76" stroke-linecap="round" fill="none"/>
<path d="M360.3 230.8h0" stroke="#0000FF" stroke-width="1.76" stroke-linecap="round" fill="none"/>
<path d="M374.8 224.8h0M387.9 226.5h0M366.8 224.9h0M358.8 255.4h0M379.1 231.8h0M374.2 233.1h0M364.8 212.4h0" stroke="#FF0000" stroke-width="1.76" stroke-linecap="round" fill="none"/>
<path d="M358.6 250.8h0M366.8 226.7h0" stroke="#0000FF" stroke-width="1.76" stroke-linecap="round" fill="none"/>
<path d="M374.7 244.5h0" stroke="#FF0000" stroke-width="1.76" stroke-linecap="round" fill="none"/>
<path d="M356.7 245.9h0M374.8 222.1h0M354.7 249.2h0M390.9 218.8h0" stroke="#0000FF" stroke-width="1.76" stroke-linecap="round" fill="none"/>
<path d="M351.0 240.9h0" stroke="#FF0000" stroke-width="1.76" stroke-linecap="round" fill="none"/>
<path d="M354.6 220.1h0" stroke="#0000FF" stroke-width="1.76" stroke-linecap="round" fill="none"/>
<path d="M364.9 258.6h0" stroke="#FF0000" stroke-width="1.76" stroke-linecap="round" fill="none"/>
<path d="M360.6 221.9h0M370.6 221.7h0" stroke="#0000FF" stroke-width="1.76" stroke-linecap="round" fill="none"/>
<path d="M362.6 231.7h0M374.6 232.8h0M362.8 220.4h0M368.9 209.1h0M360.9 230.0h0M352.8 245.8h0M358.8 260.0h0" stroke="#FF0000" stroke-width="1.76" stroke-linecap="round" fill="none"/>
<path d="M348.8 242.9h0" stroke="#0000FF" stroke-width="1.76" stroke-linecap="round" fill="none"/>
<path d="M354.8 245.7h0" stroke="#FF0000" stroke-width="1.76" stroke-linecap="round" fill="none"/>
<path d="M363.0 212.4h0" stroke="#0000FF" stroke-width="1.76" stroke-linecap="round" fill="none"/>
<path d="M363.0 239.6h0" stroke="#FF0000" stroke-width="1.76" stroke-linecap="round" fill="none"/>
<path d="M371.2 227.9h0" stroke="#0000FF" stroke-width="1.76" stroke-linecap="round" fill="none"/>
<path d="M346.7 242.5h0M348.8 248.9h0M354.7 247.2h0M396.3 233.6h0" stroke="#FF0000" stroke-width="1.76" stroke-linecap="round" fill="none"/>
<path d="M364.8 254.0h0M368.8 223.3h0" stroke="#0000FF" stroke-width="1.76" stroke-linecap="round" fill="none"/>
<path d="M366.9 257.3h0M368.9 225.2h0" stroke="#FF0000" stroke-width="1.76" stroke-linecap="round" fill="none"/>
<path d="M374.2 239.7h0M351.0 236.1h0M379.0 229.7h0" stroke="#0000FF" stroke-width="1.76" stroke-linecap="round" fill="none"/>
<path d="M348.6 266.6h0M364.7 245.8h0M352.8 241.2h0M364.6 249.3h0" stroke="#FF0000" stroke-width="1.76" stroke-linecap="round" fill="none"/>
<path d="M378.7 240.3h0M364.7 216.9h0" stroke="#0000FF" stroke-width="1.76" stroke-linecap="round" fill="none"/>
<path d="M372.7 223.4h0M353.0 249.0h0M385.1 216.6h0M357.0 244.3h0" stroke="#FF0000" stroke-width="1.76" stroke-linecap="round" fill="none"/>
<path d="M372.7 229.7h0" stroke="#0000FF" stroke-width="1.76" stroke-linecap="round" fill="none"/>
<path d="M350.8 257.1h0M356.9 234.4h0" stroke="#FF0000" stroke-width="1.76" stroke-linecap="round" fill="none"/>
<path d="M352.9 242.7h0M364.8 229.8h0M372.9 215.3h0" stroke="#0000FF" stroke-width="1.76" stroke-linecap="round" fill="none"/>
<path d="M363.0 242.7h0M370.8 221.8h0" stroke="#FF0000" stroke-width="1.76" stroke-linecap="round" fill="none"/>
<path d="M360.6 224.8h0M376.8 218.9h0M388.6 226.9h0M356.7 236.5h0" stroke="#0000FF" stroke-width="1.76" stroke-linecap="round" fill="none"/>
<path d="M358.6 246.0h0M347.0 249.3h0" stroke="#FF0000" stroke-width="1.76" stroke-linecap="round" fill="none"/>
<path d="M399.6 230.9h0" stroke="#0000FF" stroke-width="1.76" stroke-linecap="round" fill="none"/>
<path d="M396.6 235.3h0M359.0 228.5h0" stroke="#FF0000" stroke-width="1.76" stroke-linecap="round" fill="none"/>
<path d="M381.0 212.4h0M381.0 242.8h0M356.6 230.0h0M403.1 229.3h0" stroke="#0000FF" stroke-width="1.76" stroke-linecap="round" fill="none"/>
<path d="M368.6 240.9h0M362.9 239.3h0" stroke="#FF0000" stroke-width="1.76" stroke-linecap="round" fill="none"/>
<path d="M362.7 233.0h0" stroke="#0000FF" stroke-width="1.76" stroke-linecap="round" fill="none"/>
<path d="M364.9 244.0h0" stroke="#FF0000" stroke-width="1.76" stroke-linecap="round" fill="none"/>
<path d="M366.8 221.8h0" stroke="#0000FF" stroke-width="1.76" stroke-linecap="round" fill="none"/>
<path d="M371.2 238.0h0M360.8 199.6h0M376.6 253.6h0M360.6 249.0h0M352.6 238.1h0M356.6 246.2h0" stroke="#FF0000" stroke-width="1.76" stroke-linecap="round" fill="none"/>
<path d="M365.0 233.2h0M354.7 218.7h0" stroke="#0000FF" stroke-width="1.76" stroke-linecap="round" fill="none"/>
<path d="M352.9 223.6h0" stroke="#FF0000" stroke-width="1.76" stroke-linecap="round" fill="none"/>
<path d="M352.9 252.0h0M362.9 212.1h0" stroke="#0000FF" stroke-width="1.76" stroke-linecap="round" fill="none"/>
<path d="M331.3 248.8h0M357.0 237.8h0M350.8 219.6h0M348.7 228.2h0M374.9 234.2h0M352.7 233.1h0" stroke="#FF0000" stroke-width="1.76" stroke-linecap="round" fill="none"/>
<path d="M365.0 244.6h0M366.6 220.2h0" stroke="#0000FF" stroke-width="1.76" stroke-linecap="round" fill="none"/>
<path d="M362.6 228.2h0" stroke="#FF0000" stroke-width="1.76" stroke-linecap="round" fill="none"/>
<path d="M372.8 249.1h0M356.7 244.5h0" stroke="#0000FF" stroke-width="1.76" stroke-linecap="round" fill="none"/>
<path d="M367.0 228.5h0" stroke="#FF0000" stroke-width="1.76" stroke-linecap="round" fill="none"/>
<path d="M364.9 221.7h0" stroke="#0000FF" stroke-width="1.76" stroke-linecap="round" fill="none"/>
<path d="M362.8 252.2h0M357.0 252.1h0M391.8 233.0h0M375.3 216.7h0M358.9 244.6h0" stroke="#FF0000" stroke-width="1.76" stroke-linecap="round" fill="none"/>
<path d="M372.7 250.6h0" stroke="#0000FF" stroke-width="1.76" stroke-linecap="round" fill="none"/>
<path d="M353.0 247.7h0M458.9 251.5h0" stroke="#FF0000" stroke-width="1.76" stroke-linecap="round" fill="none"/>
<path d="M368.8 244.1h0" stroke="#0000FF" stroke-width="1.76" stroke-linecap="round" fill="none"/>
<path d="M352.8 242.6h0M336.5 229.2h0M352.6 240.9h0M348.7 242.8h0" stroke="#FF0000" stroke-width="1.76" stroke-linecap="round" fill="none"/>
<path d="M358.6 247.3h0" stroke="#0000FF" stroke-width="1.76" stroke-linecap="round" fill="none"/>
<path d="M362.6 249.0h0M371.0 236.4h0M360.6 236.6h0M363.0 229.9h0M372.9 242.7h0" stroke="#FF0000" stroke-width="1.76" stroke-linecap="round" fill="none"/>
<path d="M360.9 242.5h0M362.7 231.5h0" stroke="#0000FF" stroke-width="1.76" stroke-linecap="round" fill="none"/>
<path d="M360.9 242.8h0M369.0 236.1h0M366.6 213.8h0M358.8 220.1h0M358.8 250.9h0M353.0 249.2h0M409.9 241.3h0" stroke="#FF0000" stroke-width="1.76" stroke-linecap="round" fill="none"/>
<path d="M364.9 220.0h0" stroke="#0000FF" stroke-width="1.76" stroke-linecap="round" fill="none"/>
<path d="M371.0 248.8h0M362.9 252.4h0" stroke="#FF0000" stroke-width="1.76" stroke-linecap="round" fill="none"/>
<path d="M380.6 228.5h0M372.5 214.2h0" stroke="#0000FF" stroke-width="1.76" stroke-linecap="round" fill="none"/>
<path d="M358.7 244.4h0M348.6 247.3h0M362.4 233.1h0" stroke="#FF0000" stroke-width="1.76" stroke-linecap="round" fill="none"/>
<path d="M372.9 227.6h0M356.8 241.2h0" stroke="#0000FF" stroke-width="1.76" stroke-linecap="round" fill="none"/>
<path d="M378.7 221.6h0" stroke="#FF0000" stroke-width="1.76" stroke-linecap="round" fill="none"/>
<path d="M389.0 250.6h0M352.7 239.5h0" stroke="#0000FF" stroke-width="1.76" stroke-linecap="round" fill="none"/>
<path d="M366.8 210.8h0M357.0 244.2h0" stroke="#FF0000" stroke-width="1.76" stroke-linecap="round" fill="none"/>
<path d="M360.9 239.2h0M356.6 226.6h0M378.6 235.7h0" stroke="#0000FF" stroke-width="1.76" stroke-linecap="round" fill="none"/>
<path d="M352.8 252.5h0M350.9 250.7h0M357.8 257.7h0M358.6 240.9h0M391.7 227.8h0M376.7 240.9h0" stroke="#FF0000" stroke-width="1.76" stroke-linecap="round" fill="none"/>
<path d="M353.0 233.0h0" stroke="#0000FF" stroke-width="1.76" stroke-linecap="round" fill="none"/>
<path d="M356.6 240.8h0M350.8 228.5h0M350.8 242.4h0" stroke="#FF0000" stroke-width="1.76" stroke-linecap="round" fill="none"/>
<path d="M409.5 230.7h0M364.8 226.9h0" stroke="#0000FF" stroke-width="1.76" stroke-linecap="round" fill="none"/>
<path d="M356.7 215.5h0" stroke="#FF0000" stroke-width="1.76" stroke-linecap="round" fill="none"/>
<path d="M370.3 223.5h0" stroke="#0000FF" stroke-width="1.76" stroke-linecap="round" fill="none"/>
<path d="M345.9 231.6h0M370.8 192.9h0" stroke="#FF0000" stroke-width="1.76" stroke-linecap="round" fill="none"/>
<path d="M396.6 194.8h0" stroke="#0000FF" stroke-width="1.76" stroke-linecap="round" fill="none"/>
<path d="M401.7 231.3h0M364.7 233.3h0M354.9 228.4h0M370.8 225.1h0" stroke="#FF0000" stroke-width="1.76" stroke-linecap="round" fill="none"/>
<path d="M356.6 242.4h0M357.8 224.6h0M334.2 261.0h0M369.0 244.0h0M326.3 204.3h0" stroke="#0000FF" stroke-width="1.76" stroke-linecap="round" fill="none"/>
<path d="M364.6 200.9h0" stroke="#FF0000" stroke-width="1.76" stroke-linecap="round" fill="none"/>
<path d="M365.0 215.5h0M364.8 233.1h0M363.0 223.3h0" stroke="#0000FF" stroke-width="1.76" stroke-linecap="round" fill="none"/>
<path d="M356.7 242.7h0" stroke="#FF0000" stroke-width="1.76" stroke-linecap="round" fill="none"/>
<path d="M370.1 228.6h0" stroke="#0000FF" stroke-width="1.76" stroke-linecap="round" fill="none"/>
<path d="M354.7 231.8h0" stroke="#FF0000" stroke-width="1.76" stroke-linecap="round" fill="none"/>
<path d="M362.8 225.0h0" stroke="#0000FF" stroke-width="1.76" stroke-linecap="round" fill="none"/>
<path d="M362.7 249.0h0M361.4 230.7h0M362.8 215.4h0" stroke="#FF0000" stroke-width="1.76" stroke-linecap="round" fill="none"/>
<path d="M383.0 247.7h0" stroke="#0000FF" stroke-width="1.76" stroke-linecap="round" fill="none"/>
<path d="M382.6 238.1h0" stroke="#FF0000" stroke-width="1.76" stroke-linecap="round" fill="none"/>
<path d="M360.6 239.2h0" stroke="#0000FF" stroke-width="1.76" stroke-linecap="round" fill="none"/>
<path d="M358.8 241.2h0M358.9 232.8h0" stroke="#FF0000" stroke-width="1.76" stroke-linecap="round" fill="none"/>
<path d="M386.8 223.4h0M377.4 231.0h0M374.8 216.9h0" stroke="#0000FF" stroke-width="1.76" stroke-linecap="round" fill="none"/>
<path d="M358.9 214.1h0M356.6 249.1h0M349.9 237.4h0" stroke="#FF0000" stroke-width="1.76" stroke-linecap="round" fill="none"/>
<path d="M354.6 238.0h0" stroke="#0000FF" stroke-width="1.76" stroke-linecap="round" fill="none"/>
<path d="M362.7 242.7h0M437.8 228.1h0" stroke="#FF0000" stroke-width="1.76" stroke-linecap="round" fill="none"/>
<path d="M350.7 241.1h0M345.8 234.9h0M366.7 225.1h0" stroke="#0000FF" stroke-width="1.76" stroke-linecap="round" fill="none"/>
<path d="M358.6 241.3h0M358.8 252.6h0M357.0 233.3h0M353.0 233.2h0M352.8 255.3h0" stroke="#FF0000" stroke-width="1.76" stroke-linecap="round" fill="none"/>
<path d="M353.3 211.9h0M371.0 212.1h0" stroke="#0000FF" stroke-width="1.76" stroke-linecap="round" fill="none"/>
<path d="M377.0 231.5h0M374.6 244.6h0" stroke="#FF0000" stroke-width="1.76" stroke-linecap="round" fill="none"/>
<path d="M358.9 238.1h0" stroke="#0000FF" stroke-width="1.76" stroke-linecap="round" fill="none"/>
<path d="M360.7 257.4h0M350.6 247.5h0M360.7 221.7h0M364.9 229.9h0M361.0 244.4h0M368.8 253.6h0" stroke="#FF0000" stroke-width="1.76" stroke-linecap="round" fill="none"/>
<path d="M352.7 237.8h0" stroke="#0000FF" stroke-width="1.76" stroke-linecap="round" fill="none"/>
<path d="M352.8 221.9h0M350.9 260.5h0M363.0 239.5h0M352.7 237.6h0M358.9 210.5h0" stroke="#FF0000" stroke-width="1.76" stroke-linecap="round" fill="none"/>
<path d="M360.7 225.7h0" stroke="#0000FF" stroke-width="1.76" stroke-linecap="round" fill="none"/>
<path d="M348.9 245.7h0" stroke="#FF0000" stroke-width="1.76" stroke-linecap="round" fill="none"/>
<path d="M379.1 236.9h0" stroke="#0000FF" stroke-width="1.76" stroke-linecap="round" fill="none"/>
<path d="M346.6 249.4h0M363.0 239.6h0M359.0 223.7h0M416.8 244.4h0M365.0 207.6h0M358.6 231.5h0M354.6 248.9h0" stroke="#FF0000" stroke-width="1.76" stroke-linecap="round" fill="none"/>
<path d="M366.6 230.0h0M444.3 259.6h0" stroke="#0000FF" stroke-width="1.76" stroke-linecap="round" fill="none"/>
<path d="M352.7 234.9h0" stroke="#FF0000" stroke-width="1.76" stroke-linecap="round" fill="none"/>
<path d="M374.7 218.6h0" stroke="#0000FF" stroke-width="1.76" stroke-linecap="round" fill="none"/>
<path d="M358.7 231.6h0" stroke="#FF0000" stroke-width="1.76" stroke-linecap="round" fill="none"/>
<path d="M388.7 225.3h0" stroke="#0000FF" stroke-width="1.76" stroke-linecap="round" fill="none"/>
<path d="M380.6 226.9h0" stroke="#FF0000" stroke-width="1.76" stroke-linecap="round" fill="none"/>
<path d="M360.9 238.2h0" stroke="#0000FF" stroke-width="1.76" stroke-linecap="round" fill="none"/>
<path d="M354.7 233.1h0M366.6 254.1h0M358.9 229.9h0M350.6 261.7h0" stroke="#FF0000" stroke-width="1.76" stroke-linecap="round" fill="none"/>
<path d="M378.9 220.6h0" stroke="#0000FF" stroke-width="1.76" stroke-linecap="round" fill="none"/>
<path d="M352.9 260.5h0M359.0 212.5h0M362.8 220.4h0M358.6 234.5h0M358.6 212.0h0" stroke="#FF0000" stroke-width="1.76" stroke-linecap="round" fill="none"/>
<path d="M362.8 261.7h0M372.6 226.6h0" stroke="#0000FF" stroke-width="1.76" stroke-linecap="round" fill="none"/>
<path d="M362.7 238.7h0M380.9 231.6h0" stroke="#FF0000" stroke-width="1.76" stroke-linecap="round" fill="none"/>
<path d="M382.6 222.1h0" stroke="#0000FF" stroke-width="1.76" stroke-linecap="round" fill="none"/>
<path d="M350.9 231.5h0M360.7 250.8h0M358.7 231.2h0M354.6 244.5h0" stroke="#FF0000" stroke-width="1.76" stroke-linecap="round" fill="none"/>
<path d="M372.7 215.6h0" stroke="#0000FF" stroke-width="1.76" stroke-linecap="round" fill="none"/>
<path d="M405.6 251.0h0M353.0 236.4h0M354.7 242.8h0" stroke="#FF0000" stroke-width="1.76" stroke-linecap="round" fill="none"/>
<path d="M365.0 247.3h0" stroke="#0000FF" stroke-width="1.76" stroke-linecap="round" fill="none"/>
<path d="M350.8 226.9h0" stroke="#FF0000" stroke-width="1.76" stroke-linecap="round" fill="none"/>
<path d="M341.8 240.1h0" stroke="#0000FF" stroke-width="1.76" stroke-linecap="round" fill="none"/>
<path d="M359.0 221.6h0M367.0 241.0h0" stroke="#FF0000" stroke-width="1.76" stroke-linecap="round" fill="none"/>
<path d="M350.3 211.6h0" stroke="#0000FF" stroke-width="1.76" stroke-linecap="round" fill="none"/>
<path d="M364.8 241.3h0M373.0 229.7h0M350.8 247.5h0M358.6 230.1h0M372.9 244.2h0" stroke="#FF0000" stroke-width="1.76" stroke-linecap="round" fill="none"/>
<path d="M360.9 239.7h0" stroke="#0000FF" stroke-width="1.76" stroke-linecap="round" fill="none"/>
<path d="M350.7 237.8h0" stroke="#FF0000" stroke-width="1.76" stroke-linecap="round" fill="none"/>
<path d="M354.9 223.4h0" stroke="#0000FF" stroke-width="1.76" stroke-linecap="round" fill="none"/>
<path d="M419.0 236.0h0" stroke="#FF0000" stroke-width="1.76" stroke-linecap="round" fill="none"/>
<path d="M374.9 214.0h0M407.1 221.4h0" stroke="#0000FF" stroke-width="1.76" stroke-linecap="round" fill="none"/>
<path d="M358.9 228.3h0" stroke="#FF0000" stroke-width="1.76" stroke-linecap="round" fill="none"/>
<path d="M412.5 225.5h0" stroke="#0000FF" stroke-width="1.76" stroke-linecap="round" fill="none"/>
<path d="M350.8 241.2h0M358.9 210.4h0M358.7 207.3h0" stroke="#FF0000" stroke-width="1.76" stroke-linecap="round" fill="none"/>
<path d="M361.0 222.1h0" stroke="#0000FF" stroke-width="1.76" stroke-linecap="round" fill="none"/>
<path d="M366.9 247.5h0M352.6 237.8h0M354.8 223.4h0M360.8 247.4h0M365.0 223.6h0" stroke="#FF0000" stroke-width="1.76" stroke-linecap="round" fill="none"/>
<path d="M381.0 233.3h0M401.1 214.3h0M358.9 229.6h0" stroke="#0000FF" stroke-width="1.76" stroke-linecap="round" fill="none"/>
<path d="M347.1 230.1h0M358.4 258.6h0" stroke="#FF0000" stroke-width="1.76" stroke-linecap="round" fill="none"/>
<path d="M363.0 239.6h0M384.8 239.3h0" stroke="#0000FF" stroke-width="1.76" stroke-linecap="round" fill="none"/>
<path d="M351.0 226.7h0M349.0 244.6h0M358.6 226.9h0" stroke="#FF0000" stroke-width="1.76" stroke-linecap="round" fill="none"/>
<path d="M363.0 220.3h0" stroke="#0000FF" stroke-width="1.76" stroke-linecap="round" fill="none"/>
<path d="M356.6 231.3h0M374.6 234.8h0M360.7 257.2h0M372.9 220.2h0" stroke="#FF0000" stroke-width="1.76" stroke-linecap="round" fill="none"/>
<path d="M391.0 220.5h0" stroke="#0000FF" stroke-width="1.76" stroke-linecap="round" fill="none"/>
<path d="M356.6 258.6h0" stroke="#FF0000" stroke-width="1.76" stroke-linecap="round" fill="none"/>
<path d="M354.7 225.0h0" stroke="#0000FF" stroke-width="1.76" stroke-linecap="round" fill="none"/>
<path d="M384.9 231.4h0" stroke="#FF0000" stroke-width="1.76" stroke-linecap="round" fill="none"/>
<path d="M364.7 234.4h0" stroke="#0000FF" stroke-width="1.76" stroke-linecap="round" fill="none"/>
<path d="M382.8 241.0h0M376.8 244.0h0M363.0 244.1h0" stroke="#FF0000" stroke-width="1.76" stroke-linecap="round" fill="none"/>
<path d="M356.8 236.3h0M355.0 224.8h0" stroke="#0000FF" stroke-width="1.76" stroke-linecap="round" fill="none"/>
<path d="M355.0 250.7h0" stroke="#FF0000" stroke-width="1.76" stroke-linecap="round" fill="none"/>
<path d="M352.7 229.8h0M358.8 234.6h0" stroke="#0000FF" stroke-width="1.76" stroke-linecap="round" fill="none"/>
<path d="M381.0 217.0h0M367.0 244.3h0M355.0 239.8h0" stroke="#FF0000" stroke-width="1.76" stroke-linecap="round" fill="none"/>
<path d="M368.7 245.6h0" stroke="#0000FF" stroke-width="1.76" stroke-linecap="round" fill="none"/>
<path d="M356.9 244.5h0M368.6 241.0h0M396.6 254.5h0M361.0 212.5h0M362.7 240.9h0M352.6 261.7h0M360.6 231.4h0" stroke="#FF0000" stroke-width="1.76" stroke-linecap="round" fill="none"/>
<path d="M371.0 225.3h0" stroke="#0000FF" stroke-width="1.76" stroke-linecap="round" fill="none"/>
<path d="M352.7 204.1h0M358.6 249.2h0M382.6 220.1h0" stroke="#FF0000" stroke-width="1.76" stroke-linecap="round" fill="none"/>
<path d="M356.2 243.2h0" stroke="#0000FF" stroke-width="1.76" stroke-linecap="round" fill="none"/>
<path d="M356.6 228.4h0M354.9 229.7h0M354.9 230.0h0M354.8 233.4h0" stroke="#FF0000" stroke-width="1.76" stroke-linecap="round" fill="none"/>
<path d="M360.7 222.0h0" stroke="#0000FF" stroke-width="1.76" stroke-linecap="round" fill="none"/>
<path d="M352.7 240.9h0M366.6 223.4h0M356.7 257.1h0" stroke="#FF0000" stroke-width="1.76" stroke-linecap="round" fill="none"/>
<path d="M370.6 228.0h0" stroke="#0000FF" stroke-width="1.76" stroke-linecap="round" fill="none"/>
<path d="M349.0 240.9h0" stroke="#FF0000" stroke-width="1.76" stroke-linecap="round" fill="none"/>
<path d="M358.8 234.7h0" stroke="#0000FF" stroke-width="1.76" stroke-linecap="round" fill="none"/>
<path d="M362.8 247.4h0M357.0 221.8h0M350.9 254.0h0M356.6 248.8h0M360.6 238.2h0M364.9 244.4h0M354.7 226.6h0M347.3 227.5h0M346.6 234.7h0" stroke="#FF0000" stroke-width="1.76" stroke-linecap="round" fill="none"/>
<path d="M362.7 244.5h0M357.0 246.0h0" stroke="#0000FF" stroke-width="1.76" stroke-linecap="round" fill="none"/>
<path d="M354.6 241.0h0" stroke="#FF0000" stroke-width="1.76" stroke-linecap="round" fill="none"/>
<path d="M358.7 246.1h0" stroke="#0000FF" stroke-width="1.76" stroke-linecap="round" fill="none"/>
<path d="M360.7 242.7h0M362.9 213.9h0" stroke="#FF0000" stroke-width="1.76" stroke-linecap="round" fill="none"/>
<path d="M360.8 232.9h0" stroke="#0000FF" stroke-width="1.76" stroke-linecap="round" fill="none"/>
<path d="M366.8 247.3h0" stroke="#FF0000" stroke-width="1.76" stroke-linecap="round" fill="none"/>
<path d="M361.0 239.4h0M360.6 244.3h0" stroke="#0000FF" stroke-width="1.76" stroke-linecap="round" fill="none"/>
<path d="M356.8 249.0h0M357.0 224.9h0M391.5 242.2h0M360.6 233.2h0M356.8 229.9h0" stroke="#FF0000" stroke-width="1.76" stroke-linecap="round" fill="none"/>
<path d="M376.6 228.1h0M362.7 217.2h0" stroke="#0000FF" stroke-width="1.76" stroke-linecap="round" fill="none"/>
<path d="M356.7 248.9h0M370.7 218.7h0M357.0 244.1h0M355.0 252.2h0M355.0 244.0h0M366.9 244.5h0M352.8 237.7h0" stroke="#FF0000" stroke-width="1.76" stroke-linecap="round" fill="none"/>
<path d="M374.7 234.9h0M362.8 212.0h0" stroke="#0000FF" stroke-width="1.76" stroke-linecap="round" fill="none"/>
<path d="M366.7 226.8h0M372.9 234.8h0" stroke="#FF0000" stroke-width="1.76" stroke-linecap="round" fill="none"/>
<path d="M404.7 215.2h0" stroke="#0000FF" stroke-width="1.76" stroke-linecap="round" fill="none"/>
<path d="M349.0 253.8h0" stroke="#FF0000" stroke-width="1.76" stroke-linecap="round" fill="none"/>
<path d="M364.8 239.3h0" stroke="#0000FF" stroke-width="1.76" stroke-linecap="round" fill="none"/>
<path d="M356.7 252.4h0M382.8 239.6h0M356.9 252.6h0" stroke="#FF0000" stroke-width="1.76" stroke-linecap="round" fill="none"/>
<path d="M366.7 228.2h0" stroke="#0000FF" stroke-width="1.76" stroke-linecap="round" fill="none"/>
<path d="M358.8 223.2h0" stroke="#FF0000" stroke-width="1.76" stroke-linecap="round" fill="none"/>
<path d="M356.6 233.2h0M369.0 223.3h0" stroke="#0000FF" stroke-width="1.76" stroke-linecap="round" fill="none"/>
<path d="M366.9 252.0h0" stroke="#FF0000" stroke-width="1.76" stroke-linecap="round" fill="none"/>
<path d="M422.1 221.1h0" stroke="#0000FF" stroke-width="1.76" stroke-linecap="round" fill="none"/>
<path d="M368.6 232.6h0M427.1 230.3h0M345.1 257.3h0" stroke="#FF0000" stroke-width="1.76" stroke-linecap="round" fill="none"/>
<path d="M365.0 242.9h0M348.6 226.9h0" stroke="#0000FF" stroke-width="1.76" stroke-linecap="round" fill="none"/>
<path d="M346.6 239.4h0M356.6 244.3h0M352.9 252.5h0M356.8 244.3h0M356.8 253.9h0M370.1 236.5h0M353.0 236.6h0" stroke="#FF0000" stroke-width="1.76" stroke-linecap="round" fill="none"/>
<path d="M356.6 237.9h0" stroke="#0000FF" stroke-width="1.76" stroke-linecap="round" fill="none"/>
<path d="M354.8 239.3h0" stroke="#FF0000" stroke-width="1.76" stroke-linecap="round" fill="none"/>
<path d="M370.7 234.6h0" stroke="#0000FF" stroke-width="1.76" stroke-linecap="round" fill="none"/>
<path d="M353.0 236.0h0" stroke="#FF0000" stroke-width="1.76" stroke-linecap="round" fill="none"/>
<path d="M362.9 252.5h0" stroke="#0000FF" stroke-width="1.76" stroke-linecap="round" fill="none"/>
<path d="M370.9 234.5h0M364.6 223.7h0M355.0 223.5h0" stroke="#FF0000" stroke-width="1.76" stroke-linecap="round" fill="none"/>
<path d="M360.9 215.6h0" stroke="#0000FF" stroke-width="1.76" stroke-linecap="round" fill="none"/>
<path d="M356.8 242.8h0M354.8 235.0h0M350.8 258.7h0M354.8 229.7h0M360.9 224.9h0" stroke="#FF0000" stroke-width="1.76" stroke-linecap="round" fill="none"/>
<path d="M366.7 233.1h0M354.6 250.7h0M364.7 247.6h0" stroke="#0000FF" stroke-width="1.76" stroke-linecap="round" fill="none"/>
<path d="M372.6 247.5h0M360.8 222.1h0M350.7 260.2h0M352.8 247.7h0" stroke="#FF0000" stroke-width="1.76" stroke-linecap="round" fill="none"/>
<path d="M379.0 215.4h0M356.6 233.3h0" stroke="#0000FF" stroke-width="1.76" stroke-linecap="round" fill="none"/>
<path d="M350.6 242.7h0M387.0 254.2h0M356.7 250.4h0M348.9 237.8h0" stroke="#FF0000" stroke-width="1.76" stroke-linecap="round" fill="none"/>
<path d="M372.6 231.3h0" stroke="#0000FF" stroke-width="1.76" stroke-linecap="round" fill="none"/>
<path d="M360.7 252.5h0M368.7 228.5h0M357.0 223.3h0M362.9 250.6h0M360.8 220.5h0M368.7 248.8h0M358.9 252.3h0M389.4 254.0h0M377.1 234.0h0" stroke="#FF0000" stroke-width="1.76" stroke-linecap="round" fill="none"/>
<path d="M420.8 227.2h0M354.6 216.9h0M369.0 194.6h0" stroke="#0000FF" stroke-width="1.76" stroke-linecap="round" fill="none"/>
<path d="M368.6 223.3h0" stroke="#FF0000" stroke-width="1.76" stroke-linecap="round" fill="none"/>
<polygon points="320.0,231.1 325.0,231.3 329.9,231.5 334.9,231.7 339.8,231.8 344.8,231.9 349.8,232.0 354.7,232.0 359.7,231.9 364.7,231.7 369.6,231.5 374.6,231.2 379.5,230.9 384.5,230.6 389.5,230.3 394.4,230.0 399.4,229.6 404.4,229.3 409.3,228.9 414.3,228.5 419.2,228.2 424.2,227.8 429.2,227.4 434.1,227.1 439.1,226.7 444.1,226.3 449.0,225.9 454.0,225.6 458.9,225.2 463.9,224.8 463.9,239.6 458.9,239.3 454.0,239.1 449.0,238.8 444.1,238.5 439.1,238.3 434.1,238.0 429.2,237.7 424.2,237.5 419.2,237.2 414.3,237.0 409.3,236.7 404.4,236.5 399.4,236.2 394.4,236.0 389.5,235.7 384.5,235.5 379.5,235.3 374.6,235.1 369.6,235.0 364.7,234.9 359.7,234.8 354.7,234.9 349.8,235.0 344.8,235.1 339.8,235.4 334.9,235.6 329.9,235.9 325.0,236.2 320.0,236.6" fill="#999999" fill-opacity="0.38"/>
<polygon points="325.0,239.7 329.3,239.5 333.6,239.2 337.8,239.0 342.1,238.7 346.4,238.4 350.7,238.0 355.0,237.7 359.2,237.2 363.5,236.7 367.8,236.2 372.1,235.7 376.4,235.1 380.6,234.5 384.9,233.9 389.2,233.3 393.5,232.7 397.7,232.1 402.0,231.5 406.3,230.9 410.6,230.3 414.9,229.6 419.1,229.0 423.4,228.4 427.7,227.8 432.0,227.2 436.3,226.6 440.5,225.9 444.8,225.3 449.1,224.7 449.1,234.1 444.8,234.3 440.5,234.5 436.3,234.7 432.0,234.9 427.7,235.1 423.4,235.3 419.1,235.6 414.9,235.8 410.6,236.0 406.3,236.2 402.0,236.4 397.7,236.6 393.5,236.9 389.2,237.1 384.9,237.3 380.6,237.5 376.4,237.8 372.1,238.0 367.8,238.3 363.5,238.6 359.2,239.0 355.0,239.4 350.7,239.8 346.4,240.3 342.1,240.8 337.8,241.4 333.6,241.9 329.3,242.5 325.0,243.1" fill="#999999" fill-opacity="0.38"/>
<line x1="320.0" y1="233.8" x2="463.9" y2="232.2" stroke="#0000FF" stroke-width="0.6"/>
<line x1="325.0" y1="241.4" x2="449.1" y2="229.4" stroke="#FF0000" stroke-width="0.6"/>
<line x1="304.6" y1="290.1" x2="304.6" y2="291.6" stroke="#555" stroke-width="0.5"/>
<text x="304.6" y="297.9" font-size="4.8" fill="#5a5a5a" text-anchor="middle">0.5</text>
<line x1="350.8" y1="290.1" x2="350.8" y2="291.6" stroke="#555" stroke-width="0.5"/>
<text x="350.8" y="297.9" font-size="4.8" fill="#5a5a5a" text-anchor="middle">0.7</text>
<line x1="397.0" y1="290.1" x2="397.0" y2="291.6" stroke="#555" stroke-width="0.5"/>
<text x="397.0" y="297.9" font-size="4.8" fill="#5a5a5a" text-anchor="middle">0.9</text>
<line x1="443.2" y1="290.1" x2="443.2" y2="291.6" stroke="#555" stroke-width="0.5"/>
<text x="443.2" y="297.9" font-size="4.8" fill="#5a5a5a" text-anchor="middle">1.1</text>
<line x1="294.2" y1="196.3" x2="295.7" y2="196.3" stroke="#555" stroke-width="0.5"/>
<text x="292.9" y="198.0" font-size="4.8" fill="#5a5a5a" text-anchor="end">2.1</text>
<line x1="294.2" y1="215.1" x2="295.7" y2="215.1" stroke="#555" stroke-width="0.5"/>
<text x="292.9" y="216.8" font-size="4.8" fill="#5a5a5a" text-anchor="end">2.0</text>
<line x1="294.2" y1="233.9" x2="295.7" y2="233.9" stroke="#555" stroke-width="0.5"/>
<text x="292.9" y="235.6" font-size="4.8" fill="#5a5a5a" text-anchor="end">1.9</text>
<line x1="294.2" y1="252.7" x2="295.7" y2="252.7" stroke="#555" stroke-width="0.5"/>
<text x="292.9" y="254.4" font-size="4.8" fill="#5a5a5a" text-anchor="end">1.8</text>
<line x1="294.2" y1="271.5" x2="295.7" y2="271.5" stroke="#555" stroke-width="0.5"/>
<text x="292.9" y="273.2" font-size="4.8" fill="#5a5a5a" text-anchor="end">1.7</text>
<line x1="294.2" y1="290.3" x2="295.7" y2="290.3" stroke="#555" stroke-width="0.5"/>
<text x="292.9" y="292.0" font-size="4.8" fill="#5a5a5a" text-anchor="end">1.6</text>
<text transform="translate(28.5,72.4) rotate(-90)" x="0" y="0" text-anchor="middle" font-size="8.6" fill="#1a1a1a" textLength="90.2" lengthAdjust="spacingAndGlyphs">Log<tspan font-size="0.72em" dy="1">10</tspan><tspan dy="-1">(systolic Pressure)</tspan></text>
<text transform="translate(278.6,71.3) rotate(-90)" x="0" y="0" text-anchor="middle" font-size="8.6" fill="#1a1a1a" textLength="90.7" lengthAdjust="spacingAndGlyphs">Log<tspan font-size="0.72em" dy="1">10</tspan><tspan dy="-1">(systolic Pressure)</tspan></text>
<text transform="translate(27.9,240.9) rotate(-90)" x="0" y="0" text-anchor="middle" font-size="8.6" fill="#1a1a1a" textLength="94.1" lengthAdjust="spacingAndGlyphs">Log<tspan font-size="0.72em" dy="1">10</tspan><tspan dy="-1">(diastolic Pressure)</tspan></text>
<text transform="translate(279.6,235.1) rotate(-90)" x="0" y="0" text-anchor="middle" font-size="8.6" fill="#1a1a1a" textLength="94.5" lengthAdjust="spacingAndGlyphs">Log<tspan font-size="0.72em" dy="1">10</tspan><tspan dy="-1">(diastolic Pressure)</tspan></text>
<text x="117.9" y="149.0" font-size="8.6" fill="#1a1a1a" textLength="40.7" lengthAdjust="spacingAndGlyphs">Log<tspan font-size="0.72em" dy="1">10</tspan><tspan dy="-1">(FPG)</tspan></text>
<text x="364.1" y="146.9" font-size="8.6" fill="#1a1a1a" textLength="51.3" lengthAdjust="spacingAndGlyphs">Log<tspan font-size="0.72em" dy="1">10</tspan><tspan dy="-1">(HbA1c)</tspan></text>
<text x="118.5" y="316.6" font-size="8.6" fill="#1a1a1a" textLength="41.1" lengthAdjust="spacingAndGlyphs">Log<tspan font-size="0.72em" dy="1">10</tspan><tspan dy="-1">(FPG)</tspan></text>
<text x="364.2" y="312.0" font-size="8.6" fill="#1a1a1a" textLength="51.8" lengthAdjust="spacingAndGlyphs">Log<tspan font-size="0.72em" dy="1">10</tspan><tspan dy="-1">(HbA1c)</tspan></text>
<text x="126.8" y="117.4" font-size="7.8" fill="#1F6FC0" stroke="#1F6FC0" stroke-width="0.08" textLength="124.5" lengthAdjust="spacingAndGlyphs">Male: ρ=0.25(***), B=0.008±0.004(*)</text>
<text x="117.9" y="128.4" font-size="7.8" fill="#F01818" stroke="#F01818" stroke-width="0.08" textLength="139.7" lengthAdjust="spacingAndGlyphs">Female: ρ=0.34(***), B=0.015±0.002(***)</text>
<text x="388.0" y="112.0" font-size="7.3" fill="#1F6FC0" stroke="#1F6FC0" stroke-width="0.08" textLength="129.8" lengthAdjust="spacingAndGlyphs">Male: ρ=0.12(***), B=0.003±0.002(ns)</text>
<text x="379.8" y="123.4" font-size="7.3" fill="#F01818" stroke="#F01818" stroke-width="0.08" textLength="139.7" lengthAdjust="spacingAndGlyphs">Female: ρ=0.29(***), B=0.010±0.001(***)</text>
<text x="126.3" y="284.0" font-size="7.4" fill="#1F6FC0" stroke="#1F6FC0" stroke-width="0.08" textLength="128.6" lengthAdjust="spacingAndGlyphs">Male: ρ=0.05(ns), B=0.009±0.006(ns)</text>
<text x="122.3" y="295.3" font-size="7.4" fill="#F01818" stroke="#F01818" stroke-width="0.08" textLength="139.7" lengthAdjust="spacingAndGlyphs">Female: ρ=0.22(***), B=0.016±0.003(***)</text>
<text x="390.9" y="279.7" font-size="7.3" fill="#1F6FC0" stroke="#1F6FC0" stroke-width="0.08" textLength="125.5" lengthAdjust="spacingAndGlyphs">Male: ρ=0.2(***), B=0.000±0.004(ns)</text>
<text x="383.5" y="289.7" font-size="7.3" fill="#F01818" stroke="#F01818" stroke-width="0.08" textLength="136.7" lengthAdjust="spacingAndGlyphs">Female: ρ=0.12(***), B=0.007±0.002(**)</text>
<rect x="571.2" y="11.2" width="112.4" height="112.3" fill="none" stroke="#707070" stroke-width="0.7"/>
<line x1="575.4" y1="119.3" x2="679.9" y2="14.7" stroke="#c8c8c8" stroke-width="0.7"/>
<line x1="575.4" y1="123.5" x2="575.4" y2="126.3" stroke="#6b6b6b" stroke-width="0.7"/>
<text x="575.4" y="135.6" font-size="5.6" fill="#333" text-anchor="middle">0.0</text>
<line x1="568.4" y1="119.3" x2="571.2" y2="119.3" stroke="#6b6b6b" stroke-width="0.7"/>
<text transform="translate(563.6,119.3) rotate(-90)" font-size="5.6" fill="#333" text-anchor="middle">0.0</text>
<line x1="596.3" y1="123.5" x2="596.3" y2="126.3" stroke="#6b6b6b" stroke-width="0.7"/>
<text x="596.3" y="135.6" font-size="5.6" fill="#333" text-anchor="middle">0.2</text>
<line x1="568.4" y1="98.4" x2="571.2" y2="98.4" stroke="#6b6b6b" stroke-width="0.7"/>
<text transform="translate(563.6,98.4) rotate(-90)" font-size="5.6" fill="#333" text-anchor="middle">0.2</text>
<line x1="617.2" y1="123.5" x2="617.2" y2="126.3" stroke="#6b6b6b" stroke-width="0.7"/>
<text x="617.2" y="135.6" font-size="5.6" fill="#333" text-anchor="middle">0.4</text>
<line x1="568.4" y1="77.5" x2="571.2" y2="77.5" stroke="#6b6b6b" stroke-width="0.7"/>
<text transform="translate(563.6,77.5) rotate(-90)" font-size="5.6" fill="#333" text-anchor="middle">0.4</text>
<line x1="638.1" y1="123.5" x2="638.1" y2="126.3" stroke="#6b6b6b" stroke-width="0.7"/>
<text x="638.1" y="135.6" font-size="5.6" fill="#333" text-anchor="middle">0.6</text>
<line x1="568.4" y1="56.5" x2="571.2" y2="56.5" stroke="#6b6b6b" stroke-width="0.7"/>
<text transform="translate(563.6,56.5) rotate(-90)" font-size="5.6" fill="#333" text-anchor="middle">0.6</text>
<line x1="659.0" y1="123.5" x2="659.0" y2="126.3" stroke="#6b6b6b" stroke-width="0.7"/>
<text x="659.0" y="135.6" font-size="5.6" fill="#333" text-anchor="middle">0.8</text>
<line x1="568.4" y1="35.6" x2="571.2" y2="35.6" stroke="#6b6b6b" stroke-width="0.7"/>
<text transform="translate(563.6,35.6) rotate(-90)" font-size="5.6" fill="#333" text-anchor="middle">0.8</text>
<line x1="679.9" y1="123.5" x2="679.9" y2="126.3" stroke="#6b6b6b" stroke-width="0.7"/>
<text x="679.9" y="135.6" font-size="5.6" fill="#333" text-anchor="middle">1.0</text>
<line x1="568.4" y1="14.7" x2="571.2" y2="14.7" stroke="#6b6b6b" stroke-width="0.7"/>
<text transform="translate(563.6,14.7) rotate(-90)" font-size="5.6" fill="#333" text-anchor="middle">1.0</text>
<polyline points="575.4,119.3 577.5,112.0 578.6,108.9 580.5,106.1 582.3,105.2 584.2,105.2 584.7,103.3 586.6,102.3 588.0,101.4 588.9,99.5 590.3,98.1 590.8,96.7 591.2,92.9 592.3,92.4 593.3,90.8 594.4,88.7 595.5,87.1 597.1,84.4 597.6,82.8 598.7,81.2 600.3,79.6 601.3,78.0 602.4,74.8 602.9,71.6 604.0,70.0 606.7,67.9 609.3,66.3 612.0,64.1 614.7,62.7 617.5,56.3 620.4,54.2 623.9,51.5 627.8,51.5 632.5,49.2 637.2,44.5 641.1,43.7 646.6,42.1 649.8,38.2 652.9,33.5 656.8,31.1 661.5,31.1 664.6,27.2 667.0,25.7 671.7,24.9 674.0,24.1 675.6,20.2 677.2,17.0 679.9,14.7" fill="none" stroke="#1a1a1a" stroke-width="0.95" stroke-linejoin="round"/>
<polyline points="575.4,119.3 576.7,113.6 578.6,108.0 580.9,103.3 583.3,99.5 585.2,96.7 587.0,92.9 588.0,90.8 589.6,87.6 591.2,86.0 592.8,83.3 594.9,80.7 596.5,76.9 598.1,73.7 600.3,72.1 602.4,70.5 604.0,68.4 605.6,66.3 607.7,63.1 609.3,62.0 611.9,61.7 614.7,57.7 616.8,53.5 619.2,49.2 622.5,47.6 624.2,46.0 626.9,42.7 630.2,39.9 633.5,37.7 636.2,35.0 638.8,31.1 643.5,28.8 648.2,26.4 653.7,23.3 659.2,22.8 663.1,21.3 667.0,20.6 670.9,19.4 674.0,17.0 679.9,14.7" fill="none" stroke="#FF0000" stroke-width="0.95" stroke-linejoin="round"/>
<text x="573.3" y="21.8" font-size="8.7" fill="#1a1a1a" textLength="58.7" lengthAdjust="spacingAndGlyphs">Systolic Pressure</text>
<text x="664.9" y="97.8" font-size="8.6" fill="#1a1a1a" textLength="15.0" lengthAdjust="spacingAndGlyphs">AUC</text>
<text x="609.4" y="107.9" font-size="8.6" fill="#1a1a1a" textLength="70.1" lengthAdjust="spacingAndGlyphs">Male 0.59±0.03(**)</text>
<text x="596.9" y="118.3" font-size="8.6" fill="#FF0000" textLength="82.6" lengthAdjust="spacingAndGlyphs">Female 0.66±0.03(***)</text>
<text transform="translate(550.4,76.0) rotate(-90)" text-anchor="middle" font-size="8.8" fill="#1a1a1a" textLength="52.1" lengthAdjust="spacingAndGlyphs">True Positive</text>
<text x="605.5" y="149.5" font-size="8.8" fill="#1a1a1a" textLength="52.3" lengthAdjust="spacingAndGlyphs">False Positive</text>
<rect x="573.7" y="176.3" width="109.9" height="110.4" fill="none" stroke="#707070" stroke-width="0.7"/>
<line x1="577.8" y1="282.6" x2="679.6" y2="180.3" stroke="#c8c8c8" stroke-width="0.7"/>
<line x1="577.8" y1="286.7" x2="577.8" y2="289.5" stroke="#6b6b6b" stroke-width="0.7"/>
<text x="577.8" y="298.8" font-size="5.6" fill="#333" text-anchor="middle">0.0</text>
<line x1="570.9" y1="282.6" x2="573.7" y2="282.6" stroke="#6b6b6b" stroke-width="0.7"/>
<text transform="translate(566.1,282.6) rotate(-90)" font-size="5.6" fill="#333" text-anchor="middle">0.0</text>
<line x1="598.2" y1="286.7" x2="598.2" y2="289.5" stroke="#6b6b6b" stroke-width="0.7"/>
<text x="598.2" y="298.8" font-size="5.6" fill="#333" text-anchor="middle">0.2</text>
<line x1="570.9" y1="262.1" x2="573.7" y2="262.1" stroke="#6b6b6b" stroke-width="0.7"/>
<text transform="translate(566.1,262.1) rotate(-90)" font-size="5.6" fill="#333" text-anchor="middle">0.2</text>
<line x1="618.5" y1="286.7" x2="618.5" y2="289.5" stroke="#6b6b6b" stroke-width="0.7"/>
<text x="618.5" y="298.8" font-size="5.6" fill="#333" text-anchor="middle">0.4</text>
<line x1="570.9" y1="241.7" x2="573.7" y2="241.7" stroke="#6b6b6b" stroke-width="0.7"/>
<text transform="translate(566.1,241.7) rotate(-90)" font-size="5.6" fill="#333" text-anchor="middle">0.4</text>
<line x1="638.9" y1="286.7" x2="638.9" y2="289.5" stroke="#6b6b6b" stroke-width="0.7"/>
<text x="638.9" y="298.8" font-size="5.6" fill="#333" text-anchor="middle">0.6</text>
<line x1="570.9" y1="221.2" x2="573.7" y2="221.2" stroke="#6b6b6b" stroke-width="0.7"/>
<text transform="translate(566.1,221.2) rotate(-90)" font-size="5.6" fill="#333" text-anchor="middle">0.6</text>
<line x1="659.2" y1="286.7" x2="659.2" y2="289.5" stroke="#6b6b6b" stroke-width="0.7"/>
<text x="659.2" y="298.8" font-size="5.6" fill="#333" text-anchor="middle">0.8</text>
<line x1="570.9" y1="200.8" x2="573.7" y2="200.8" stroke="#6b6b6b" stroke-width="0.7"/>
<text transform="translate(566.1,200.8) rotate(-90)" font-size="5.6" fill="#333" text-anchor="middle">0.8</text>
<line x1="679.6" y1="286.7" x2="679.6" y2="289.5" stroke="#6b6b6b" stroke-width="0.7"/>
<text x="679.6" y="298.8" font-size="5.6" fill="#333" text-anchor="middle">1.0</text>
<line x1="570.9" y1="180.3" x2="573.7" y2="180.3" stroke="#6b6b6b" stroke-width="0.7"/>
<text transform="translate(566.1,180.3) rotate(-90)" font-size="5.6" fill="#333" text-anchor="middle">1.0</text>
<polyline points="577.8,282.6 579.7,281.4 581.3,280.6 582.1,278.2 583.8,273.3 585.4,270.0 588.7,266.8 591.9,264.3 594.4,261.1 596.8,257.8 599.2,256.2 600.9,252.9 604.1,251.3 606.6,248.0 609.0,244.0 611.3,240.5 616.0,236.5 619.9,231.0 623.8,227.9 627.7,224.8 632.4,223.2 634.8,219.3 637.9,214.6 641.8,213.8 645.0,210.7 648.1,208.3 650.5,206.0 652.8,203.6 656.2,201.7 659.0,199.6 662.6,198.2 666.1,195.4 669.6,194.7 671.0,191.2 672.7,186.2 675.3,184.1 677.4,183.4 678.1,182.0 679.6,180.3" fill="none" stroke="#1a1a1a" stroke-width="0.95" stroke-linejoin="round"/>
<polyline points="577.8,282.6 578.1,278.2 579.7,277.7 581.3,274.9 581.8,272.5 583.8,269.2 586.2,265.9 589.5,263.5 591.9,261.1 594.4,257.0 596.8,252.1 599.2,250.5 600.9,247.2 604.1,245.6 607.4,240.5 611.3,235.0 614.4,227.9 616.8,224.0 619.9,220.1 623.8,218.5 628.5,214.6 633.2,210.7 638.7,206.8 644.9,205.3 649.9,202.4 653.4,198.2 656.9,194.7 661.2,191.9 664.7,189.7 666.8,186.9 668.9,186.2 671.7,185.5 674.6,183.4 677.4,182.0 679.6,180.3" fill="none" stroke="#FF0000" stroke-width="0.95" stroke-linejoin="round"/>
<text x="578.8" y="190.0" font-size="8.7" fill="#1a1a1a" textLength="61.9" lengthAdjust="spacingAndGlyphs">Diastolic Pressure</text>
<text x="665.0" y="257.8" font-size="8.6" fill="#1a1a1a" textLength="15.0" lengthAdjust="spacingAndGlyphs">AUC</text>
<text x="609.5" y="268.0" font-size="8.6" fill="#1a1a1a" textLength="70.5" lengthAdjust="spacingAndGlyphs">Male 0.54±0.03(ns)</text>
<text x="594.7" y="278.9" font-size="8.6" fill="#FF0000" textLength="85.3" lengthAdjust="spacingAndGlyphs">Female: 0.60±0.03(***)</text>
<text transform="translate(550.8,240.2) rotate(-90)" text-anchor="middle" font-size="8.8" fill="#1a1a1a" textLength="50.5" lengthAdjust="spacingAndGlyphs">True Positive</text>
<text x="605.8" y="313.5" font-size="8.8" fill="#1a1a1a" textLength="52.0" lengthAdjust="spacingAndGlyphs">False Positive</text>
<line x1="285.2" y1="250.2" x2="285.2" y2="253" stroke="#7FA8E0" stroke-width="0.6"/>
<line x1="285.2" y1="261" x2="285.2" y2="263" stroke="#9DBCE8" stroke-width="0.6"/>
</svg>
</body></html>
